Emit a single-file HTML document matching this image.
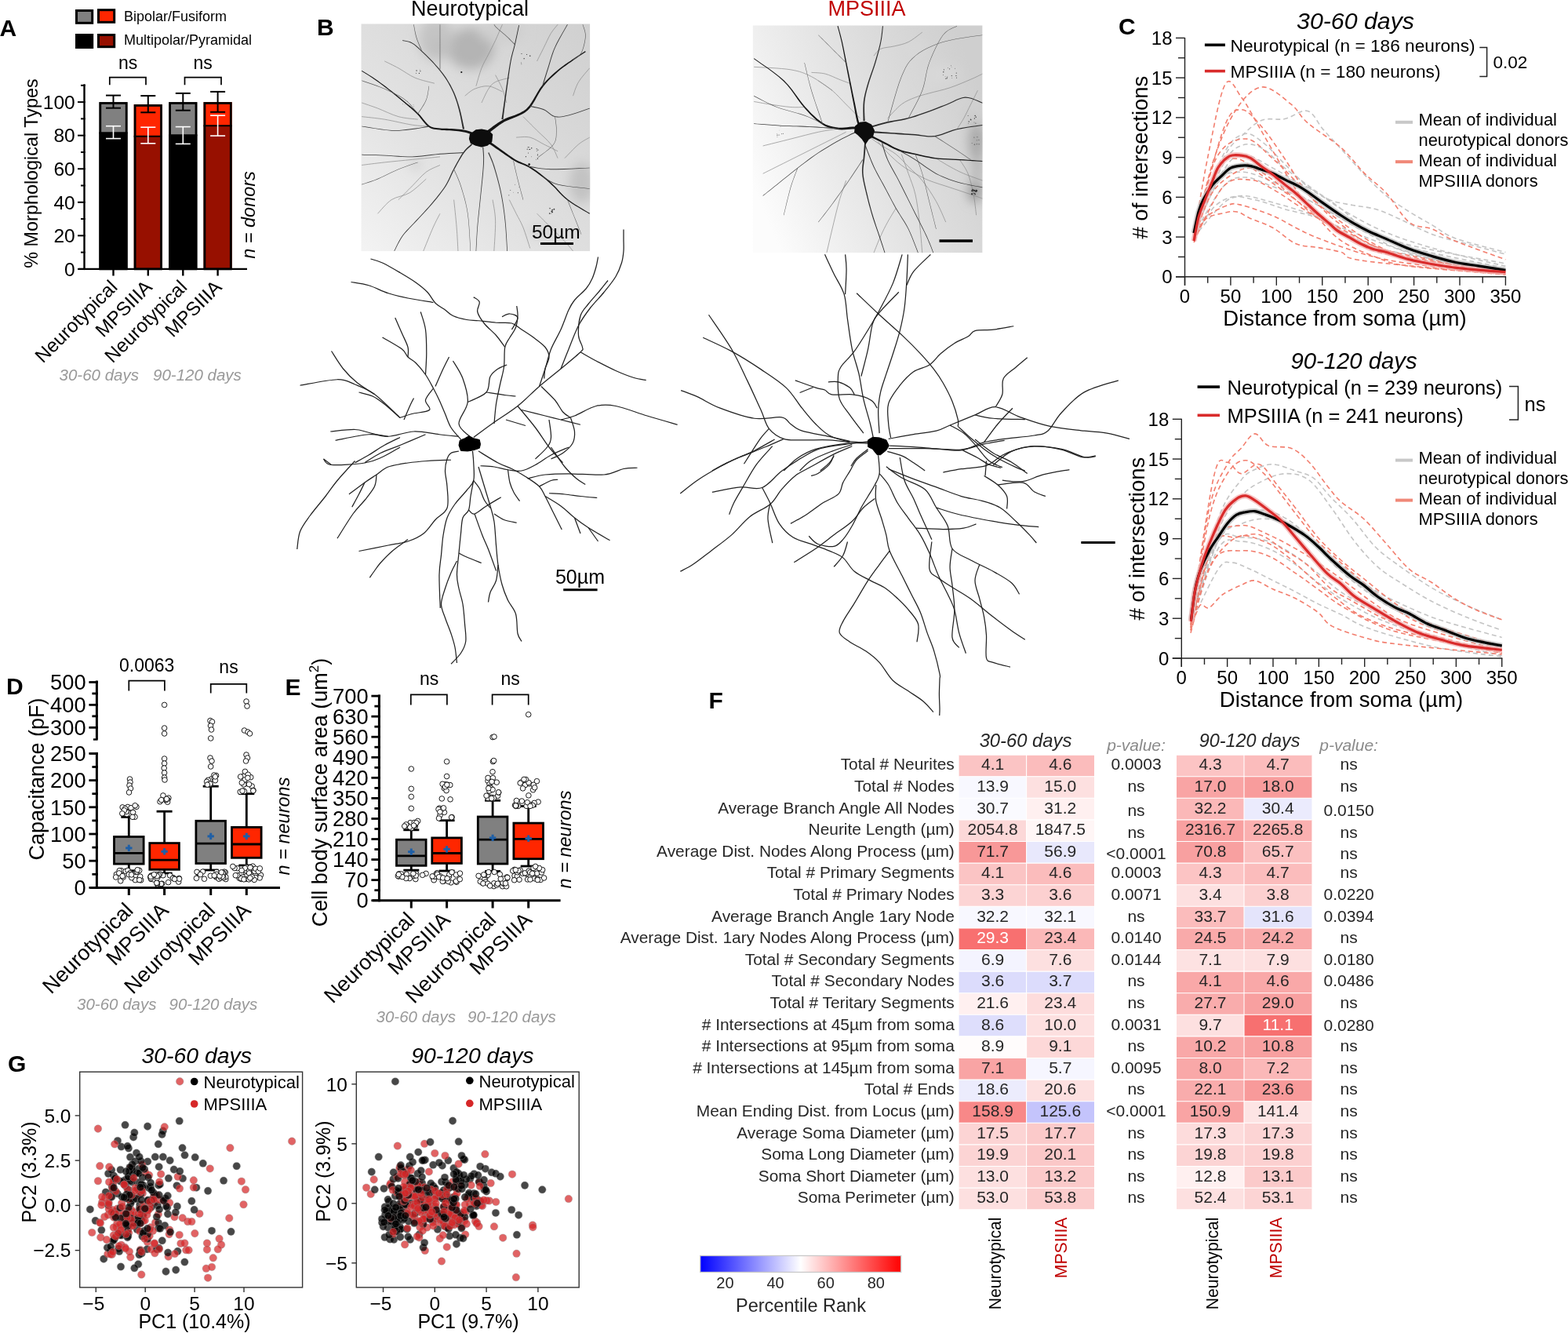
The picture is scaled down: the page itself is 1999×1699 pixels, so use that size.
<!DOCTYPE html>
<html><head><meta charset="utf-8"><title>Figure</title>
<style>html,body{margin:0;padding:0;background:#fff;} svg{display:block;} text{font-family:'Liberation Sans', Arial, Helvetica, sans-serif;}</style>
</head><body>
<svg width="1999" height="1699" viewBox="0 0 1999 1699">
<rect width="1999" height="1699" fill="#fff"/>
<text x="-0.5" y="46" font-size="30" font-weight="bold">A</text>
<rect x="97.5" y="13.5" width="20.2" height="15.8" fill="#808080" stroke="#000" stroke-width="3"/>
<rect x="125.5" y="12.7" width="20.2" height="15.6" fill="#ff2600" stroke="#000" stroke-width="3"/>
<rect x="97.5" y="44.5" width="20.2" height="16" fill="#000" stroke="#000" stroke-width="3"/>
<rect x="125.5" y="44.5" width="20.2" height="15.2" fill="#971000" stroke="#000" stroke-width="3"/>
<text x="158" y="26.8" font-size="18">Bipolar/Fusiform</text>
<text x="158" y="57.2" font-size="18">Multipolar/Pyramidal</text>
<rect x="126.4" y="130.1" width="36.2" height="39.16" fill="#808080"/>
<rect x="126.4" y="169.26" width="36.2" height="173.64" fill="#000"/>
<rect x="127.8" y="131.5" width="33.4" height="211.4" fill="none" stroke="#000" stroke-width="2.8"/>
<line x1="126.4" y1="169.26" x2="162.6" y2="169.26" stroke="#000" stroke-width="2"/>
<line x1="144.5" y1="121.6" x2="144.5" y2="137.7" stroke="#000" stroke-width="2"/>
<line x1="135" y1="121.6" x2="154" y2="121.6" stroke="#000" stroke-width="2"/>
<line x1="135" y1="137.7" x2="154" y2="137.7" stroke="#000" stroke-width="2"/>
<line x1="144.5" y1="160.7" x2="144.5" y2="176.6" stroke="#fff" stroke-width="1.6"/>
<line x1="135" y1="160.7" x2="154" y2="160.7" stroke="#fff" stroke-width="1.6"/>
<line x1="135" y1="176.6" x2="154" y2="176.6" stroke="#fff" stroke-width="1.6"/>
<line x1="144.5" y1="342.9" x2="144.5" y2="351.5" stroke="#000" stroke-width="2.4"/>
<rect x="170.7" y="133.08" width="36.2" height="40.64" fill="#ff2600"/>
<rect x="170.7" y="173.72" width="36.2" height="169.18" fill="#971000"/>
<rect x="172.1" y="134.48" width="33.4" height="208.42" fill="none" stroke="#000" stroke-width="2.8"/>
<line x1="170.7" y1="173.72" x2="206.9" y2="173.72" stroke="#000" stroke-width="2"/>
<line x1="188.8" y1="122.1" x2="188.8" y2="143.3" stroke="#000" stroke-width="2"/>
<line x1="179.3" y1="122.1" x2="198.3" y2="122.1" stroke="#000" stroke-width="2"/>
<line x1="179.3" y1="143.3" x2="198.3" y2="143.3" stroke="#000" stroke-width="2"/>
<line x1="188.8" y1="162.2" x2="188.8" y2="182.8" stroke="#fff" stroke-width="1.6"/>
<line x1="179.3" y1="162.2" x2="198.3" y2="162.2" stroke="#fff" stroke-width="1.6"/>
<line x1="179.3" y1="182.8" x2="198.3" y2="182.8" stroke="#fff" stroke-width="1.6"/>
<line x1="188.8" y1="342.9" x2="188.8" y2="351.5" stroke="#000" stroke-width="2.4"/>
<rect x="215.2" y="130.1" width="36.2" height="42.13" fill="#808080"/>
<rect x="215.2" y="172.23" width="36.2" height="170.67" fill="#000"/>
<rect x="216.6" y="131.5" width="33.4" height="211.4" fill="none" stroke="#000" stroke-width="2.8"/>
<line x1="215.2" y1="172.23" x2="251.4" y2="172.23" stroke="#000" stroke-width="2"/>
<line x1="233.3" y1="118.9" x2="233.3" y2="140.7" stroke="#000" stroke-width="2"/>
<line x1="223.8" y1="118.9" x2="242.8" y2="118.9" stroke="#000" stroke-width="2"/>
<line x1="223.8" y1="140.7" x2="242.8" y2="140.7" stroke="#000" stroke-width="2"/>
<line x1="233.3" y1="161.6" x2="233.3" y2="183.4" stroke="#fff" stroke-width="1.6"/>
<line x1="223.8" y1="161.6" x2="242.8" y2="161.6" stroke="#fff" stroke-width="1.6"/>
<line x1="223.8" y1="183.4" x2="242.8" y2="183.4" stroke="#fff" stroke-width="1.6"/>
<line x1="233.3" y1="342.9" x2="233.3" y2="351.5" stroke="#000" stroke-width="2.4"/>
<rect x="259.5" y="130.1" width="36.2" height="30.22" fill="#ff2600"/>
<rect x="259.5" y="160.32" width="36.2" height="182.58" fill="#971000"/>
<rect x="260.9" y="131.5" width="33.4" height="211.4" fill="none" stroke="#000" stroke-width="2.8"/>
<line x1="259.5" y1="160.32" x2="295.7" y2="160.32" stroke="#000" stroke-width="2"/>
<line x1="277.6" y1="116.9" x2="277.6" y2="142.8" stroke="#000" stroke-width="2"/>
<line x1="268.1" y1="116.9" x2="287.1" y2="116.9" stroke="#000" stroke-width="2"/>
<line x1="268.1" y1="142.8" x2="287.1" y2="142.8" stroke="#000" stroke-width="2"/>
<line x1="277.6" y1="147.2" x2="277.6" y2="173.1" stroke="#fff" stroke-width="1.6"/>
<line x1="268.1" y1="147.2" x2="287.1" y2="147.2" stroke="#fff" stroke-width="1.6"/>
<line x1="268.1" y1="173.1" x2="287.1" y2="173.1" stroke="#fff" stroke-width="1.6"/>
<line x1="277.6" y1="342.9" x2="277.6" y2="351.5" stroke="#000" stroke-width="2.4"/>
<line x1="107.5" y1="107.3" x2="107.5" y2="344.1" stroke="#000" stroke-width="2.4"/>
<line x1="100" y1="342.9" x2="315" y2="342.9" stroke="#000" stroke-width="2.4"/>
<line x1="99" y1="342.9" x2="108.7" y2="342.9" stroke="#000" stroke-width="2"/>
<text x="95.8" y="351.7" font-size="24.6" text-anchor="end">0</text>
<line x1="103" y1="321.62" x2="108.7" y2="321.62" stroke="#000" stroke-width="2"/>
<line x1="99" y1="300.34" x2="108.7" y2="300.34" stroke="#000" stroke-width="2"/>
<text x="95.8" y="309.14" font-size="24.6" text-anchor="end">20</text>
<line x1="103" y1="279.06" x2="108.7" y2="279.06" stroke="#000" stroke-width="2"/>
<line x1="99" y1="257.78" x2="108.7" y2="257.78" stroke="#000" stroke-width="2"/>
<text x="95.8" y="266.58" font-size="24.6" text-anchor="end">40</text>
<line x1="103" y1="236.5" x2="108.7" y2="236.5" stroke="#000" stroke-width="2"/>
<line x1="99" y1="215.22" x2="108.7" y2="215.22" stroke="#000" stroke-width="2"/>
<text x="95.8" y="224.02" font-size="24.6" text-anchor="end">60</text>
<line x1="103" y1="193.94" x2="108.7" y2="193.94" stroke="#000" stroke-width="2"/>
<line x1="99" y1="172.66" x2="108.7" y2="172.66" stroke="#000" stroke-width="2"/>
<text x="95.8" y="181.46" font-size="24.6" text-anchor="end">80</text>
<line x1="103" y1="151.38" x2="108.7" y2="151.38" stroke="#000" stroke-width="2"/>
<line x1="99" y1="130.1" x2="108.7" y2="130.1" stroke="#000" stroke-width="2"/>
<text x="95.8" y="138.9" font-size="24.6" text-anchor="end">100</text>
<line x1="103" y1="108.82" x2="108.7" y2="108.82" stroke="#000" stroke-width="2"/>
<polyline points="139.8,108.3 139.8,98.6 186,98.6 186,108.3" fill="none" stroke="#000" stroke-width="1.7"/>
<text x="163.1" y="88" font-size="23" text-anchor="middle">ns</text>
<polyline points="235.5,108.3 235.5,98.6 282,98.6 282,108.3" fill="none" stroke="#000" stroke-width="1.7"/>
<text x="258.6" y="88" font-size="23" text-anchor="middle">ns</text>
<text x="47.5" y="221" font-size="23.4" text-anchor="middle" transform="rotate(-90 47.5 221)">% Morphological Types</text>
<text x="324.8" y="274" font-size="23.5" text-anchor="middle" font-style="italic" transform="rotate(-90 324.8 274)">n = donors</text>
<text x="151" y="367.5" font-size="24.5" text-anchor="end" transform="rotate(-45 151 367.5)">Neurotypical</text>
<text x="195.3" y="367.5" font-size="24.5" text-anchor="end" transform="rotate(-45 195.3 367.5)">MPSIIIA</text>
<text x="239.8" y="367.5" font-size="24.5" text-anchor="end" transform="rotate(-45 239.8 367.5)">Neurotypical</text>
<text x="284.1" y="367.5" font-size="24.5" text-anchor="end" transform="rotate(-45 284.1 367.5)">MPSIIIA</text>
<text x="75.5" y="484.6" font-size="20.5" font-style="italic" fill="#999">30-60 days</text>
<text x="195" y="484.6" font-size="20.5" font-style="italic" fill="#999">90-120 days</text>
<text x="404" y="44.5" font-size="30" font-weight="bold">B</text>
<text x="599.1" y="20" font-size="27" text-anchor="middle">Neurotypical</text>
<text x="1105" y="19.5" font-size="27" text-anchor="middle" fill="#c00000">MPSIIIA</text>
<defs><clipPath id="ntc"><rect x="460.3" y="30.3" width="292" height="290"/></clipPath><linearGradient id="ntg" x1="0" y1="1" x2="1" y2="0"><stop offset="0" stop-color="#f3f3f3"/><stop offset="0.35" stop-color="#e3e3e3"/><stop offset="0.7" stop-color="#d8d8d8"/><stop offset="1" stop-color="#d0d0d0"/></linearGradient><filter id="ntb" x="-50%" y="-50%" width="200%" height="200%"><feGaussianBlur stdDeviation="7"/></filter><filter id="nts" x="-10%" y="-10%" width="120%" height="120%"><feGaussianBlur stdDeviation="0.45"/></filter></defs>
<g clip-path="url(#ntc)">
<rect x="460.3" y="30.3" width="292" height="290" fill="url(#ntg)"/>
<g filter="url(#ntb)">
<ellipse cx="600" cy="62" rx="30" ry="26" fill="#b4b4b4"/>
<ellipse cx="556" cy="50" rx="22" ry="28" fill="#c4c4c4"/>
<ellipse cx="640" cy="40" rx="30" ry="15" fill="#cfcfcf"/>
<ellipse cx="742" cy="233" rx="16" ry="26" fill="#c2c2c2"/>
<ellipse cx="530" cy="210" rx="6" ry="6" fill="#cacaca"/>
<ellipse cx="690" cy="295" rx="18" ry="8" fill="#d4d4d4"/>
<ellipse cx="560" cy="60" rx="12" ry="12" fill="#c0c0c0"/>
</g>
<g filter="url(#nts)">
<path d="M461.18,148.63 C466.04,149.22 479.58,150.4 490.32,152.16 C501.07,153.93 516.23,157.76 525.65,159.23 C535.07,160.7 543.31,160.7 546.84,160.99" fill="none" stroke="#8a8a8a" stroke-width="0.7"/>
<path d="M461.18,130.97 C464.57,132.15 473.69,135.09 481.49,138.03 C489.29,140.98 499.45,146.28 507.98,148.63 C516.52,150.99 528.59,151.57 532.71,152.16" fill="none" stroke="#8a8a8a" stroke-width="0.7"/>
<path d="M631.62,95.65 C633.09,98.59 638.09,107.42 640.45,113.31 C642.8,119.2 644.86,128.03 645.75,130.97" fill="none" stroke="#8a8a8a" stroke-width="0.7"/>
<path d="M666.94,148.63 C669.88,151.57 678.71,160.41 684.6,166.29 C690.49,172.18 697.85,178.07 702.26,183.95 C706.68,189.84 709.62,198.67 711.09,201.62" fill="none" stroke="#8a8a8a" stroke-width="0.7"/>
<path d="M613.95,130.97 C615.43,128.03 619.84,117.72 622.79,113.31 C625.73,108.89 627.2,106.83 631.62,104.48 C636.03,102.12 646.33,100.06 649.28,99.18" fill="none" stroke="#8a8a8a" stroke-width="0.7"/>
<path d="M507.98,254.6 C510.93,251.66 519.76,242.83 525.65,236.94 C531.53,231.05 537.42,223.69 543.31,219.28 C549.2,214.86 558.03,211.92 560.97,210.45" fill="none" stroke="#8a8a8a" stroke-width="0.7"/>
<path d="M649.28,254.6 C650.75,257.54 655.16,266.38 658.11,272.26 C661.05,278.15 664,282.57 666.94,289.92 C669.88,297.28 674.3,312 675.77,316.42" fill="none" stroke="#8a8a8a" stroke-width="0.7"/>
<path d="M719.92,201.62 C722.87,198.67 732.29,188.37 737.59,183.95 C742.88,179.54 749.36,176.6 751.71,175.12" fill="none" stroke="#8a8a8a" stroke-width="0.7"/>
<path d="M578.63,254.6 C579.22,260.49 581.28,279.03 582.16,289.92 C583.05,300.82 583.64,314.94 583.93,319.95" fill="none" stroke="#8a8a8a" stroke-width="0.7"/>
<path d="M606.89,109.78 C608.07,105.95 611.31,93.59 613.95,86.82 C616.6,80.05 619.84,75.04 622.79,69.15 C625.73,63.27 628.67,57.82 631.62,51.49 C634.56,45.16 638.98,34.57 640.45,31.18" fill="none" stroke="#8a8a8a" stroke-width="0.7"/>
<path d="M490.32,77.98 C493.27,79.46 501.51,83.28 507.98,86.82 C514.46,90.35 521.53,95.94 529.18,99.18 C536.83,102.42 549.78,105.07 553.9,106.24" fill="none" stroke="#8a8a8a" stroke-width="0.7"/>
<path d="M461.18,210.45 C466.04,209.86 479.58,208.09 490.32,206.91 C501.07,205.74 513.87,204.56 525.65,203.38 C537.42,202.2 555.08,200.44 560.97,199.85" fill="none" stroke="#8a8a8a" stroke-width="0.7"/>
<path d="M730.52,122.14 C731.7,119.2 734.05,110.36 737.59,104.48 C741.12,98.59 749.36,89.76 751.71,86.82" fill="none" stroke="#8a8a8a" stroke-width="0.7"/>
<path d="M684.6,77.98 C686.07,75.04 690.49,66.21 693.43,60.32 C696.38,54.44 699.32,47.52 702.26,42.66 C705.21,37.8 709.62,33.09 711.09,31.18" fill="none" stroke="#8a8a8a" stroke-width="0.7"/>
<path d="M560.97,272.26 C559.5,275.21 555.67,281.98 552.14,289.92 C548.61,297.87 541.84,314.94 539.78,319.95" fill="none" stroke="#8a8a8a" stroke-width="0.7"/>
<path d="M628.08,254.6 C628.67,259.02 631.32,270.2 631.62,281.09 C631.91,291.98 630.14,313.47 629.85,319.95" fill="none" stroke="#8a8a8a" stroke-width="0.7"/>
<path d="M684.6,272.26 C687.54,275.21 696.38,284.04 702.26,289.92 C708.15,295.81 715.21,302.58 719.92,307.59 C724.63,312.59 728.75,317.89 730.52,319.95" fill="none" stroke="#8a8a8a" stroke-width="0.7"/>
<path d="M481.49,272.26 C484.44,269.32 492.38,259.02 499.15,254.6 C505.92,250.19 514.76,250.19 522.11,245.77 C529.47,241.35 539.78,231.05 543.31,228.11" fill="none" stroke="#8a8a8a" stroke-width="0.7"/>
<path d="M592.76,122.14 C594.82,120.67 600.12,115.37 605.12,113.31 C610.13,111.25 616.9,109.19 622.79,109.78 C628.67,110.36 637.5,115.66 640.45,116.84" fill="none" stroke="#8a8a8a" stroke-width="0.7"/>
<path d="M658.11,175.12 C661.05,175.12 669.88,173.65 675.77,175.12 C681.66,176.6 687.54,181.01 693.43,183.95 C699.32,186.9 708.15,191.31 711.09,192.79" fill="none" stroke="#8a8a8a" stroke-width="0.7"/>
<polygon points="615.58,177.02 616.53,175.93 617.88,174.62 619.52,173.08 621.4,171.39 623.48,169.61 625.71,167.81 628.17,165.87 630.87,163.74 633.75,161.52 636.76,159.32 639.85,157.22 642.97,155.34 646.28,153.69 649.89,152.17 653.65,150.73 657.38,149.32 660.91,147.86 664.03,146.32 666.59,144.89 668.74,143.65 670.69,142.35 672.58,140.79 674.54,138.79 676.76,136.14 679.19,132.62 681.69,128.39 684.27,123.75 686.92,119 689.66,114.46 692.49,110.4 695.46,106.78 698.59,103.32 701.82,100.02 705.11,96.88 708.41,93.88 711.66,91.01 714.9,88.31 718.19,85.78 721.49,83.39 724.75,81.12 727.92,78.94 730.94,76.83 733.97,74.72 737.06,72.62 740.06,70.61 742.79,68.8 745.09,67.29 746.77,66.16 746.06,65.08 744.37,66.18 742.06,67.68 739.3,69.46 736.28,71.44 733.15,73.53 730.1,75.61 727.06,77.68 723.86,79.82 720.57,82.07 717.21,84.45 713.85,86.98 710.53,89.68 707.22,92.54 703.86,95.53 700.5,98.67 697.17,101.97 693.94,105.46 690.84,109.15 687.88,113.29 685.03,117.88 682.29,122.63 679.66,127.21 677.16,131.31 674.78,134.63 672.67,137.08 670.85,138.88 669.15,140.24 667.36,141.38 665.28,142.54 662.78,143.88 659.78,145.3 656.35,146.64 652.63,147.97 648.79,149.35 645.01,150.84 641.46,152.52 638.11,154.43 634.85,156.52 631.69,158.7 628.7,160.87 625.92,162.92 623.39,164.78 621.03,166.53 618.8,168.26 616.78,169.88 615,171.31 613.52,172.48 612.33,173.23" fill="#141414"/>
<polygon points="613.05,173.32 611.27,172.69 608.89,171.6 606.04,170.29 602.94,168.92 599.76,167.66 596.71,166.66 593.76,165.96 590.77,165.42 587.75,165.01 584.73,164.69 581.72,164.42 578.74,164.16 575.71,163.97 572.65,163.88 569.61,163.85 566.64,163.8 563.79,163.68 561.09,163.43 558.52,163.16 556.12,162.94 553.87,162.66 551.72,162.2 549.59,161.41 547.42,160.18 545.16,158.31 542.85,155.85 540.51,153.01 538.13,150.03 535.74,147.11 533.34,144.5 531,142.26 528.75,140.22 526.51,138.3 524.2,136.37 521.75,134.36 519.07,132.15 516.15,129.72 513.03,127.14 509.76,124.46 506.39,121.74 502.97,119.01 499.55,116.33 496.06,113.64 492.42,110.87 488.74,108.09 485.1,105.4 481.58,102.84 478.26,100.51 475,98.32 471.69,96.21 468.5,94.24 465.61,92.5 463.19,91.05 461.42,89.96 460.95,90.73 462.72,91.83 465.12,93.3 467.99,95.06 471.15,97.05 474.43,99.18 477.66,101.38 480.94,103.73 484.43,106.31 488.04,109.03 491.69,111.83 495.29,114.62 498.76,117.35 502.14,120.05 505.52,122.8 508.86,125.55 512.1,128.26 515.19,130.86 518.09,133.32 520.74,135.56 523.17,137.6 525.45,139.54 527.64,141.47 529.83,143.49 532.09,145.7 534.39,148.27 536.71,151.16 539.05,154.18 541.41,157.11 543.81,159.73 546.26,161.81 548.72,163.25 551.12,164.18 553.5,164.73 555.88,165.06 558.3,165.31 560.85,165.62 563.62,165.93 566.55,166.1 569.55,166.2 572.58,166.28 575.58,166.42 578.52,166.66 581.47,166.97 584.44,167.3 587.4,167.68 590.31,168.15 593.14,168.73 595.88,169.46 598.69,170.47 601.68,171.78 604.64,173.22 607.38,174.66 609.68,175.92 611.32,176.93" fill="#141414"/>
<polygon points="613.16,178.61 614.31,178.98 615.76,179.54 617.47,180.24 619.4,181.11 621.51,182.16 623.77,183.44 626.31,185.05 629.19,186.98 632.27,189.13 635.44,191.35 638.56,193.54 641.51,195.56 644.28,197.44 646.97,199.3 649.62,201.12 652.26,202.88 654.91,204.54 657.6,206.09 660.3,207.42 662.96,208.53 665.58,209.52 668.19,210.52 670.83,211.65 673.53,213.05 676.38,214.76 679.38,216.7 682.43,218.79 685.46,220.96 688.39,223.14 691.15,225.24 693.67,227.21 695.99,229.11 698.21,231.02 700.43,233 702.76,235.13 705.28,237.47 707.89,240.08 710.5,242.91 713.24,245.91 716.18,248.99 719.42,252.08 723.07,255.1 727.54,258.25 732.83,261.64 738.4,265.01 743.72,268.14 748.26,270.78 751.46,272.69 751.97,271.83 748.78,269.9 744.27,267.22 738.98,264.06 733.45,260.65 728.22,257.24 723.84,254.1 720.29,251.11 717.13,248.04 714.25,244.97 711.55,241.96 708.94,239.08 706.31,236.41 703.79,234.02 701.48,231.85 699.25,229.83 697.03,227.89 694.7,225.94 692.18,223.92 689.42,221.77 686.49,219.55 683.46,217.33 680.4,215.18 677.39,213.17 674.48,211.38 671.68,209.89 668.96,208.68 666.31,207.63 663.73,206.61 661.18,205.51 658.62,204.21 656.05,202.67 653.49,201.01 650.92,199.24 648.31,197.39 645.65,195.48 642.91,193.55 640.02,191.48 636.95,189.25 633.83,186.95 630.78,184.72 627.91,182.67 625.33,180.94 623,179.51 620.81,178.3 618.83,177.29 617.12,176.46 615.74,175.79 614.75,175.16" fill="#141414"/>
<polygon points="592.07,164.31 591.4,161.6 590.59,157.81 589.65,153.31 588.61,148.52 587.53,143.82 586.45,139.6 585.39,135.84 584.31,132.19 583.18,128.65 581.98,125.17 580.68,121.74 579.25,118.34 577.71,114.96 576.07,111.64 574.33,108.37 572.49,105.15 570.56,101.97 568.53,98.85 566.38,95.77 564.1,92.75 561.74,89.77 559.3,86.85 556.81,83.98 554.3,81.16 551.69,78.35 548.97,75.54 546.2,72.78 543.45,70.11 540.8,67.6 538.33,65.28 536.06,63.13 533.94,61.11 531.91,59.22 529.92,57.5 527.92,55.97 525.85,54.65 523.6,53.59 521.18,52.79 518.78,52.19 516.57,51.75 514.71,51.4 513.37,51.1 513.2,51.88 514.55,52.19 516.41,52.55 518.6,53 520.95,53.59 523.29,54.38 525.44,55.4 527.42,56.68 529.36,58.18 531.31,59.88 533.32,61.76 535.43,63.8 537.69,65.96 540.15,68.29 542.77,70.81 545.5,73.48 548.25,76.25 550.94,79.06 553.51,81.87 556,84.69 558.46,87.56 560.87,90.48 563.2,93.44 565.43,96.45 567.54,99.51 569.53,102.62 571.42,105.77 573.22,108.97 574.92,112.23 576.51,115.53 578.01,118.87 579.39,122.25 580.65,125.65 581.81,129.1 582.89,132.62 583.93,136.25 584.94,140 585.96,144.19 586.97,148.87 587.93,153.66 588.78,158.17 589.48,161.99 589.92,164.75" fill="#2c2c2c"/>
<polygon points="641.54,152.31 641.96,148.02 642.68,142.08 643.57,135.05 644.53,127.54 645.51,120.13 646.42,113.4 647.27,107.14 648.13,100.84 648.99,94.63 649.85,88.67 650.71,83.1 651.57,78.08 652.44,73.79 653.31,70.13 654.18,66.86 655.05,63.73 655.92,60.48 656.8,56.9 657.73,52.69 658.74,47.99 659.74,43.19 660.68,38.69 661.46,34.88 662.03,32.15 661.25,31.98 660.67,34.71 659.86,38.52 658.9,43.01 657.87,47.8 656.84,52.49 655.89,56.68 654.99,60.24 654.1,63.46 653.21,66.59 652.31,69.88 651.42,73.56 650.52,77.88 649.61,82.92 648.71,88.49 647.8,94.46 646.89,100.66 645.98,106.96 645.07,113.21 644.09,119.93 643.03,127.33 641.96,134.84 640.96,141.84 640.09,147.77 639.36,152.02" fill="#2c2c2c"/>
<polygon points="692.29,109.97 692.99,107.49 693.98,104.12 695.18,100.11 696.5,95.74 697.87,91.27 699.22,86.97 700.49,82.78 701.75,78.48 703.05,74.1 704.47,69.63 706.09,65.1 707.97,60.51 710.38,55.48 713.3,49.93 716.43,44.3 719.43,39.04 722,34.58 723.8,31.38 723.11,30.98 721.29,34.18 718.72,38.63 715.69,43.89 712.55,49.52 709.59,55.08 707.15,60.14 705.23,64.77 703.59,69.33 702.14,73.81 700.81,78.21 699.54,82.49 698.24,86.66 696.87,90.96 695.47,95.42 694.12,99.79 692.88,103.79 691.84,107.14 691.04,109.59" fill="#3c3c3c"/>
<polygon points="675.64,135.97 677.62,136.36 680.37,136.9 683.6,137.56 687.03,138.34 690.34,139.24 693.23,140.26 695.69,141.56 697.98,143.19 700.2,144.98 702.45,146.7 704.84,148.14 707.45,149.08 710.16,149.49 712.87,149.54 715.68,149.3 718.63,148.81 721.82,148.12 725.33,147.29 729.56,146.11 734.51,144.52 739.71,142.73 744.66,140.97 748.87,139.46 751.85,138.41 751.58,137.66 748.6,138.7 744.38,140.2 739.44,141.95 734.25,143.72 729.31,145.29 725.11,146.44 721.63,147.26 718.47,147.93 715.56,148.41 712.84,148.64 710.24,148.58 707.67,148.18 705.24,147.3 702.99,145.92 700.79,144.23 698.57,142.42 696.21,140.72 693.63,139.34 690.64,138.27 687.28,137.34 683.83,136.52 680.59,135.83 677.85,135.26 675.9,134.8" fill="#3c3c3c"/>
<polygon points="600.99,183.29 599.91,184.36 598.38,185.7 596.54,187.35 594.51,189.31 592.43,191.57 590.42,194.13 588.43,197.09 586.36,200.48 584.24,204.16 582.12,207.98 580.06,211.79 578.09,215.46 576.3,218.99 574.69,222.5 573.14,225.99 571.51,229.49 569.7,233.03 567.57,236.65 565.08,240.38 562.32,244.21 559.35,248.1 556.26,252 553.12,255.84 550.01,259.59 546.86,263.24 543.62,266.85 540.33,270.41 537.03,273.92 533.78,277.39 530.63,280.8 527.51,284.14 524.37,287.41 521.27,290.64 518.29,293.84 515.5,297.05 512.97,300.3 510.66,303.79 508.51,307.54 506.56,311.28 504.85,314.75 503.44,317.68 502.37,319.79 503,320.11 504.07,317.99 505.49,315.07 507.21,311.61 509.16,307.89 511.31,304.18 513.59,300.75 516.1,297.55 518.88,294.38 521.86,291.2 524.96,287.99 528.12,284.72 531.26,281.38 534.42,277.98 537.68,274.53 540.99,271.03 544.3,267.47 547.57,263.87 550.74,260.21 553.88,256.47 557.04,252.63 560.16,248.74 563.16,244.84 565.96,240.99 568.5,237.23 570.68,233.58 572.53,229.99 574.19,226.47 575.77,222.99 577.39,219.52 579.17,216.03 581.16,212.39 583.25,208.6 585.39,204.81 587.52,201.18 589.6,197.85 591.57,194.97 593.54,192.53 595.59,190.37 597.59,188.5 599.44,186.92 601.01,185.61 602.2,184.62" fill="#2c2c2c"/>
<polygon points="590.96,193.9 587.76,194.13 583.38,194.38 578.16,194.67 572.45,195.01 566.59,195.39 560.93,195.82 555.34,196.39 549.53,197.09 543.58,197.85 537.57,198.55 531.56,199.11 525.64,199.42 519.7,199.43 513.66,199.21 507.63,198.84 501.67,198.41 495.88,198 490.34,197.7 484.78,197.5 479.08,197.32 473.55,197.17 468.52,197.04 464.29,196.93 461.19,196.85 461.17,197.55 464.27,197.64 468.5,197.75 473.53,197.89 479.06,198.06 484.76,198.25 490.31,198.47 495.83,198.78 501.61,199.2 507.57,199.65 513.62,200.03 519.68,200.27 525.66,200.28 531.63,199.99 537.66,199.45 543.69,198.76 549.64,198.03 555.44,197.34 561.01,196.81 566.66,196.41 572.51,196.06 578.22,195.76 583.44,195.51 587.82,195.32 591.03,195.2" fill="#3c3c3c"/>
<polygon points="546.74,160.45 544.5,160.91 541.45,161.51 537.82,162.2 533.82,162.91 529.67,163.58 525.59,164.11 521.62,164.6 517.59,165.11 513.41,165.58 509.01,165.92 504.3,166.06 499.18,165.94 493.09,165.41 485.99,164.52 478.56,163.43 471.5,162.32 465.49,161.35 461.23,160.7 461.14,161.29 465.4,161.95 471.4,162.94 478.46,164.07 485.89,165.19 493.01,166.1 499.13,166.65 504.3,166.8 509.05,166.67 513.48,166.35 517.68,165.9 521.72,165.41 525.7,164.94 529.79,164.42 533.96,163.79 537.98,163.1 541.63,162.45 544.69,161.89 546.94,161.54" fill="#3c3c3c"/>
<polygon points="615.12,187.53 615.28,189.03 615.48,191.07 615.69,193.49 615.9,196.15 616.05,198.91 616.11,201.62 616.11,204.14 616.06,206.57 615.97,209.1 615.82,211.92 615.59,215.24 615.28,219.24 614.86,224.1 614.32,229.7 613.71,235.79 613.07,242.13 612.42,248.47 611.81,254.56 611.21,260.51 610.59,266.53 609.96,272.56 609.36,278.51 608.8,284.31 608.32,289.9 607.91,295.56 607.55,301.42 607.24,307.13 606.97,312.35 606.76,316.73 606.59,319.93 607.19,319.96 607.36,316.76 607.59,312.38 607.87,307.16 608.19,301.46 608.56,295.6 608.99,289.95 609.48,284.37 610.05,278.58 610.66,272.63 611.31,266.61 611.95,260.59 612.57,254.64 613.19,248.55 613.86,242.21 614.53,235.88 615.16,229.79 615.72,224.18 616.16,219.32 616.49,215.31 616.74,211.98 616.9,209.14 617.01,206.6 617.07,204.16 617.09,201.61 617.05,198.88 616.92,196.09 616.74,193.41 616.55,190.97 616.4,188.94 616.32,187.44" fill="#3c3c3c"/>
<polygon points="622.14,194.83 622.94,196.55 623.98,198.8 625.21,201.52 626.56,204.71 627.95,208.34 629.32,212.38 630.75,217.02 632.29,222.3 633.89,228.02 635.46,233.98 636.93,240 638.23,245.86 639.35,251.6 640.37,257.35 641.29,263.16 642.12,269.05 642.88,275.03 643.58,281.13 644.21,287.85 644.78,295.25 645.26,302.75 645.68,309.76 646.02,315.7 646.28,319.97 646.98,319.93 646.73,315.66 646.4,309.72 646.01,302.71 645.54,295.2 645,287.78 644.38,281.05 643.7,274.93 642.96,268.94 642.14,263.04 641.24,257.21 640.24,251.43 639.13,245.68 637.86,239.78 636.41,233.75 634.86,227.76 633.29,222.01 631.77,216.71 630.38,212.05 629.02,207.95 627.65,204.28 626.32,201.05 625.12,198.29 624.13,196.03 623.43,194.27" fill="#3c3c3c"/>
<polygon points="673.92,212.76 676.75,213.16 680.46,213.8 684.97,214.55 690.17,215.28 695.97,215.86 702.25,216.17 709.86,216.15 719.02,215.88 728.77,215.46 738.13,215 746.11,214.59 751.73,214.33 751.7,213.63 746.07,213.88 738.09,214.27 728.74,214.7 718.99,215.09 709.84,215.33 702.27,215.32 696.03,214.99 690.28,214.38 685.11,213.63 680.63,212.85 676.92,212.16 674.09,211.67" fill="#3c3c3c"/>
<polygon points="691.39,225 693.27,226.16 695.67,227.88 698.61,229.9 702.14,232 706.26,233.95 711,235.54 717.05,236.78 724.52,237.87 732.58,238.81 740.37,239.61 747.02,240.26 751.68,240.77 751.75,240.17 747.08,239.65 740.43,238.98 732.65,238.16 724.61,237.19 717.17,236.07 711.19,234.81 706.55,233.23 702.52,231.29 699.07,229.19 696.17,227.16 693.79,225.42 691.94,224.16" fill="#3c3c3c"/>
<polygon points="561.37,88.58 561.34,85.52 561.33,81.29 561.32,76.27 561.31,70.85 561.3,65.41 561.3,60.32 561.29,55.18 561.29,49.6 561.28,43.99 561.28,38.77 561.27,34.36 561.27,31.18 560.67,31.18 560.67,34.36 560.66,38.77 560.66,43.99 560.65,49.6 560.65,55.18 560.64,60.32 560.64,65.41 560.63,70.85 560.62,76.27 560.61,81.29 560.6,85.52 560.57,88.58" fill="#5a5a5a"/>
<polygon points="538.38,65.47 537.54,63.54 536.38,60.87 535.02,57.71 533.61,54.31 532.31,50.94 531.26,47.86 530.42,44.84 529.68,41.61 529.04,38.41 528.5,35.44 528.05,32.94 527.71,31.13 527.12,31.24 527.46,33.05 527.9,35.55 528.43,38.52 529.07,41.75 529.8,45 530.63,48.06 531.69,51.17 532.98,54.56 534.38,57.97 535.72,61.15 536.86,63.84 537.64,65.78" fill="#5a5a5a"/>
<polygon points="656.66,56.48 655.51,55.35 653.94,53.77 652.09,51.89 650.06,49.86 647.99,47.82 645.98,45.94 643.91,44.1 641.64,42.18 639.33,40.26 637.12,38.43 635.16,36.77 633.6,35.37 632.47,34.24 631.66,33.31 631.09,32.55 630.69,31.94 630.39,31.43 630.1,31.01 629.6,31.35 629.88,31.75 630.18,32.26 630.59,32.9 631.18,33.7 632.02,34.66 633.17,35.82 634.75,37.24 636.71,38.92 638.91,40.76 641.21,42.69 643.46,44.61 645.51,46.45 647.49,48.34 649.54,50.38 651.54,52.42 653.38,54.32 654.91,55.93 656.02,57.11" fill="#5a5a5a"/>
<polygon points="578.31,215.89 579.29,218.03 580.63,220.85 582.21,224.26 583.9,228.16 585.6,232.45 587.18,237.03 588.71,241.95 590.32,247.29 591.93,253.02 593.47,259.11 594.86,265.55 596.02,272.3 596.96,280.07 597.73,289.03 598.35,298.33 598.85,307.14 599.25,314.63 599.58,319.96 600.07,319.93 599.75,314.6 599.36,307.11 598.87,298.3 598.26,288.99 597.5,280.02 596.56,272.22 595.4,265.44 594.02,258.99 592.49,252.87 590.88,247.13 589.28,241.78 587.75,236.85 586.17,232.24 584.48,227.92 582.78,224.01 581.21,220.58 579.89,217.75 578.95,215.6" fill="#5a5a5a"/>
<polygon points="461.07,103.04 464.27,104.14 468.73,105.64 473.99,107.44 479.61,109.43 485.16,111.51 490.2,113.6 494.88,115.7 499.61,117.91 504.25,120.21 508.71,122.6 512.88,125.1 516.63,127.68 520.05,130.6 523.26,133.92 526.19,137.34 528.74,140.58 530.87,143.32 532.48,145.29 532.94,144.91 531.34,142.95 529.22,140.2 526.65,136.96 523.71,133.51 520.47,130.16 517,127.19 513.21,124.58 509.02,122.07 504.54,119.65 499.88,117.34 495.15,115.13 490.45,113.02 485.4,110.92 479.84,108.82 474.2,106.82 468.94,105.01 464.49,103.5 461.3,102.38" fill="#5a5a5a"/>
<polygon points="533.01,145.29 534.21,143.35 535.98,140.69 538.04,137.53 540.15,134.13 542.08,130.71 543.56,127.54 544.61,124.36 545.4,120.95 545.99,117.54 546.44,114.39 546.79,111.73 547.09,109.81 546.59,109.74 546.29,111.66 545.93,114.32 545.48,117.46 544.88,120.84 544.09,124.22 543.05,127.34 541.58,130.46 539.66,133.83 537.54,137.21 535.46,140.35 533.68,143 532.42,144.91" fill="#5a5a5a"/>
<polygon points="707.26,148.67 707.53,150.59 707.93,153.25 708.39,156.39 708.79,159.78 709.04,163.16 709.06,166.29 708.98,169.23 708.93,172.17 708.73,175.09 708.22,178 707.23,180.9 705.58,183.8 702.86,186.92 699.09,190.3 694.82,193.69 690.6,196.83 686.96,199.49 684.45,201.42 684.75,201.81 687.26,199.9 690.9,197.24 695.13,194.09 699.42,190.69 703.22,187.29 706.01,184.11 707.71,181.12 708.73,178.13 709.26,175.16 709.46,172.19 709.52,169.24 709.6,166.3 709.59,163.13 709.34,159.72 708.94,156.32 708.5,153.17 708.1,150.51 707.86,148.59" fill="#5a5a5a"/>
<polygon points="654.28,205.21 654.85,207.67 655.61,211.03 656.51,215.03 657.52,219.4 658.57,223.87 659.62,228.17 660.78,232.69 662.11,237.73 663.49,242.86 664.8,247.67 665.91,251.74 666.7,254.67 667.18,254.54 666.39,251.61 665.29,247.54 663.99,242.72 662.61,237.59 661.28,232.56 660.13,228.04 659.09,223.75 658.05,219.28 657.05,214.91 656.16,210.91 655.41,207.54 654.87,205.08" fill="#5a5a5a"/>
<polygon points="461.29,235.51 463.42,234.78 466.32,233.84 469.78,232.71 473.61,231.41 477.62,229.95 481.61,228.38 485.69,226.58 490.05,224.5 494.58,222.29 499.17,220.05 503.71,217.91 508.09,215.99 512.59,214.21 517.36,212.46 522.09,210.8 526.45,209.31 530.12,208.07 532.79,207.15 532.63,206.68 529.96,207.6 526.28,208.83 521.92,210.31 517.19,211.97 512.4,213.72 507.88,215.5 503.49,217.42 498.94,219.55 494.34,221.79 489.81,223.99 485.45,226.05 481.38,227.84 477.41,229.39 473.41,230.83 469.58,232.12 466.12,233.23 463.22,234.15 461.07,234.84" fill="#5a5a5a"/>
<polygon points="730.74,76.55 731.94,75.72 733.66,74.7 735.69,73.43 737.82,71.84 739.8,69.9 741.42,67.55 742.73,64.62 743.92,61.11 744.97,57.26 745.82,53.32 746.42,49.55 746.73,46.2 746.61,43.13 746.06,40.11 745.27,37.27 744.41,34.74 743.66,32.65 743.17,31.09 742.6,31.27 743.09,32.84 743.84,34.94 744.69,37.45 745.46,40.24 745.99,43.19 746.1,46.18 745.79,49.47 745.18,53.2 744.33,57.1 743.28,60.91 742.09,64.38 740.82,67.22 739.27,69.45 737.35,71.3 735.28,72.83 733.27,74.07 731.53,75.08 730.3,75.89" fill="#5a5a5a"/>
<polygon points="723.18,254.71 723.92,256.53 724.89,258.96 726.07,261.88 727.39,265.17 728.81,268.7 730.27,272.36 731.96,276.57 733.94,281.52 736.02,286.71 738,291.65 739.69,295.86 740.89,298.85 741.35,298.66 740.16,295.68 738.48,291.47 736.5,286.52 734.43,281.32 732.45,276.38 730.77,272.16 729.31,268.5 727.9,264.97 726.58,261.67 725.42,258.75 724.45,256.31 723.73,254.49" fill="#5a5a5a"/>
<polygon points="599.83,171.59 606.89,166.29 613.95,165.41 622.79,167.18 627.2,171.59 626.32,180.42 621.02,184.84 613.95,186.6 606.89,184.84 600.71,182.19 598.94,176.89" fill="#080808" stroke="#080808" stroke-width="2" stroke-linejoin="round"/>
<circle cx="664.84" cy="81.87" r="0.47" fill="#222"/>
<circle cx="671.6" cy="69.47" r="0.52" fill="#222"/>
<circle cx="675.76" cy="71.23" r="0.69" fill="#222"/>
<circle cx="668.13" cy="74.67" r="0.63" fill="#222"/>
<circle cx="664.36" cy="80.01" r="0.46" fill="#222"/>
<circle cx="664.95" cy="68.55" r="0.53" fill="#222"/>
<circle cx="588.28" cy="92.04" r="1.08" fill="#111"/>
<circle cx="531.07" cy="89.98" r="0.72" fill="#444"/>
<circle cx="530.62" cy="93.18" r="0.5" fill="#444"/>
<circle cx="535.9" cy="90.69" r="0.61" fill="#444"/>
<circle cx="534.46" cy="93.44" r="0.68" fill="#444"/>
<circle cx="535.2" cy="88.95" r="0.38" fill="#444"/>
<circle cx="685.41" cy="196.12" r="0.43" fill="#333"/>
<circle cx="685.41" cy="197.71" r="0.62" fill="#333"/>
<circle cx="684.26" cy="192.53" r="0.49" fill="#333"/>
<circle cx="684.21" cy="189.87" r="0.64" fill="#333"/>
<circle cx="670.43" cy="199.68" r="0.61" fill="#333"/>
<circle cx="685.48" cy="202.38" r="0.54" fill="#333"/>
<circle cx="672.2" cy="190.14" r="0.55" fill="#333"/>
<circle cx="677.71" cy="188.75" r="0.69" fill="#333"/>
<circle cx="677.67" cy="199.87" r="0.44" fill="#333"/>
<circle cx="673.01" cy="187.7" r="0.48" fill="#333"/>
<circle cx="673.42" cy="194.96" r="0.5" fill="#333"/>
<circle cx="683.44" cy="203.23" r="0.42" fill="#333"/>
<circle cx="675.7" cy="190.42" r="0.6" fill="#333"/>
<circle cx="685.92" cy="191.05" r="0.64" fill="#333"/>
<circle cx="674" cy="187.72" r="0.64" fill="#333"/>
<circle cx="674.74" cy="190.49" r="0.52" fill="#333"/>
<circle cx="674.51" cy="209.44" r="1.21" fill="#222"/>
<circle cx="674.77" cy="209.69" r="1.08" fill="#222"/>
<circle cx="701.17" cy="265.8" r="0.53" fill="#333"/>
<circle cx="704.18" cy="267.74" r="0.87" fill="#333"/>
<circle cx="704.06" cy="270.2" r="0.95" fill="#333"/>
<circle cx="700.94" cy="265.32" r="0.55" fill="#333"/>
<circle cx="703.23" cy="269.25" r="0.84" fill="#333"/>
<circle cx="702.98" cy="272.01" r="0.48" fill="#333"/>
<circle cx="706.4" cy="266.68" r="0.9" fill="#333"/>
<circle cx="700.73" cy="272.02" r="0.84" fill="#333"/>
<circle cx="527.28" cy="135.63" r="0.35" fill="#555"/>
<circle cx="526.99" cy="133.68" r="0.33" fill="#555"/>
<circle cx="521.84" cy="134.46" r="0.44" fill="#555"/>
<circle cx="515.47" cy="129.16" r="0.47" fill="#555"/>
<circle cx="519.68" cy="129.22" r="0.43" fill="#555"/>
<circle cx="523.53" cy="137.55" r="0.44" fill="#555"/>
<circle cx="518.85" cy="132.54" r="0.37" fill="#555"/>
<circle cx="516.07" cy="133.74" r="0.33" fill="#555"/>
<circle cx="523.53" cy="137.45" r="0.48" fill="#555"/>
<circle cx="513.6" cy="132.58" r="0.43" fill="#555"/>
<circle cx="648.83" cy="248.85" r="0.53" fill="#555"/>
<circle cx="654.61" cy="245.14" r="0.36" fill="#555"/>
<circle cx="650.75" cy="242.6" r="0.52" fill="#555"/>
<circle cx="656.66" cy="235.27" r="0.48" fill="#555"/>
<circle cx="660.35" cy="245.68" r="0.58" fill="#555"/>
<circle cx="661.38" cy="238.33" r="0.39" fill="#555"/>
</g></g>
<defs><clipPath id="mpc"><rect x="959.6" y="32.3" width="293" height="290"/></clipPath><linearGradient id="mpg" x1="0" y1="0.7" x2="1" y2="0.3"><stop offset="0" stop-color="#fcfcfc"/><stop offset="0.3" stop-color="#ececec"/><stop offset="0.65" stop-color="#dcdcdc"/><stop offset="1" stop-color="#cfcfcf"/></linearGradient><filter id="mpb" x="-50%" y="-50%" width="200%" height="200%"><feGaussianBlur stdDeviation="7"/></filter><filter id="mps" x="-10%" y="-10%" width="120%" height="120%"><feGaussianBlur stdDeviation="0.45"/></filter></defs>
<g clip-path="url(#mpc)">
<rect x="959.6" y="32.3" width="293" height="290" fill="url(#mpg)"/>
<g filter="url(#mpb)">
<ellipse cx="1245" cy="180" rx="10" ry="26" fill="#a8a8a8"/>
<ellipse cx="1243" cy="244" rx="9" ry="14" fill="#989898"/>
<ellipse cx="1246" cy="215" rx="7" ry="14" fill="#b4b4b4"/>
<ellipse cx="1200" cy="95" rx="22" ry="12" fill="#d8d8d8"/>
<ellipse cx="1240" cy="150" rx="12" ry="10" fill="#cccccc"/>
<ellipse cx="1165" cy="62" rx="14" ry="10" fill="#d8d8d8"/>
</g>
<g filter="url(#mps)">
<path d="M1119.25,180.66 C1121.31,183.01 1126.61,189.78 1131.62,194.79 C1136.62,199.79 1143.39,206.27 1149.28,210.68 C1155.16,215.1 1161.05,218.04 1166.94,221.28 C1172.83,224.52 1177.24,227.16 1184.6,230.11 C1191.96,233.05 1202.26,236 1211.09,238.94 C1219.92,241.88 1230.67,245.42 1237.59,247.77 C1244.5,250.12 1250.1,252.19 1252.6,253.07" fill="none" stroke="#8a8a8a" stroke-width="0.7"/>
<path d="M1106.89,173.59 C1109.83,175.65 1118.66,182.13 1124.55,185.95 C1130.44,189.78 1136.62,192.14 1142.21,196.55 C1147.81,200.97 1152.52,206.85 1158.11,212.45 C1163.7,218.04 1169.88,222.75 1175.77,230.11 C1181.66,237.47 1188.43,247.77 1193.43,256.6 C1198.44,265.43 1203.73,278.68 1205.79,283.09" fill="none" stroke="#8a8a8a" stroke-width="0.7"/>
<path d="M1069.8,163.88 C1065.39,164.61 1053.61,166.09 1043.31,168.29 C1033.01,170.5 1019.76,174.18 1007.98,177.12 C996.21,180.07 978.55,184.48 972.66,185.95" fill="none" stroke="#8a8a8a" stroke-width="0.7"/>
<path d="M1078.63,168.29 C1072.74,171.24 1055.08,180.07 1043.31,185.95 C1031.53,191.84 1019.76,197.73 1007.98,203.62 C996.21,209.5 978.55,218.33 972.66,221.28" fill="none" stroke="#8a8a8a" stroke-width="0.7"/>
<path d="M1060.97,115.31 C1056.55,112.36 1043.31,102.06 1034.48,97.65 C1025.65,93.23 1020.2,90.88 1007.98,88.82 C995.77,86.76 968.98,85.87 961.18,85.28" fill="none" stroke="#8a8a8a" stroke-width="0.7"/>
<path d="M1096.29,150.63 C1093.35,147.69 1084.52,138.86 1078.63,132.97 C1072.74,127.08 1066.86,120.31 1060.97,115.31 C1055.08,110.3 1046.25,105.01 1043.31,102.94" fill="none" stroke="#8a8a8a" stroke-width="0.7"/>
<path d="M1131.62,150.63 C1134.56,147.69 1143.39,137.39 1149.28,132.97 C1155.16,128.55 1161.05,126.49 1166.94,124.14 C1172.83,121.78 1177.24,120.9 1184.6,118.84 C1191.96,116.78 1202.26,114.72 1211.09,111.78 C1219.92,108.83 1230.67,104.12 1237.59,101.18 C1244.5,98.24 1250.1,95.29 1252.6,94.11" fill="none" stroke="#8a8a8a" stroke-width="0.7"/>
<path d="M1149.28,196.55 C1150.75,200.67 1155.16,212.74 1158.11,221.28 C1161.05,229.81 1164.58,237.47 1166.94,247.77 C1169.29,258.07 1170.77,270.67 1172.24,283.09 C1173.71,295.52 1175.18,315.77 1175.77,322.3" fill="none" stroke="#8a8a8a" stroke-width="0.7"/>
<path d="M1078.63,230.11 C1077.16,234.52 1072.74,246.3 1069.8,256.6 C1066.86,266.9 1063.62,280.97 1060.97,291.92 C1058.32,302.87 1055.08,317.24 1053.9,322.3" fill="none" stroke="#8a8a8a" stroke-width="0.7"/>
<path d="M1219.92,164.76 C1221.4,162.41 1225.81,155.93 1228.75,150.63 C1231.7,145.33 1234.64,138.86 1237.59,132.97 C1240.53,127.08 1244.94,118.25 1246.42,115.31" fill="none" stroke="#8a8a8a" stroke-width="0.7"/>
<path d="M1113.95,71.15 C1115.43,69.68 1118.37,64.38 1122.79,62.32 C1127.2,60.26 1134.56,60.26 1140.45,58.79 C1146.33,57.32 1152.22,56.44 1158.11,53.49 C1164,50.55 1172.83,43.19 1175.77,41.13" fill="none" stroke="#8a8a8a" stroke-width="0.7"/>
<path d="M1025.65,136.5 C1022.7,136.5 1015.34,137.09 1007.98,136.5 C1000.63,135.91 989.29,134.15 981.49,132.97 C973.69,131.79 964.57,130.03 961.18,129.44" fill="none" stroke="#8a8a8a" stroke-width="0.7"/>
<path d="M1193.43,201.85 C1196.38,203.62 1205.21,209.21 1211.09,212.45 C1216.98,215.68 1221.84,218.33 1228.75,221.28 C1235.67,224.22 1248.62,228.64 1252.6,230.11" fill="none" stroke="#8a8a8a" stroke-width="0.7"/>
<path d="M1223.46,203.62 C1225.22,206.56 1231.11,213.92 1234.05,221.28 C1237,228.64 1239.35,238.94 1241.12,247.77 C1242.88,256.6 1244.06,269.85 1244.65,274.26" fill="none" stroke="#8a8a8a" stroke-width="0.7"/>
<path d="M1083.93,106.48 C1081.57,105.59 1075.1,103.24 1069.8,101.18 C1064.5,99.12 1058.03,95.59 1052.14,94.11 C1046.25,92.64 1037.42,92.64 1034.48,92.35" fill="none" stroke="#8a8a8a" stroke-width="0.7"/>
<path d="M1142.21,265.43 C1140.45,268.38 1134.85,277.21 1131.62,283.09 C1128.38,288.98 1125.73,294.22 1122.79,300.75 C1119.84,307.29 1115.43,318.71 1113.95,322.3" fill="none" stroke="#8a8a8a" stroke-width="0.7"/>
<polygon points="1102.84,167.3 1101.92,166.35 1100.75,165.14 1099.45,163.7 1098.11,161.95 1096.82,159.84 1095.68,157.28 1094.68,154.11 1093.74,150.32 1092.84,146.12 1091.97,141.67 1091.09,137.16 1090.2,132.78 1089.28,128.47 1088.37,124.09 1087.46,119.66 1086.55,115.2 1085.64,110.75 1084.73,106.32 1083.83,101.91 1082.92,97.49 1082.02,93.08 1081.11,88.67 1080.21,84.26 1079.31,79.85 1078.4,75.37 1077.5,70.8 1076.6,66.23 1075.7,61.75 1074.8,57.43 1073.9,53.36 1072.93,49.38 1071.9,45.37 1070.87,41.54 1069.91,38.08 1069.1,35.19 1068.52,33.05 1067.55,33.31 1068.12,35.45 1068.91,38.36 1069.84,41.82 1070.84,45.65 1071.84,49.65 1072.77,53.62 1073.63,57.67 1074.5,61.99 1075.36,66.47 1076.23,71.05 1077.09,75.63 1077.96,80.12 1078.82,84.54 1079.68,88.96 1080.54,93.38 1081.4,97.8 1082.27,102.22 1083.12,106.64 1083.98,111.08 1084.84,115.54 1085.7,120.01 1086.55,124.45 1087.41,128.85 1088.26,133.16 1089.09,137.55 1089.89,142.06 1090.69,146.54 1091.52,150.81 1092.4,154.72 1093.37,158.11 1094.55,160.97 1095.92,163.38 1097.33,165.38 1098.63,166.99 1099.69,168.26 1100.34,169.29" fill="#141414"/>
<polygon points="1102.69,154.14 1102.52,151.42 1102.34,147.66 1102.16,143.22 1102.06,138.47 1102.12,133.78 1102.4,129.52 1102.91,125.68 1103.59,121.94 1104.42,118.25 1105.38,114.52 1106.44,110.69 1107.57,106.68 1108.84,102.48 1110.28,98.13 1111.82,93.67 1113.39,89.16 1114.91,84.64 1116.31,80.17 1117.63,75.67 1118.94,71.09 1120.2,66.5 1121.37,62.01 1122.43,57.68 1123.32,53.6 1124.04,49.6 1124.62,45.58 1125.07,41.74 1125.42,38.27 1125.7,35.37 1125.93,33.24 1124.94,33.13 1124.7,35.27 1124.4,38.17 1124.04,41.62 1123.57,45.44 1122.98,49.43 1122.25,53.38 1121.34,57.42 1120.27,61.72 1119.08,66.2 1117.8,70.76 1116.47,75.33 1115.13,79.8 1113.71,84.24 1112.17,88.74 1110.57,93.23 1109,97.69 1107.52,102.05 1106.21,106.28 1105.05,110.29 1103.95,114.13 1102.96,117.89 1102.08,121.63 1101.35,125.42 1100.79,129.35 1100.45,133.71 1100.34,138.46 1100.36,143.25 1100.45,147.72 1100.54,151.48 1100.49,154.19" fill="#2c2c2c"/>
<polygon points="1102.24,164.64 1100.96,164.38 1099.26,163.82 1097.16,163.13 1094.76,162.43 1092.13,161.84 1089.34,161.49 1086.36,161.51 1083.2,161.81 1079.92,162.24 1076.57,162.62 1073.23,162.8 1069.92,162.63 1066.56,162.22 1063.14,161.73 1059.7,161.05 1056.24,160.07 1052.73,158.69 1049.16,156.8 1045.53,154.36 1041.85,151.45 1038.11,148.12 1034.28,144.4 1030.34,140.32 1026.28,135.95 1022.2,131.07 1018.12,125.59 1013.93,119.74 1009.51,113.78 1004.76,107.95 999.58,102.5 993.41,97.16 986.26,91.66 978.79,86.32 971.71,81.44 965.69,77.35 961.41,74.36 960.95,75.01 965.21,78.05 971.19,82.19 978.23,87.12 985.62,92.51 992.69,98.04 998.73,103.39 1003.79,108.8 1008.42,114.61 1012.75,120.59 1016.88,126.48 1020.93,132.06 1025.01,137.05 1029.06,141.52 1032.97,145.68 1036.8,149.5 1040.57,152.95 1044.31,155.99 1048.05,158.6 1051.8,160.66 1055.5,162.19 1059.14,163.28 1062.72,164.06 1066.22,164.64 1069.68,165.13 1073.21,165.38 1076.76,165.27 1080.21,164.96 1083.48,164.63 1086.48,164.43 1089.12,164.5 1091.55,164.9 1093.9,165.53 1096.09,166.29 1098.04,167.08 1099.7,167.8 1100.94,168.42" fill="#141414"/>
<polygon points="1069.84,163.28 1064.85,163.03 1057.8,162.62 1049.52,162.13 1040.85,161.62 1032.62,161.15 1025.67,160.8 1020.12,160.58 1015.35,160.45 1011.03,160.38 1006.82,160.3 1002.39,160.18 997.41,159.95 991.42,159.59 984.59,159.12 977.55,158.6 970.89,158.09 965.24,157.65 961.21,157.35 961.15,158.04 965.19,158.36 970.83,158.81 977.49,159.33 984.54,159.87 991.37,160.36 997.37,160.74 1002.36,160.97 1006.8,161.11 1011.01,161.2 1015.33,161.29 1020.09,161.42 1025.63,161.66 1032.57,162.04 1040.79,162.54 1049.46,163.09 1057.73,163.63 1064.78,164.11 1069.76,164.48" fill="#3c3c3c"/>
<polygon points="1112.49,162.29 1114.5,161.62 1117.23,160.79 1120.5,159.81 1124.13,158.77 1127.96,157.73 1131.81,156.76 1135.78,155.91 1140.07,155.09 1144.56,154.28 1149.16,153.42 1153.78,152.46 1158.3,151.35 1162.77,150.06 1167.29,148.63 1171.8,147.1 1176.26,145.52 1180.62,143.94 1184.82,142.42 1188.86,140.93 1192.74,139.45 1196.53,137.97 1200.26,136.49 1204,135.01 1207.79,133.52 1211.64,131.85 1215.5,129.96 1219.33,128.08 1223.13,126.43 1226.87,125.23 1230.54,124.68 1234.41,125.01 1238.61,126.08 1242.8,127.6 1246.7,129.25 1250.01,130.72 1252.41,131.67 1252.78,130.74 1250.4,129.79 1247.11,128.31 1243.18,126.64 1238.92,125.07 1234.6,123.95 1230.51,123.59 1226.62,124.15 1222.74,125.38 1218.86,127.04 1214.99,128.92 1211.15,130.78 1207.33,132.42 1203.55,133.88 1199.81,135.34 1196.07,136.8 1192.29,138.26 1188.41,139.72 1184.38,141.18 1180.16,142.68 1175.8,144.23 1171.35,145.78 1166.85,147.27 1162.36,148.67 1157.92,149.91 1153.45,150.98 1148.87,151.9 1144.28,152.72 1139.78,153.49 1135.46,154.27 1131.43,155.1 1127.53,156.02 1123.66,157.02 1119.99,158.01 1116.69,158.92 1113.94,159.68 1111.89,160.17" fill="#2c2c2c"/>
<polygon points="1113.88,169.39 1116.77,169.48 1120.76,169.69 1125.48,169.97 1130.58,170.27 1135.67,170.58 1140.39,170.87 1144.83,171.15 1149.29,171.42 1153.75,171.7 1158.19,171.98 1162.58,172.26 1166.88,172.54 1171.04,172.94 1175.09,173.49 1179.11,174.04 1183.18,174.45 1187.38,174.56 1191.75,174.23 1196.27,173.3 1200.86,171.89 1205.51,170.18 1210.25,168.39 1215.09,166.7 1220.06,165.31 1225.6,164.16 1231.79,163.07 1238.11,162.08 1244.04,161.22 1249.06,160.5 1252.67,159.96 1252.52,158.97 1248.92,159.5 1243.89,160.19 1237.95,161.04 1231.61,162 1225.39,163.07 1219.79,164.21 1214.75,165.6 1209.85,167.28 1205.09,169.05 1200.46,170.72 1195.96,172.08 1191.58,172.96 1187.35,173.26 1183.27,173.13 1179.27,172.7 1175.28,172.13 1171.2,171.55 1167,171.11 1162.68,170.8 1158.29,170.5 1153.85,170.18 1149.39,169.87 1144.94,169.56 1140.5,169.24 1135.78,168.91 1130.69,168.54 1125.61,168.16 1120.89,167.81 1116.9,167.49 1114.03,167.2" fill="#2c2c2c"/>
<polygon points="1100.74,169.65 1101.65,170.08 1102.78,170.75 1104.17,171.57 1105.8,172.53 1107.69,173.59 1109.82,174.72 1112.29,175.96 1115.12,177.35 1118.18,178.83 1121.37,180.37 1124.55,181.9 1127.59,183.38 1130.49,184.86 1133.35,186.4 1136.22,187.95 1139.16,189.46 1142.21,190.87 1145.42,192.14 1148.74,193.23 1152.12,194.16 1155.59,194.99 1159.17,195.76 1162.88,196.54 1166.76,197.36 1170.83,198.26 1175.07,199.22 1179.47,200.17 1184,201.08 1188.63,201.89 1193.34,202.55 1198.18,203.04 1203.17,203.37 1208.25,203.6 1213.36,203.79 1218.43,203.98 1223.42,204.21 1228.67,204.51 1234.28,204.83 1239.87,205.15 1245.04,205.45 1249.41,205.7 1252.57,205.88 1252.63,204.88 1249.47,204.68 1245.11,204.4 1239.94,204.07 1234.35,203.71 1228.74,203.35 1223.49,203.02 1218.49,202.75 1213.41,202.53 1208.31,202.3 1203.25,202.03 1198.3,201.66 1193.52,201.15 1188.87,200.45 1184.28,199.61 1179.79,198.67 1175.42,197.68 1171.19,196.69 1167.12,195.74 1163.24,194.88 1159.54,194.07 1155.99,193.26 1152.58,192.4 1149.28,191.46 1146.07,190.37 1142.98,189.1 1140.03,187.69 1137.17,186.17 1134.33,184.59 1131.48,183.01 1128.57,181.46 1125.53,179.92 1122.37,178.33 1119.22,176.74 1116.19,175.2 1113.42,173.75 1111.02,172.46 1108.98,171.3 1107.19,170.21 1105.64,169.21 1104.32,168.32 1103.25,167.57 1102.44,166.94" fill="#141414"/>
<polygon points="1145.47,191.73 1147.74,192.98 1150.8,194.69 1154.45,196.75 1158.46,199.05 1162.62,201.5 1166.7,204 1170.8,206.7 1175.13,209.73 1179.61,212.91 1184.17,216.07 1188.74,219.03 1193.24,221.63 1197.6,223.85 1201.87,225.83 1206.15,227.6 1210.51,229.23 1215.03,230.76 1219.82,232.24 1225.3,233.7 1231.49,235.11 1237.85,236.42 1243.83,237.59 1248.9,238.56 1252.53,239.28 1252.67,238.6 1249.04,237.87 1243.97,236.89 1237.99,235.71 1231.65,234.39 1225.48,232.98 1220.03,231.51 1215.27,230.03 1210.77,228.5 1206.44,226.87 1202.19,225.1 1197.95,223.13 1193.63,220.92 1189.17,218.33 1184.64,215.37 1180.1,212.21 1175.63,209.02 1171.3,205.97 1167.18,203.24 1163.09,200.71 1158.94,198.24 1154.93,195.91 1151.29,193.83 1148.24,192.09 1146.02,190.78" fill="#3c3c3c"/>
<polygon points="1102.16,178.79 1102.09,181.11 1101.89,184.3 1101.62,188.08 1101.32,192.16 1101.02,196.23 1100.73,200 1100.38,203.45 1099.93,206.84 1099.47,210.25 1099.11,213.76 1098.95,217.43 1099.08,221.33 1099.56,225.49 1100.31,229.85 1101.25,234.34 1102.32,238.89 1103.43,243.44 1104.51,247.92 1105.58,252.33 1106.7,256.75 1107.87,261.17 1109.09,265.58 1110.36,270 1111.67,274.42 1113.08,278.89 1114.58,283.44 1116.13,287.98 1117.68,292.45 1119.18,296.78 1120.58,300.9 1121.96,305.02 1123.35,309.24 1124.7,313.32 1125.92,317.03 1126.95,320.14 1127.7,322.43 1128.46,322.18 1127.72,319.89 1126.71,316.77 1125.51,313.05 1124.18,308.97 1122.8,304.74 1121.45,300.61 1120.07,296.47 1118.6,292.13 1117.07,287.66 1115.55,283.12 1114.08,278.58 1112.7,274.11 1111.42,269.69 1110.18,265.28 1109,260.87 1107.86,256.45 1106.77,252.04 1105.74,247.62 1104.69,243.14 1103.61,238.59 1102.59,234.05 1101.69,229.59 1101,225.29 1100.57,221.22 1100.47,217.45 1100.67,213.88 1101.06,210.45 1101.55,207.07 1102.05,203.66 1102.45,200.17 1102.8,196.38 1103.17,192.31 1103.55,188.24 1103.91,184.47 1104.24,181.29 1104.55,178.99" fill="#2c2c2c"/>
<polygon points="1102.84,186.15 1103.99,189.02 1105.51,193 1107.32,197.72 1109.33,202.81 1111.43,207.91 1113.54,212.64 1115.7,217.06 1118.01,221.49 1120.42,225.9 1122.87,230.32 1125.32,234.73 1127.71,239.14 1130.05,243.55 1132.36,247.96 1134.68,252.37 1137.02,256.79 1139.41,261.21 1141.87,265.63 1144.47,270 1147.19,274.32 1149.95,278.64 1152.68,283 1155.32,287.47 1157.78,292.09 1160.18,297.26 1162.61,303.02 1164.95,308.9 1167.07,314.41 1168.84,319.08 1170.15,322.43 1170.8,322.18 1169.5,318.83 1167.73,314.16 1165.62,308.64 1163.28,302.75 1160.85,296.97 1158.44,291.76 1155.97,287.1 1153.33,282.61 1150.59,278.23 1147.84,273.91 1145.13,269.6 1142.55,265.24 1140.1,260.83 1137.73,256.41 1135.4,252 1133.09,247.58 1130.79,243.16 1128.45,238.74 1126.06,234.32 1123.62,229.9 1121.18,225.48 1118.79,221.07 1116.51,216.66 1114.37,212.25 1112.29,207.54 1110.21,202.46 1108.23,197.37 1106.44,192.65 1104.95,188.65 1103.87,185.76" fill="#3c3c3c"/>
<polygon points="1124.03,182.58 1124.74,184.81 1125.64,187.86 1126.73,191.51 1128.02,195.53 1129.5,199.7 1131.19,203.8 1133.11,207.83 1135.27,211.94 1137.63,216.2 1140.13,220.64 1142.72,225.33 1145.37,230.31 1148.11,235.67 1151,241.41 1153.99,247.4 1157.03,253.51 1160.07,259.62 1163.06,265.61 1166.11,271.65 1169.28,277.89 1172.45,284.12 1175.5,290.17 1178.31,295.83 1180.74,300.91 1182.82,305.54 1184.66,309.89 1186.26,313.87 1187.61,317.35 1188.71,320.24 1189.57,322.43 1190.23,322.17 1189.37,319.99 1188.27,317.1 1186.92,313.61 1185.32,309.62 1183.48,305.25 1181.4,300.6 1178.97,295.5 1176.17,289.83 1173.13,283.78 1169.96,277.54 1166.8,271.3 1163.76,265.26 1160.78,259.27 1157.75,253.15 1154.72,247.04 1151.74,241.04 1148.86,235.29 1146.12,229.91 1143.49,224.91 1140.9,220.21 1138.41,215.76 1136.07,211.51 1133.93,207.42 1132.04,203.43 1130.39,199.36 1128.93,195.22 1127.67,191.22 1126.61,187.58 1125.74,184.52 1125.08,182.26" fill="#3c3c3c"/>
<polygon points="1090.73,167.75 1088.51,168.89 1085.47,170.37 1081.83,172.14 1077.82,174.13 1073.66,176.27 1069.58,178.48 1065.47,180.8 1061.14,183.28 1056.66,185.91 1052.11,188.67 1047.56,191.52 1043.08,194.45 1038.67,197.47 1034.25,200.62 1029.83,203.86 1025.42,207.18 1021.01,210.54 1016.6,213.93 1012.08,217.45 1007.44,221.14 1002.8,224.88 998.29,228.54 994.02,232.01 990.12,235.16 986.47,238.09 982.93,240.92 979.64,243.56 976.72,245.9 974.29,247.84 972.47,249.3 972.85,249.77 974.67,248.32 977.1,246.37 980.03,244.04 983.32,241.41 986.86,238.58 990.52,235.66 994.43,232.52 998.71,229.06 1003.23,225.41 1007.87,221.68 1012.52,218 1017.04,214.5 1021.45,211.12 1025.87,207.77 1030.29,204.47 1034.71,201.25 1039.12,198.12 1043.53,195.12 1048.01,192.22 1052.56,189.39 1057.11,186.66 1061.58,184.05 1065.92,181.59 1070.03,179.3 1074.11,177.12 1078.26,175.01 1082.28,173.06 1085.92,171.32 1088.99,169.88 1091.26,168.83" fill="#3c3c3c"/>
<polygon points="1099.45,203.37 1097.6,206.23 1095.04,210.13 1092,214.77 1088.65,219.83 1085.21,224.98 1081.87,229.91 1078.51,234.79 1074.95,239.92 1071.29,245.15 1067.63,250.32 1064.07,255.31 1060.71,259.94 1057.36,264.44 1053.92,268.97 1050.57,273.3 1047.52,277.21 1044.95,280.49 1043.07,282.91 1043.54,283.28 1045.43,280.86 1048,277.59 1051.06,273.68 1054.41,269.35 1057.87,264.83 1061.23,260.32 1064.6,255.69 1068.17,250.71 1071.84,245.54 1075.51,240.31 1079.08,235.19 1082.46,230.31 1085.82,225.39 1089.28,220.24 1092.64,215.2 1095.71,210.57 1098.29,206.69 1100.2,203.86" fill="#5a5a5a"/>
<polygon points="1158.42,150.79 1160.42,146.94 1163.29,141.62 1166.66,135.32 1170.15,128.53 1173.4,121.73 1176.04,115.41 1177.93,109.5 1179.32,103.59 1180.46,97.7 1181.6,91.82 1182.99,85.95 1184.86,80.08 1187.28,73.92 1190.08,67.44 1193.12,60.95 1196.28,54.79 1199.44,49.31 1202.47,44.82 1205.58,41.42 1208.94,38.86 1212.31,36.94 1215.45,35.51 1218.11,34.38 1220.04,33.4 1219.81,32.96 1217.9,33.93 1215.24,35.04 1212.08,36.49 1208.66,38.43 1205.24,41.05 1202.06,44.5 1199,49.03 1195.82,54.54 1192.64,60.72 1189.59,67.22 1186.78,73.72 1184.34,79.89 1182.45,85.8 1181.06,91.7 1179.91,97.59 1178.76,103.47 1177.37,109.34 1175.5,115.21 1172.86,121.48 1169.61,128.26 1166.11,135.03 1162.73,141.32 1159.84,146.63 1157.8,150.47" fill="#5a5a5a"/>
<polygon points="1131.95,156.03 1133.85,149.31 1136.5,139.73 1139.64,128.53 1143.02,116.97 1146.41,106.29 1149.55,97.75 1152.28,91.41 1154.76,86.27 1157.24,82.02 1159.96,78.33 1163.17,74.89 1167.11,71.37 1171.79,67.82 1176.99,64.52 1182.68,61.46 1188.83,58.65 1195.39,56.07 1202.34,53.75 1210.42,51.66 1219.84,49.82 1229.68,48.23 1239.03,46.87 1246.98,45.77 1252.64,44.91 1252.56,44.41 1246.91,45.27 1238.96,46.37 1229.6,47.72 1219.75,49.31 1210.31,51.15 1202.19,53.24 1195.21,55.57 1188.62,58.15 1182.44,60.98 1176.71,64.05 1171.47,67.37 1166.76,70.94 1162.78,74.49 1159.53,77.97 1156.77,81.71 1154.26,86 1151.76,91.17 1149.01,97.54 1145.85,106.1 1142.45,116.79 1139.05,128.36 1135.89,139.56 1133.22,149.13 1131.28,155.83" fill="#5a5a5a"/>
<polygon points="1048.94,157.58 1047.31,152.9 1045.04,146.34 1042.37,138.61 1039.59,130.39 1036.96,122.37 1034.74,115.23 1032.86,108.53 1031.07,101.64 1029.43,94.94 1027.99,88.82 1026.79,83.69 1025.89,79.93 1025.4,80.04 1026.3,83.8 1027.49,88.94 1028.93,95.06 1030.56,101.77 1032.34,108.67 1034.21,115.39 1036.42,122.54 1039.05,130.57 1041.81,138.81 1044.46,146.54 1046.7,153.11 1048.28,157.81" fill="#5a5a5a"/>
<polygon points="1191.45,173.93 1193.5,175.19 1196.25,176.91 1199.53,178.97 1203.19,181.28 1207.04,183.73 1210.91,186.23 1215.23,189.07 1220.2,192.37 1225.38,195.82 1230.28,199.1 1234.45,201.88 1237.42,203.87 1237.75,203.37 1234.79,201.38 1230.63,198.59 1225.73,195.3 1220.56,191.84 1215.59,188.52 1211.28,185.68 1207.41,183.16 1203.56,180.69 1199.91,178.37 1196.63,176.29 1193.9,174.56 1191.88,173.25" fill="#5a5a5a"/>
<polygon points="1078.84,79.77 1076.91,77.86 1074.25,75.21 1071.1,72.06 1067.7,68.67 1064.31,65.28 1061.16,62.14 1058.01,58.99 1054.61,55.6 1051.22,52.21 1048.07,49.06 1045.41,46.41 1043.48,44.48 1043.13,44.84 1045.05,46.76 1047.71,49.42 1050.85,52.57 1054.25,55.96 1057.64,59.36 1060.78,62.51 1063.93,65.66 1067.32,69.06 1070.71,72.45 1073.85,75.6 1076.51,78.27 1078.42,80.2" fill="#5a5a5a"/>
<polygon points="961,122.73 964.11,124.29 968.34,126.49 973.38,129.09 978.92,131.85 984.63,134.5 990.2,136.82 995.89,138.79 1002.01,140.61 1008.29,142.33 1014.47,144.01 1020.31,145.68 1025.54,147.39 1030.33,149.27 1034.94,151.3 1039.2,153.33 1042.98,155.22 1046.12,156.81 1048.47,157.97 1048.74,157.43 1046.39,156.27 1043.25,154.68 1039.47,152.79 1035.19,150.74 1030.57,148.7 1025.75,146.8 1020.5,145.07 1014.64,143.39 1008.46,141.71 1002.19,139.98 996.1,138.16 990.44,136.19 984.91,133.87 979.22,131.22 973.71,128.46 968.68,125.84 964.45,123.62 961.36,122.02" fill="#5a5a5a"/>
<polygon points="1016.53,214.11 1015.59,216.68 1014.26,220.13 1012.69,224.27 1011,228.9 1009.3,233.83 1007.73,238.86 1006.16,244.55 1004.46,251.17 1002.77,258.09 1001.2,264.65 999.87,270.24 998.91,274.2 999.4,274.32 1000.36,270.36 1001.69,264.77 1003.27,258.21 1004.97,251.3 1006.66,244.69 1008.24,239.01 1009.81,234 1011.51,229.09 1013.21,224.47 1014.79,220.33 1016.12,216.88 1017.1,214.32" fill="#5a5a5a"/>
<polygon points="1166.66,196.66 1167.63,199.22 1168.96,202.67 1170.54,206.81 1172.24,211.43 1173.93,216.34 1175.51,221.35 1176.98,226.62 1178.45,232.33 1179.93,238.34 1181.4,244.5 1182.88,250.65 1184.35,256.66 1185.93,262.96 1187.62,269.75 1189.32,276.53 1190.9,282.83 1192.23,288.14 1193.19,291.98 1193.67,291.86 1192.71,288.02 1191.39,282.71 1189.81,276.41 1188.12,269.62 1186.42,262.83 1184.85,256.54 1183.38,250.53 1181.91,244.37 1180.44,238.21 1178.97,232.2 1177.5,226.48 1176.03,221.2 1174.46,216.17 1172.76,211.24 1171.07,206.61 1169.5,202.47 1168.17,199.02 1167.22,196.45" fill="#5a5a5a"/>
<polygon points="1090.99,161.23 1096.29,156.81 1103.36,155.93 1110.42,159.46 1113.95,166.53 1112.19,173.59 1106.89,177.12 1103.36,182.42 1099.83,177.12 1094.53,171.83 1090.11,168.29" fill="#080808" stroke="#080808" stroke-width="2" stroke-linejoin="round"/>
<circle cx="1213.26" cy="96.62" r="0.65" fill="#444"/>
<circle cx="1218.91" cy="96.58" r="0.69" fill="#444"/>
<circle cx="1202.77" cy="91.74" r="0.7" fill="#444"/>
<circle cx="1213.72" cy="99.43" r="0.4" fill="#444"/>
<circle cx="1210.55" cy="87.87" r="0.56" fill="#444"/>
<circle cx="1212.4" cy="83.75" r="0.44" fill="#444"/>
<circle cx="1207.2" cy="99.7" r="0.64" fill="#444"/>
<circle cx="1205.08" cy="97.6" r="0.41" fill="#444"/>
<circle cx="1213.17" cy="85.75" r="0.36" fill="#444"/>
<circle cx="1217.65" cy="87.22" r="0.44" fill="#444"/>
<circle cx="1219.61" cy="98.93" r="0.46" fill="#444"/>
<circle cx="1219.24" cy="93.04" r="0.6" fill="#444"/>
<circle cx="1205.88" cy="100.14" r="0.61" fill="#444"/>
<circle cx="1219.33" cy="99.3" r="0.47" fill="#444"/>
<circle cx="1208.64" cy="86.45" r="0.41" fill="#444"/>
<circle cx="1203.41" cy="88.84" r="0.58" fill="#444"/>
<circle cx="1202.32" cy="95.49" r="0.48" fill="#444"/>
<circle cx="1207.74" cy="97.97" r="0.53" fill="#444"/>
<circle cx="1237.4" cy="152.2" r="0.72" fill="#444"/>
<circle cx="1234.66" cy="157.43" r="0.43" fill="#444"/>
<circle cx="1242" cy="156.05" r="0.43" fill="#444"/>
<circle cx="1242.4" cy="150.98" r="0.66" fill="#444"/>
<circle cx="1234.15" cy="147.59" r="0.5" fill="#444"/>
<circle cx="1244.18" cy="149.18" r="0.74" fill="#444"/>
<circle cx="1243.9" cy="157.08" r="0.56" fill="#444"/>
<circle cx="1237.81" cy="152.66" r="0.75" fill="#444"/>
<circle cx="1235.2" cy="155.03" r="0.75" fill="#444"/>
<circle cx="1243.16" cy="147.49" r="0.82" fill="#444"/>
<circle cx="1239.4" cy="243.23" r="1.16" fill="#333"/>
<circle cx="1244.66" cy="243.22" r="1.39" fill="#333"/>
<circle cx="1242.29" cy="243.05" r="0.95" fill="#333"/>
<circle cx="1239.95" cy="241.56" r="0.83" fill="#333"/>
<circle cx="1243.2" cy="247.4" r="0.84" fill="#333"/>
<circle cx="1239.13" cy="247.33" r="1.1" fill="#333"/>
<circle cx="1241.4" cy="242.57" r="1.15" fill="#333"/>
<circle cx="1244.08" cy="243.96" r="1.02" fill="#333"/>
<circle cx="1239.18" cy="246.88" r="0.74" fill="#333"/>
<circle cx="1241.96" cy="246.39" r="0.81" fill="#333"/>
<circle cx="1245.34" cy="183.66" r="0.68" fill="#666"/>
<circle cx="1245.94" cy="174.72" r="0.6" fill="#666"/>
<circle cx="1239.17" cy="182.54" r="0.54" fill="#666"/>
<circle cx="1242.39" cy="184.18" r="0.78" fill="#666"/>
<circle cx="1247.93" cy="178.4" r="0.63" fill="#666"/>
<circle cx="1245.32" cy="178.67" r="0.54" fill="#666"/>
<circle cx="1241.86" cy="175.14" r="0.58" fill="#666"/>
<circle cx="1248.06" cy="183.76" r="0.68" fill="#666"/>
<circle cx="993.85" cy="166.01" r="0.33" fill="#777"/>
<circle cx="990.64" cy="172.28" r="0.56" fill="#777"/>
<circle cx="991.9" cy="172.33" r="0.53" fill="#777"/>
<circle cx="996.61" cy="170.61" r="0.53" fill="#777"/>
<circle cx="991.93" cy="171.18" r="0.38" fill="#777"/>
<circle cx="993.65" cy="172.1" r="0.51" fill="#777"/>
<circle cx="990.94" cy="174.59" r="0.49" fill="#777"/>
<circle cx="995" cy="161.39" r="0.46" fill="#777"/>
<circle cx="990.33" cy="170.72" r="0.44" fill="#777"/>
<circle cx="998.33" cy="170.38" r="0.54" fill="#777"/>
</g></g>
<text x="708.8" y="303.6" font-size="24.5" text-anchor="middle">50µm</text>
<line x1="689" y1="310.5" x2="731" y2="310.5" stroke="#000" stroke-width="3.2"/>
<line x1="1197.5" y1="307" x2="1240" y2="307" stroke="#000" stroke-width="3.5"/>
<path d="M472.5,330 C475,330.83 481.25,332.08 487.5,335 C493.75,337.92 502.92,343.33 510,347.5 C517.08,351.67 524.17,355.83 530,360 C535.83,364.17 540.83,368.12 545,372.5 C549.17,376.88 551.25,382.5 555,386.25 C558.75,390 563.75,392.29 567.5,395 C571.25,397.71 572.92,400.42 577.5,402.5 C582.08,404.58 589.58,406.46 595,407.5 C600.42,408.54 603.75,408.12 610,408.75 C616.25,409.38 625.42,410.71 632.5,411.25 C639.58,411.79 647.08,410.54 652.5,412 C657.92,413.46 660.42,417 665,420 C669.58,423 675,426.25 680,430 C685,433.75 691.67,438.33 695,442.5 C698.33,446.67 700,450.42 700,455 C700,459.58 696.04,465.42 695,470 C693.96,474.58 693.96,480.42 693.75,482.5" fill="none" stroke="#222" stroke-width="1.25"/>
<path d="M447.5,359.5 C451.25,360.21 462.08,361.38 470,363.75 C477.92,366.12 486.67,371.04 495,373.75 C503.33,376.46 510.42,378.04 520,380 C529.58,381.96 547.08,384.58 552.5,385.5" fill="none" stroke="#222" stroke-width="1.25"/>
<path d="M603.75,557.5 C607.71,554.58 618.12,546.67 627.5,540 C636.88,533.33 650,525.42 660,517.5 C670,509.58 678.33,500.42 687.5,492.5 C696.67,484.58 706.25,477.29 715,470 C723.75,462.71 735.42,453.33 740,448.75 C744.58,444.17 742.92,446.04 742.5,442.5 C742.08,438.96 737.92,434.17 737.5,427.5 C737.08,420.83 737.92,409.17 740,402.5 C742.08,395.83 745.83,392.92 750,387.5 C754.17,382.08 760.83,375 765,370 C769.17,365 773.33,359.58 775,357.5" fill="none" stroke="#222" stroke-width="1.25"/>
<path d="M740,448.75 C743.33,450.62 752.5,456.04 760,460 C767.5,463.96 777.08,468.96 785,472.5 C792.92,476.04 801.04,479.25 807.5,481.25 C813.96,483.25 821.04,483.96 823.75,484.5" fill="none" stroke="#222" stroke-width="1.25"/>
<path d="M687.5,492.5 C688.75,488.75 692.5,477.92 695,470 C697.5,462.08 699.17,453.33 702.5,445 C705.83,436.67 711.25,428.33 715,420 C718.75,411.67 722.08,401.25 725,395 C727.92,388.75 728.75,387.08 732.5,382.5 C736.25,377.92 743.75,372.08 747.5,367.5 C751.25,362.92 752.92,359.58 755,355 C757.08,350.42 758.75,344.58 760,340 C761.25,335.42 762.08,329.58 762.5,327.5" fill="none" stroke="#222" stroke-width="1.25"/>
<path d="M715,470 C716.67,465.83 721.25,454.17 725,445 C728.75,435.83 732.92,423.75 737.5,415 C742.08,406.25 747.08,399.58 752.5,392.5 C757.92,385.42 764.58,379.17 770,372.5 C775.42,365.83 781.25,358.75 785,352.5 C788.75,346.25 790.83,340.42 792.5,335 C794.17,329.58 794.58,325 795,320 C795.42,315 795,309.58 795,305 C795,300.42 795,294.58 795,292.5" fill="none" stroke="#222" stroke-width="1.25"/>
<path d="M630,540 C630.42,535.83 631.25,523.33 632.5,515 C633.75,506.67 635.83,497.92 637.5,490 C639.17,482.08 641.46,475.42 642.5,467.5 C643.54,459.58 642.5,448.75 643.75,442.5 C645,436.25 647.71,434.17 650,430 C652.29,425.83 655.83,422.08 657.5,417.5 C659.17,412.92 659.79,407.08 660,402.5 C660.21,397.92 658.96,392.08 658.75,390" fill="none" stroke="#222" stroke-width="1.25"/>
<path d="M643.75,442.5 C641.88,440 636.88,432.5 632.5,427.5 C628.12,422.5 621.46,417.5 617.5,412.5 C613.54,407.5 609.79,402.08 608.75,397.5 C607.71,392.92 612.08,388.12 611.25,385 C610.42,381.88 605,379.79 603.75,378.75" fill="none" stroke="#222" stroke-width="1.25"/>
<path d="M652.5,420 C653.75,417.5 660.42,408.33 660,405 C659.58,401.67 653.33,400.21 650,400 C646.67,399.79 641.67,403.12 640,403.75" fill="none" stroke="#222" stroke-width="1.25"/>
<path d="M596.25,512.5 C600.21,510.42 615.21,505.42 620,500 C624.79,494.58 622.5,485 625,480 C627.5,475 631.46,472.5 635,470 C638.54,467.5 644.38,465.83 646.25,465" fill="none" stroke="#222" stroke-width="1.25"/>
<path d="M620,500 C624.17,500.62 638.75,502.92 645,503.75 C651.25,504.58 655.42,504.79 657.5,505" fill="none" stroke="#222" stroke-width="1.25"/>
<path d="M598.75,556.25 C596.46,553.54 585.42,547.29 585,540 C584.58,532.71 595.42,522.08 596.25,512.5 C597.08,502.92 593.12,491.25 590,482.5 C586.88,473.75 579.58,463.75 577.5,460" fill="none" stroke="#222" stroke-width="1.25"/>
<path d="M587.5,560 C585.42,557.5 578.33,550.42 575,545 C571.67,539.58 570,533.33 567.5,527.5 C565,521.67 562.5,515.42 560,510 C557.5,504.58 555.42,500.42 552.5,495 C549.58,489.58 546.25,482.92 542.5,477.5 C538.75,472.08 533.75,466.25 530,462.5 C526.25,458.75 522.92,457.92 520,455 C517.08,452.08 517.92,449.17 512.5,445 C507.08,440.83 491.67,432.5 487.5,430" fill="none" stroke="#222" stroke-width="1.25"/>
<path d="M542.5,477.5 C542.71,472.92 543.75,459.58 543.75,450 C543.75,440.42 543.75,428.75 542.5,420 C541.25,411.25 537.29,401.25 536.25,397.5" fill="none" stroke="#222" stroke-width="1.25"/>
<path d="M520,455 C520,452.92 521.25,447.5 520,442.5 C518.75,437.5 515.21,431.25 512.5,425 C509.79,418.75 505.21,408.33 503.75,405" fill="none" stroke="#222" stroke-width="1.25"/>
<path d="M552.5,495 C550.83,497.5 543.33,505.42 542.5,510 C541.67,514.58 550.42,519.58 547.5,522.5 C544.58,525.42 531.25,525.83 525,527.5 C518.75,529.17 512.5,531.67 510,532.5" fill="none" stroke="#222" stroke-width="1.25"/>
<path d="M572.5,455 C571.25,457.5 567.92,463.75 565,470 C562.08,476.25 556.67,488.75 555,492.5" fill="none" stroke="#222" stroke-width="1.25"/>
<path d="M585,556.25 C580.83,555.83 569.58,554.79 560,553.75 C550.42,552.71 538.33,549.58 527.5,550 C516.67,550.42 504.58,556.04 495,556.25 C485.42,556.46 477.08,552.71 470,551.25 C462.92,549.79 460.62,547.71 452.5,547.5 C444.38,547.29 426.46,549.58 421.25,550" fill="none" stroke="#222" stroke-width="1.25"/>
<path d="M495,556.25 C490.83,555.83 481.25,552.92 470,553.75 C458.75,554.58 434.58,560 427.5,561.25" fill="none" stroke="#222" stroke-width="1.25"/>
<path d="M510,532.5 C506.67,529.58 495.83,519.58 490,515 C484.17,510.42 480.42,507.5 475,505 C469.58,502.5 460.42,500.83 457.5,500" fill="none" stroke="#222" stroke-width="1.25"/>
<path d="M510,532.5 C504.58,527.5 487.08,509.58 477.5,502.5 C467.92,495.42 460.42,493.12 452.5,490 C444.58,486.88 441.67,483.54 430,483.75 C418.33,483.96 390.42,490 382.5,491.25" fill="none" stroke="#222" stroke-width="1.25"/>
<path d="M477.5,502.5 C473.75,500 461.67,492.92 455,487.5 C448.33,482.08 442.92,476.67 437.5,470 C432.08,463.33 425,451.25 422.5,447.5" fill="none" stroke="#222" stroke-width="1.25"/>
<path d="M515,535 C516.25,532.08 520.42,522.08 522.5,517.5 C524.58,512.92 526.67,509.17 527.5,507.5" fill="none" stroke="#222" stroke-width="1.25"/>
<path d="M660,517.5 C663.75,522.08 675.83,536.25 682.5,545 C689.17,553.75 694.17,562.54 700,570 C705.83,577.46 714.58,586.46 717.5,589.75" fill="none" stroke="#222" stroke-width="1.25"/>
<path d="M665,522.5 C670,523.75 686.67,527.92 695,530 C703.33,532.08 707.5,533.12 715,535 C722.5,536.88 735.83,540.21 740,541.25" fill="none" stroke="#222" stroke-width="1.25"/>
<path d="M715,535 C717.92,534.17 725,532.92 732.5,530 C740,527.08 751.25,519.58 760,517.5 C768.75,515.42 774.17,515.42 785,517.5 C795.83,519.58 811.88,526.04 825,530 C838.12,533.96 857.29,539.38 863.75,541.25" fill="none" stroke="#222" stroke-width="1.25"/>
<path d="M700,535 C700.42,538.75 702.92,551.67 702.5,557.5 C702.08,563.33 700.83,565.42 697.5,570 C694.17,574.58 685,582.5 682.5,585" fill="none" stroke="#222" stroke-width="1.25"/>
<path d="M727.5,532.5 C728.33,535.42 732.08,544.58 732.5,550 C732.92,555.42 732.5,560.42 730,565 C727.5,569.58 722.08,574.17 717.5,577.5 C712.92,580.83 705,583.75 702.5,585" fill="none" stroke="#222" stroke-width="1.25"/>
<path d="M690,492.5 C692.92,495.42 702.92,504.58 707.5,510 C712.08,515.42 714.17,521.25 717.5,525 C720.83,528.75 725.83,531.25 727.5,532.5" fill="none" stroke="#222" stroke-width="1.25"/>
<path d="M645,535 L670,542.5" fill="none" stroke="#222" stroke-width="1.25"/>
<path d="M542.5,553.75 C537.08,556.04 519.58,563.54 510,567.5 C500.42,571.46 492.5,573.79 485,577.5 C477.5,581.21 468.33,587.71 465,589.75" fill="none" stroke="#222" stroke-width="1.25"/>
<path d="M510,557.5 C506.67,559.17 496.67,563.75 490,567.5 C483.33,571.25 476.25,576.29 470,580 C463.75,583.71 455.42,588.12 452.5,589.75" fill="none" stroke="#222" stroke-width="1.25"/>
<path d="M412.5,585 L422.5,592.5" fill="none" stroke="#222" stroke-width="1.25"/>
<path d="M585,575 C583.33,575.42 577.5,575.83 575,577.5 C572.5,579.17 571.25,581.25 570,585 C568.75,588.75 567.5,594.17 567.5,600 C567.5,605.83 569.58,612.08 570,620 C570.42,627.92 572.5,640.42 570,647.5 C567.5,654.58 560,657.08 555,662.5 C550,667.92 545.83,675.42 540,680 C534.17,684.58 527.5,687.5 520,690 C512.5,692.5 505.42,692.92 495,695 C484.58,697.08 463.75,701.25 457.5,702.5" fill="none" stroke="#222" stroke-width="1.25"/>
<path d="M575,586.25 C570,586.46 554.17,586.88 545,587.5 C535.83,588.12 528.33,588.75 520,590 C511.67,591.25 501.67,592.5 495,595 C488.33,597.5 485,601.67 480,605 C475,608.33 470.83,610.83 465,615 C459.17,619.17 448.33,627.5 445,630" fill="none" stroke="#222" stroke-width="1.25"/>
<path d="M480,605 C479.58,607.5 480,614.58 477.5,620 C475,625.42 469.58,631.67 465,637.5 C460.42,643.33 455.83,646.88 450,655 C444.17,663.12 433.33,681.04 430,686.25" fill="none" stroke="#222" stroke-width="1.25"/>
<path d="M465,615 C463.75,617.5 460.21,624.79 457.5,630 C454.79,635.21 450.21,643.54 448.75,646.25" fill="none" stroke="#222" stroke-width="1.25"/>
<path d="M510,570 C506.25,572.08 495,579.17 487.5,582.5 C480,585.83 475.83,588.33 465,590 C454.17,591.67 431.25,593.33 422.5,592.5 C413.75,591.67 414.17,586.25 412.5,585" fill="none" stroke="#222" stroke-width="1.25"/>
<path d="M452.5,587.5 C448.75,591.67 436.25,605 430,612.5 C423.75,620 420.83,625 415,632.5 C409.17,640 400.42,650 395,657.5 C389.58,665 385.21,670.42 382.5,677.5 C379.79,684.58 379.38,696.25 378.75,700" fill="none" stroke="#222" stroke-width="1.25"/>
<path d="M602.5,575 C602.71,577.5 603.54,583.75 603.75,590 C603.96,596.25 605.21,606.67 603.75,612.5 C602.29,618.33 598.96,620 595,625 C591.04,630 584.17,636.67 580,642.5 C575.83,648.33 572.5,653.33 570,660 C567.5,666.67 566.25,674.58 565,682.5 C563.75,690.42 563.33,699.17 562.5,707.5 C561.67,715.83 560.21,721.25 560,732.5 C559.79,743.75 561.04,767.92 561.25,775" fill="none" stroke="#222" stroke-width="1.25"/>
<path d="M603.75,612.5 C603.12,615.83 601.04,626.25 600,632.5 C598.96,638.75 599.17,645.42 597.5,650 C595.83,654.58 591.67,655 590,660 C588.33,665 588.33,672.5 587.5,680 C586.67,687.5 585.83,696.25 585,705 C584.17,713.75 582.5,725 582.5,732.5 C582.5,740 583.75,743.75 585,750 C586.25,756.25 588.75,762.5 590,770 C591.25,777.5 591.88,787.08 592.5,795 C593.12,802.92 594.58,811.25 593.75,817.5 C592.92,823.75 590.62,827.71 587.5,832.5 C584.38,837.29 577.08,843.96 575,846.25" fill="none" stroke="#222" stroke-width="1.25"/>
<path d="M585,705 C586.67,705.83 590.21,707.92 595,710 C599.79,712.08 610.62,716.25 613.75,717.5" fill="none" stroke="#222" stroke-width="1.25"/>
<path d="M582.5,715 C581.25,717.5 577.5,724.17 575,730 C572.5,735.83 569.58,743.33 567.5,750 C565.42,756.67 562.5,763.75 562.5,770 C562.5,776.25 565.42,781.25 567.5,787.5 C569.58,793.75 572.92,801.25 575,807.5 C577.08,813.75 578.75,818.75 580,825 C581.25,831.25 582.08,841.67 582.5,845" fill="none" stroke="#222" stroke-width="1.25"/>
<path d="M597.5,650 C598.75,650.83 601.25,655.83 605,655 C608.75,654.17 614.38,648.54 620,645 C625.62,641.46 635.62,635.62 638.75,633.75" fill="none" stroke="#222" stroke-width="1.25"/>
<path d="M605,655 C606.67,659.58 612.08,675 615,682.5 C617.92,690 619.58,692.5 622.5,700 C625.42,707.5 630.83,722.92 632.5,727.5" fill="none" stroke="#222" stroke-width="1.25"/>
<path d="M603.75,612.5 C605,614.17 608.96,618.33 611.25,622.5 C613.54,626.67 615.21,633.33 617.5,637.5 C619.79,641.67 623.75,645.83 625,647.5" fill="none" stroke="#222" stroke-width="1.25"/>
<path d="M610,575 C614.17,577.5 627.92,586.25 635,590 C642.08,593.75 646.67,594.58 652.5,597.5 C658.33,600.42 664.17,603.75 670,607.5 C675.83,611.25 683.33,615.83 687.5,620 C691.67,624.17 692.08,627.08 695,632.5 C697.92,637.92 701.46,645.42 705,652.5 C708.54,659.58 714.38,671.25 716.25,675" fill="none" stroke="#222" stroke-width="1.25"/>
<path d="M695,632.5 C698.33,634.58 708.75,640.42 715,645 C721.25,649.58 726.67,655.42 732.5,660 C738.33,664.58 742.5,667.71 750,672.5 C757.5,677.29 772.92,686.04 777.5,688.75" fill="none" stroke="#222" stroke-width="1.25"/>
<path d="M732.5,660 L740,680" fill="none" stroke="#222" stroke-width="1.25"/>
<path d="M750,672.5 L762.5,690" fill="none" stroke="#222" stroke-width="1.25"/>
<path d="M687.5,620 C690,618.75 698.54,613.96 702.5,612.5 C706.46,611.04 709.79,611.46 711.25,611.25" fill="none" stroke="#222" stroke-width="1.25"/>
<path d="M672.5,610 C676.25,609.17 686.25,606.04 695,605 C703.75,603.96 712.5,603.75 725,603.75 C737.5,603.75 758.33,606.04 770,605 C781.67,603.96 787.92,598.96 795,597.5 C802.08,596.04 809.58,596.46 812.5,596.25" fill="none" stroke="#222" stroke-width="1.25"/>
<path d="M700,628.75 C703.33,628.96 713.33,629.38 720,630 C726.67,630.62 733.12,631.75 740,632.5 C746.88,633.25 757.71,634.17 761.25,634.5" fill="none" stroke="#222" stroke-width="1.25"/>
<path d="M612.5,593.75 C615.42,593.96 624.17,594.17 630,595 C635.83,595.83 641.67,597.92 647.5,598.75 C653.33,599.58 659.17,601.04 665,600 C670.83,598.96 676.25,595.83 682.5,592.5 C688.75,589.17 695.42,583.75 702.5,580 C709.58,576.25 721.25,571.67 725,570" fill="none" stroke="#222" stroke-width="1.25"/>
<path d="M647.5,598.75 C647.92,601.46 648.75,610.21 650,615 C651.25,619.79 652.92,623.54 655,627.5 C657.08,631.46 661.25,636.88 662.5,638.75" fill="none" stroke="#222" stroke-width="1.25"/>
<path d="M610,595 C611.25,599.17 615,611.67 617.5,620 C620,628.33 622.92,637.5 625,645 C627.08,652.5 628.75,656.67 630,665 C631.25,673.33 631.67,685.83 632.5,695 C633.33,704.17 633.75,711.67 635,720 C636.25,728.33 637.92,737.5 640,745 C642.08,752.5 644.58,758.75 647.5,765 C650.42,771.25 655.42,775.42 657.5,782.5 C659.58,789.58 658.75,801.67 660,807.5 C661.25,813.33 664.17,815.83 665,817.5" fill="none" stroke="#222" stroke-width="1.25"/>
<path d="M630,655 C632.08,656.25 637.71,660.62 642.5,662.5 C647.29,664.38 656.04,665.62 658.75,666.25" fill="none" stroke="#222" stroke-width="1.25"/>
<path d="M635,720 C634.58,723.33 634.17,734.17 632.5,740 C630.83,745.83 626.67,750.42 625,755 C623.33,759.58 622.92,765.42 622.5,767.5" fill="none" stroke="#222" stroke-width="1.25"/>
<path d="M702.5,570 C705.42,574.17 714.58,588.33 720,595 C725.42,601.67 730.62,606.25 735,610 C739.38,613.75 744.38,616.25 746.25,617.5" fill="none" stroke="#222" stroke-width="1.25"/>
<path d="M520,687.5 C516.67,690 505.83,697.5 500,702.5 C494.17,707.5 488.75,713.33 485,717.5 C481.25,721.67 479.79,724.38 477.5,727.5 C475.21,730.62 472.29,734.79 471.25,736.25" fill="none" stroke="#222" stroke-width="1.25"/>
<path d="M1051.49,324.35 C1053.43,328.46 1058.99,340.55 1063.1,349.01 C1067.21,357.48 1073.25,365.46 1076.16,375.13 C1079.06,384.8 1078.81,395.44 1080.51,407.04 C1082.2,418.65 1083.89,433.15 1086.31,444.76 C1088.73,456.37 1092.6,466.04 1095.01,476.68 C1097.43,487.31 1098.4,497.95 1100.82,508.59 C1103.23,519.23 1107.35,531.8 1109.52,540.51 C1111.7,549.21 1113.15,557.43 1113.87,560.82" fill="none" stroke="#222" stroke-width="1.25"/>
<path d="M1077.61,324.35 C1077.85,327.5 1079.06,334.75 1079.06,343.21 C1079.06,351.67 1077.85,369.81 1077.61,375.13" fill="none" stroke="#222" stroke-width="1.25"/>
<path d="M1150.14,324.35 C1148.21,330.4 1143.37,348.77 1138.54,360.62 C1133.7,372.47 1125.96,386.25 1121.13,395.44 C1116.29,404.62 1114.84,407.04 1109.52,415.75 C1104.2,424.45 1095.5,438.96 1089.21,447.66 C1082.93,456.37 1075.28,462.17 1071.8,467.97 C1068.32,473.77 1068.56,475.71 1068.32,482.48 C1068.08,489.25 1067.84,500.85 1070.35,508.59 C1072.87,516.33 1078.33,521.65 1083.41,528.9 C1088.49,536.16 1097.92,548.24 1100.82,552.11" fill="none" stroke="#222" stroke-width="1.25"/>
<path d="M1157.39,324.35 C1157.15,329.91 1156.67,346.35 1155.94,357.72 C1155.22,369.08 1154.49,381.9 1153.04,392.54 C1151.59,403.17 1149.66,411.88 1147.24,421.55 C1144.82,431.22 1141.44,441.38 1138.54,450.56 C1135.63,459.75 1132.49,468.46 1129.83,476.68 C1127.17,484.9 1124.27,492.15 1122.58,499.89 C1120.89,507.62 1119.92,514.39 1119.68,523.1 C1119.43,531.8 1120.89,547.28 1121.13,552.11" fill="none" stroke="#222" stroke-width="1.25"/>
<path d="M1186.41,324.35 C1182.78,327.98 1169.73,339.58 1164.65,346.11 C1159.57,352.64 1157.39,360.62 1155.94,363.52" fill="none" stroke="#222" stroke-width="1.25"/>
<path d="M1145.79,372.23 C1141.68,376.58 1126.69,391.57 1121.13,398.34 C1115.57,405.11 1114.84,405.11 1112.42,412.85 C1110,420.58 1109.04,433.64 1106.62,444.76 C1104.2,455.88 1099.37,473.77 1097.92,479.58" fill="none" stroke="#222" stroke-width="1.25"/>
<path d="M1092.11,373.68 C1096.95,378.27 1111.46,392.29 1121.13,401.24 C1130.8,410.19 1141.44,419.13 1150.14,427.35 C1158.85,435.57 1166.58,443.31 1173.35,450.56 C1180.12,457.82 1185.93,464.59 1190.76,470.87 C1195.6,477.16 1198.5,481.51 1202.37,488.28 C1206.23,495.05 1210.83,503.76 1213.97,511.49 C1217.12,519.23 1220.02,529.39 1221.23,534.7 C1222.43,540.02 1221.23,541.96 1221.23,543.41" fill="none" stroke="#222" stroke-width="1.25"/>
<path d="M1292.31,415.75 C1287.96,416.47 1274.42,419.13 1266.2,420.1 C1257.98,421.07 1248.31,420.1 1242.99,421.55 C1237.67,423 1238.63,426.14 1234.28,428.8 C1229.93,431.46 1222.68,433.88 1216.87,437.51 C1211.07,441.13 1204.78,445.97 1199.46,450.56 C1194.15,455.16 1190.76,461.2 1184.96,465.07 C1179.16,468.94 1170.93,469.42 1164.65,473.77 C1158.36,478.13 1152.56,484.41 1147.24,491.18 C1141.92,497.95 1135.15,506.17 1132.73,514.39 C1130.31,522.62 1132.25,533.25 1132.73,540.51 C1133.22,547.76 1135.15,555.01 1135.63,557.92" fill="none" stroke="#222" stroke-width="1.25"/>
<path d="M903.52,401.24 C908.36,408.49 924.31,430.74 932.54,444.76 C940.76,458.78 946.56,472.32 952.85,485.38 C959.13,498.44 965.66,512.94 970.25,523.1 C974.85,533.25 975.57,540.27 980.41,546.31 C985.24,552.35 992.26,556.95 999.27,559.37 C1006.28,561.78 1012.81,560.58 1022.48,560.82 C1032.15,561.06 1047.14,560.33 1057.3,560.82 C1067.45,561.3 1079.06,563.23 1083.41,563.72" fill="none" stroke="#222" stroke-width="1.25"/>
<path d="M896.27,430.25 C902.31,433.15 920.2,440.89 932.54,447.66 C944.87,454.43 958.65,463.14 970.25,470.87 C981.86,478.61 993.46,485.86 1002.17,494.08 C1010.87,502.31 1016.19,512.46 1022.48,520.2 C1028.77,527.93 1034.08,534.7 1039.89,540.51 C1045.69,546.31 1050.53,551.39 1057.3,555.01 C1064.07,558.64 1072.29,560.82 1080.51,562.27 C1088.73,563.72 1102.27,563.48 1106.62,563.72" fill="none" stroke="#222" stroke-width="1.25"/>
<path d="M868.12,497.57 C871.61,498.92 880.7,501.92 889.01,505.69 C897.33,509.46 905.94,515.6 918.03,520.2 C930.12,524.79 948.49,531.32 961.55,533.25 C974.61,535.19 988.63,530.59 996.37,531.8 C1004.1,533.01 1003.62,537.61 1007.97,540.51 C1012.32,543.41 1014.26,546.55 1022.48,549.21 C1030.7,551.87 1047.14,554.29 1057.3,556.46 C1067.45,558.64 1079.06,561.3 1083.41,562.27" fill="none" stroke="#222" stroke-width="1.25"/>
<path d="M980.41,546.31 C978.72,548.24 973.88,553.08 970.25,557.92 C966.63,562.75 962.27,569.76 958.65,575.32 C955.02,580.89 950.19,588.62 948.49,591.28" fill="none" stroke="#222" stroke-width="1.25"/>
<path d="M999.27,559.37 C995.4,561.06 984.76,565.89 976.06,569.52 C967.35,573.15 955.26,577.74 947.04,581.13 C938.82,584.51 933.26,586.69 926.73,589.83 C920.2,592.97 911.02,598.29 907.87,599.99" fill="none" stroke="#222" stroke-width="1.25"/>
<path d="M1106.62,565.17 C1102.27,565.17 1091.63,563.96 1080.51,565.17 C1069.39,566.38 1050.53,569.28 1039.89,572.42 C1029.25,575.57 1023.45,579.43 1016.68,584.03 C1009.91,588.62 1002.17,597.33 999.27,599.99" fill="none" stroke="#222" stroke-width="1.25"/>
<path d="M1086.31,566.62 C1081.96,568.07 1068.9,571.94 1060.2,575.32 C1051.49,578.71 1040.85,582.82 1034.08,586.93 C1027.31,591.04 1022,597.81 1019.58,599.99" fill="none" stroke="#222" stroke-width="1.25"/>
<path d="M1063.1,581.13 C1062.13,582.58 1060.2,586.69 1057.3,589.83 C1054.39,592.97 1047.62,598.29 1045.69,599.99" fill="none" stroke="#222" stroke-width="1.25"/>
<path d="M1106.62,572.42 C1104.2,574.36 1095.74,580.4 1092.11,584.03 C1088.49,587.66 1086.07,592.49 1084.86,594.18" fill="none" stroke="#222" stroke-width="1.25"/>
<path d="M1013.77,484.8 C1018.13,486.35 1033.6,492.05 1039.89,494.08 C1046.17,496.12 1048.11,495.54 1051.49,496.99 C1054.88,498.44 1054.39,501.82 1060.2,502.79 C1066,503.76 1079.54,502.31 1086.31,502.79 C1093.08,503.27 1096.46,504.24 1100.82,505.69 C1105.17,507.14 1109.52,509.08 1112.42,511.49 C1115.32,513.91 1117.26,518.75 1118.23,520.2" fill="none" stroke="#222" stroke-width="1.25"/>
<path d="M1019.58,500.47 L1036.99,493.5" fill="none" stroke="#222" stroke-width="1.25"/>
<path d="M1055.85,486.83 C1058.02,486.83 1064.31,485.62 1068.9,486.83 C1073.5,488.04 1080.02,491.42 1083.41,494.08 C1086.79,496.74 1088.24,501.34 1089.21,502.79" fill="none" stroke="#222" stroke-width="1.25"/>
<path d="M1132.73,559.37 C1138.05,558.4 1154.49,555.26 1164.65,553.56 C1174.8,551.87 1185.93,551.15 1193.66,549.21 C1201.4,547.28 1202.85,545.34 1211.07,541.96 C1219.29,538.57 1233.31,532.77 1242.99,528.9 C1252.66,525.03 1259.43,518.26 1269.1,518.75 C1278.77,519.23 1289.41,527.69 1301.01,531.8 C1312.62,535.91 1325.19,540.51 1338.73,543.41 C1352.27,546.31 1370.16,547.76 1382.25,549.21 C1394.34,550.66 1401.64,550.42 1411.27,552.11 C1420.89,553.81 1435.2,558.16 1439.99,559.37" fill="none" stroke="#222" stroke-width="1.25"/>
<path d="M1269.1,518.75 C1270.55,516.09 1276.11,508.83 1277.8,502.79 C1279.5,496.74 1276.35,488.28 1279.25,482.48 C1282.16,476.68 1290.13,472.42 1295.21,467.97 C1300.29,463.52 1307.3,457.82 1309.72,455.79" fill="none" stroke="#222" stroke-width="1.25"/>
<path d="M1242.99,528.9 C1246.85,529.63 1255.56,532.29 1266.2,533.25 C1276.84,534.22 1300.05,534.46 1306.82,534.7" fill="none" stroke="#222" stroke-width="1.25"/>
<path d="M1134.18,568.07 C1139.26,568.31 1154.73,568.89 1164.65,569.52 C1174.56,570.15 1183.51,571.12 1193.66,571.84 C1203.82,572.57 1215.42,575.23 1225.58,573.87 C1235.73,572.52 1245.4,566.14 1254.59,563.72 C1263.78,561.3 1270.07,560.82 1280.7,559.37 C1291.34,557.92 1309.23,556.71 1318.42,555.01 C1327.61,553.32 1330.03,554.05 1335.83,549.21 C1341.63,544.38 1345.5,534.22 1353.24,526 C1360.98,517.78 1370.16,506.75 1382.25,499.89 C1394.34,493.02 1418.52,487.31 1425.77,484.8" fill="none" stroke="#222" stroke-width="1.25"/>
<path d="M1254.59,563.72 C1257.49,559.85 1265.96,547.76 1272,540.51 C1278.04,533.25 1287.72,523.58 1290.86,520.2" fill="none" stroke="#222" stroke-width="1.25"/>
<path d="M1211.07,541.96 C1213.97,543.65 1223.16,548 1228.48,552.11 C1233.8,556.22 1237.67,560.82 1242.99,566.62 C1248.31,572.42 1254.59,582.09 1260.39,586.93 C1266.2,591.77 1274.9,594.18 1277.8,595.63" fill="none" stroke="#222" stroke-width="1.25"/>
<path d="M1221.23,543.41 C1223.89,545.83 1231.62,553.08 1237.18,557.92 C1242.74,562.75 1248.79,568.07 1254.59,572.42 C1260.39,576.77 1265.23,580.16 1272,584.03 C1278.77,587.9 1289.41,592.97 1295.21,595.63 C1301.01,598.29 1304.88,599.26 1306.82,599.99" fill="none" stroke="#222" stroke-width="1.25"/>
<path d="M1266.2,592.73 C1270.07,589.83 1280.7,579.29 1289.41,575.32 C1298.11,571.36 1307.78,569.42 1318.42,568.94 C1329.06,568.46 1342.6,570.15 1353.24,572.42 C1363.88,574.7 1375,581.03 1382.25,582.58 C1389.51,584.13 1394.34,581.85 1396.76,581.71" fill="none" stroke="#222" stroke-width="1.25"/>
<path d="M1131.28,575.32 C1134.43,576.29 1144.58,578.71 1150.14,581.13 C1155.7,583.54 1159.81,586.69 1164.65,589.83 C1169.48,592.97 1176.74,598.29 1179.16,599.99" fill="none" stroke="#222" stroke-width="1.25"/>
<path d="M1106.62,562.9 C1102.27,563.38 1090.66,564.35 1080.51,565.8 C1070.35,567.25 1055.36,568.7 1045.69,571.61 C1036.02,574.51 1030.7,578.38 1022.48,583.21 C1014.26,588.05 1004.83,594.24 996.37,600.62 C987.9,607 980.41,618.12 971.7,621.51 C963,624.89 954.78,619.96 944.14,620.93 C933.5,621.9 913.92,626.25 907.87,627.31" fill="none" stroke="#222" stroke-width="1.25"/>
<path d="M971.7,621.51 C973.4,624.8 978.23,633.6 981.86,641.24 C985.49,648.88 988.63,660.1 993.46,667.35 C998.3,674.61 1004.1,680.41 1010.87,684.76 C1017.64,689.11 1026.35,690.56 1034.08,693.46 C1041.82,696.37 1050.53,699.27 1057.3,702.17 C1064.07,705.07 1069.39,706.52 1074.7,710.87 C1080.02,715.23 1083.41,723.45 1089.21,728.28 C1095.01,733.12 1103.23,736.5 1109.52,739.89 C1115.81,743.27 1121.61,745.21 1126.93,748.59 C1132.25,751.98 1136.6,755.85 1141.44,760.2 C1146.27,764.55 1151.11,768.9 1155.94,774.7 C1160.78,780.51 1168.27,787.76 1170.45,795.01 C1172.63,802.27 1169.24,814.36 1169,818.23" fill="none" stroke="#222" stroke-width="1.25"/>
<path d="M981.86,641.24 C981.38,644.62 978.47,653.09 978.96,661.55 C979.44,670.01 983.79,686.94 984.76,692.01" fill="none" stroke="#222" stroke-width="1.25"/>
<path d="M987.66,560 C983.31,562.42 969.29,570.64 961.55,574.51 C953.81,578.38 948.49,579.83 941.24,583.21 C933.99,586.6 926.73,589.98 918.03,594.82 C909.32,599.65 897.48,606.52 889.01,612.23 C880.55,617.93 870.88,626.25 867.25,629.05" fill="none" stroke="#222" stroke-width="1.25"/>
<path d="M984.76,568.7 C981.38,572.57 970.74,583.21 964.45,591.92 C958.16,600.62 951.88,612.71 947.04,620.93 C942.21,629.15 938.34,635.44 935.44,641.24 C932.54,647.04 930.6,653.33 929.63,655.75" fill="none" stroke="#222" stroke-width="1.25"/>
<path d="M1086.31,568.7 C1082.44,570.4 1071.8,574.51 1063.1,578.86 C1054.39,583.21 1042.31,590.22 1034.08,594.82 C1025.86,599.41 1020.06,601.59 1013.77,606.42 C1007.49,611.26 1001.69,617.79 996.37,623.83 C991.05,629.88 988.63,636.89 981.86,642.69 C975.09,648.49 963.97,652.12 955.75,658.65 C947.53,665.18 940.76,674.61 932.54,681.86 C924.31,689.11 914.64,695.88 906.42,702.17 C898.2,708.46 889.74,715.23 883.21,719.58 C876.68,723.93 869.91,726.83 867.25,728.28" fill="none" stroke="#222" stroke-width="1.25"/>
<path d="M1063.1,580.31 C1062.13,582.24 1060.68,588.05 1057.3,591.92 C1053.91,595.78 1046.66,601.1 1042.79,603.52 C1038.92,605.94 1035.54,605.94 1034.08,606.42" fill="none" stroke="#222" stroke-width="1.25"/>
<path d="M1106.62,574.51 C1104.2,576.44 1095.98,581.76 1092.11,586.11 C1088.24,590.46 1086.31,595.78 1083.41,600.62 C1080.51,605.46 1077.12,610.29 1074.7,615.13 C1072.29,619.96 1073.25,625.28 1068.9,629.63 C1064.55,633.99 1055.36,636.89 1048.59,641.24 C1041.82,645.59 1035.05,651.39 1028.28,655.75 C1021.51,660.1 1011.36,665.42 1007.97,667.35" fill="none" stroke="#222" stroke-width="1.25"/>
<path d="M1119.68,580.31 C1119.92,584.18 1121.85,597.23 1121.13,603.52 C1120.4,609.81 1117.74,613.19 1115.32,618.03 C1112.91,622.86 1109.52,627.7 1106.62,632.54 C1103.72,637.37 1101.3,640.76 1097.92,647.04 C1094.53,653.33 1090.18,663.48 1086.31,670.25 C1082.44,677.02 1078.57,683.31 1074.7,687.66 C1070.84,692.01 1068.42,695.4 1063.1,696.37 C1057.78,697.33 1048.11,695.64 1042.79,693.46 C1037.47,691.29 1033.12,685 1031.18,683.31" fill="none" stroke="#222" stroke-width="1.25"/>
<path d="M1116.77,618.03 C1116.77,621.41 1115.57,631.08 1116.77,638.34 C1117.98,645.59 1121.85,654.3 1124.03,661.55 C1126.2,668.8 1128.14,675.09 1129.83,681.86 C1131.52,688.63 1130.8,693.46 1134.18,702.17 C1137.57,710.87 1145.55,724.9 1150.14,734.08 C1154.73,743.27 1157.88,749.56 1161.75,757.3 C1165.62,765.03 1169.97,772.29 1173.35,780.51 C1176.74,788.73 1179.16,798.4 1182.06,806.62 C1184.96,814.84 1188.1,821.13 1190.76,829.83 C1193.42,838.54 1196.81,852.9 1198.01,858.85 C1199.22,864.79 1198.11,861.17 1198.01,865.52 C1197.92,869.87 1197.43,878.72 1197.43,884.96 C1197.43,891.2 1197.97,898.45 1198.01,902.95 C1198.06,907.44 1197.77,910.44 1197.72,911.94" fill="none" stroke="#222" stroke-width="1.25"/>
<path d="M1134.18,702.17 C1132.01,705.07 1125.72,713.29 1121.13,719.58 C1116.53,725.86 1111.94,731.67 1106.62,739.89 C1101.3,748.11 1094.53,760.2 1089.21,768.9 C1083.89,777.61 1077.85,785.83 1074.7,792.11 C1071.56,798.4 1068.9,802.27 1070.35,806.62 C1071.8,810.97 1077.85,814.36 1083.41,818.23 C1088.97,822.09 1097.43,825.48 1103.72,829.83 C1110,834.18 1115.42,838.15 1121.13,844.34 C1126.83,850.53 1131.86,860.92 1137.96,866.97 C1144.05,873.01 1151.16,876.11 1157.68,880.61 C1164.21,885.1 1171.76,889.46 1177.12,893.95 C1182.49,898.45 1187.76,905.32 1189.89,907.59" fill="none" stroke="#222" stroke-width="1.25"/>
<path d="M1115.32,635.44 C1112.91,637.37 1105.65,642.21 1100.82,647.04 C1095.98,651.88 1092.6,658.65 1086.31,664.45 C1080.02,670.25 1070.84,676.06 1063.1,681.86 C1055.36,687.66 1048.35,693.46 1039.89,699.27 C1031.42,705.07 1016.92,713.77 1012.32,716.68" fill="none" stroke="#222" stroke-width="1.25"/>
<path d="M1080.51,690.56 C1079.54,693.46 1077.61,702.65 1074.7,707.97 C1071.8,713.29 1065.03,720.06 1063.1,722.48" fill="none" stroke="#222" stroke-width="1.25"/>
<path d="M1121.13,603.52 C1123.06,605.94 1128.86,611.74 1132.73,618.03 C1136.6,624.31 1139.99,633.99 1144.34,641.24 C1148.69,648.49 1154.01,654.78 1158.85,661.55 C1163.68,668.32 1169,674.61 1173.35,681.86 C1177.7,689.11 1181.09,696.37 1184.96,705.07 C1188.83,713.77 1192.7,725.38 1196.56,734.08 C1200.43,742.79 1204.78,750.04 1208.17,757.3 C1211.55,764.55 1214.46,769.39 1216.87,777.61 C1219.29,785.83 1220.26,797.43 1222.68,806.62 C1225.09,815.81 1229.93,828.38 1231.38,832.73" fill="none" stroke="#222" stroke-width="1.25"/>
<path d="M1187.86,690.56 C1187.38,696.37 1183.51,717.64 1184.96,725.38 C1186.41,733.12 1191.73,733.12 1196.56,736.99 C1201.4,740.85 1207.2,744.24 1213.97,748.59 C1220.74,752.94 1228.48,756.81 1237.18,763.1 C1245.89,769.39 1257.49,779.54 1266.2,786.31 C1274.9,793.08 1282.64,798.88 1289.41,803.72 C1296.18,808.55 1303.92,813.39 1306.82,815.32" fill="none" stroke="#222" stroke-width="1.25"/>
<path d="M1129.83,594.82 C1133.22,597.23 1141.92,604.49 1150.14,609.32 C1158.36,614.16 1171.9,617.54 1179.16,623.83 C1186.41,630.12 1188.83,639.31 1193.66,647.04 C1198.5,654.78 1204.78,661.55 1208.17,670.25 C1211.55,678.96 1209.14,692.01 1213.97,699.27 C1218.81,706.52 1228.48,708.94 1237.18,713.77 C1245.89,718.61 1257.49,723.45 1266.2,728.28 C1274.9,733.12 1283.85,737.95 1289.41,742.79 C1294.97,747.62 1297.87,754.88 1299.56,757.3" fill="none" stroke="#222" stroke-width="1.25"/>
<path d="M1213.97,699.27 C1213.49,703.14 1211.07,714.74 1211.07,722.48 C1211.07,730.22 1213,736.5 1213.97,745.69 C1214.94,754.88 1216.87,766.48 1216.87,777.61 C1216.87,788.73 1213,804.44 1213.97,812.42 C1214.94,820.4 1221.23,823.3 1222.68,825.48" fill="none" stroke="#222" stroke-width="1.25"/>
<path d="M1248.79,719.58 C1247.82,722.96 1242.99,732.63 1242.99,739.89 C1242.99,747.14 1246.85,755.36 1248.79,763.1 C1250.72,770.84 1253.14,778.57 1254.59,786.31 C1256.04,794.05 1257.01,800.82 1257.49,809.52 C1257.98,818.23 1256.04,832.73 1257.49,838.54 C1258.94,844.34 1261.12,842.4 1266.2,844.34 C1271.27,846.27 1284.33,849.17 1287.96,850.14" fill="none" stroke="#222" stroke-width="1.25"/>
<path d="M1147.24,583.21 C1148.21,588.05 1150.14,603.52 1153.04,612.23 C1155.94,620.93 1161.26,628.18 1164.65,635.44 C1168.03,642.69 1169.48,647.04 1173.35,655.75 C1177.22,664.45 1185.44,682.34 1187.86,687.66" fill="none" stroke="#222" stroke-width="1.25"/>
<path d="M1167.55,673.15 C1173.35,673.4 1192.21,674.61 1202.37,674.61 C1212.52,674.61 1221.47,674.27 1228.48,673.15 C1235.49,672.04 1241.78,668.8 1244.44,667.93" fill="none" stroke="#222" stroke-width="1.25"/>
<path d="M1132.73,597.72 C1137.57,599.65 1151.59,605.46 1161.75,609.32 C1171.9,613.19 1183.02,617.06 1193.66,620.93 C1204.3,624.8 1215.91,629.63 1225.58,632.54 C1235.25,635.44 1243.47,635.92 1251.69,638.34 C1259.91,640.76 1267.65,642.69 1274.9,647.04 C1282.16,651.39 1288.93,658.65 1295.21,664.45 C1301.5,670.25 1308.27,677.27 1312.62,681.86 C1316.97,686.45 1319.87,690.32 1321.32,692.01" fill="none" stroke="#222" stroke-width="1.25"/>
<path d="M1193.66,647.04 C1198.5,648.49 1210.59,652.85 1222.68,655.75 C1234.77,658.65 1254.11,662.27 1266.2,664.45 C1278.29,666.63 1285.54,667.59 1295.21,668.8 C1304.88,670.01 1319.39,671.22 1324.23,671.7" fill="none" stroke="#222" stroke-width="1.25"/>
<path d="M1132.73,571.61 C1140.47,571.61 1163.68,571.36 1179.16,571.61 C1194.63,571.85 1213,574.02 1225.58,573.06 C1238.15,572.09 1245.4,567.74 1254.59,565.8 C1263.78,563.87 1276.35,562.18 1280.7,561.45" fill="none" stroke="#222" stroke-width="1.25"/>
<path d="M1225.58,573.06 C1228.96,574.75 1240.08,580.07 1245.89,583.21 C1251.69,586.35 1255.32,589.74 1260.39,591.92 C1265.47,594.09 1273.69,595.54 1276.35,596.27" fill="none" stroke="#222" stroke-width="1.25"/>
<path d="M1202.37,602.07 C1206.23,601.35 1216.39,599.17 1225.58,597.72 C1234.77,596.27 1248.79,596.27 1257.49,593.37 C1266.2,590.46 1271.52,583.69 1277.8,580.31 C1284.09,576.92 1288.44,574.99 1295.21,573.06 C1301.98,571.12 1308.75,568.7 1318.42,568.7 C1328.09,568.7 1343.08,570.74 1353.24,573.06 C1363.39,575.38 1372.1,581.33 1379.35,582.63 C1386.61,583.94 1393.86,581.18 1396.76,580.89" fill="none" stroke="#222" stroke-width="1.25"/>
<path d="M1257.49,587.56 L1256.04,606.42" fill="none" stroke="#222" stroke-width="1.25"/>
<path d="M1277.8,612.23 C1282.16,612.47 1295.21,614.89 1303.92,613.68 C1312.62,612.47 1320.12,607.49 1330.03,604.97 C1339.94,602.46 1357.83,599.65 1363.39,598.59" fill="none" stroke="#222" stroke-width="1.25"/>
<path d="M1254.59,606.42 C1257.49,608.36 1267.16,613.68 1272,618.03 C1276.84,622.38 1281.67,627.46 1283.61,632.54 C1285.54,637.61 1283.61,645.83 1283.61,648.49" fill="none" stroke="#222" stroke-width="1.25"/>
<path d="M1272,618.03 C1277.32,617.54 1296.18,613.68 1303.92,615.13 C1311.65,616.58 1313.59,623.83 1318.42,626.73 C1323.26,629.63 1330.51,631.57 1332.93,632.54" fill="none" stroke="#222" stroke-width="1.25"/>
<path d="M1242.99,560 C1246.85,562.9 1258.46,572.57 1266.2,577.41 C1273.93,582.24 1282.16,584.66 1289.41,589.01 C1296.66,593.37 1306.33,601.1 1309.72,603.52" fill="none" stroke="#222" stroke-width="1.25"/>
<polygon points="586.25,561.25 592.5,558.75 598,555.5 603.75,558.75 611.25,560.5 612.5,566.25 611.25,571.25 603.75,573.75 596.25,575 587.5,574.5 585,567.5" fill="#000" stroke="#000" stroke-width="1" stroke-linejoin="round"/>
<polygon points="1106.62,560.82 1112.42,557.34 1121.13,557.92 1129.83,560.82 1133.31,568.07 1129.83,573.87 1122.58,579.68 1118.23,579.68 1112.42,572.42 1106.62,569.52" fill="#000" stroke="#000" stroke-width="1" stroke-linejoin="round"/>
<text x="739.5" y="744" font-size="25" text-anchor="middle">50µm</text>
<line x1="718.2" y1="751.8" x2="761.6" y2="751.8" stroke="#000" stroke-width="3"/>
<line x1="1378.3" y1="691.5" x2="1421.7" y2="691.5" stroke="#000" stroke-width="3"/>
<text x="1426" y="44" font-size="30" font-weight="bold">C</text>
<line x1="1510.5" y1="47.92" x2="1510.5" y2="363.8" stroke="#222" stroke-width="1.4"/>
<line x1="1499" y1="352.8" x2="1920.11" y2="352.8" stroke="#222" stroke-width="1.5"/>
<line x1="1499" y1="352.8" x2="1510.5" y2="352.8" stroke="#222" stroke-width="1.4"/>
<text x="1494.5" y="361.3" font-size="24" text-anchor="end">0</text>
<line x1="1502" y1="327.44" x2="1510.5" y2="327.44" stroke="#222" stroke-width="1.4"/>
<line x1="1499" y1="302.07" x2="1510.5" y2="302.07" stroke="#222" stroke-width="1.4"/>
<text x="1494.5" y="310.57" font-size="24" text-anchor="end">3</text>
<line x1="1502" y1="276.71" x2="1510.5" y2="276.71" stroke="#222" stroke-width="1.4"/>
<line x1="1499" y1="251.34" x2="1510.5" y2="251.34" stroke="#222" stroke-width="1.4"/>
<text x="1494.5" y="259.84" font-size="24" text-anchor="end">6</text>
<line x1="1502" y1="225.98" x2="1510.5" y2="225.98" stroke="#222" stroke-width="1.4"/>
<line x1="1499" y1="200.61" x2="1510.5" y2="200.61" stroke="#222" stroke-width="1.4"/>
<text x="1494.5" y="209.11" font-size="24" text-anchor="end">9</text>
<line x1="1502" y1="175.25" x2="1510.5" y2="175.25" stroke="#222" stroke-width="1.4"/>
<line x1="1499" y1="149.88" x2="1510.5" y2="149.88" stroke="#222" stroke-width="1.4"/>
<text x="1494.5" y="158.38" font-size="24" text-anchor="end">12</text>
<line x1="1502" y1="124.52" x2="1510.5" y2="124.52" stroke="#222" stroke-width="1.4"/>
<line x1="1499" y1="99.15" x2="1510.5" y2="99.15" stroke="#222" stroke-width="1.4"/>
<text x="1494.5" y="107.65" font-size="24" text-anchor="end">15</text>
<line x1="1502" y1="73.79" x2="1510.5" y2="73.79" stroke="#222" stroke-width="1.4"/>
<line x1="1499" y1="48.42" x2="1510.5" y2="48.42" stroke="#222" stroke-width="1.4"/>
<text x="1494.5" y="56.92" font-size="24" text-anchor="end">18</text>
<line x1="1510.5" y1="352.8" x2="1510.5" y2="363.8" stroke="#222" stroke-width="1.4"/>
<text x="1510.5" y="386.2" font-size="24" text-anchor="middle">0</text>
<line x1="1539.71" y1="352.8" x2="1539.71" y2="360.8" stroke="#222" stroke-width="1.4"/>
<line x1="1568.91" y1="352.8" x2="1568.91" y2="363.8" stroke="#222" stroke-width="1.4"/>
<text x="1568.91" y="386.2" font-size="24" text-anchor="middle">50</text>
<line x1="1598.12" y1="352.8" x2="1598.12" y2="360.8" stroke="#222" stroke-width="1.4"/>
<line x1="1627.33" y1="352.8" x2="1627.33" y2="363.8" stroke="#222" stroke-width="1.4"/>
<text x="1627.33" y="386.2" font-size="24" text-anchor="middle">100</text>
<line x1="1656.54" y1="352.8" x2="1656.54" y2="360.8" stroke="#222" stroke-width="1.4"/>
<line x1="1685.74" y1="352.8" x2="1685.74" y2="363.8" stroke="#222" stroke-width="1.4"/>
<text x="1685.74" y="386.2" font-size="24" text-anchor="middle">150</text>
<line x1="1714.95" y1="352.8" x2="1714.95" y2="360.8" stroke="#222" stroke-width="1.4"/>
<line x1="1744.16" y1="352.8" x2="1744.16" y2="363.8" stroke="#222" stroke-width="1.4"/>
<text x="1744.16" y="386.2" font-size="24" text-anchor="middle">200</text>
<line x1="1773.37" y1="352.8" x2="1773.37" y2="360.8" stroke="#222" stroke-width="1.4"/>
<line x1="1802.58" y1="352.8" x2="1802.58" y2="363.8" stroke="#222" stroke-width="1.4"/>
<text x="1802.58" y="386.2" font-size="24" text-anchor="middle">250</text>
<line x1="1831.78" y1="352.8" x2="1831.78" y2="360.8" stroke="#222" stroke-width="1.4"/>
<line x1="1860.99" y1="352.8" x2="1860.99" y2="363.8" stroke="#222" stroke-width="1.4"/>
<text x="1860.99" y="386.2" font-size="24" text-anchor="middle">300</text>
<line x1="1890.2" y1="352.8" x2="1890.2" y2="360.8" stroke="#222" stroke-width="1.4"/>
<line x1="1919.4" y1="352.8" x2="1919.4" y2="363.8" stroke="#222" stroke-width="1.4"/>
<text x="1919.4" y="386.2" font-size="24" text-anchor="middle">350</text>
<text x="1714.45" y="414.8" font-size="27.6" text-anchor="middle">Distance from soma (µm)</text>
<text x="1463.5" y="200.61" font-size="27.5" text-anchor="middle" transform="rotate(-90 1463.5 200.61)"># of intersections</text>
<path d="M1522.18,297 C1528.41,281.21 1549.44,222.87 1559.57,202.3 C1569.69,181.73 1574.76,181.73 1582.93,173.55 C1591.11,165.38 1599.49,156.93 1608.64,153.26 C1617.79,149.6 1628.11,153.54 1637.84,151.57 C1647.58,149.6 1658.87,139.17 1667.05,141.43 C1675.23,143.68 1679.71,156.93 1686.91,165.1 C1694.12,173.27 1701.52,180.88 1710.28,190.46 C1719.04,200.05 1729.95,212.73 1739.49,222.59 C1749.03,232.46 1757.98,241.76 1767.53,249.65 C1777.07,257.54 1787,263.74 1796.73,269.94 C1806.47,276.14 1816.21,281.21 1825.94,286.85 C1835.68,292.49 1839.57,297.98 1855.15,303.76 C1870.73,309.54 1908.7,318.56 1919.4,321.52" fill="none" stroke="#c4c4c4" stroke-width="1.6" stroke-dasharray="6 4"/>
<path d="M1522.18,293.62 C1528.41,277.55 1549.05,217.66 1559.57,197.23 C1570.08,176.8 1577.09,173.84 1585.27,171.02 C1593.45,168.2 1599.87,173.98 1608.64,180.32 C1617.4,186.66 1628.11,199.48 1637.84,209.06 C1647.58,218.65 1657.51,230.2 1667.05,237.81 C1676.59,245.42 1685.55,250.78 1695.09,254.72 C1704.63,258.67 1714.56,259.51 1724.3,261.49 C1734.03,263.46 1743.77,263.74 1753.51,266.56 C1763.24,269.38 1770.64,273.04 1782.71,278.4 C1794.79,283.75 1811.53,293.33 1825.94,298.69 C1840.35,304.04 1853.59,306.3 1869.17,310.53 C1884.75,314.75 1911.03,321.8 1919.4,324.05" fill="none" stroke="#c4c4c4" stroke-width="1.6" stroke-dasharray="6 4"/>
<path d="M1522.18,295.31 C1528.41,280.93 1549.44,227.38 1559.57,209.06 C1569.69,190.75 1574.76,188.77 1582.93,185.39 C1591.11,182.01 1599.49,183.98 1608.64,188.77 C1617.79,193.56 1625.77,204.56 1637.84,214.14 C1649.92,223.72 1669,237.53 1681.07,246.27 C1693.14,255 1698.21,259.23 1710.28,266.56 C1722.35,273.89 1739.1,283.47 1753.51,290.23 C1767.92,297 1779.79,301.51 1796.73,307.14 C1813.67,312.78 1834.7,318.7 1855.15,324.05 C1875.59,329.41 1908.7,336.74 1919.4,339.27" fill="none" stroke="#c4c4c4" stroke-width="1.6" stroke-dasharray="6 4"/>
<path d="M1522.18,298.69 C1528.41,288.54 1548.66,249.93 1559.57,237.81 C1570.47,225.69 1577.09,225.98 1587.61,225.98 C1598.12,225.98 1609.42,233.02 1622.66,237.81 C1635.9,242.6 1652.45,247.96 1667.05,254.72 C1681.66,261.49 1695.87,271.07 1710.28,278.4 C1724.69,285.72 1739.1,292.49 1753.51,298.69 C1767.92,304.89 1769.08,308.41 1796.73,315.6 C1824.38,322.78 1898.96,337.44 1919.4,341.81" fill="none" stroke="#c4c4c4" stroke-width="1.6" stroke-dasharray="6 4"/>
<path d="M1522.18,302.07 C1526.86,295.31 1540.1,270.22 1550.22,261.49 C1560.35,252.75 1570.86,250.21 1582.93,249.65 C1595.01,249.09 1608.64,254.44 1622.66,258.1 C1636.68,261.77 1652.45,266.28 1667.05,271.63 C1681.66,276.99 1693.53,283.47 1710.28,290.23 C1727.02,297 1748.25,305.45 1767.53,312.22 C1786.8,318.98 1800.63,324.9 1825.94,330.82 C1851.25,336.74 1903.83,344.91 1919.4,347.73" fill="none" stroke="#c4c4c4" stroke-width="1.6" stroke-dasharray="6 4"/>
<path d="M1522.18,302.07 C1529.39,294.18 1552.56,262.61 1565.41,254.72 C1578.26,246.83 1587.22,252.75 1599.29,254.72 C1611.36,256.69 1624.21,262.61 1637.84,266.56 C1651.47,270.5 1666.66,272.48 1681.07,278.4 C1695.48,284.31 1709.89,295.31 1724.3,302.07 C1738.71,308.83 1735.01,311.93 1767.53,318.98 C1800.04,326.03 1894.09,340.12 1919.4,344.35" fill="none" stroke="#c4c4c4" stroke-width="1.6" stroke-dasharray="6 4"/>
<path d="M1522.18,295.31 C1528.41,282.34 1549.05,233.87 1559.57,217.52 C1570.08,201.17 1574.76,197.79 1585.27,197.23 C1595.79,196.66 1611.56,208.5 1622.66,214.14 C1633.76,219.77 1642.13,225.69 1651.86,231.05 C1661.6,236.4 1671.34,240.35 1681.07,246.27 C1690.81,252.19 1700.54,259.23 1710.28,266.56 C1720.02,273.89 1725.08,282.62 1739.49,290.23 C1753.9,297.84 1766.75,304.61 1796.73,312.22 C1826.72,319.83 1898.96,331.94 1919.4,335.89" fill="none" stroke="#c4c4c4" stroke-width="1.6" stroke-dasharray="6 4"/>
<path d="M1522.18,298.69 C1527.44,287.41 1543.6,244.29 1553.73,231.05 C1563.85,217.8 1572.42,219.49 1582.93,219.21 C1593.45,218.93 1605.33,224.85 1616.82,229.36 C1628.3,233.87 1638.82,239.5 1651.86,246.27 C1664.91,253.03 1680.49,261.77 1695.09,269.94 C1709.7,278.11 1722.55,286.71 1739.49,295.31 C1756.43,303.9 1766.75,313.34 1796.73,321.52 C1826.72,329.69 1898.96,340.54 1919.4,344.35" fill="none" stroke="#c4c4c4" stroke-width="1.6" stroke-dasharray="6 4"/>
<path d="M1522.18,300.38 C1525.1,283.75 1533.09,232.74 1539.71,200.61 C1546.33,168.48 1554.7,120.29 1561.91,107.61 C1569.11,94.92 1575.73,115.5 1582.93,124.52 C1590.14,133.53 1597.54,148.75 1605.13,161.72 C1612.73,174.68 1620.71,189.05 1628.5,202.3 C1636.29,215.55 1643.1,228.51 1651.86,241.19 C1660.63,253.88 1671.34,267.4 1681.07,278.4 C1690.81,289.39 1698.21,298.97 1710.28,307.14 C1722.35,315.32 1739.1,322.08 1753.51,327.44 C1767.92,332.79 1769.08,335.61 1796.73,339.27 C1824.38,342.94 1898.96,347.73 1919.4,349.42" fill="none" stroke="#f27e6e" stroke-width="1.6" stroke-dasharray="6 4"/>
<path d="M1522.18,305.45 C1526.08,289.39 1536.79,236.4 1545.55,209.06 C1554.31,181.73 1564.24,157.77 1574.76,141.43 C1585.27,125.08 1596.76,112.4 1608.64,110.99 C1620.51,109.58 1636.29,125.36 1646.02,132.97 C1655.76,140.58 1656.34,147.34 1667.05,156.64 C1677.76,165.94 1698.21,178.06 1710.28,188.77 C1722.35,199.48 1729.95,211.32 1739.49,220.9 C1749.03,230.48 1757.98,235.84 1767.53,246.27 C1777.07,256.69 1787,275.86 1796.73,283.47 C1806.47,291.08 1816.21,287.98 1825.94,291.92 C1835.68,295.87 1839.57,300.66 1855.15,307.14 C1870.73,313.63 1908.7,326.87 1919.4,330.82" fill="none" stroke="#f27e6e" stroke-width="1.6" stroke-dasharray="6 4"/>
<path d="M1522.18,302.07 C1528.41,279.24 1549.54,192.16 1559.57,165.1 C1569.6,138.04 1574.17,140.3 1582.35,139.73 C1590.53,139.17 1599.39,151.29 1608.64,161.72 C1617.89,172.14 1628.11,188.21 1637.84,202.3 C1647.58,216.39 1654.98,232.74 1667.05,246.27 C1679.12,259.8 1693.53,271.35 1710.28,283.47 C1727.02,295.59 1748.25,310.24 1767.53,318.98 C1786.8,327.72 1800.63,331.1 1825.94,335.89 C1851.25,340.68 1903.83,345.75 1919.4,347.73" fill="none" stroke="#f27e6e" stroke-width="1.6" stroke-dasharray="6 4"/>
<path d="M1522.18,303.76 C1526.86,286.85 1539.22,223.44 1550.22,202.3 C1561.22,181.16 1576.12,176.94 1588.19,176.94 C1600.26,176.94 1612.04,193.28 1622.66,202.3 C1633.27,211.32 1642.13,221.18 1651.86,231.05 C1661.6,240.91 1671.34,252.19 1681.07,261.49 C1690.81,270.79 1695.87,277.27 1710.28,286.85 C1724.69,296.43 1732.67,309.12 1767.53,318.98 C1802.38,328.84 1894.09,341.53 1919.4,346.04" fill="none" stroke="#f27e6e" stroke-width="1.6" stroke-dasharray="6 4"/>
<path d="M1522.18,305.45 C1526.86,290.8 1541.07,234.71 1550.22,217.52 C1559.37,200.33 1567.94,201.74 1577.09,202.3 C1586.24,202.86 1594.62,213.57 1605.13,220.9 C1615.65,228.23 1627.52,237.25 1640.18,246.27 C1652.84,255.29 1664.52,264.87 1681.07,275.01 C1697.62,285.16 1720.21,297.84 1739.49,307.14 C1758.76,316.44 1766.75,324.05 1796.73,330.82 C1826.72,337.58 1898.96,344.91 1919.4,347.73" fill="none" stroke="#f27e6e" stroke-width="1.6" stroke-dasharray="6 4"/>
<path d="M1522.18,307.14 C1528.41,295.59 1547.59,250.78 1559.57,237.81 C1571.54,224.85 1583.52,228.79 1594.03,229.36 C1604.55,229.92 1610.49,234.43 1622.66,241.19 C1634.83,247.96 1652.45,260.92 1667.05,269.94 C1681.66,278.96 1693.53,286.71 1710.28,295.31 C1727.02,303.9 1732.67,312.78 1767.53,321.52 C1802.38,330.25 1894.09,343.36 1919.4,347.73" fill="none" stroke="#f27e6e" stroke-width="1.6" stroke-dasharray="6 4"/>
<path d="M1522.18,308.83 C1524.52,303.76 1529,286.29 1536.2,278.4 C1543.41,270.5 1557.62,264.3 1565.41,261.49 C1573.2,258.67 1573.39,259.23 1582.93,261.49 C1592.48,263.74 1611.17,270.22 1622.66,275.01 C1634.15,279.81 1642.13,285.44 1651.86,290.23 C1661.6,295.02 1666.47,298.12 1681.07,303.76 C1695.68,309.4 1720.21,318.7 1739.49,324.05 C1758.76,329.41 1766.75,331.66 1796.73,335.89 C1826.72,340.12 1898.96,347.16 1919.4,349.42" fill="none" stroke="#f27e6e" stroke-width="1.6" stroke-dasharray="6 4"/>
<path d="M1522.18,308.83 C1524.52,304.04 1529.97,286.29 1536.2,280.09 C1542.43,273.89 1552.75,273.32 1559.57,271.63 C1566.38,269.94 1571.35,268.81 1577.09,269.94 C1582.84,271.07 1586.44,275.01 1594.03,278.4 C1601.63,281.78 1613.02,284.88 1622.66,290.23 C1632.3,295.59 1642.13,306.3 1651.86,310.53 C1661.6,314.75 1671.34,313.77 1681.07,315.6 C1690.81,317.43 1700.54,318.7 1710.28,321.52 C1720.02,324.33 1704.63,327.72 1739.49,332.51 C1774.34,337.3 1889.42,347.3 1919.4,350.26" fill="none" stroke="#f27e6e" stroke-width="1.6" stroke-dasharray="6 4"/>
<path d="M1522.18,305.45 C1525.49,296.43 1534.84,264.59 1542.04,251.34 C1549.25,238.09 1556.75,232.18 1565.41,225.98 C1574.07,219.77 1584.49,213.57 1594.03,214.14 C1603.57,214.7 1613.02,222.59 1622.66,229.36 C1632.3,236.12 1642.13,246.55 1651.86,254.72 C1661.6,262.9 1669,270.22 1681.07,278.4 C1693.14,286.57 1709.89,296.15 1724.3,303.76 C1738.71,311.37 1735.01,317.01 1767.53,324.05 C1800.04,331.1 1894.09,342.37 1919.4,346.04" fill="none" stroke="#f27e6e" stroke-width="1.6" stroke-dasharray="6 4"/>
<path d="M1522.07,297 C1523.06,292.49 1526.06,276.99 1528.02,269.94 C1529.99,262.9 1530.95,260.36 1533.87,254.72 C1536.79,249.09 1541.65,241.19 1545.55,236.12 C1549.44,231.05 1553.34,227.95 1557.23,224.28 C1561.13,220.62 1564.63,216.34 1568.91,214.14 C1573.2,211.94 1578.65,211.52 1582.93,211.09 C1587.22,210.67 1590.14,210.67 1594.62,211.6 C1599.1,212.53 1605.13,215.12 1609.81,216.67 C1614.48,218.22 1617.79,218.79 1622.66,220.9 C1627.52,223.02 1633.37,226.54 1639.01,229.36 C1644.66,232.18 1651.47,234.99 1656.54,237.81 C1661.6,240.63 1664.52,242.88 1669.39,246.27 C1674.26,249.65 1678.93,253.31 1685.74,258.1 C1692.56,262.9 1703.46,270.5 1710.28,275.01 C1717.09,279.52 1720.99,281.92 1726.64,285.16 C1732.28,288.4 1737.34,291.22 1744.16,294.46 C1750.98,297.7 1758.76,300.8 1767.53,304.61 C1776.29,308.41 1787,313.63 1796.73,317.29 C1806.47,320.95 1816.21,323.77 1825.94,326.59 C1835.68,329.41 1845.41,332.14 1855.15,334.2 C1864.88,336.26 1873.65,337.24 1884.36,338.93 C1895.07,340.62 1913.56,343.44 1919.4,344.35" fill="none" stroke="#bdbdbd" stroke-width="7" stroke-linejoin="round" opacity="0.75"/>
<path d="M1522.07,307.14 C1523.06,302.07 1525.67,285.44 1528.02,276.71 C1530.38,267.97 1533.28,262.33 1536.2,254.72 C1539.12,247.11 1542.63,238.09 1545.55,231.05 C1548.47,224 1550.03,217.8 1553.73,212.45 C1557.43,207.09 1562.96,201.31 1567.75,198.92 C1572.54,196.52 1578.09,197.68 1582.47,198.07 C1586.85,198.47 1589.67,198.89 1594.03,201.29 C1598.4,203.68 1603.87,208.9 1608.64,212.45 C1613.41,216 1617.59,218.65 1622.66,222.59 C1627.72,226.54 1634.15,232.18 1639.01,236.12 C1643.88,240.07 1647,242.04 1651.86,246.27 C1656.73,250.49 1663.35,256.98 1668.22,261.49 C1673.09,266 1676.59,269.38 1681.07,273.32 C1685.55,277.27 1691.2,281.78 1695.09,285.16 C1698.99,288.54 1700.15,290.66 1704.44,293.62 C1708.72,296.57 1716,300.18 1720.79,302.92 C1725.58,305.65 1728.31,307.62 1733.18,310.02 C1738.05,312.41 1744.28,315.37 1750,317.29 C1755.73,319.21 1759.74,319.26 1767.53,321.52 C1775.31,323.77 1787,328.28 1796.73,330.82 C1806.47,333.35 1815.23,334.9 1825.94,336.74 C1836.65,338.57 1845.41,340.12 1860.99,341.81 C1876.57,343.5 1909.67,346.04 1919.4,346.88" fill="none" stroke="#f3b3b3" stroke-width="7" stroke-linejoin="round" opacity="0.75"/>
<path d="M1522.07,297 C1523.06,292.49 1526.06,276.99 1528.02,269.94 C1529.99,262.9 1530.95,260.36 1533.87,254.72 C1536.79,249.09 1541.65,241.19 1545.55,236.12 C1549.44,231.05 1553.34,227.95 1557.23,224.28 C1561.13,220.62 1564.63,216.34 1568.91,214.14 C1573.2,211.94 1578.65,211.52 1582.93,211.09 C1587.22,210.67 1590.14,210.67 1594.62,211.6 C1599.1,212.53 1605.13,215.12 1609.81,216.67 C1614.48,218.22 1617.79,218.79 1622.66,220.9 C1627.52,223.02 1633.37,226.54 1639.01,229.36 C1644.66,232.18 1651.47,234.99 1656.54,237.81 C1661.6,240.63 1664.52,242.88 1669.39,246.27 C1674.26,249.65 1678.93,253.31 1685.74,258.1 C1692.56,262.9 1703.46,270.5 1710.28,275.01 C1717.09,279.52 1720.99,281.92 1726.64,285.16 C1732.28,288.4 1737.34,291.22 1744.16,294.46 C1750.98,297.7 1758.76,300.8 1767.53,304.61 C1776.29,308.41 1787,313.63 1796.73,317.29 C1806.47,320.95 1816.21,323.77 1825.94,326.59 C1835.68,329.41 1845.41,332.14 1855.15,334.2 C1864.88,336.26 1873.65,337.24 1884.36,338.93 C1895.07,340.62 1913.56,343.44 1919.4,344.35" fill="none" stroke="#000" stroke-width="3.2"/>
<path d="M1522.07,307.14 C1523.06,302.07 1525.67,285.44 1528.02,276.71 C1530.38,267.97 1533.28,262.33 1536.2,254.72 C1539.12,247.11 1542.63,238.09 1545.55,231.05 C1548.47,224 1550.03,217.8 1553.73,212.45 C1557.43,207.09 1562.96,201.31 1567.75,198.92 C1572.54,196.52 1578.09,197.68 1582.47,198.07 C1586.85,198.47 1589.67,198.89 1594.03,201.29 C1598.4,203.68 1603.87,208.9 1608.64,212.45 C1613.41,216 1617.59,218.65 1622.66,222.59 C1627.72,226.54 1634.15,232.18 1639.01,236.12 C1643.88,240.07 1647,242.04 1651.86,246.27 C1656.73,250.49 1663.35,256.98 1668.22,261.49 C1673.09,266 1676.59,269.38 1681.07,273.32 C1685.55,277.27 1691.2,281.78 1695.09,285.16 C1698.99,288.54 1700.15,290.66 1704.44,293.62 C1708.72,296.57 1716,300.18 1720.79,302.92 C1725.58,305.65 1728.31,307.62 1733.18,310.02 C1738.05,312.41 1744.28,315.37 1750,317.29 C1755.73,319.21 1759.74,319.26 1767.53,321.52 C1775.31,323.77 1787,328.28 1796.73,330.82 C1806.47,333.35 1815.23,334.9 1825.94,336.74 C1836.65,338.57 1845.41,340.12 1860.99,341.81 C1876.57,343.5 1909.67,346.04 1919.4,346.88" fill="none" stroke="#d92b2b" stroke-width="3.2"/>
<text x="1728" y="37" font-size="30.3" text-anchor="middle" font-style="italic">30-60 days</text>
<line x1="1535.9" y1="57.3" x2="1561.9" y2="57.3" stroke="#000" stroke-width="3.6"/>
<line x1="1535.9" y1="90.6" x2="1561.9" y2="90.6" stroke="#d92b2b" stroke-width="3.6"/>
<text x="1568.5" y="66" font-size="22.7">Neurotypical (n = 186 neurons)</text>
<text x="1568.5" y="99.3" font-size="22.7">MPSIIIA (n = 180 neurons)</text>
<polyline points="1886.3,60.5 1895.6,60.5 1895.6,97.6 1886.3,97.6" fill="none" stroke="#222" stroke-width="1.5"/>
<text x="1903.5" y="87" font-size="22.5">0.02</text>
<line x1="1779" y1="155.8" x2="1801" y2="155.8" stroke="#c8c8c8" stroke-width="4"/>
<line x1="1779" y1="206.2" x2="1801" y2="206.2" stroke="#f08878" stroke-width="4"/>
<text x="1808.5" y="159.6" font-size="21.9">Mean of individual</text>
<text x="1808.5" y="185.6" font-size="21.9">neurotypical donors</text>
<text x="1808.5" y="211.6" font-size="21.9">Mean of individual</text>
<text x="1808.5" y="237.6" font-size="21.9">MPSIIIA donors</text>
<line x1="1506.3" y1="533.76" x2="1506.3" y2="850" stroke="#222" stroke-width="1.4"/>
<line x1="1494.8" y1="839" x2="1915.41" y2="839" stroke="#222" stroke-width="1.5"/>
<line x1="1494.8" y1="839" x2="1506.3" y2="839" stroke="#222" stroke-width="1.4"/>
<text x="1490.3" y="847.5" font-size="24" text-anchor="end">0</text>
<line x1="1497.8" y1="813.61" x2="1506.3" y2="813.61" stroke="#222" stroke-width="1.4"/>
<line x1="1494.8" y1="788.21" x2="1506.3" y2="788.21" stroke="#222" stroke-width="1.4"/>
<text x="1490.3" y="796.71" font-size="24" text-anchor="end">3</text>
<line x1="1497.8" y1="762.82" x2="1506.3" y2="762.82" stroke="#222" stroke-width="1.4"/>
<line x1="1494.8" y1="737.42" x2="1506.3" y2="737.42" stroke="#222" stroke-width="1.4"/>
<text x="1490.3" y="745.92" font-size="24" text-anchor="end">6</text>
<line x1="1497.8" y1="712.02" x2="1506.3" y2="712.02" stroke="#222" stroke-width="1.4"/>
<line x1="1494.8" y1="686.63" x2="1506.3" y2="686.63" stroke="#222" stroke-width="1.4"/>
<text x="1490.3" y="695.13" font-size="24" text-anchor="end">9</text>
<line x1="1497.8" y1="661.24" x2="1506.3" y2="661.24" stroke="#222" stroke-width="1.4"/>
<line x1="1494.8" y1="635.84" x2="1506.3" y2="635.84" stroke="#222" stroke-width="1.4"/>
<text x="1490.3" y="644.34" font-size="24" text-anchor="end">12</text>
<line x1="1497.8" y1="610.44" x2="1506.3" y2="610.44" stroke="#222" stroke-width="1.4"/>
<line x1="1494.8" y1="585.05" x2="1506.3" y2="585.05" stroke="#222" stroke-width="1.4"/>
<text x="1490.3" y="593.55" font-size="24" text-anchor="end">15</text>
<line x1="1497.8" y1="559.65" x2="1506.3" y2="559.65" stroke="#222" stroke-width="1.4"/>
<line x1="1494.8" y1="534.26" x2="1506.3" y2="534.26" stroke="#222" stroke-width="1.4"/>
<text x="1490.3" y="542.76" font-size="24" text-anchor="end">18</text>
<line x1="1506.3" y1="839" x2="1506.3" y2="850" stroke="#222" stroke-width="1.4"/>
<text x="1506.3" y="872.4" font-size="24" text-anchor="middle">0</text>
<line x1="1535.47" y1="839" x2="1535.47" y2="847" stroke="#222" stroke-width="1.4"/>
<line x1="1564.64" y1="839" x2="1564.64" y2="850" stroke="#222" stroke-width="1.4"/>
<text x="1564.64" y="872.4" font-size="24" text-anchor="middle">50</text>
<line x1="1593.82" y1="839" x2="1593.82" y2="847" stroke="#222" stroke-width="1.4"/>
<line x1="1622.99" y1="839" x2="1622.99" y2="850" stroke="#222" stroke-width="1.4"/>
<text x="1622.99" y="872.4" font-size="24" text-anchor="middle">100</text>
<line x1="1652.16" y1="839" x2="1652.16" y2="847" stroke="#222" stroke-width="1.4"/>
<line x1="1681.34" y1="839" x2="1681.34" y2="850" stroke="#222" stroke-width="1.4"/>
<text x="1681.34" y="872.4" font-size="24" text-anchor="middle">150</text>
<line x1="1710.51" y1="839" x2="1710.51" y2="847" stroke="#222" stroke-width="1.4"/>
<line x1="1739.68" y1="839" x2="1739.68" y2="850" stroke="#222" stroke-width="1.4"/>
<text x="1739.68" y="872.4" font-size="24" text-anchor="middle">200</text>
<line x1="1768.85" y1="839" x2="1768.85" y2="847" stroke="#222" stroke-width="1.4"/>
<line x1="1798.03" y1="839" x2="1798.03" y2="850" stroke="#222" stroke-width="1.4"/>
<text x="1798.03" y="872.4" font-size="24" text-anchor="middle">250</text>
<line x1="1827.2" y1="839" x2="1827.2" y2="847" stroke="#222" stroke-width="1.4"/>
<line x1="1856.37" y1="839" x2="1856.37" y2="850" stroke="#222" stroke-width="1.4"/>
<text x="1856.37" y="872.4" font-size="24" text-anchor="middle">300</text>
<line x1="1885.54" y1="839" x2="1885.54" y2="847" stroke="#222" stroke-width="1.4"/>
<line x1="1914.71" y1="839" x2="1914.71" y2="850" stroke="#222" stroke-width="1.4"/>
<text x="1914.71" y="872.4" font-size="24" text-anchor="middle">350</text>
<text x="1710.01" y="901" font-size="27.6" text-anchor="middle">Distance from soma (µm)</text>
<text x="1459.3" y="686.63" font-size="27.5" text-anchor="middle" transform="rotate(-90 1459.3 686.63)"># of intersections</text>
<path d="M1517.97,789.9 C1523.8,768.46 1542.28,690.86 1552.98,661.24 C1563.67,631.61 1574.37,622.58 1582.15,612.14 C1589.93,601.7 1592.85,601.98 1599.65,598.59 C1606.46,595.21 1614.32,591.54 1622.99,591.82 C1631.66,592.1 1643.04,597.32 1651.7,600.29 C1660.35,603.25 1667.64,604.24 1674.92,609.6 C1682.19,614.96 1687.15,623.85 1695.34,632.45 C1703.53,641.06 1714.42,650.51 1724.04,661.24 C1733.67,671.96 1743.49,687.05 1753.1,696.79 C1762.71,706.52 1769.63,710.9 1781.69,719.64 C1793.75,728.39 1810.86,740.66 1825.45,749.27 C1840.03,757.88 1854.33,764.51 1869.21,771.28 C1884.08,778.05 1907.13,786.8 1914.71,789.9" fill="none" stroke="#c4c4c4" stroke-width="1.6" stroke-dasharray="6 4"/>
<path d="M1517.97,791.6 C1523.8,772.41 1542.28,703 1552.98,676.47 C1563.67,649.95 1572.42,643.18 1582.15,632.45 C1591.87,621.73 1601.66,616.93 1611.32,612.14 C1620.99,607.34 1630.52,603.67 1640.14,603.67 C1649.77,603.67 1659.49,604.8 1669.08,612.14 C1678.67,619.47 1688.04,634.71 1697.67,647.69 C1707.3,660.67 1717.12,677.6 1726.84,690.02 C1736.57,702.43 1746.29,713.44 1756.02,722.18 C1765.74,730.93 1773.71,735.16 1785.19,742.5 C1796.66,749.84 1810.86,758.86 1824.86,766.2 C1838.87,773.54 1854.23,780.31 1869.21,786.52 C1884.18,792.72 1907.13,800.63 1914.71,803.45" fill="none" stroke="#c4c4c4" stroke-width="1.6" stroke-dasharray="6 4"/>
<path d="M1517.97,794.98 C1523.8,777.49 1542.28,711.18 1552.98,690.02 C1563.67,668.85 1572.42,672.8 1582.15,668.01 C1591.87,663.21 1601.66,661.24 1611.32,661.24 C1620.99,661.24 1630.52,664.06 1640.14,668.01 C1649.77,671.96 1659.49,677.88 1669.08,684.94 C1678.67,691.99 1688.04,702.15 1697.67,710.33 C1707.3,718.51 1717.12,726.7 1726.84,734.03 C1736.57,741.37 1744.35,747.58 1756.02,754.35 C1767.69,761.12 1782.86,768.46 1796.86,774.67 C1810.86,780.87 1820.39,785.3 1840.03,791.6 C1859.68,797.89 1902.27,808.95 1914.71,812.42" fill="none" stroke="#c4c4c4" stroke-width="1.6" stroke-dasharray="6 4"/>
<path d="M1517.97,794.98 C1523.8,783.41 1544.22,738.55 1552.98,725.57 C1561.73,712.59 1563.67,717.1 1570.48,717.1 C1577.29,717.1 1585.07,721.76 1593.82,725.57 C1602.57,729.38 1613.34,735.16 1622.99,739.96 C1632.64,744.76 1642.17,749.41 1651.7,754.35 C1661.23,759.29 1670.56,764.79 1680.17,769.59 C1689.78,774.38 1699.62,778.33 1709.34,783.13 C1719.06,787.93 1726.46,793.49 1738.51,798.37 C1750.57,803.25 1764.77,807.68 1781.69,812.42 C1798.61,817.16 1817.86,822.72 1840.03,826.81 C1862.2,830.9 1902.27,835.28 1914.71,836.97" fill="none" stroke="#c4c4c4" stroke-width="1.6" stroke-dasharray="6 4"/>
<path d="M1517.97,791.6 C1523.8,774.67 1542.28,707.79 1552.98,690.02 C1563.67,672.24 1571.45,684.94 1582.15,684.94 C1592.85,684.94 1605.56,686.07 1617.16,690.02 C1628.75,693.97 1641.19,701.87 1651.7,708.64 C1662.2,715.41 1670.56,723.03 1680.17,730.65 C1689.78,738.27 1699.62,747.58 1709.34,754.35 C1719.06,761.12 1726.46,764.51 1738.51,771.28 C1750.57,778.05 1767.3,788.13 1781.69,794.98 C1796.08,801.84 1802.69,806.16 1824.86,812.42 C1847.03,818.68 1899.74,829.21 1914.71,832.57" fill="none" stroke="#c4c4c4" stroke-width="1.6" stroke-dasharray="6 4"/>
<path d="M1517.97,791.6 C1523.8,773.82 1542.28,707.51 1552.98,684.94 C1563.67,662.36 1572.42,661.94 1582.15,656.16 C1591.87,650.37 1601.66,649.38 1611.32,650.23 C1620.99,651.08 1630.52,655.45 1640.14,661.24 C1649.77,667.02 1659.49,675.63 1669.08,684.94 C1678.67,694.25 1688.04,707.51 1697.67,717.1 C1707.3,726.7 1715.18,733.47 1726.84,742.5 C1738.51,751.53 1753.68,763.1 1767.69,771.28 C1781.69,779.46 1796.47,785.67 1810.86,791.6 C1825.25,797.52 1836.73,801.47 1854.04,806.83 C1871.35,812.19 1904.6,820.94 1914.71,823.76" fill="none" stroke="#c4c4c4" stroke-width="1.6" stroke-dasharray="6 4"/>
<path d="M1517.97,796.67 C1523.8,780.45 1542.28,717.1 1552.98,699.33 C1563.67,681.55 1571.45,690.02 1582.15,690.02 C1592.85,690.02 1605.56,694.39 1617.16,699.33 C1628.75,704.27 1641.19,712.45 1651.7,719.64 C1662.2,726.84 1670.56,735.3 1680.17,742.5 C1689.78,749.69 1697.28,755.48 1709.34,762.82 C1721.4,770.15 1737.93,779.75 1752.52,786.52 C1767.1,793.29 1779.94,797.69 1796.86,803.45 C1813.78,809.2 1834.39,815.69 1854.04,821.05 C1873.68,826.42 1904.6,833.19 1914.71,835.61" fill="none" stroke="#c4c4c4" stroke-width="1.6" stroke-dasharray="6 4"/>
<path d="M1517.97,803.45 C1521.86,777.77 1533.53,684.65 1541.31,649.38 C1549.09,614.11 1557.84,604.8 1564.64,591.82 C1571.45,578.84 1576.31,578 1582.15,571.51 C1587.98,565.02 1593.82,553.45 1599.65,552.88 C1605.49,552.32 1609.38,565.02 1617.16,568.12 C1624.93,571.22 1637.67,567.98 1646.33,571.51 C1654.98,575.03 1661.5,581.38 1669.08,589.28 C1676.67,597.18 1685.13,610.59 1691.84,618.91 C1698.55,627.23 1701.56,632.17 1709.34,639.23 C1717.12,646.28 1728.79,652.21 1738.51,661.24 C1748.24,670.26 1757.96,682.68 1767.69,693.4 C1777.41,704.12 1787.23,717.39 1796.86,725.57 C1806.49,733.75 1815.92,736.29 1825.45,742.5 C1834.98,748.71 1844.41,756.89 1854.04,762.82 C1863.66,768.74 1873.1,773.54 1883.21,778.05 C1893.32,782.57 1909.46,787.93 1914.71,789.9" fill="none" stroke="#f27e6e" stroke-width="1.6" stroke-dasharray="6 4"/>
<path d="M1517.97,800.06 C1521.86,776.92 1533.53,693.97 1541.31,661.24 C1549.09,628.5 1556.87,616.09 1564.64,603.67 C1572.42,591.26 1580.2,586.74 1587.98,586.74 C1595.76,586.74 1603.54,596.05 1611.32,603.67 C1619.1,611.29 1627.07,622.86 1634.66,632.45 C1642.24,642.05 1649.25,651.64 1656.83,661.24 C1664.41,670.83 1671.42,680.7 1680.17,690.02 C1688.92,699.33 1699.62,708.36 1709.34,717.1 C1719.06,725.85 1726.46,732.34 1738.51,742.5 C1750.57,752.66 1767.3,768.46 1781.69,778.05 C1796.08,787.65 1802.69,791.88 1824.86,800.06 C1847.03,808.24 1899.74,822.63 1914.71,827.15" fill="none" stroke="#f27e6e" stroke-width="1.6" stroke-dasharray="6 4"/>
<path d="M1517.97,794.98 C1522.83,763.94 1539.36,643.04 1547.14,608.75 C1554.92,574.47 1558.81,590.13 1564.64,589.28 C1570.48,588.44 1575.34,603.25 1582.15,603.67 C1588.96,604.1 1597.71,589.28 1605.49,591.82 C1613.27,594.36 1621.12,609.6 1628.82,618.91 C1636.53,628.22 1643.14,636.69 1651.7,647.69 C1660.25,658.7 1670.56,673.93 1680.17,684.94 C1689.78,695.94 1699.62,704.97 1709.34,713.72 C1719.06,722.47 1726.46,727.83 1738.51,737.42 C1750.57,747.01 1767.3,761.69 1781.69,771.28 C1796.08,780.87 1802.69,786.23 1824.86,794.98 C1847.03,803.73 1899.74,818.97 1914.71,823.76" fill="none" stroke="#f27e6e" stroke-width="1.6" stroke-dasharray="6 4"/>
<path d="M1517.97,800.06 C1522.83,781.72 1536.44,711.74 1547.14,690.02 C1557.84,668.29 1570.48,671.11 1582.15,669.7 C1593.82,668.29 1605.56,676.61 1617.16,681.55 C1628.75,686.49 1641.19,693.4 1651.7,699.33 C1662.2,705.25 1670.56,710.76 1680.17,717.1 C1689.78,723.45 1697.28,728.67 1709.34,737.42 C1721.4,746.17 1737.93,759.99 1752.52,769.59 C1767.1,779.18 1769.82,784.97 1796.86,794.98 C1823.89,805 1895.07,823.9 1914.71,829.69" fill="none" stroke="#f27e6e" stroke-width="1.6" stroke-dasharray="6 4"/>
<path d="M1517.97,796.67 C1522.83,779.46 1537.42,712.03 1547.14,693.4 C1556.87,674.78 1566.59,686.91 1576.31,684.94 C1586.04,682.96 1595.76,679.15 1605.49,681.55 C1615.21,683.95 1624.55,692.98 1634.66,699.33 C1644.77,705.68 1656.05,711.32 1666.17,719.64 C1676.28,727.97 1685.69,741.51 1695.34,749.27 C1704.98,757.03 1711.99,759.43 1724.04,766.2 C1736.1,772.97 1750.88,782.71 1767.69,789.9 C1784.49,797.1 1800.36,802.32 1824.86,809.37 C1849.37,816.43 1899.74,828.42 1914.71,832.23" fill="none" stroke="#f27e6e" stroke-width="1.6" stroke-dasharray="6 4"/>
<path d="M1517.97,803.45 C1519.91,798.17 1525.75,776.58 1529.64,771.79 C1533.53,766.99 1536.44,777.01 1541.31,774.67 C1546.17,772.32 1552,762.53 1558.81,757.74 C1565.62,752.94 1575.34,748.85 1582.15,745.88 C1588.96,742.92 1592.85,739.11 1599.65,739.96 C1606.46,740.81 1614.32,747.15 1622.99,750.96 C1631.66,754.77 1642.17,757.91 1651.7,762.82 C1661.23,767.72 1672.51,774.58 1680.17,780.42 C1687.83,786.26 1687.95,792.53 1697.67,797.86 C1707.4,803.19 1724.51,808.55 1738.51,812.42 C1752.52,816.29 1752.32,817.47 1781.69,821.05 C1811.06,824.64 1892.54,831.78 1914.71,833.92" fill="none" stroke="#f27e6e" stroke-width="1.6" stroke-dasharray="6 4"/>
<path d="M1517.97,796.67 C1522.83,782.85 1536.44,729.52 1547.14,713.72 C1557.84,697.92 1570.48,702.71 1582.15,701.87 C1593.82,701.02 1605.56,703.84 1617.16,708.64 C1628.75,713.44 1641.19,723.59 1651.7,730.65 C1662.2,737.7 1670.56,744.11 1680.17,750.96 C1689.78,757.82 1697.28,764.45 1709.34,771.79 C1721.4,779.12 1737.93,788.72 1752.52,794.98 C1767.1,801.25 1769.82,803.16 1796.86,809.37 C1823.89,815.58 1895.07,828.42 1914.71,832.23" fill="none" stroke="#f27e6e" stroke-width="1.6" stroke-dasharray="6 4"/>
<path d="M1517.97,806.83 C1521.86,793.29 1531.58,745.88 1541.31,725.57 C1551.03,705.25 1564.64,690.86 1576.31,684.94 C1587.98,679.01 1600.62,686.07 1611.32,690.02 C1622.02,693.97 1630.87,701.3 1640.49,708.64 C1650.12,715.98 1658.58,725 1669.08,734.03 C1679.58,743.06 1691.93,754.07 1703.51,762.82 C1715.08,771.56 1722.95,779.18 1738.51,786.52 C1754.07,793.85 1767.49,799.36 1796.86,806.83 C1826.23,814.31 1895.07,827.29 1914.71,831.38" fill="none" stroke="#f27e6e" stroke-width="1.6" stroke-dasharray="6 4"/>
<path d="M1518.44,790.58 C1519.33,783.98 1521.86,761.52 1523.8,750.96 C1525.75,740.41 1527.13,735.44 1530.1,727.26 C1533.08,719.08 1537.81,709.06 1541.66,701.87 C1545.51,694.67 1549.36,689.87 1553.21,684.09 C1557.06,678.31 1560.89,671.82 1564.76,667.16 C1568.63,662.5 1572.56,658.55 1576.43,656.16 C1580.3,653.76 1584.11,653.53 1587.98,652.77 C1591.85,652.01 1595.76,651.16 1599.65,651.58 C1603.54,652.01 1607.47,653.98 1611.32,655.31 C1615.17,656.64 1617.95,657.43 1622.76,659.54 C1627.56,661.66 1633.39,664.25 1640.14,668.01 C1646.89,671.76 1656.5,677.26 1663.25,682.06 C1670,686.86 1674.84,691.51 1680.63,696.79 C1686.43,702.06 1691.25,707.51 1698.02,713.72 C1704.79,719.93 1714.49,728.67 1721.24,734.03 C1727.99,739.4 1732.72,741.51 1738.51,745.88 C1744.31,750.26 1749.21,755.48 1756.02,760.28 C1762.82,765.07 1772.61,771.05 1779.35,774.67 C1786.1,778.28 1789.78,778.56 1796.51,781.95 C1803.24,785.33 1812.01,791.4 1819.73,794.98 C1827.45,798.57 1835.11,800.54 1842.83,803.45 C1850.55,806.35 1858.35,809.97 1866.06,812.42 C1873.76,814.87 1880.93,816.4 1889.04,818.18 C1897.15,819.95 1910.44,822.27 1914.71,823.09" fill="none" stroke="#bdbdbd" stroke-width="7" stroke-linejoin="round" opacity="0.75"/>
<path d="M1518.44,792.1 C1519.14,786.38 1521.18,766.85 1522.64,757.74 C1524.1,748.62 1524.99,745.6 1527.19,737.42 C1529.39,729.24 1532.46,718.23 1535.82,708.64 C1539.19,699.05 1543.02,689.59 1547.37,679.86 C1551.73,670.12 1557.14,657.57 1561.96,650.23 C1566.78,642.89 1571.98,638.89 1576.31,635.84 C1580.65,632.79 1584.09,631.66 1587.98,631.95 C1591.87,632.23 1594.83,634.49 1599.65,637.53 C1604.48,640.58 1611.15,645.72 1616.92,650.23 C1622.7,654.75 1628.51,658.84 1634.31,664.62 C1640.1,670.41 1645.9,678.16 1651.7,684.94 C1657.49,691.71 1662.33,697.55 1669.08,705.25 C1675.83,712.96 1685.42,724.67 1692.19,731.16 C1698.96,737.65 1703.9,739.34 1709.69,744.19 C1715.49,749.05 1720.21,755.2 1726.96,760.28 C1733.71,765.35 1741.45,769.36 1750.18,774.67 C1758.91,779.97 1769.71,786.8 1779.35,792.1 C1789,797.41 1798.43,802.63 1808.06,806.49 C1817.69,810.36 1827.45,812.62 1837.12,815.3 C1846.78,817.98 1853.12,820.41 1866.06,822.58 C1878.99,824.75 1906.61,827.37 1914.71,828.33" fill="none" stroke="#f3b3b3" stroke-width="7" stroke-linejoin="round" opacity="0.75"/>
<path d="M1518.44,790.58 C1519.33,783.98 1521.86,761.52 1523.8,750.96 C1525.75,740.41 1527.13,735.44 1530.1,727.26 C1533.08,719.08 1537.81,709.06 1541.66,701.87 C1545.51,694.67 1549.36,689.87 1553.21,684.09 C1557.06,678.31 1560.89,671.82 1564.76,667.16 C1568.63,662.5 1572.56,658.55 1576.43,656.16 C1580.3,653.76 1584.11,653.53 1587.98,652.77 C1591.85,652.01 1595.76,651.16 1599.65,651.58 C1603.54,652.01 1607.47,653.98 1611.32,655.31 C1615.17,656.64 1617.95,657.43 1622.76,659.54 C1627.56,661.66 1633.39,664.25 1640.14,668.01 C1646.89,671.76 1656.5,677.26 1663.25,682.06 C1670,686.86 1674.84,691.51 1680.63,696.79 C1686.43,702.06 1691.25,707.51 1698.02,713.72 C1704.79,719.93 1714.49,728.67 1721.24,734.03 C1727.99,739.4 1732.72,741.51 1738.51,745.88 C1744.31,750.26 1749.21,755.48 1756.02,760.28 C1762.82,765.07 1772.61,771.05 1779.35,774.67 C1786.1,778.28 1789.78,778.56 1796.51,781.95 C1803.24,785.33 1812.01,791.4 1819.73,794.98 C1827.45,798.57 1835.11,800.54 1842.83,803.45 C1850.55,806.35 1858.35,809.97 1866.06,812.42 C1873.76,814.87 1880.93,816.4 1889.04,818.18 C1897.15,819.95 1910.44,822.27 1914.71,823.09" fill="none" stroke="#000" stroke-width="3.2"/>
<path d="M1518.44,792.1 C1519.14,786.38 1521.18,766.85 1522.64,757.74 C1524.1,748.62 1524.99,745.6 1527.19,737.42 C1529.39,729.24 1532.46,718.23 1535.82,708.64 C1539.19,699.05 1543.02,689.59 1547.37,679.86 C1551.73,670.12 1557.14,657.57 1561.96,650.23 C1566.78,642.89 1571.98,638.89 1576.31,635.84 C1580.65,632.79 1584.09,631.66 1587.98,631.95 C1591.87,632.23 1594.83,634.49 1599.65,637.53 C1604.48,640.58 1611.15,645.72 1616.92,650.23 C1622.7,654.75 1628.51,658.84 1634.31,664.62 C1640.1,670.41 1645.9,678.16 1651.7,684.94 C1657.49,691.71 1662.33,697.55 1669.08,705.25 C1675.83,712.96 1685.42,724.67 1692.19,731.16 C1698.96,737.65 1703.9,739.34 1709.69,744.19 C1715.49,749.05 1720.21,755.2 1726.96,760.28 C1733.71,765.35 1741.45,769.36 1750.18,774.67 C1758.91,779.97 1769.71,786.8 1779.35,792.1 C1789,797.41 1798.43,802.63 1808.06,806.49 C1817.69,810.36 1827.45,812.62 1837.12,815.3 C1846.78,817.98 1853.12,820.41 1866.06,822.58 C1878.99,824.75 1906.61,827.37 1914.71,828.33" fill="none" stroke="#d92b2b" stroke-width="3.2"/>
<text x="1726" y="470" font-size="29.3" text-anchor="middle" font-style="italic">90-120 days</text>
<line x1="1526.6" y1="493.1" x2="1555" y2="493.1" stroke="#000" stroke-width="3.6"/>
<line x1="1526.6" y1="529.3" x2="1555" y2="529.3" stroke="#d92b2b" stroke-width="3.6"/>
<text x="1564.5" y="502.6" font-size="25.5">Neurotypical (n = 239 neurons)</text>
<text x="1564.5" y="538.8" font-size="25.5">MPSIIIA (n = 241 neurons)</text>
<polyline points="1924,492.6 1935.4,492.6 1935.4,535.1 1924,535.1" fill="none" stroke="#222" stroke-width="1.5"/>
<text x="1943.5" y="523.6" font-size="25.5">ns</text>
<line x1="1779" y1="586.6" x2="1801" y2="586.6" stroke="#c8c8c8" stroke-width="4"/>
<line x1="1779" y1="637.6" x2="1801" y2="637.6" stroke="#f08878" stroke-width="4"/>
<text x="1808.5" y="590.8" font-size="21.9">Mean of individual</text>
<text x="1808.5" y="616.8" font-size="21.9">neurotypical donors</text>
<text x="1808.5" y="643" font-size="21.9">Mean of individual</text>
<text x="1808.5" y="669" font-size="21.9">MPSIIIA donors</text>
<text x="8" y="884.9" font-size="30" font-weight="bold">D</text>
<line x1="123.4" y1="958.9" x2="123.4" y2="1132.9" stroke="#000" stroke-width="3"/>
<line x1="123.4" y1="867.5" x2="123.4" y2="942.5" stroke="#000" stroke-width="3"/>
<line x1="118.9" y1="942.5" x2="124.6" y2="942.5" stroke="#000" stroke-width="2.4"/>
<line x1="114.4" y1="960.4" x2="124.6" y2="960.4" stroke="#000" stroke-width="2.4"/>
<line x1="113.4" y1="1131.4" x2="124.9" y2="1131.4" stroke="#000" stroke-width="2.8"/>
<text x="109.6" y="1141.1" font-size="27.3" text-anchor="end">0</text>
<line x1="117.4" y1="1114.3" x2="124.9" y2="1114.3" stroke="#000" stroke-width="2.8"/>
<line x1="113.4" y1="1097.2" x2="124.9" y2="1097.2" stroke="#000" stroke-width="2.8"/>
<text x="109.6" y="1106.9" font-size="27.3" text-anchor="end">50</text>
<line x1="117.4" y1="1080.1" x2="124.9" y2="1080.1" stroke="#000" stroke-width="2.8"/>
<line x1="113.4" y1="1063" x2="124.9" y2="1063" stroke="#000" stroke-width="2.8"/>
<text x="109.6" y="1072.7" font-size="27.3" text-anchor="end">100</text>
<line x1="117.4" y1="1045.9" x2="124.9" y2="1045.9" stroke="#000" stroke-width="2.8"/>
<line x1="113.4" y1="1028.8" x2="124.9" y2="1028.8" stroke="#000" stroke-width="2.8"/>
<text x="109.6" y="1038.5" font-size="27.3" text-anchor="end">150</text>
<line x1="117.4" y1="1011.7" x2="124.9" y2="1011.7" stroke="#000" stroke-width="2.8"/>
<line x1="113.4" y1="994.6" x2="124.9" y2="994.6" stroke="#000" stroke-width="2.8"/>
<text x="109.6" y="1004.3" font-size="27.3" text-anchor="end">200</text>
<line x1="117.4" y1="977.5" x2="124.9" y2="977.5" stroke="#000" stroke-width="2.8"/>
<line x1="113.4" y1="960.4" x2="124.9" y2="960.4" stroke="#000" stroke-width="2.8"/>
<text x="109.6" y="970.1" font-size="27.3" text-anchor="end">250</text>
<line x1="113.4" y1="927.3" x2="124.9" y2="927.3" stroke="#000" stroke-width="2.8"/>
<text x="109.6" y="937" font-size="27.3" text-anchor="end">300</text>
<line x1="117.4" y1="912.85" x2="124.9" y2="912.85" stroke="#000" stroke-width="2.8"/>
<line x1="113.4" y1="898.4" x2="124.9" y2="898.4" stroke="#000" stroke-width="2.8"/>
<text x="109.6" y="908.1" font-size="27.3" text-anchor="end">400</text>
<line x1="117.4" y1="883.95" x2="124.9" y2="883.95" stroke="#000" stroke-width="2.8"/>
<line x1="113.4" y1="869.5" x2="124.9" y2="869.5" stroke="#000" stroke-width="2.8"/>
<text x="109.6" y="879.2" font-size="27.3" text-anchor="end">500</text>
<line x1="114.8" y1="1131.4" x2="357" y2="1131.4" stroke="#000" stroke-width="3"/>
<line x1="164.3" y1="1131.4" x2="164.3" y2="1141" stroke="#000" stroke-width="3"/>
<line x1="209.6" y1="1131.4" x2="209.6" y2="1141" stroke="#000" stroke-width="3"/>
<line x1="268.7" y1="1131.4" x2="268.7" y2="1141" stroke="#000" stroke-width="3"/>
<line x1="314.3" y1="1131.4" x2="314.3" y2="1141" stroke="#000" stroke-width="3"/>
<line x1="164.3" y1="1041.4" x2="164.3" y2="1066.5" stroke="#000" stroke-width="2.8"/>
<line x1="164.3" y1="1101.1" x2="164.3" y2="1109.8" stroke="#000" stroke-width="2.8"/>
<line x1="154.3" y1="1041.4" x2="174.3" y2="1041.4" stroke="#000" stroke-width="2.8"/>
<line x1="154.3" y1="1109.8" x2="174.3" y2="1109.8" stroke="#000" stroke-width="2.8"/>
<rect x="145.5" y="1066.5" width="37.6" height="34.6" fill="#808080" stroke="#000" stroke-width="2.8"/>
<line x1="145.5" y1="1087.3" x2="183.1" y2="1087.3" stroke="#000" stroke-width="2.8"/>
<line x1="209.6" y1="1034.2" x2="209.6" y2="1074.6" stroke="#000" stroke-width="2.8"/>
<line x1="209.6" y1="1108.3" x2="209.6" y2="1113" stroke="#000" stroke-width="2.8"/>
<line x1="199.6" y1="1034.2" x2="219.6" y2="1034.2" stroke="#000" stroke-width="2.8"/>
<line x1="199.6" y1="1113" x2="219.6" y2="1113" stroke="#000" stroke-width="2.8"/>
<rect x="190.8" y="1074.6" width="37.6" height="33.7" fill="#ff2600" stroke="#000" stroke-width="2.8"/>
<line x1="190.8" y1="1096.2" x2="228.4" y2="1096.2" stroke="#000" stroke-width="2.8"/>
<line x1="268.7" y1="1002.2" x2="268.7" y2="1046.3" stroke="#000" stroke-width="2.8"/>
<line x1="268.7" y1="1100.5" x2="268.7" y2="1109" stroke="#000" stroke-width="2.8"/>
<line x1="258.7" y1="1002.2" x2="278.7" y2="1002.2" stroke="#000" stroke-width="2.8"/>
<line x1="258.7" y1="1109" x2="278.7" y2="1109" stroke="#000" stroke-width="2.8"/>
<rect x="249.9" y="1046.3" width="37.6" height="54.2" fill="#808080" stroke="#000" stroke-width="2.8"/>
<line x1="249.9" y1="1075.2" x2="287.5" y2="1075.2" stroke="#000" stroke-width="2.8"/>
<line x1="314.3" y1="1011.7" x2="314.3" y2="1054.4" stroke="#000" stroke-width="2.8"/>
<line x1="314.3" y1="1093.3" x2="314.3" y2="1103" stroke="#000" stroke-width="2.8"/>
<line x1="304.3" y1="1011.7" x2="324.3" y2="1011.7" stroke="#000" stroke-width="2.8"/>
<line x1="304.3" y1="1103" x2="324.3" y2="1103" stroke="#000" stroke-width="2.8"/>
<rect x="295.5" y="1054.4" width="37.6" height="38.9" fill="#ff2600" stroke="#000" stroke-width="2.8"/>
<line x1="295.5" y1="1076" x2="333.1" y2="1076" stroke="#000" stroke-width="2.8"/>
<circle cx="154.5" cy="1109.65" r="3.3" fill="#fff" stroke="#000" stroke-width="0.9"/>
<circle cx="160.26" cy="1110.48" r="3.3" fill="#fff" stroke="#000" stroke-width="0.9"/>
<circle cx="148.39" cy="1114.43" r="3.3" fill="#fff" stroke="#000" stroke-width="0.9"/>
<circle cx="179.05" cy="1120.81" r="3.3" fill="#fff" stroke="#000" stroke-width="0.9"/>
<circle cx="173.55" cy="1111.55" r="3.3" fill="#fff" stroke="#000" stroke-width="0.9"/>
<circle cx="165.32" cy="1112.43" r="3.3" fill="#fff" stroke="#000" stroke-width="0.9"/>
<circle cx="152.22" cy="1109.7" r="3.3" fill="#fff" stroke="#000" stroke-width="0.9"/>
<circle cx="153.72" cy="1122.84" r="3.3" fill="#fff" stroke="#000" stroke-width="0.9"/>
<circle cx="175.84" cy="1120.91" r="3.3" fill="#fff" stroke="#000" stroke-width="0.9"/>
<circle cx="174.82" cy="1111.09" r="3.3" fill="#fff" stroke="#000" stroke-width="0.9"/>
<circle cx="157.15" cy="1118.03" r="3.3" fill="#fff" stroke="#000" stroke-width="0.9"/>
<circle cx="172.35" cy="1121.67" r="3.3" fill="#fff" stroke="#000" stroke-width="0.9"/>
<circle cx="177.68" cy="1109.39" r="3.3" fill="#fff" stroke="#000" stroke-width="0.9"/>
<circle cx="167.81" cy="1118.75" r="3.3" fill="#fff" stroke="#000" stroke-width="0.9"/>
<circle cx="164.21" cy="1110.84" r="3.3" fill="#fff" stroke="#000" stroke-width="0.9"/>
<circle cx="163.05" cy="1109.43" r="3.3" fill="#fff" stroke="#000" stroke-width="0.9"/>
<circle cx="179.65" cy="1121.85" r="3.3" fill="#fff" stroke="#000" stroke-width="0.9"/>
<circle cx="165.71" cy="1112.8" r="3.3" fill="#fff" stroke="#000" stroke-width="0.9"/>
<circle cx="178.72" cy="1117.16" r="3.3" fill="#fff" stroke="#000" stroke-width="0.9"/>
<circle cx="177.76" cy="1121.57" r="3.3" fill="#fff" stroke="#000" stroke-width="0.9"/>
<circle cx="164.3" cy="1114.62" r="3.3" fill="#fff" stroke="#000" stroke-width="0.9"/>
<circle cx="167.56" cy="1114.9" r="3.3" fill="#fff" stroke="#000" stroke-width="0.9"/>
<circle cx="151.81" cy="1112.88" r="3.3" fill="#fff" stroke="#000" stroke-width="0.9"/>
<circle cx="175.25" cy="1108.69" r="3.3" fill="#fff" stroke="#000" stroke-width="0.9"/>
<circle cx="147.67" cy="1118.02" r="3.3" fill="#fff" stroke="#000" stroke-width="0.9"/>
<circle cx="156.1" cy="1116.55" r="3.3" fill="#fff" stroke="#000" stroke-width="0.9"/>
<circle cx="163.95" cy="1030.83" r="3.3" fill="#fff" stroke="#000" stroke-width="0.9"/>
<circle cx="173.95" cy="1028.32" r="3.3" fill="#fff" stroke="#000" stroke-width="0.9"/>
<circle cx="162.84" cy="1028.45" r="3.3" fill="#fff" stroke="#000" stroke-width="0.9"/>
<circle cx="167.02" cy="1029.7" r="3.3" fill="#fff" stroke="#000" stroke-width="0.9"/>
<circle cx="161.76" cy="1037.7" r="3.3" fill="#fff" stroke="#000" stroke-width="0.9"/>
<circle cx="161.09" cy="1034.49" r="3.3" fill="#fff" stroke="#000" stroke-width="0.9"/>
<circle cx="172.18" cy="1026.72" r="3.3" fill="#fff" stroke="#000" stroke-width="0.9"/>
<circle cx="156.17" cy="1028.89" r="3.3" fill="#fff" stroke="#000" stroke-width="0.9"/>
<circle cx="169.54" cy="1035.46" r="3.3" fill="#fff" stroke="#000" stroke-width="0.9"/>
<circle cx="159.51" cy="1030.63" r="3.3" fill="#fff" stroke="#000" stroke-width="0.9"/>
<circle cx="158.37" cy="1032.8" r="3.3" fill="#fff" stroke="#000" stroke-width="0.9"/>
<circle cx="155.81" cy="1036.85" r="3.3" fill="#fff" stroke="#000" stroke-width="0.9"/>
<circle cx="172.02" cy="1041.23" r="3.3" fill="#fff" stroke="#000" stroke-width="0.9"/>
<circle cx="168.96" cy="1041.32" r="3.3" fill="#fff" stroke="#000" stroke-width="0.9"/>
<circle cx="165.5" cy="993" r="3.3" fill="#fff" stroke="#000" stroke-width="0.9"/>
<circle cx="166" cy="997" r="3.3" fill="#fff" stroke="#000" stroke-width="0.9"/>
<circle cx="165" cy="1001" r="3.3" fill="#fff" stroke="#000" stroke-width="0.9"/>
<circle cx="166.5" cy="1005" r="3.3" fill="#fff" stroke="#000" stroke-width="0.9"/>
<circle cx="164.5" cy="1010" r="3.3" fill="#fff" stroke="#000" stroke-width="0.9"/>
<circle cx="191.69" cy="1117.76" r="3.3" fill="#fff" stroke="#000" stroke-width="0.9"/>
<circle cx="227.71" cy="1124.08" r="3.3" fill="#fff" stroke="#000" stroke-width="0.9"/>
<circle cx="206.6" cy="1126.26" r="3.3" fill="#fff" stroke="#000" stroke-width="0.9"/>
<circle cx="214.58" cy="1124.63" r="3.3" fill="#fff" stroke="#000" stroke-width="0.9"/>
<circle cx="202.15" cy="1116.49" r="3.3" fill="#fff" stroke="#000" stroke-width="0.9"/>
<circle cx="207.88" cy="1115.77" r="3.3" fill="#fff" stroke="#000" stroke-width="0.9"/>
<circle cx="205.5" cy="1126.5" r="3.3" fill="#fff" stroke="#000" stroke-width="0.9"/>
<circle cx="203.59" cy="1114.12" r="3.3" fill="#fff" stroke="#000" stroke-width="0.9"/>
<circle cx="192.7" cy="1116.2" r="3.3" fill="#fff" stroke="#000" stroke-width="0.9"/>
<circle cx="220.78" cy="1118.72" r="3.3" fill="#fff" stroke="#000" stroke-width="0.9"/>
<circle cx="202.03" cy="1115.26" r="3.3" fill="#fff" stroke="#000" stroke-width="0.9"/>
<circle cx="228.31" cy="1119.51" r="3.3" fill="#fff" stroke="#000" stroke-width="0.9"/>
<circle cx="198.9" cy="1114.77" r="3.3" fill="#fff" stroke="#000" stroke-width="0.9"/>
<circle cx="193.1" cy="1116.19" r="3.3" fill="#fff" stroke="#000" stroke-width="0.9"/>
<circle cx="216.72" cy="1115.95" r="3.3" fill="#fff" stroke="#000" stroke-width="0.9"/>
<circle cx="192.55" cy="1120.38" r="3.3" fill="#fff" stroke="#000" stroke-width="0.9"/>
<circle cx="200.46" cy="1126.97" r="3.3" fill="#fff" stroke="#000" stroke-width="0.9"/>
<circle cx="195.65" cy="1120.88" r="3.3" fill="#fff" stroke="#000" stroke-width="0.9"/>
<circle cx="220.4" cy="1119.32" r="3.3" fill="#fff" stroke="#000" stroke-width="0.9"/>
<circle cx="228.53" cy="1120.21" r="3.3" fill="#fff" stroke="#000" stroke-width="0.9"/>
<circle cx="200.19" cy="1119.34" r="3.3" fill="#fff" stroke="#000" stroke-width="0.9"/>
<circle cx="192.4" cy="1119.48" r="3.3" fill="#fff" stroke="#000" stroke-width="0.9"/>
<circle cx="200.45" cy="1125.56" r="3.3" fill="#fff" stroke="#000" stroke-width="0.9"/>
<circle cx="222.58" cy="1120.48" r="3.3" fill="#fff" stroke="#000" stroke-width="0.9"/>
<circle cx="192.2" cy="1117.31" r="3.3" fill="#fff" stroke="#000" stroke-width="0.9"/>
<circle cx="200.21" cy="1116.7" r="3.3" fill="#fff" stroke="#000" stroke-width="0.9"/>
<circle cx="199.8" cy="1125.31" r="3.3" fill="#fff" stroke="#000" stroke-width="0.9"/>
<circle cx="196.38" cy="1114.67" r="3.3" fill="#fff" stroke="#000" stroke-width="0.9"/>
<circle cx="213.99" cy="1018.65" r="3.3" fill="#fff" stroke="#000" stroke-width="0.9"/>
<circle cx="214.87" cy="1017.03" r="3.3" fill="#fff" stroke="#000" stroke-width="0.9"/>
<circle cx="213.61" cy="1019.54" r="3.3" fill="#fff" stroke="#000" stroke-width="0.9"/>
<circle cx="212.07" cy="1020.45" r="3.3" fill="#fff" stroke="#000" stroke-width="0.9"/>
<circle cx="207.92" cy="1013.93" r="3.3" fill="#fff" stroke="#000" stroke-width="0.9"/>
<circle cx="203.95" cy="1021.74" r="3.3" fill="#fff" stroke="#000" stroke-width="0.9"/>
<circle cx="213.6" cy="1022.25" r="3.3" fill="#fff" stroke="#000" stroke-width="0.9"/>
<circle cx="205.71" cy="1019.57" r="3.3" fill="#fff" stroke="#000" stroke-width="0.9"/>
<circle cx="212.19" cy="1019.42" r="3.3" fill="#fff" stroke="#000" stroke-width="0.9"/>
<circle cx="212.41" cy="1018.28" r="3.3" fill="#fff" stroke="#000" stroke-width="0.9"/>
<circle cx="209.6" cy="967" r="3.3" fill="#fff" stroke="#000" stroke-width="0.9"/>
<circle cx="209.6" cy="973" r="3.3" fill="#fff" stroke="#000" stroke-width="0.9"/>
<circle cx="209.2" cy="979" r="3.3" fill="#fff" stroke="#000" stroke-width="0.9"/>
<circle cx="209.6" cy="985" r="3.3" fill="#fff" stroke="#000" stroke-width="0.9"/>
<circle cx="209.6" cy="991" r="3.3" fill="#fff" stroke="#000" stroke-width="0.9"/>
<circle cx="210" cy="994" r="3.3" fill="#fff" stroke="#000" stroke-width="0.9"/>
<circle cx="209.6" cy="928" r="3.3" fill="#fff" stroke="#000" stroke-width="0.9"/>
<circle cx="209.6" cy="935" r="3.3" fill="#fff" stroke="#000" stroke-width="0.9"/>
<circle cx="209.6" cy="898.4" r="3.3" fill="#fff" stroke="#000" stroke-width="0.9"/>
<circle cx="275.53" cy="1117.86" r="3.3" fill="#fff" stroke="#000" stroke-width="0.9"/>
<circle cx="260.46" cy="1120.23" r="3.3" fill="#fff" stroke="#000" stroke-width="0.9"/>
<circle cx="287.29" cy="1111.74" r="3.3" fill="#fff" stroke="#000" stroke-width="0.9"/>
<circle cx="287.87" cy="1120.62" r="3.3" fill="#fff" stroke="#000" stroke-width="0.9"/>
<circle cx="276.07" cy="1111.45" r="3.3" fill="#fff" stroke="#000" stroke-width="0.9"/>
<circle cx="285.06" cy="1112.28" r="3.3" fill="#fff" stroke="#000" stroke-width="0.9"/>
<circle cx="287.77" cy="1117.67" r="3.3" fill="#fff" stroke="#000" stroke-width="0.9"/>
<circle cx="252.36" cy="1112.67" r="3.3" fill="#fff" stroke="#000" stroke-width="0.9"/>
<circle cx="274.77" cy="1116.69" r="3.3" fill="#fff" stroke="#000" stroke-width="0.9"/>
<circle cx="279.11" cy="1120.27" r="3.3" fill="#fff" stroke="#000" stroke-width="0.9"/>
<circle cx="258.52" cy="1111.03" r="3.3" fill="#fff" stroke="#000" stroke-width="0.9"/>
<circle cx="285.97" cy="1111.13" r="3.3" fill="#fff" stroke="#000" stroke-width="0.9"/>
<circle cx="284.18" cy="1112.16" r="3.3" fill="#fff" stroke="#000" stroke-width="0.9"/>
<circle cx="281.59" cy="1118.83" r="3.3" fill="#fff" stroke="#000" stroke-width="0.9"/>
<circle cx="284.24" cy="1116.51" r="3.3" fill="#fff" stroke="#000" stroke-width="0.9"/>
<circle cx="284.27" cy="1113.02" r="3.3" fill="#fff" stroke="#000" stroke-width="0.9"/>
<circle cx="276.19" cy="1114.31" r="3.3" fill="#fff" stroke="#000" stroke-width="0.9"/>
<circle cx="284.78" cy="1118.74" r="3.3" fill="#fff" stroke="#000" stroke-width="0.9"/>
<circle cx="268.39" cy="1116.26" r="3.3" fill="#fff" stroke="#000" stroke-width="0.9"/>
<circle cx="251.03" cy="1111.34" r="3.3" fill="#fff" stroke="#000" stroke-width="0.9"/>
<circle cx="273.18" cy="1115.89" r="3.3" fill="#fff" stroke="#000" stroke-width="0.9"/>
<circle cx="283.72" cy="1117.08" r="3.3" fill="#fff" stroke="#000" stroke-width="0.9"/>
<circle cx="255.41" cy="1114.63" r="3.3" fill="#fff" stroke="#000" stroke-width="0.9"/>
<circle cx="279.94" cy="1116.23" r="3.3" fill="#fff" stroke="#000" stroke-width="0.9"/>
<circle cx="250.41" cy="1119.38" r="3.3" fill="#fff" stroke="#000" stroke-width="0.9"/>
<circle cx="282.27" cy="1111.85" r="3.3" fill="#fff" stroke="#000" stroke-width="0.9"/>
<circle cx="269.61" cy="992.72" r="3.3" fill="#fff" stroke="#000" stroke-width="0.9"/>
<circle cx="273.02" cy="991.67" r="3.3" fill="#fff" stroke="#000" stroke-width="0.9"/>
<circle cx="265.27" cy="994.3" r="3.3" fill="#fff" stroke="#000" stroke-width="0.9"/>
<circle cx="275.53" cy="988.43" r="3.3" fill="#fff" stroke="#000" stroke-width="0.9"/>
<circle cx="263.6" cy="996.31" r="3.3" fill="#fff" stroke="#000" stroke-width="0.9"/>
<circle cx="274.39" cy="994.69" r="3.3" fill="#fff" stroke="#000" stroke-width="0.9"/>
<circle cx="268.08" cy="999.87" r="3.3" fill="#fff" stroke="#000" stroke-width="0.9"/>
<circle cx="272.87" cy="988" r="3.3" fill="#fff" stroke="#000" stroke-width="0.9"/>
<circle cx="274.34" cy="989.94" r="3.3" fill="#fff" stroke="#000" stroke-width="0.9"/>
<circle cx="266.23" cy="999.55" r="3.3" fill="#fff" stroke="#000" stroke-width="0.9"/>
<circle cx="267.91" cy="998.98" r="3.3" fill="#fff" stroke="#000" stroke-width="0.9"/>
<circle cx="264.34" cy="1000.11" r="3.3" fill="#fff" stroke="#000" stroke-width="0.9"/>
<circle cx="268" cy="966" r="3.3" fill="#fff" stroke="#000" stroke-width="0.9"/>
<circle cx="270" cy="970" r="3.3" fill="#fff" stroke="#000" stroke-width="0.9"/>
<circle cx="268.7" cy="977" r="3.3" fill="#fff" stroke="#000" stroke-width="0.9"/>
<circle cx="268" cy="918.5" r="3.3" fill="#fff" stroke="#000" stroke-width="0.9"/>
<circle cx="270.5" cy="920" r="3.3" fill="#fff" stroke="#000" stroke-width="0.9"/>
<circle cx="268.5" cy="925" r="3.3" fill="#fff" stroke="#000" stroke-width="0.9"/>
<circle cx="269.5" cy="930" r="3.3" fill="#fff" stroke="#000" stroke-width="0.9"/>
<circle cx="268.7" cy="941" r="3.3" fill="#fff" stroke="#000" stroke-width="0.9"/>
<circle cx="302.52" cy="1106.69" r="3.3" fill="#fff" stroke="#000" stroke-width="0.9"/>
<circle cx="314.29" cy="1110.09" r="3.3" fill="#fff" stroke="#000" stroke-width="0.9"/>
<circle cx="316.05" cy="1120.27" r="3.3" fill="#fff" stroke="#000" stroke-width="0.9"/>
<circle cx="322.29" cy="1104.1" r="3.3" fill="#fff" stroke="#000" stroke-width="0.9"/>
<circle cx="307.54" cy="1113.81" r="3.3" fill="#fff" stroke="#000" stroke-width="0.9"/>
<circle cx="314" cy="1116.88" r="3.3" fill="#fff" stroke="#000" stroke-width="0.9"/>
<circle cx="313.92" cy="1105.36" r="3.3" fill="#fff" stroke="#000" stroke-width="0.9"/>
<circle cx="305.08" cy="1119.26" r="3.3" fill="#fff" stroke="#000" stroke-width="0.9"/>
<circle cx="309.2" cy="1117.8" r="3.3" fill="#fff" stroke="#000" stroke-width="0.9"/>
<circle cx="332.47" cy="1115.28" r="3.3" fill="#fff" stroke="#000" stroke-width="0.9"/>
<circle cx="321.04" cy="1114.97" r="3.3" fill="#fff" stroke="#000" stroke-width="0.9"/>
<circle cx="307.59" cy="1120.43" r="3.3" fill="#fff" stroke="#000" stroke-width="0.9"/>
<circle cx="313.28" cy="1120.41" r="3.3" fill="#fff" stroke="#000" stroke-width="0.9"/>
<circle cx="307.31" cy="1119.62" r="3.3" fill="#fff" stroke="#000" stroke-width="0.9"/>
<circle cx="325.11" cy="1115.03" r="3.3" fill="#fff" stroke="#000" stroke-width="0.9"/>
<circle cx="312.36" cy="1106.53" r="3.3" fill="#fff" stroke="#000" stroke-width="0.9"/>
<circle cx="324.53" cy="1110.52" r="3.3" fill="#fff" stroke="#000" stroke-width="0.9"/>
<circle cx="320.5" cy="1106.4" r="3.3" fill="#fff" stroke="#000" stroke-width="0.9"/>
<circle cx="299.05" cy="1106.59" r="3.3" fill="#fff" stroke="#000" stroke-width="0.9"/>
<circle cx="325.93" cy="1107.2" r="3.3" fill="#fff" stroke="#000" stroke-width="0.9"/>
<circle cx="329.37" cy="1110.7" r="3.3" fill="#fff" stroke="#000" stroke-width="0.9"/>
<circle cx="317.31" cy="1110.31" r="3.3" fill="#fff" stroke="#000" stroke-width="0.9"/>
<circle cx="318.97" cy="1105.68" r="3.3" fill="#fff" stroke="#000" stroke-width="0.9"/>
<circle cx="310.89" cy="1120.85" r="3.3" fill="#fff" stroke="#000" stroke-width="0.9"/>
<circle cx="302.65" cy="1115.78" r="3.3" fill="#fff" stroke="#000" stroke-width="0.9"/>
<circle cx="308.09" cy="1109.41" r="3.3" fill="#fff" stroke="#000" stroke-width="0.9"/>
<circle cx="296.86" cy="1104.36" r="3.3" fill="#fff" stroke="#000" stroke-width="0.9"/>
<circle cx="331.13" cy="1118.94" r="3.3" fill="#fff" stroke="#000" stroke-width="0.9"/>
<circle cx="325.64" cy="1118.53" r="3.3" fill="#fff" stroke="#000" stroke-width="0.9"/>
<circle cx="331.27" cy="1106.85" r="3.3" fill="#fff" stroke="#000" stroke-width="0.9"/>
<circle cx="317.61" cy="1112.91" r="3.3" fill="#fff" stroke="#000" stroke-width="0.9"/>
<circle cx="317.23" cy="1120.88" r="3.3" fill="#fff" stroke="#000" stroke-width="0.9"/>
<circle cx="324.13" cy="1121.43" r="3.3" fill="#fff" stroke="#000" stroke-width="0.9"/>
<circle cx="300.32" cy="1115.73" r="3.3" fill="#fff" stroke="#000" stroke-width="0.9"/>
<circle cx="320.99" cy="1117.41" r="3.3" fill="#fff" stroke="#000" stroke-width="0.9"/>
<circle cx="318.86" cy="1118.96" r="3.3" fill="#fff" stroke="#000" stroke-width="0.9"/>
<circle cx="310.45" cy="1008.05" r="3.3" fill="#fff" stroke="#000" stroke-width="0.9"/>
<circle cx="312.31" cy="999.17" r="3.3" fill="#fff" stroke="#000" stroke-width="0.9"/>
<circle cx="321.14" cy="1002" r="3.3" fill="#fff" stroke="#000" stroke-width="0.9"/>
<circle cx="310.57" cy="989.22" r="3.3" fill="#fff" stroke="#000" stroke-width="0.9"/>
<circle cx="310.88" cy="999.92" r="3.3" fill="#fff" stroke="#000" stroke-width="0.9"/>
<circle cx="322.94" cy="1007.27" r="3.3" fill="#fff" stroke="#000" stroke-width="0.9"/>
<circle cx="312.2" cy="993.82" r="3.3" fill="#fff" stroke="#000" stroke-width="0.9"/>
<circle cx="319.71" cy="990.66" r="3.3" fill="#fff" stroke="#000" stroke-width="0.9"/>
<circle cx="312.41" cy="983.36" r="3.3" fill="#fff" stroke="#000" stroke-width="0.9"/>
<circle cx="308.31" cy="997.59" r="3.3" fill="#fff" stroke="#000" stroke-width="0.9"/>
<circle cx="317.48" cy="999.6" r="3.3" fill="#fff" stroke="#000" stroke-width="0.9"/>
<circle cx="311.56" cy="1008.68" r="3.3" fill="#fff" stroke="#000" stroke-width="0.9"/>
<circle cx="316.22" cy="987.21" r="3.3" fill="#fff" stroke="#000" stroke-width="0.9"/>
<circle cx="306.22" cy="1009.29" r="3.3" fill="#fff" stroke="#000" stroke-width="0.9"/>
<circle cx="322.78" cy="1007.84" r="3.3" fill="#fff" stroke="#000" stroke-width="0.9"/>
<circle cx="315.87" cy="991.43" r="3.3" fill="#fff" stroke="#000" stroke-width="0.9"/>
<circle cx="306.64" cy="989.96" r="3.3" fill="#fff" stroke="#000" stroke-width="0.9"/>
<circle cx="309" cy="1008.06" r="3.3" fill="#fff" stroke="#000" stroke-width="0.9"/>
<circle cx="314" cy="962" r="3.3" fill="#fff" stroke="#000" stroke-width="0.9"/>
<circle cx="315.5" cy="966" r="3.3" fill="#fff" stroke="#000" stroke-width="0.9"/>
<circle cx="313.5" cy="970" r="3.3" fill="#fff" stroke="#000" stroke-width="0.9"/>
<circle cx="311.5" cy="931" r="3.3" fill="#fff" stroke="#000" stroke-width="0.9"/>
<circle cx="316" cy="933" r="3.3" fill="#fff" stroke="#000" stroke-width="0.9"/>
<circle cx="318.5" cy="935" r="3.3" fill="#fff" stroke="#000" stroke-width="0.9"/>
<circle cx="314" cy="894" r="3.3" fill="#fff" stroke="#000" stroke-width="0.9"/>
<circle cx="315" cy="900" r="3.3" fill="#fff" stroke="#000" stroke-width="0.9"/>
<line x1="160.1" y1="1080.9" x2="168.5" y2="1080.9" stroke="#1f5fa6" stroke-width="3"/>
<line x1="164.3" y1="1076.7" x2="164.3" y2="1085.1" stroke="#1f5fa6" stroke-width="3"/>
<line x1="205.4" y1="1085.3" x2="213.8" y2="1085.3" stroke="#1f5fa6" stroke-width="3"/>
<line x1="209.6" y1="1081.1" x2="209.6" y2="1089.5" stroke="#1f5fa6" stroke-width="3"/>
<line x1="264.5" y1="1065.9" x2="272.9" y2="1065.9" stroke="#1f5fa6" stroke-width="3"/>
<line x1="268.7" y1="1061.7" x2="268.7" y2="1070.1" stroke="#1f5fa6" stroke-width="3"/>
<line x1="310.1" y1="1065.9" x2="318.5" y2="1065.9" stroke="#1f5fa6" stroke-width="3"/>
<line x1="314.3" y1="1061.7" x2="314.3" y2="1070.1" stroke="#1f5fa6" stroke-width="3"/>
<polyline points="164.3,880.5 164.3,867.6 209.9,867.6 209.9,880.5" fill="none" stroke="#000" stroke-width="1.7"/>
<text x="187.2" y="856" font-size="23" text-anchor="middle">0.0063</text>
<polyline points="268.7,883.4 268.7,871.9 314.3,871.9 314.3,883.4" fill="none" stroke="#000" stroke-width="1.7"/>
<text x="291.5" y="858" font-size="23" text-anchor="middle">ns</text>
<text x="56" y="993" font-size="27" text-anchor="middle" transform="rotate(-90 56 993)">Capacitance (pF)</text>
<text x="368.5" y="1053" font-size="23.5" text-anchor="middle" font-style="italic" transform="rotate(-90 368.5 1053)">n = neurons</text>
<text x="171.3" y="1162" font-size="27" text-anchor="end" transform="rotate(-45 171.3 1162)">Neurotypical</text>
<text x="216.6" y="1162" font-size="27" text-anchor="end" transform="rotate(-45 216.6 1162)">MPSIIIA</text>
<text x="275.7" y="1162" font-size="27" text-anchor="end" transform="rotate(-45 275.7 1162)">Neurotypical</text>
<text x="321.3" y="1162" font-size="27" text-anchor="end" transform="rotate(-45 321.3 1162)">MPSIIIA</text>
<text x="98" y="1287" font-size="20.5" font-style="italic" fill="#999">30-60 days</text>
<text x="215.5" y="1287" font-size="20.5" font-style="italic" fill="#999">90-120 days</text>
<text x="363.5" y="886.2" font-size="30" font-weight="bold">E</text>
<line x1="483.4" y1="885.6" x2="483.4" y2="1149.2" stroke="#000" stroke-width="3"/>
<line x1="473.4" y1="1147.7" x2="484.9" y2="1147.7" stroke="#000" stroke-width="2.8"/>
<text x="469.6" y="1157.4" font-size="27.3" text-anchor="end">0</text>
<line x1="477.4" y1="1134.67" x2="484.9" y2="1134.67" stroke="#000" stroke-width="2.8"/>
<line x1="473.4" y1="1121.64" x2="484.9" y2="1121.64" stroke="#000" stroke-width="2.8"/>
<text x="469.6" y="1131.34" font-size="27.3" text-anchor="end">70</text>
<line x1="477.4" y1="1108.61" x2="484.9" y2="1108.61" stroke="#000" stroke-width="2.8"/>
<line x1="473.4" y1="1095.58" x2="484.9" y2="1095.58" stroke="#000" stroke-width="2.8"/>
<text x="469.6" y="1105.28" font-size="27.3" text-anchor="end">140</text>
<line x1="477.4" y1="1082.55" x2="484.9" y2="1082.55" stroke="#000" stroke-width="2.8"/>
<line x1="473.4" y1="1069.52" x2="484.9" y2="1069.52" stroke="#000" stroke-width="2.8"/>
<text x="469.6" y="1079.22" font-size="27.3" text-anchor="end">210</text>
<line x1="477.4" y1="1056.49" x2="484.9" y2="1056.49" stroke="#000" stroke-width="2.8"/>
<line x1="473.4" y1="1043.46" x2="484.9" y2="1043.46" stroke="#000" stroke-width="2.8"/>
<text x="469.6" y="1053.16" font-size="27.3" text-anchor="end">280</text>
<line x1="477.4" y1="1030.43" x2="484.9" y2="1030.43" stroke="#000" stroke-width="2.8"/>
<line x1="473.4" y1="1017.4" x2="484.9" y2="1017.4" stroke="#000" stroke-width="2.8"/>
<text x="469.6" y="1027.1" font-size="27.3" text-anchor="end">350</text>
<line x1="477.4" y1="1004.37" x2="484.9" y2="1004.37" stroke="#000" stroke-width="2.8"/>
<line x1="473.4" y1="991.34" x2="484.9" y2="991.34" stroke="#000" stroke-width="2.8"/>
<text x="469.6" y="1001.04" font-size="27.3" text-anchor="end">420</text>
<line x1="477.4" y1="978.31" x2="484.9" y2="978.31" stroke="#000" stroke-width="2.8"/>
<line x1="473.4" y1="965.28" x2="484.9" y2="965.28" stroke="#000" stroke-width="2.8"/>
<text x="469.6" y="974.98" font-size="27.3" text-anchor="end">490</text>
<line x1="477.4" y1="952.25" x2="484.9" y2="952.25" stroke="#000" stroke-width="2.8"/>
<line x1="473.4" y1="939.22" x2="484.9" y2="939.22" stroke="#000" stroke-width="2.8"/>
<text x="469.6" y="948.92" font-size="27.3" text-anchor="end">560</text>
<line x1="477.4" y1="926.19" x2="484.9" y2="926.19" stroke="#000" stroke-width="2.8"/>
<line x1="473.4" y1="913.16" x2="484.9" y2="913.16" stroke="#000" stroke-width="2.8"/>
<text x="469.6" y="922.86" font-size="27.3" text-anchor="end">630</text>
<line x1="477.4" y1="900.13" x2="484.9" y2="900.13" stroke="#000" stroke-width="2.8"/>
<line x1="473.4" y1="887.1" x2="484.9" y2="887.1" stroke="#000" stroke-width="2.8"/>
<text x="469.6" y="896.8" font-size="27.3" text-anchor="end">700</text>
<line x1="474.8" y1="1147.7" x2="714.6" y2="1147.7" stroke="#000" stroke-width="3"/>
<line x1="524.3" y1="1147.7" x2="524.3" y2="1157.5" stroke="#000" stroke-width="3"/>
<line x1="569.6" y1="1147.7" x2="569.6" y2="1157.5" stroke="#000" stroke-width="3"/>
<line x1="628.1" y1="1147.7" x2="628.1" y2="1157.5" stroke="#000" stroke-width="3"/>
<line x1="673.7" y1="1147.7" x2="673.7" y2="1157.5" stroke="#000" stroke-width="3"/>
<line x1="524.3" y1="1057.8" x2="524.3" y2="1070.2" stroke="#000" stroke-width="2.8"/>
<line x1="524.3" y1="1103.3" x2="524.3" y2="1109.1" stroke="#000" stroke-width="2.8"/>
<line x1="514.3" y1="1057.8" x2="534.3" y2="1057.8" stroke="#000" stroke-width="2.8"/>
<line x1="514.3" y1="1109.1" x2="534.3" y2="1109.1" stroke="#000" stroke-width="2.8"/>
<rect x="505.5" y="1070.2" width="37.6" height="33.1" fill="#808080" stroke="#000" stroke-width="2.8"/>
<line x1="505.5" y1="1090.9" x2="543.1" y2="1090.9" stroke="#000" stroke-width="2.8"/>
<line x1="569.6" y1="1045.7" x2="569.6" y2="1067.9" stroke="#000" stroke-width="2.8"/>
<line x1="569.6" y1="1100.4" x2="569.6" y2="1110" stroke="#000" stroke-width="2.8"/>
<line x1="559.6" y1="1045.7" x2="579.6" y2="1045.7" stroke="#000" stroke-width="2.8"/>
<line x1="559.6" y1="1110" x2="579.6" y2="1110" stroke="#000" stroke-width="2.8"/>
<rect x="550.8" y="1067.9" width="37.6" height="32.5" fill="#ff2600" stroke="#000" stroke-width="2.8"/>
<line x1="550.8" y1="1087.5" x2="588.4" y2="1087.5" stroke="#000" stroke-width="2.8"/>
<line x1="628.1" y1="1020.3" x2="628.1" y2="1041" stroke="#000" stroke-width="2.8"/>
<line x1="628.1" y1="1101" x2="628.1" y2="1110.5" stroke="#000" stroke-width="2.8"/>
<line x1="618.1" y1="1020.3" x2="638.1" y2="1020.3" stroke="#000" stroke-width="2.8"/>
<line x1="618.1" y1="1110.5" x2="638.1" y2="1110.5" stroke="#000" stroke-width="2.8"/>
<rect x="609.3" y="1041" width="37.6" height="60" fill="#808080" stroke="#000" stroke-width="2.8"/>
<line x1="609.3" y1="1070.2" x2="646.9" y2="1070.2" stroke="#000" stroke-width="2.8"/>
<line x1="673.7" y1="1027.5" x2="673.7" y2="1049.1" stroke="#000" stroke-width="2.8"/>
<line x1="673.7" y1="1094.7" x2="673.7" y2="1104" stroke="#000" stroke-width="2.8"/>
<line x1="663.7" y1="1027.5" x2="683.7" y2="1027.5" stroke="#000" stroke-width="2.8"/>
<line x1="663.7" y1="1104" x2="683.7" y2="1104" stroke="#000" stroke-width="2.8"/>
<rect x="654.9" y="1049.1" width="37.6" height="45.6" fill="#ff2600" stroke="#000" stroke-width="2.8"/>
<line x1="654.9" y1="1069.3" x2="692.5" y2="1069.3" stroke="#000" stroke-width="2.8"/>
<circle cx="518.31" cy="1114.21" r="3.3" fill="#fff" stroke="#000" stroke-width="0.9"/>
<circle cx="530.74" cy="1113.58" r="3.3" fill="#fff" stroke="#000" stroke-width="0.9"/>
<circle cx="526.36" cy="1115.93" r="3.3" fill="#fff" stroke="#000" stroke-width="0.9"/>
<circle cx="508.2" cy="1117.06" r="3.3" fill="#fff" stroke="#000" stroke-width="0.9"/>
<circle cx="507.42" cy="1116.47" r="3.3" fill="#fff" stroke="#000" stroke-width="0.9"/>
<circle cx="508.65" cy="1113.73" r="3.3" fill="#fff" stroke="#000" stroke-width="0.9"/>
<circle cx="522.13" cy="1119.61" r="3.3" fill="#fff" stroke="#000" stroke-width="0.9"/>
<circle cx="510.7" cy="1114.79" r="3.3" fill="#fff" stroke="#000" stroke-width="0.9"/>
<circle cx="529.84" cy="1120.58" r="3.3" fill="#fff" stroke="#000" stroke-width="0.9"/>
<circle cx="527.93" cy="1116.17" r="3.3" fill="#fff" stroke="#000" stroke-width="0.9"/>
<circle cx="543.1" cy="1113.37" r="3.3" fill="#fff" stroke="#000" stroke-width="0.9"/>
<circle cx="538.62" cy="1115.32" r="3.3" fill="#fff" stroke="#000" stroke-width="0.9"/>
<circle cx="511.48" cy="1113.94" r="3.3" fill="#fff" stroke="#000" stroke-width="0.9"/>
<circle cx="517.72" cy="1119.53" r="3.3" fill="#fff" stroke="#000" stroke-width="0.9"/>
<circle cx="512.87" cy="1117.65" r="3.3" fill="#fff" stroke="#000" stroke-width="0.9"/>
<circle cx="530.28" cy="1115.98" r="3.3" fill="#fff" stroke="#000" stroke-width="0.9"/>
<circle cx="526.81" cy="1113.5" r="3.3" fill="#fff" stroke="#000" stroke-width="0.9"/>
<circle cx="508.26" cy="1114.65" r="3.3" fill="#fff" stroke="#000" stroke-width="0.9"/>
<circle cx="527.25" cy="1050.13" r="3.3" fill="#fff" stroke="#000" stroke-width="0.9"/>
<circle cx="520.65" cy="1052.03" r="3.3" fill="#fff" stroke="#000" stroke-width="0.9"/>
<circle cx="523.16" cy="1048.6" r="3.3" fill="#fff" stroke="#000" stroke-width="0.9"/>
<circle cx="529.3" cy="1053.39" r="3.3" fill="#fff" stroke="#000" stroke-width="0.9"/>
<circle cx="519.39" cy="1051.89" r="3.3" fill="#fff" stroke="#000" stroke-width="0.9"/>
<circle cx="524.45" cy="1055.5" r="3.3" fill="#fff" stroke="#000" stroke-width="0.9"/>
<circle cx="528.13" cy="1048.46" r="3.3" fill="#fff" stroke="#000" stroke-width="0.9"/>
<circle cx="532.64" cy="1046.42" r="3.3" fill="#fff" stroke="#000" stroke-width="0.9"/>
<circle cx="522.53" cy="1054.09" r="3.3" fill="#fff" stroke="#000" stroke-width="0.9"/>
<circle cx="517.74" cy="1050.87" r="3.3" fill="#fff" stroke="#000" stroke-width="0.9"/>
<circle cx="515.71" cy="1053.02" r="3.3" fill="#fff" stroke="#000" stroke-width="0.9"/>
<circle cx="528.76" cy="1051.88" r="3.3" fill="#fff" stroke="#000" stroke-width="0.9"/>
<circle cx="530.76" cy="1048.76" r="3.3" fill="#fff" stroke="#000" stroke-width="0.9"/>
<circle cx="527.52" cy="1052.13" r="3.3" fill="#fff" stroke="#000" stroke-width="0.9"/>
<circle cx="524.3" cy="1030.4" r="3.3" fill="#fff" stroke="#000" stroke-width="0.9"/>
<circle cx="524.3" cy="1015.4" r="3.3" fill="#fff" stroke="#000" stroke-width="0.9"/>
<circle cx="524.3" cy="1005.3" r="3.3" fill="#fff" stroke="#000" stroke-width="0.9"/>
<circle cx="524.3" cy="980" r="3.3" fill="#fff" stroke="#000" stroke-width="0.9"/>
<circle cx="572.46" cy="1117.39" r="3.3" fill="#fff" stroke="#000" stroke-width="0.9"/>
<circle cx="582.08" cy="1124.23" r="3.3" fill="#fff" stroke="#000" stroke-width="0.9"/>
<circle cx="568.54" cy="1120.3" r="3.3" fill="#fff" stroke="#000" stroke-width="0.9"/>
<circle cx="553.24" cy="1120.82" r="3.3" fill="#fff" stroke="#000" stroke-width="0.9"/>
<circle cx="574.94" cy="1124.9" r="3.3" fill="#fff" stroke="#000" stroke-width="0.9"/>
<circle cx="581.41" cy="1114.98" r="3.3" fill="#fff" stroke="#000" stroke-width="0.9"/>
<circle cx="565.27" cy="1120.36" r="3.3" fill="#fff" stroke="#000" stroke-width="0.9"/>
<circle cx="551.83" cy="1117.46" r="3.3" fill="#fff" stroke="#000" stroke-width="0.9"/>
<circle cx="557.22" cy="1112.64" r="3.3" fill="#fff" stroke="#000" stroke-width="0.9"/>
<circle cx="553.18" cy="1121.76" r="3.3" fill="#fff" stroke="#000" stroke-width="0.9"/>
<circle cx="555.79" cy="1114.47" r="3.3" fill="#fff" stroke="#000" stroke-width="0.9"/>
<circle cx="565.47" cy="1123.2" r="3.3" fill="#fff" stroke="#000" stroke-width="0.9"/>
<circle cx="553.98" cy="1117.29" r="3.3" fill="#fff" stroke="#000" stroke-width="0.9"/>
<circle cx="571.33" cy="1123.37" r="3.3" fill="#fff" stroke="#000" stroke-width="0.9"/>
<circle cx="581.31" cy="1123.1" r="3.3" fill="#fff" stroke="#000" stroke-width="0.9"/>
<circle cx="561.3" cy="1116.81" r="3.3" fill="#fff" stroke="#000" stroke-width="0.9"/>
<circle cx="564.27" cy="1123.38" r="3.3" fill="#fff" stroke="#000" stroke-width="0.9"/>
<circle cx="586.44" cy="1113.11" r="3.3" fill="#fff" stroke="#000" stroke-width="0.9"/>
<circle cx="557.52" cy="1114.25" r="3.3" fill="#fff" stroke="#000" stroke-width="0.9"/>
<circle cx="559.63" cy="1117.79" r="3.3" fill="#fff" stroke="#000" stroke-width="0.9"/>
<circle cx="572.8" cy="1114.68" r="3.3" fill="#fff" stroke="#000" stroke-width="0.9"/>
<circle cx="551.15" cy="1116.87" r="3.3" fill="#fff" stroke="#000" stroke-width="0.9"/>
<circle cx="564.66" cy="1118.93" r="3.3" fill="#fff" stroke="#000" stroke-width="0.9"/>
<circle cx="586.26" cy="1120.67" r="3.3" fill="#fff" stroke="#000" stroke-width="0.9"/>
<circle cx="570.07" cy="1119.65" r="3.3" fill="#fff" stroke="#000" stroke-width="0.9"/>
<circle cx="576.02" cy="1111.76" r="3.3" fill="#fff" stroke="#000" stroke-width="0.9"/>
<circle cx="576.09" cy="1041.48" r="3.3" fill="#fff" stroke="#000" stroke-width="0.9"/>
<circle cx="575.62" cy="1041.77" r="3.3" fill="#fff" stroke="#000" stroke-width="0.9"/>
<circle cx="566.46" cy="1035.38" r="3.3" fill="#fff" stroke="#000" stroke-width="0.9"/>
<circle cx="560.97" cy="1039.15" r="3.3" fill="#fff" stroke="#000" stroke-width="0.9"/>
<circle cx="560.18" cy="1030.08" r="3.3" fill="#fff" stroke="#000" stroke-width="0.9"/>
<circle cx="562.97" cy="1031.6" r="3.3" fill="#fff" stroke="#000" stroke-width="0.9"/>
<circle cx="565.46" cy="1029.84" r="3.3" fill="#fff" stroke="#000" stroke-width="0.9"/>
<circle cx="559" cy="1031.42" r="3.3" fill="#fff" stroke="#000" stroke-width="0.9"/>
<circle cx="560.93" cy="1034.82" r="3.3" fill="#fff" stroke="#000" stroke-width="0.9"/>
<circle cx="559.48" cy="1042.99" r="3.3" fill="#fff" stroke="#000" stroke-width="0.9"/>
<circle cx="570.98" cy="1000.27" r="3.3" fill="#fff" stroke="#000" stroke-width="0.9"/>
<circle cx="566.28" cy="1004.64" r="3.3" fill="#fff" stroke="#000" stroke-width="0.9"/>
<circle cx="567.73" cy="999.7" r="3.3" fill="#fff" stroke="#000" stroke-width="0.9"/>
<circle cx="574.04" cy="1018.85" r="3.3" fill="#fff" stroke="#000" stroke-width="0.9"/>
<circle cx="569.06" cy="1007.64" r="3.3" fill="#fff" stroke="#000" stroke-width="0.9"/>
<circle cx="564.12" cy="999.25" r="3.3" fill="#fff" stroke="#000" stroke-width="0.9"/>
<circle cx="567.45" cy="1002.82" r="3.3" fill="#fff" stroke="#000" stroke-width="0.9"/>
<circle cx="573.78" cy="1000.55" r="3.3" fill="#fff" stroke="#000" stroke-width="0.9"/>
<circle cx="563.3" cy="1017.92" r="3.3" fill="#fff" stroke="#000" stroke-width="0.9"/>
<circle cx="569.87" cy="1000.23" r="3.3" fill="#fff" stroke="#000" stroke-width="0.9"/>
<circle cx="569.6" cy="989.5" r="3.3" fill="#fff" stroke="#000" stroke-width="0.9"/>
<circle cx="569.6" cy="970.7" r="3.3" fill="#fff" stroke="#000" stroke-width="0.9"/>
<circle cx="630.18" cy="1111.51" r="3.3" fill="#fff" stroke="#000" stroke-width="0.9"/>
<circle cx="629.6" cy="1129.59" r="3.3" fill="#fff" stroke="#000" stroke-width="0.9"/>
<circle cx="642.67" cy="1124.23" r="3.3" fill="#fff" stroke="#000" stroke-width="0.9"/>
<circle cx="619.18" cy="1117.97" r="3.3" fill="#fff" stroke="#000" stroke-width="0.9"/>
<circle cx="615.51" cy="1125.67" r="3.3" fill="#fff" stroke="#000" stroke-width="0.9"/>
<circle cx="629.77" cy="1125.8" r="3.3" fill="#fff" stroke="#000" stroke-width="0.9"/>
<circle cx="621.86" cy="1115.24" r="3.3" fill="#fff" stroke="#000" stroke-width="0.9"/>
<circle cx="640.65" cy="1129.71" r="3.3" fill="#fff" stroke="#000" stroke-width="0.9"/>
<circle cx="642.25" cy="1126.32" r="3.3" fill="#fff" stroke="#000" stroke-width="0.9"/>
<circle cx="640.91" cy="1125.06" r="3.3" fill="#fff" stroke="#000" stroke-width="0.9"/>
<circle cx="617.84" cy="1120.84" r="3.3" fill="#fff" stroke="#000" stroke-width="0.9"/>
<circle cx="622.87" cy="1111.55" r="3.3" fill="#fff" stroke="#000" stroke-width="0.9"/>
<circle cx="610.09" cy="1116.31" r="3.3" fill="#fff" stroke="#000" stroke-width="0.9"/>
<circle cx="619.11" cy="1124.16" r="3.3" fill="#fff" stroke="#000" stroke-width="0.9"/>
<circle cx="646.3" cy="1119.5" r="3.3" fill="#fff" stroke="#000" stroke-width="0.9"/>
<circle cx="645.54" cy="1129.77" r="3.3" fill="#fff" stroke="#000" stroke-width="0.9"/>
<circle cx="646.25" cy="1117.93" r="3.3" fill="#fff" stroke="#000" stroke-width="0.9"/>
<circle cx="617.6" cy="1115.31" r="3.3" fill="#fff" stroke="#000" stroke-width="0.9"/>
<circle cx="616.67" cy="1114.88" r="3.3" fill="#fff" stroke="#000" stroke-width="0.9"/>
<circle cx="633.34" cy="1128.11" r="3.3" fill="#fff" stroke="#000" stroke-width="0.9"/>
<circle cx="641.78" cy="1120.11" r="3.3" fill="#fff" stroke="#000" stroke-width="0.9"/>
<circle cx="634.47" cy="1126.19" r="3.3" fill="#fff" stroke="#000" stroke-width="0.9"/>
<circle cx="612.31" cy="1123.55" r="3.3" fill="#fff" stroke="#000" stroke-width="0.9"/>
<circle cx="644.48" cy="1125.86" r="3.3" fill="#fff" stroke="#000" stroke-width="0.9"/>
<circle cx="638.26" cy="1120.08" r="3.3" fill="#fff" stroke="#000" stroke-width="0.9"/>
<circle cx="615.96" cy="1125.99" r="3.3" fill="#fff" stroke="#000" stroke-width="0.9"/>
<circle cx="621.97" cy="1126.22" r="3.3" fill="#fff" stroke="#000" stroke-width="0.9"/>
<circle cx="646.89" cy="1118.52" r="3.3" fill="#fff" stroke="#000" stroke-width="0.9"/>
<circle cx="624.65" cy="1128.99" r="3.3" fill="#fff" stroke="#000" stroke-width="0.9"/>
<circle cx="637.27" cy="1114.23" r="3.3" fill="#fff" stroke="#000" stroke-width="0.9"/>
<circle cx="622.03" cy="995.38" r="3.3" fill="#fff" stroke="#000" stroke-width="0.9"/>
<circle cx="634.48" cy="1014.39" r="3.3" fill="#fff" stroke="#000" stroke-width="0.9"/>
<circle cx="622.34" cy="1014.97" r="3.3" fill="#fff" stroke="#000" stroke-width="0.9"/>
<circle cx="635.68" cy="1010.06" r="3.3" fill="#fff" stroke="#000" stroke-width="0.9"/>
<circle cx="625.61" cy="1006.91" r="3.3" fill="#fff" stroke="#000" stroke-width="0.9"/>
<circle cx="622.1" cy="991.41" r="3.3" fill="#fff" stroke="#000" stroke-width="0.9"/>
<circle cx="635.53" cy="1009.84" r="3.3" fill="#fff" stroke="#000" stroke-width="0.9"/>
<circle cx="628.43" cy="1018.08" r="3.3" fill="#fff" stroke="#000" stroke-width="0.9"/>
<circle cx="626.94" cy="1016.28" r="3.3" fill="#fff" stroke="#000" stroke-width="0.9"/>
<circle cx="633.22" cy="997.12" r="3.3" fill="#fff" stroke="#000" stroke-width="0.9"/>
<circle cx="624.03" cy="999.5" r="3.3" fill="#fff" stroke="#000" stroke-width="0.9"/>
<circle cx="623.85" cy="1008.01" r="3.3" fill="#fff" stroke="#000" stroke-width="0.9"/>
<circle cx="624.15" cy="1003.15" r="3.3" fill="#fff" stroke="#000" stroke-width="0.9"/>
<circle cx="622.1" cy="1017.39" r="3.3" fill="#fff" stroke="#000" stroke-width="0.9"/>
<circle cx="625.66" cy="1004.29" r="3.3" fill="#fff" stroke="#000" stroke-width="0.9"/>
<circle cx="629.33" cy="1017.22" r="3.3" fill="#fff" stroke="#000" stroke-width="0.9"/>
<circle cx="626.73" cy="1017.61" r="3.3" fill="#fff" stroke="#000" stroke-width="0.9"/>
<circle cx="628.03" cy="1006.42" r="3.3" fill="#fff" stroke="#000" stroke-width="0.9"/>
<circle cx="628.38" cy="991.54" r="3.3" fill="#fff" stroke="#000" stroke-width="0.9"/>
<circle cx="627.04" cy="996.31" r="3.3" fill="#fff" stroke="#000" stroke-width="0.9"/>
<circle cx="620.06" cy="1014.18" r="3.3" fill="#fff" stroke="#000" stroke-width="0.9"/>
<circle cx="622.76" cy="1004.73" r="3.3" fill="#fff" stroke="#000" stroke-width="0.9"/>
<circle cx="628" cy="983.7" r="3.3" fill="#fff" stroke="#000" stroke-width="0.9"/>
<circle cx="628.5" cy="970.7" r="3.3" fill="#fff" stroke="#000" stroke-width="0.9"/>
<circle cx="629.5" cy="969.5" r="3.3" fill="#fff" stroke="#000" stroke-width="0.9"/>
<circle cx="628.1" cy="939.6" r="3.3" fill="#fff" stroke="#000" stroke-width="0.9"/>
<circle cx="630" cy="939" r="3.3" fill="#fff" stroke="#000" stroke-width="0.9"/>
<circle cx="682.73" cy="1114.02" r="3.3" fill="#fff" stroke="#000" stroke-width="0.9"/>
<circle cx="666.37" cy="1113.33" r="3.3" fill="#fff" stroke="#000" stroke-width="0.9"/>
<circle cx="675.77" cy="1118.12" r="3.3" fill="#fff" stroke="#000" stroke-width="0.9"/>
<circle cx="657.35" cy="1114.09" r="3.3" fill="#fff" stroke="#000" stroke-width="0.9"/>
<circle cx="663.19" cy="1108.98" r="3.3" fill="#fff" stroke="#000" stroke-width="0.9"/>
<circle cx="684.66" cy="1113.14" r="3.3" fill="#fff" stroke="#000" stroke-width="0.9"/>
<circle cx="676.03" cy="1117.68" r="3.3" fill="#fff" stroke="#000" stroke-width="0.9"/>
<circle cx="690.41" cy="1111.98" r="3.3" fill="#fff" stroke="#000" stroke-width="0.9"/>
<circle cx="678.11" cy="1113.1" r="3.3" fill="#fff" stroke="#000" stroke-width="0.9"/>
<circle cx="674" cy="1116.47" r="3.3" fill="#fff" stroke="#000" stroke-width="0.9"/>
<circle cx="671.55" cy="1113.6" r="3.3" fill="#fff" stroke="#000" stroke-width="0.9"/>
<circle cx="672.6" cy="1120.95" r="3.3" fill="#fff" stroke="#000" stroke-width="0.9"/>
<circle cx="681.67" cy="1119.78" r="3.3" fill="#fff" stroke="#000" stroke-width="0.9"/>
<circle cx="691.63" cy="1108.67" r="3.3" fill="#fff" stroke="#000" stroke-width="0.9"/>
<circle cx="675.94" cy="1120.98" r="3.3" fill="#fff" stroke="#000" stroke-width="0.9"/>
<circle cx="687.44" cy="1106.47" r="3.3" fill="#fff" stroke="#000" stroke-width="0.9"/>
<circle cx="657.99" cy="1111.96" r="3.3" fill="#fff" stroke="#000" stroke-width="0.9"/>
<circle cx="655.97" cy="1108.33" r="3.3" fill="#fff" stroke="#000" stroke-width="0.9"/>
<circle cx="656" cy="1116.05" r="3.3" fill="#fff" stroke="#000" stroke-width="0.9"/>
<circle cx="685.14" cy="1120.15" r="3.3" fill="#fff" stroke="#000" stroke-width="0.9"/>
<circle cx="659.33" cy="1116.89" r="3.3" fill="#fff" stroke="#000" stroke-width="0.9"/>
<circle cx="680.07" cy="1106.57" r="3.3" fill="#fff" stroke="#000" stroke-width="0.9"/>
<circle cx="689.2" cy="1121.42" r="3.3" fill="#fff" stroke="#000" stroke-width="0.9"/>
<circle cx="662" cy="1121.15" r="3.3" fill="#fff" stroke="#000" stroke-width="0.9"/>
<circle cx="669.33" cy="1112.77" r="3.3" fill="#fff" stroke="#000" stroke-width="0.9"/>
<circle cx="693.58" cy="1118.98" r="3.3" fill="#fff" stroke="#000" stroke-width="0.9"/>
<circle cx="659.62" cy="1111.77" r="3.3" fill="#fff" stroke="#000" stroke-width="0.9"/>
<circle cx="674.14" cy="1110.1" r="3.3" fill="#fff" stroke="#000" stroke-width="0.9"/>
<circle cx="661.03" cy="1109.73" r="3.3" fill="#fff" stroke="#000" stroke-width="0.9"/>
<circle cx="682.61" cy="1104.35" r="3.3" fill="#fff" stroke="#000" stroke-width="0.9"/>
<circle cx="675.72" cy="1111.93" r="3.3" fill="#fff" stroke="#000" stroke-width="0.9"/>
<circle cx="653.74" cy="1109.97" r="3.3" fill="#fff" stroke="#000" stroke-width="0.9"/>
<circle cx="678.58" cy="1113.22" r="3.3" fill="#fff" stroke="#000" stroke-width="0.9"/>
<circle cx="655.64" cy="1121.73" r="3.3" fill="#fff" stroke="#000" stroke-width="0.9"/>
<circle cx="685.32" cy="1121.49" r="3.3" fill="#fff" stroke="#000" stroke-width="0.9"/>
<circle cx="657.3" cy="1108.78" r="3.3" fill="#fff" stroke="#000" stroke-width="0.9"/>
<circle cx="656.5" cy="1026.23" r="3.3" fill="#fff" stroke="#000" stroke-width="0.9"/>
<circle cx="665.28" cy="1021.04" r="3.3" fill="#fff" stroke="#000" stroke-width="0.9"/>
<circle cx="671.05" cy="1027.29" r="3.3" fill="#fff" stroke="#000" stroke-width="0.9"/>
<circle cx="686.12" cy="1022.07" r="3.3" fill="#fff" stroke="#000" stroke-width="0.9"/>
<circle cx="660.68" cy="1027.35" r="3.3" fill="#fff" stroke="#000" stroke-width="0.9"/>
<circle cx="676.68" cy="1025.6" r="3.3" fill="#fff" stroke="#000" stroke-width="0.9"/>
<circle cx="658.4" cy="1020.46" r="3.3" fill="#fff" stroke="#000" stroke-width="0.9"/>
<circle cx="681.15" cy="1023.4" r="3.3" fill="#fff" stroke="#000" stroke-width="0.9"/>
<circle cx="657.75" cy="1027.51" r="3.3" fill="#fff" stroke="#000" stroke-width="0.9"/>
<circle cx="679.11" cy="1026.41" r="3.3" fill="#fff" stroke="#000" stroke-width="0.9"/>
<circle cx="658.18" cy="1026.85" r="3.3" fill="#fff" stroke="#000" stroke-width="0.9"/>
<circle cx="657.53" cy="1026.9" r="3.3" fill="#fff" stroke="#000" stroke-width="0.9"/>
<circle cx="672.24" cy="1022.71" r="3.3" fill="#fff" stroke="#000" stroke-width="0.9"/>
<circle cx="676.02" cy="1027.41" r="3.3" fill="#fff" stroke="#000" stroke-width="0.9"/>
<circle cx="668.43" cy="996.23" r="3.3" fill="#fff" stroke="#000" stroke-width="0.9"/>
<circle cx="674.65" cy="998.96" r="3.3" fill="#fff" stroke="#000" stroke-width="0.9"/>
<circle cx="664.63" cy="997.04" r="3.3" fill="#fff" stroke="#000" stroke-width="0.9"/>
<circle cx="663.21" cy="998.04" r="3.3" fill="#fff" stroke="#000" stroke-width="0.9"/>
<circle cx="669.49" cy="1000.63" r="3.3" fill="#fff" stroke="#000" stroke-width="0.9"/>
<circle cx="680.23" cy="1000.25" r="3.3" fill="#fff" stroke="#000" stroke-width="0.9"/>
<circle cx="674" cy="997.45" r="3.3" fill="#fff" stroke="#000" stroke-width="0.9"/>
<circle cx="670.33" cy="993.45" r="3.3" fill="#fff" stroke="#000" stroke-width="0.9"/>
<circle cx="668.01" cy="993.38" r="3.3" fill="#fff" stroke="#000" stroke-width="0.9"/>
<circle cx="679.59" cy="1006.78" r="3.3" fill="#fff" stroke="#000" stroke-width="0.9"/>
<circle cx="666.55" cy="1004.87" r="3.3" fill="#fff" stroke="#000" stroke-width="0.9"/>
<circle cx="684.43" cy="995.66" r="3.3" fill="#fff" stroke="#000" stroke-width="0.9"/>
<circle cx="681.65" cy="1003.8" r="3.3" fill="#fff" stroke="#000" stroke-width="0.9"/>
<circle cx="673.88" cy="1013.87" r="3.3" fill="#fff" stroke="#000" stroke-width="0.9"/>
<circle cx="673.7" cy="910.7" r="3.3" fill="#fff" stroke="#000" stroke-width="0.9"/>
<line x1="520.1" y1="1085.7" x2="528.5" y2="1085.7" stroke="#1f5fa6" stroke-width="3"/>
<line x1="524.3" y1="1081.5" x2="524.3" y2="1089.9" stroke="#1f5fa6" stroke-width="3"/>
<line x1="565.4" y1="1082.3" x2="573.8" y2="1082.3" stroke="#1f5fa6" stroke-width="3"/>
<line x1="569.6" y1="1078.1" x2="569.6" y2="1086.5" stroke="#1f5fa6" stroke-width="3"/>
<line x1="623.9" y1="1067.9" x2="632.3" y2="1067.9" stroke="#1f5fa6" stroke-width="3"/>
<line x1="628.1" y1="1063.7" x2="628.1" y2="1072.1" stroke="#1f5fa6" stroke-width="3"/>
<line x1="669.5" y1="1068.7" x2="677.9" y2="1068.7" stroke="#1f5fa6" stroke-width="3"/>
<line x1="673.7" y1="1064.5" x2="673.7" y2="1072.9" stroke="#1f5fa6" stroke-width="3"/>
<polyline points="523.8,898.6 523.8,885.4 569.9,885.4 569.9,898.6" fill="none" stroke="#000" stroke-width="1.7"/>
<text x="547.2" y="873.2" font-size="23" text-anchor="middle">ns</text>
<polyline points="627.6,898.6 627.6,885.4 673.7,885.4 673.7,898.6" fill="none" stroke="#000" stroke-width="1.7"/>
<text x="650.6" y="873.2" font-size="23" text-anchor="middle">ns</text>
<text x="416.5" y="1010" font-size="27" text-anchor="middle" transform="rotate(-90 416.5 1010)">Cell body surface area (um<tspan font-size="17" dy="-11">2</tspan><tspan dy="11">)</tspan></text>
<text x="727.5" y="1070" font-size="23.5" text-anchor="middle" font-style="italic" transform="rotate(-90 727.5 1070)">n = neurons</text>
<text x="530.3" y="1174" font-size="27" text-anchor="end" transform="rotate(-45 530.3 1174)">Neurotypical</text>
<text x="575.6" y="1174" font-size="27" text-anchor="end" transform="rotate(-45 575.6 1174)">MPSIIIA</text>
<text x="634.1" y="1174" font-size="27" text-anchor="end" transform="rotate(-45 634.1 1174)">Neurotypical</text>
<text x="679.7" y="1174" font-size="27" text-anchor="end" transform="rotate(-45 679.7 1174)">MPSIIIA</text>
<text x="479.5" y="1302.8" font-size="20.5" font-style="italic" fill="#999">30-60 days</text>
<text x="596" y="1302.8" font-size="20.5" font-style="italic" fill="#999">90-120 days</text>
<text x="903.5" y="903" font-size="30" font-weight="bold">F</text>
<rect x="1222.6" y="962.1" width="86" height="27.6" fill="#fbc4c4"/>
<rect x="1308.6" y="962.1" width="86.4" height="27.6" fill="#fbbcbc"/>
<rect x="1500" y="962.1" width="86" height="27.6" fill="#fcc4c4"/>
<rect x="1586" y="962.1" width="86.4" height="27.6" fill="#fbbcbc"/>
<text x="1216.8" y="981.3" font-size="20.9" text-anchor="end" fill="#262626">Total # Neurites</text>
<text x="1265.6" y="981.3" font-size="21" text-anchor="middle" fill="#262626">4.1</text>
<text x="1351.8" y="981.3" font-size="21" text-anchor="middle" fill="#262626">4.6</text>
<text x="1543" y="981.3" font-size="21" text-anchor="middle" fill="#262626">4.3</text>
<text x="1629.2" y="981.3" font-size="21" text-anchor="middle" fill="#262626">4.7</text>
<text x="1448.5" y="981.3" font-size="21" text-anchor="middle" fill="#262626">0.0003</text>
<text x="1719.6" y="981.3" font-size="21" text-anchor="middle" fill="#262626">ns</text>
<rect x="1222.6" y="989.7" width="86" height="27.6" fill="#f8f8ff"/>
<rect x="1308.6" y="989.7" width="86.4" height="27.6" fill="#fde0e0"/>
<rect x="1500" y="989.7" width="86" height="27.6" fill="#f9a4a4"/>
<rect x="1586" y="989.7" width="86.4" height="27.6" fill="#f89c9c"/>
<text x="1216.8" y="1008.9" font-size="20.9" text-anchor="end" fill="#262626">Total # Nodes</text>
<text x="1265.6" y="1008.9" font-size="21" text-anchor="middle" fill="#262626">13.9</text>
<text x="1351.8" y="1008.9" font-size="21" text-anchor="middle" fill="#262626">15.0</text>
<text x="1543" y="1008.9" font-size="21" text-anchor="middle" fill="#262626">17.0</text>
<text x="1629.2" y="1008.9" font-size="21" text-anchor="middle" fill="#262626">18.0</text>
<text x="1448.5" y="1008.9" font-size="21" text-anchor="middle" fill="#262626">ns</text>
<text x="1719.6" y="1008.9" font-size="21" text-anchor="middle" fill="#262626">ns</text>
<rect x="1222.6" y="1017.3" width="86" height="27.6" fill="#fafaff"/>
<rect x="1308.6" y="1017.3" width="86.4" height="27.6" fill="#fff0f0"/>
<rect x="1500" y="1017.3" width="86" height="27.6" fill="#fbb8b8"/>
<rect x="1586" y="1017.3" width="86.4" height="27.6" fill="#ebebfd"/>
<text x="1216.8" y="1036.5" font-size="20.9" text-anchor="end" fill="#262626">Average Branch Angle All Nodes</text>
<text x="1265.6" y="1036.5" font-size="21" text-anchor="middle" fill="#262626">30.7</text>
<text x="1351.8" y="1036.5" font-size="21" text-anchor="middle" fill="#262626">31.2</text>
<text x="1543" y="1036.5" font-size="21" text-anchor="middle" fill="#262626">32.2</text>
<text x="1629.2" y="1036.5" font-size="21" text-anchor="middle" fill="#262626">30.4</text>
<text x="1448.5" y="1040" font-size="21" text-anchor="middle" fill="#262626">ns</text>
<text x="1719.6" y="1040" font-size="21" text-anchor="middle" fill="#262626">0.0150</text>
<rect x="1222.6" y="1044.9" width="86" height="27.6" fill="#fcd8d8"/>
<rect x="1308.6" y="1044.9" width="86.4" height="27.6" fill="#fff6f6"/>
<rect x="1500" y="1044.9" width="86" height="27.6" fill="#f8a0a0"/>
<rect x="1586" y="1044.9" width="86.4" height="27.6" fill="#fab0b0"/>
<text x="1216.8" y="1064.1" font-size="20.9" text-anchor="end" fill="#262626">Neurite Length (µm)</text>
<text x="1265.6" y="1064.1" font-size="21" text-anchor="middle" fill="#262626">2054.8</text>
<text x="1351.8" y="1064.1" font-size="21" text-anchor="middle" fill="#262626">1847.5</text>
<text x="1543" y="1064.1" font-size="21" text-anchor="middle" fill="#262626">2316.7</text>
<text x="1629.2" y="1064.1" font-size="21" text-anchor="middle" fill="#262626">2265.8</text>
<text x="1448.5" y="1067.6" font-size="21" text-anchor="middle" fill="#262626">ns</text>
<text x="1719.6" y="1067.6" font-size="21" text-anchor="middle" fill="#262626">ns</text>
<rect x="1222.6" y="1072.5" width="86" height="27.6" fill="#f89898"/>
<rect x="1308.6" y="1072.5" width="86.4" height="27.6" fill="#e8e8fc"/>
<rect x="1500" y="1072.5" width="86" height="27.6" fill="#f8a0a0"/>
<rect x="1586" y="1072.5" width="86.4" height="27.6" fill="#fbc0c0"/>
<text x="1216.8" y="1091.7" font-size="20.9" text-anchor="end" fill="#262626">Average Dist. Nodes Along Process (µm)</text>
<text x="1265.6" y="1091.7" font-size="21" text-anchor="middle" fill="#262626">71.7</text>
<text x="1351.8" y="1091.7" font-size="21" text-anchor="middle" fill="#262626">56.9</text>
<text x="1543" y="1091.7" font-size="21" text-anchor="middle" fill="#262626">70.8</text>
<text x="1629.2" y="1091.7" font-size="21" text-anchor="middle" fill="#262626">65.7</text>
<text x="1448.5" y="1095.2" font-size="21" text-anchor="middle" fill="#262626"><0.0001</text>
<text x="1719.6" y="1095.2" font-size="21" text-anchor="middle" fill="#262626">ns</text>
<rect x="1222.6" y="1100.1" width="86" height="27.6" fill="#fbc4c4"/>
<rect x="1308.6" y="1100.1" width="86.4" height="27.6" fill="#fbbcbc"/>
<rect x="1500" y="1100.1" width="86" height="27.6" fill="#fcc4c4"/>
<rect x="1586" y="1100.1" width="86.4" height="27.6" fill="#fbbcbc"/>
<text x="1216.8" y="1119.3" font-size="20.9" text-anchor="end" fill="#262626">Total # Primary Segments</text>
<text x="1265.6" y="1119.3" font-size="21" text-anchor="middle" fill="#262626">4.1</text>
<text x="1351.8" y="1119.3" font-size="21" text-anchor="middle" fill="#262626">4.6</text>
<text x="1543" y="1119.3" font-size="21" text-anchor="middle" fill="#262626">4.3</text>
<text x="1629.2" y="1119.3" font-size="21" text-anchor="middle" fill="#262626">4.7</text>
<text x="1448.5" y="1119.3" font-size="21" text-anchor="middle" fill="#262626">0.0003</text>
<text x="1719.6" y="1119.3" font-size="21" text-anchor="middle" fill="#262626">ns</text>
<rect x="1222.6" y="1127.7" width="86" height="27.6" fill="#fcd4d4"/>
<rect x="1308.6" y="1127.7" width="86.4" height="27.6" fill="#fcd0d0"/>
<rect x="1500" y="1127.7" width="86" height="27.6" fill="#fde0e0"/>
<rect x="1586" y="1127.7" width="86.4" height="27.6" fill="#fcd0d0"/>
<text x="1216.8" y="1146.9" font-size="20.9" text-anchor="end" fill="#262626">Total # Primary Nodes</text>
<text x="1265.6" y="1146.9" font-size="21" text-anchor="middle" fill="#262626">3.3</text>
<text x="1351.8" y="1146.9" font-size="21" text-anchor="middle" fill="#262626">3.6</text>
<text x="1543" y="1146.9" font-size="21" text-anchor="middle" fill="#262626">3.4</text>
<text x="1629.2" y="1146.9" font-size="21" text-anchor="middle" fill="#262626">3.8</text>
<text x="1448.5" y="1146.9" font-size="21" text-anchor="middle" fill="#262626">0.0071</text>
<text x="1719.6" y="1146.9" font-size="21" text-anchor="middle" fill="#262626">0.0220</text>
<rect x="1222.6" y="1155.3" width="86" height="27.6" fill="#f8f8ff"/>
<rect x="1308.6" y="1155.3" width="86.4" height="27.6" fill="#f8f8ff"/>
<rect x="1500" y="1155.3" width="86" height="27.6" fill="#fbbcbc"/>
<rect x="1586" y="1155.3" width="86.4" height="27.6" fill="#e4e4fb"/>
<text x="1216.8" y="1174.5" font-size="20.9" text-anchor="end" fill="#262626">Average Branch Angle 1ary Node</text>
<text x="1265.6" y="1174.5" font-size="21" text-anchor="middle" fill="#262626">32.2</text>
<text x="1351.8" y="1174.5" font-size="21" text-anchor="middle" fill="#262626">32.1</text>
<text x="1543" y="1174.5" font-size="21" text-anchor="middle" fill="#262626">33.7</text>
<text x="1629.2" y="1174.5" font-size="21" text-anchor="middle" fill="#262626">31.6</text>
<text x="1448.5" y="1174.5" font-size="21" text-anchor="middle" fill="#262626">ns</text>
<text x="1719.6" y="1174.5" font-size="21" text-anchor="middle" fill="#262626">0.0394</text>
<rect x="1222.6" y="1182.9" width="86" height="27.6" fill="#f87070"/>
<rect x="1308.6" y="1182.9" width="86.4" height="27.6" fill="#fbb8b8"/>
<rect x="1500" y="1182.9" width="86" height="27.6" fill="#f9aaaa"/>
<rect x="1586" y="1182.9" width="86.4" height="27.6" fill="#f9aaaa"/>
<text x="1216.8" y="1202.1" font-size="20.9" text-anchor="end" fill="#262626">Average Dist. 1ary Nodes Along Process (µm)</text>
<text x="1265.6" y="1202.1" font-size="21" text-anchor="middle" fill="#fff">29.3</text>
<text x="1351.8" y="1202.1" font-size="21" text-anchor="middle" fill="#262626">23.4</text>
<text x="1543" y="1202.1" font-size="21" text-anchor="middle" fill="#262626">24.5</text>
<text x="1629.2" y="1202.1" font-size="21" text-anchor="middle" fill="#262626">24.2</text>
<text x="1448.5" y="1202.1" font-size="21" text-anchor="middle" fill="#262626">0.0140</text>
<text x="1719.6" y="1202.1" font-size="21" text-anchor="middle" fill="#262626">ns</text>
<rect x="1222.6" y="1210.5" width="86" height="27.6" fill="#f4f4ff"/>
<rect x="1308.6" y="1210.5" width="86.4" height="27.6" fill="#fde0e0"/>
<rect x="1500" y="1210.5" width="86" height="27.6" fill="#fde2e2"/>
<rect x="1586" y="1210.5" width="86.4" height="27.6" fill="#fde0e0"/>
<text x="1216.8" y="1229.7" font-size="20.9" text-anchor="end" fill="#262626">Total # Secondary Segments</text>
<text x="1265.6" y="1229.7" font-size="21" text-anchor="middle" fill="#262626">6.9</text>
<text x="1351.8" y="1229.7" font-size="21" text-anchor="middle" fill="#262626">7.6</text>
<text x="1543" y="1229.7" font-size="21" text-anchor="middle" fill="#262626">7.1</text>
<text x="1629.2" y="1229.7" font-size="21" text-anchor="middle" fill="#262626">7.9</text>
<text x="1448.5" y="1229.7" font-size="21" text-anchor="middle" fill="#262626">0.0144</text>
<text x="1719.6" y="1229.7" font-size="21" text-anchor="middle" fill="#262626">0.0180</text>
<rect x="1222.6" y="1238.1" width="86" height="27.6" fill="#dcdcfc"/>
<rect x="1308.6" y="1238.1" width="86.4" height="27.6" fill="#dcdcfc"/>
<rect x="1500" y="1238.1" width="86" height="27.6" fill="#f9a8a8"/>
<rect x="1586" y="1238.1" width="86.4" height="27.6" fill="#f9a8a8"/>
<text x="1216.8" y="1257.3" font-size="20.9" text-anchor="end" fill="#262626">Total # Secondary Nodes</text>
<text x="1265.6" y="1257.3" font-size="21" text-anchor="middle" fill="#262626">3.6</text>
<text x="1351.8" y="1257.3" font-size="21" text-anchor="middle" fill="#262626">3.7</text>
<text x="1543" y="1257.3" font-size="21" text-anchor="middle" fill="#262626">4.1</text>
<text x="1629.2" y="1257.3" font-size="21" text-anchor="middle" fill="#262626">4.6</text>
<text x="1448.5" y="1257.3" font-size="21" text-anchor="middle" fill="#262626">ns</text>
<text x="1719.6" y="1257.3" font-size="21" text-anchor="middle" fill="#262626">0.0486</text>
<rect x="1222.6" y="1265.7" width="86" height="27.6" fill="#fff0f0"/>
<rect x="1308.6" y="1265.7" width="86.4" height="27.6" fill="#fddcdc"/>
<rect x="1500" y="1265.7" width="86" height="27.6" fill="#f9acac"/>
<rect x="1586" y="1265.7" width="86.4" height="27.6" fill="#f8a0a0"/>
<text x="1216.8" y="1284.9" font-size="20.9" text-anchor="end" fill="#262626">Total # Teritary Segments</text>
<text x="1265.6" y="1284.9" font-size="21" text-anchor="middle" fill="#262626">21.6</text>
<text x="1351.8" y="1284.9" font-size="21" text-anchor="middle" fill="#262626">23.4</text>
<text x="1543" y="1284.9" font-size="21" text-anchor="middle" fill="#262626">27.7</text>
<text x="1629.2" y="1284.9" font-size="21" text-anchor="middle" fill="#262626">29.0</text>
<text x="1448.5" y="1284.9" font-size="21" text-anchor="middle" fill="#262626">ns</text>
<text x="1719.6" y="1284.9" font-size="21" text-anchor="middle" fill="#262626">ns</text>
<rect x="1222.6" y="1293.3" width="86" height="27.6" fill="#dedefc"/>
<rect x="1308.6" y="1293.3" width="86.4" height="27.6" fill="#fde0e0"/>
<rect x="1500" y="1293.3" width="86" height="27.6" fill="#fde0e0"/>
<rect x="1586" y="1293.3" width="86.4" height="27.6" fill="#f77070"/>
<text x="1216.8" y="1312.5" font-size="20.9" text-anchor="end" fill="#262626"># Intersections at 45µm from soma</text>
<text x="1265.6" y="1312.5" font-size="21" text-anchor="middle" fill="#262626">8.6</text>
<text x="1351.8" y="1312.5" font-size="21" text-anchor="middle" fill="#262626">10.0</text>
<text x="1543" y="1312.5" font-size="21" text-anchor="middle" fill="#262626">9.7</text>
<text x="1629.2" y="1312.5" font-size="21" text-anchor="middle" fill="#fff">11.1</text>
<text x="1448.5" y="1312.5" font-size="21" text-anchor="middle" fill="#262626">0.0031</text>
<text x="1719.6" y="1314" font-size="21" text-anchor="middle" fill="#262626">0.0280</text>
<rect x="1222.6" y="1320.9" width="86" height="27.6" fill="#fffcfc"/>
<rect x="1308.6" y="1320.9" width="86.4" height="27.6" fill="#fdd8d8"/>
<rect x="1500" y="1320.9" width="86" height="27.6" fill="#f9a8a8"/>
<rect x="1586" y="1320.9" width="86.4" height="27.6" fill="#f8a0a0"/>
<text x="1216.8" y="1340.1" font-size="20.9" text-anchor="end" fill="#262626"># Intersections at 95µm from soma</text>
<text x="1265.6" y="1340.1" font-size="21" text-anchor="middle" fill="#262626">8.9</text>
<text x="1351.8" y="1340.1" font-size="21" text-anchor="middle" fill="#262626">9.1</text>
<text x="1543" y="1340.1" font-size="21" text-anchor="middle" fill="#262626">10.2</text>
<text x="1629.2" y="1340.1" font-size="21" text-anchor="middle" fill="#262626">10.8</text>
<text x="1448.5" y="1340.1" font-size="21" text-anchor="middle" fill="#262626">ns</text>
<text x="1719.6" y="1340.1" font-size="21" text-anchor="middle" fill="#262626">ns</text>
<rect x="1222.6" y="1348.5" width="86" height="27.6" fill="#f9a4a4"/>
<rect x="1308.6" y="1348.5" width="86.4" height="27.6" fill="#f6f6ff"/>
<rect x="1500" y="1348.5" width="86" height="27.6" fill="#f9a8a8"/>
<rect x="1586" y="1348.5" width="86.4" height="27.6" fill="#fbb8b8"/>
<text x="1216.8" y="1367.7" font-size="20.9" text-anchor="end" fill="#262626"># Intersections at 145µm from soma</text>
<text x="1265.6" y="1367.7" font-size="21" text-anchor="middle" fill="#262626">7.1</text>
<text x="1351.8" y="1367.7" font-size="21" text-anchor="middle" fill="#262626">5.7</text>
<text x="1543" y="1367.7" font-size="21" text-anchor="middle" fill="#262626">8.0</text>
<text x="1629.2" y="1367.7" font-size="21" text-anchor="middle" fill="#262626">7.2</text>
<text x="1448.5" y="1367.7" font-size="21" text-anchor="middle" fill="#262626">0.0095</text>
<text x="1719.6" y="1367.7" font-size="21" text-anchor="middle" fill="#262626">ns</text>
<rect x="1222.6" y="1376.1" width="86" height="27.6" fill="#ececfd"/>
<rect x="1308.6" y="1376.1" width="86.4" height="27.6" fill="#fde0e0"/>
<rect x="1500" y="1376.1" width="86" height="27.6" fill="#f9acac"/>
<rect x="1586" y="1376.1" width="86.4" height="27.6" fill="#f89a9a"/>
<text x="1216.8" y="1395.3" font-size="20.9" text-anchor="end" fill="#262626">Total # Ends</text>
<text x="1265.6" y="1395.3" font-size="21" text-anchor="middle" fill="#262626">18.6</text>
<text x="1351.8" y="1395.3" font-size="21" text-anchor="middle" fill="#262626">20.6</text>
<text x="1543" y="1395.3" font-size="21" text-anchor="middle" fill="#262626">22.1</text>
<text x="1629.2" y="1395.3" font-size="21" text-anchor="middle" fill="#262626">23.6</text>
<text x="1448.5" y="1395.3" font-size="21" text-anchor="middle" fill="#262626">ns</text>
<text x="1719.6" y="1395.3" font-size="21" text-anchor="middle" fill="#262626">ns</text>
<rect x="1222.6" y="1403.7" width="86" height="27.6" fill="#f88888"/>
<rect x="1308.6" y="1403.7" width="86.4" height="27.6" fill="#c4c4fc"/>
<rect x="1500" y="1403.7" width="86" height="27.6" fill="#f9a4a4"/>
<rect x="1586" y="1403.7" width="86.4" height="27.6" fill="#fde4e4"/>
<text x="1216.8" y="1422.9" font-size="20.9" text-anchor="end" fill="#262626">Mean Ending Dist. from Locus (µm)</text>
<text x="1265.6" y="1422.9" font-size="21" text-anchor="middle" fill="#262626">158.9</text>
<text x="1351.8" y="1422.9" font-size="21" text-anchor="middle" fill="#262626">125.6</text>
<text x="1543" y="1422.9" font-size="21" text-anchor="middle" fill="#262626">150.9</text>
<text x="1629.2" y="1422.9" font-size="21" text-anchor="middle" fill="#262626">141.4</text>
<text x="1448.5" y="1422.9" font-size="21" text-anchor="middle" fill="#262626"><0.0001</text>
<text x="1719.6" y="1422.9" font-size="21" text-anchor="middle" fill="#262626">ns</text>
<rect x="1222.6" y="1431.3" width="86" height="27.6" fill="#fcd4d4"/>
<rect x="1308.6" y="1431.3" width="86.4" height="27.6" fill="#fbcaca"/>
<rect x="1500" y="1431.3" width="86" height="27.6" fill="#fddcdc"/>
<rect x="1586" y="1431.3" width="86.4" height="27.6" fill="#fcd4d4"/>
<text x="1216.8" y="1450.5" font-size="20.9" text-anchor="end" fill="#262626">Average Soma Diameter (µm)</text>
<text x="1265.6" y="1450.5" font-size="21" text-anchor="middle" fill="#262626">17.5</text>
<text x="1351.8" y="1450.5" font-size="21" text-anchor="middle" fill="#262626">17.7</text>
<text x="1543" y="1450.5" font-size="21" text-anchor="middle" fill="#262626">17.3</text>
<text x="1629.2" y="1450.5" font-size="21" text-anchor="middle" fill="#262626">17.3</text>
<text x="1448.5" y="1450.5" font-size="21" text-anchor="middle" fill="#262626">ns</text>
<text x="1719.6" y="1450.5" font-size="21" text-anchor="middle" fill="#262626">ns</text>
<rect x="1222.6" y="1458.9" width="86" height="27.6" fill="#fcd4d4"/>
<rect x="1308.6" y="1458.9" width="86.4" height="27.6" fill="#fbc8c8"/>
<rect x="1500" y="1458.9" width="86" height="27.6" fill="#fcd4d4"/>
<rect x="1586" y="1458.9" width="86.4" height="27.6" fill="#fcd0d0"/>
<text x="1216.8" y="1478.1" font-size="20.9" text-anchor="end" fill="#262626">Soma Long Diameter (µm)</text>
<text x="1265.6" y="1478.1" font-size="21" text-anchor="middle" fill="#262626">19.9</text>
<text x="1351.8" y="1478.1" font-size="21" text-anchor="middle" fill="#262626">20.1</text>
<text x="1543" y="1478.1" font-size="21" text-anchor="middle" fill="#262626">19.8</text>
<text x="1629.2" y="1478.1" font-size="21" text-anchor="middle" fill="#262626">19.8</text>
<text x="1448.5" y="1478.1" font-size="21" text-anchor="middle" fill="#262626">ns</text>
<text x="1719.6" y="1478.1" font-size="21" text-anchor="middle" fill="#262626">ns</text>
<rect x="1222.6" y="1486.5" width="86" height="27.6" fill="#fde0e0"/>
<rect x="1308.6" y="1486.5" width="86.4" height="27.6" fill="#fbcaca"/>
<rect x="1500" y="1486.5" width="86" height="27.6" fill="#fff0f0"/>
<rect x="1586" y="1486.5" width="86.4" height="27.6" fill="#fbcaca"/>
<text x="1216.8" y="1505.7" font-size="20.9" text-anchor="end" fill="#262626">Soma Short Diameter (µm)</text>
<text x="1265.6" y="1505.7" font-size="21" text-anchor="middle" fill="#262626">13.0</text>
<text x="1351.8" y="1505.7" font-size="21" text-anchor="middle" fill="#262626">13.2</text>
<text x="1543" y="1505.7" font-size="21" text-anchor="middle" fill="#262626">12.8</text>
<text x="1629.2" y="1505.7" font-size="21" text-anchor="middle" fill="#262626">13.1</text>
<text x="1448.5" y="1505.7" font-size="21" text-anchor="middle" fill="#262626">ns</text>
<text x="1719.6" y="1505.7" font-size="21" text-anchor="middle" fill="#262626">ns</text>
<rect x="1222.6" y="1514.1" width="86" height="27.6" fill="#fde0e0"/>
<rect x="1308.6" y="1514.1" width="86.4" height="27.6" fill="#fbcccc"/>
<rect x="1500" y="1514.1" width="86" height="27.6" fill="#fde0e0"/>
<rect x="1586" y="1514.1" width="86.4" height="27.6" fill="#fcd4d4"/>
<text x="1216.8" y="1533.3" font-size="20.9" text-anchor="end" fill="#262626">Soma Perimeter (µm)</text>
<text x="1265.6" y="1533.3" font-size="21" text-anchor="middle" fill="#262626">53.0</text>
<text x="1351.8" y="1533.3" font-size="21" text-anchor="middle" fill="#262626">53.8</text>
<text x="1543" y="1533.3" font-size="21" text-anchor="middle" fill="#262626">52.4</text>
<text x="1629.2" y="1533.3" font-size="21" text-anchor="middle" fill="#262626">53.1</text>
<text x="1448.5" y="1533.3" font-size="21" text-anchor="middle" fill="#262626">ns</text>
<text x="1719.6" y="1533.3" font-size="21" text-anchor="middle" fill="#262626">ns</text>
<line x1="1222.6" y1="962.1" x2="1395" y2="962.1" stroke="#fff" stroke-width="1.1"/>
<line x1="1500" y1="962.1" x2="1672.4" y2="962.1" stroke="#fff" stroke-width="1.1"/>
<line x1="1222.6" y1="989.7" x2="1395" y2="989.7" stroke="#fff" stroke-width="1.1"/>
<line x1="1500" y1="989.7" x2="1672.4" y2="989.7" stroke="#fff" stroke-width="1.1"/>
<line x1="1222.6" y1="1017.3" x2="1395" y2="1017.3" stroke="#fff" stroke-width="1.1"/>
<line x1="1500" y1="1017.3" x2="1672.4" y2="1017.3" stroke="#fff" stroke-width="1.1"/>
<line x1="1222.6" y1="1044.9" x2="1395" y2="1044.9" stroke="#fff" stroke-width="1.1"/>
<line x1="1500" y1="1044.9" x2="1672.4" y2="1044.9" stroke="#fff" stroke-width="1.1"/>
<line x1="1222.6" y1="1072.5" x2="1395" y2="1072.5" stroke="#fff" stroke-width="1.1"/>
<line x1="1500" y1="1072.5" x2="1672.4" y2="1072.5" stroke="#fff" stroke-width="1.1"/>
<line x1="1222.6" y1="1100.1" x2="1395" y2="1100.1" stroke="#fff" stroke-width="1.1"/>
<line x1="1500" y1="1100.1" x2="1672.4" y2="1100.1" stroke="#fff" stroke-width="1.1"/>
<line x1="1222.6" y1="1127.7" x2="1395" y2="1127.7" stroke="#fff" stroke-width="1.1"/>
<line x1="1500" y1="1127.7" x2="1672.4" y2="1127.7" stroke="#fff" stroke-width="1.1"/>
<line x1="1222.6" y1="1155.3" x2="1395" y2="1155.3" stroke="#fff" stroke-width="1.1"/>
<line x1="1500" y1="1155.3" x2="1672.4" y2="1155.3" stroke="#fff" stroke-width="1.1"/>
<line x1="1222.6" y1="1182.9" x2="1395" y2="1182.9" stroke="#fff" stroke-width="1.1"/>
<line x1="1500" y1="1182.9" x2="1672.4" y2="1182.9" stroke="#fff" stroke-width="1.1"/>
<line x1="1222.6" y1="1210.5" x2="1395" y2="1210.5" stroke="#fff" stroke-width="1.1"/>
<line x1="1500" y1="1210.5" x2="1672.4" y2="1210.5" stroke="#fff" stroke-width="1.1"/>
<line x1="1222.6" y1="1238.1" x2="1395" y2="1238.1" stroke="#fff" stroke-width="1.1"/>
<line x1="1500" y1="1238.1" x2="1672.4" y2="1238.1" stroke="#fff" stroke-width="1.1"/>
<line x1="1222.6" y1="1265.7" x2="1395" y2="1265.7" stroke="#fff" stroke-width="1.1"/>
<line x1="1500" y1="1265.7" x2="1672.4" y2="1265.7" stroke="#fff" stroke-width="1.1"/>
<line x1="1222.6" y1="1293.3" x2="1395" y2="1293.3" stroke="#fff" stroke-width="1.1"/>
<line x1="1500" y1="1293.3" x2="1672.4" y2="1293.3" stroke="#fff" stroke-width="1.1"/>
<line x1="1222.6" y1="1320.9" x2="1395" y2="1320.9" stroke="#fff" stroke-width="1.1"/>
<line x1="1500" y1="1320.9" x2="1672.4" y2="1320.9" stroke="#fff" stroke-width="1.1"/>
<line x1="1222.6" y1="1348.5" x2="1395" y2="1348.5" stroke="#fff" stroke-width="1.1"/>
<line x1="1500" y1="1348.5" x2="1672.4" y2="1348.5" stroke="#fff" stroke-width="1.1"/>
<line x1="1222.6" y1="1376.1" x2="1395" y2="1376.1" stroke="#fff" stroke-width="1.1"/>
<line x1="1500" y1="1376.1" x2="1672.4" y2="1376.1" stroke="#fff" stroke-width="1.1"/>
<line x1="1222.6" y1="1403.7" x2="1395" y2="1403.7" stroke="#fff" stroke-width="1.1"/>
<line x1="1500" y1="1403.7" x2="1672.4" y2="1403.7" stroke="#fff" stroke-width="1.1"/>
<line x1="1222.6" y1="1431.3" x2="1395" y2="1431.3" stroke="#fff" stroke-width="1.1"/>
<line x1="1500" y1="1431.3" x2="1672.4" y2="1431.3" stroke="#fff" stroke-width="1.1"/>
<line x1="1222.6" y1="1458.9" x2="1395" y2="1458.9" stroke="#fff" stroke-width="1.1"/>
<line x1="1500" y1="1458.9" x2="1672.4" y2="1458.9" stroke="#fff" stroke-width="1.1"/>
<line x1="1222.6" y1="1486.5" x2="1395" y2="1486.5" stroke="#fff" stroke-width="1.1"/>
<line x1="1500" y1="1486.5" x2="1672.4" y2="1486.5" stroke="#fff" stroke-width="1.1"/>
<line x1="1222.6" y1="1514.1" x2="1395" y2="1514.1" stroke="#fff" stroke-width="1.1"/>
<line x1="1500" y1="1514.1" x2="1672.4" y2="1514.1" stroke="#fff" stroke-width="1.1"/>
<line x1="1222.6" y1="1541.7" x2="1395" y2="1541.7" stroke="#fff" stroke-width="1.1"/>
<line x1="1500" y1="1541.7" x2="1672.4" y2="1541.7" stroke="#fff" stroke-width="1.1"/>
<line x1="1308.6" y1="962.1" x2="1308.6" y2="1541.7" stroke="#fff" stroke-width="1.1"/>
<line x1="1586" y1="962.1" x2="1586" y2="1541.7" stroke="#fff" stroke-width="1.1"/>
<text x="1307.5" y="951.9" font-size="23.8" text-anchor="middle" font-style="italic" fill="#262626">30-60 days</text>
<text x="1593" y="951.9" font-size="23.4" text-anchor="middle" font-style="italic" fill="#262626">90-120 days</text>
<text x="1448.5" y="957.3" font-size="21" text-anchor="middle" font-style="italic" fill="#8a8a8a">p-value:</text>
<text x="1719.6" y="957.3" font-size="21" text-anchor="middle" font-style="italic" fill="#8a8a8a">p-value:</text>
<text x="1276.3" y="1551.5" font-size="21.2" text-anchor="end" transform="rotate(-90 1276.3 1551.5)">Neurotypical</text>
<text x="1360.1" y="1551.5" font-size="21.2" text-anchor="end" fill="#c00000" transform="rotate(-90 1360.1 1551.5)">MPSIIIA</text>
<text x="1553.3" y="1551.5" font-size="21.2" text-anchor="end" transform="rotate(-90 1553.3 1551.5)">Neurotypical</text>
<text x="1633.9" y="1551.5" font-size="21.2" text-anchor="end" fill="#c00000" transform="rotate(-90 1633.9 1551.5)">MPSIIIA</text>
<defs><linearGradient id="bwr" x1="0" x2="1" y1="0" y2="0"><stop offset="0" stop-color="#0000ff"/><stop offset="0.5" stop-color="#ffffff"/><stop offset="1" stop-color="#ff0000"/></linearGradient></defs>
<rect x="892.7" y="1600.5" width="256" height="21" fill="url(#bwr)" stroke="#c8c8c8" stroke-width="1.3"/>
<text x="924.4" y="1642.3" font-size="20" text-anchor="middle" fill="#262626">20</text>
<text x="988.54" y="1642.3" font-size="20" text-anchor="middle" fill="#262626">40</text>
<text x="1052.68" y="1642.3" font-size="20" text-anchor="middle" fill="#262626">60</text>
<text x="1116.82" y="1642.3" font-size="20" text-anchor="middle" fill="#262626">80</text>
<text x="1021" y="1672.2" font-size="23.5" text-anchor="middle" fill="#262626">Percentile Rank</text>
<text x="10" y="1365.7" font-size="30" font-weight="bold">G</text>
<defs><clipPath id="g1c"><rect x="101.7" y="1366.2" width="283.9" height="274.7"/></clipPath><clipPath id="g2c"><rect x="454.3" y="1366.2" width="283.9" height="274.7"/></clipPath></defs>
<g clip-path="url(#g1c)">
<circle cx="235.39" cy="1608.54" r="4.8" fill="rgba(0,0,0,0.72)" stroke="rgba(150,150,150,0.55)" stroke-width="0.7"/>
<circle cx="154.36" cy="1567.96" r="4.8" fill="rgba(214,39,40,0.72)" stroke="rgba(150,150,150,0.55)" stroke-width="0.7"/>
<circle cx="180.09" cy="1519.28" r="4.8" fill="rgba(0,0,0,0.72)" stroke="rgba(150,150,150,0.55)" stroke-width="0.7"/>
<circle cx="154.58" cy="1586.72" r="4.8" fill="rgba(214,39,40,0.72)" stroke="rgba(150,150,150,0.55)" stroke-width="0.7"/>
<circle cx="198.06" cy="1558.19" r="4.8" fill="rgba(214,39,40,0.72)" stroke="rgba(150,150,150,0.55)" stroke-width="0.7"/>
<circle cx="180.57" cy="1597.67" r="4.8" fill="rgba(0,0,0,0.72)" stroke="rgba(150,150,150,0.55)" stroke-width="0.7"/>
<circle cx="175.73" cy="1495.26" r="4.8" fill="rgba(0,0,0,0.72)" stroke="rgba(150,150,150,0.55)" stroke-width="0.7"/>
<circle cx="279.55" cy="1578.77" r="4.8" fill="rgba(214,39,40,0.72)" stroke="rgba(150,150,150,0.55)" stroke-width="0.7"/>
<circle cx="226.46" cy="1594.8" r="4.8" fill="rgba(0,0,0,0.72)" stroke="rgba(150,150,150,0.55)" stroke-width="0.7"/>
<circle cx="148.62" cy="1564.01" r="4.8" fill="rgba(214,39,40,0.72)" stroke="rgba(150,150,150,0.55)" stroke-width="0.7"/>
<circle cx="132.24" cy="1604.64" r="4.8" fill="rgba(0,0,0,0.72)" stroke="rgba(150,150,150,0.55)" stroke-width="0.7"/>
<circle cx="313.01" cy="1516.25" r="4.8" fill="rgba(214,39,40,0.72)" stroke="rgba(150,150,150,0.55)" stroke-width="0.7"/>
<circle cx="153.7" cy="1550.02" r="4.8" fill="rgba(214,39,40,0.72)" stroke="rgba(150,150,150,0.55)" stroke-width="0.7"/>
<circle cx="167.41" cy="1541.95" r="4.8" fill="rgba(214,39,40,0.72)" stroke="rgba(150,150,150,0.55)" stroke-width="0.7"/>
<circle cx="137.4" cy="1598.23" r="4.8" fill="rgba(214,39,40,0.72)" stroke="rgba(150,150,150,0.55)" stroke-width="0.7"/>
<circle cx="201.99" cy="1558.68" r="4.8" fill="rgba(0,0,0,0.72)" stroke="rgba(150,150,150,0.55)" stroke-width="0.7"/>
<circle cx="181.17" cy="1551.02" r="4.8" fill="rgba(214,39,40,0.72)" stroke="rgba(150,150,150,0.55)" stroke-width="0.7"/>
<circle cx="176.38" cy="1523.47" r="4.8" fill="rgba(214,39,40,0.72)" stroke="rgba(150,150,150,0.55)" stroke-width="0.7"/>
<circle cx="233" cy="1502.05" r="4.8" fill="rgba(0,0,0,0.72)" stroke="rgba(150,150,150,0.55)" stroke-width="0.7"/>
<circle cx="228.71" cy="1573.93" r="4.8" fill="rgba(214,39,40,0.72)" stroke="rgba(150,150,150,0.55)" stroke-width="0.7"/>
<circle cx="174.67" cy="1567" r="4.8" fill="rgba(0,0,0,0.72)" stroke="rgba(150,150,150,0.55)" stroke-width="0.7"/>
<circle cx="179.03" cy="1554.14" r="4.8" fill="rgba(0,0,0,0.72)" stroke="rgba(150,150,150,0.55)" stroke-width="0.7"/>
<circle cx="163.05" cy="1566.92" r="4.8" fill="rgba(214,39,40,0.72)" stroke="rgba(150,150,150,0.55)" stroke-width="0.7"/>
<circle cx="214.64" cy="1601.67" r="4.8" fill="rgba(214,39,40,0.72)" stroke="rgba(150,150,150,0.55)" stroke-width="0.7"/>
<circle cx="146.2" cy="1578.31" r="4.8" fill="rgba(0,0,0,0.72)" stroke="rgba(150,150,150,0.55)" stroke-width="0.7"/>
<circle cx="178.26" cy="1535.18" r="4.8" fill="rgba(0,0,0,0.72)" stroke="rgba(150,150,150,0.55)" stroke-width="0.7"/>
<circle cx="160.33" cy="1551.05" r="4.8" fill="rgba(214,39,40,0.72)" stroke="rgba(150,150,150,0.55)" stroke-width="0.7"/>
<circle cx="170.97" cy="1558.49" r="4.8" fill="rgba(214,39,40,0.72)" stroke="rgba(150,150,150,0.55)" stroke-width="0.7"/>
<circle cx="178.2" cy="1569.4" r="4.8" fill="rgba(214,39,40,0.72)" stroke="rgba(150,150,150,0.55)" stroke-width="0.7"/>
<circle cx="141.15" cy="1594.33" r="4.8" fill="rgba(0,0,0,0.72)" stroke="rgba(150,150,150,0.55)" stroke-width="0.7"/>
<circle cx="155.23" cy="1574.35" r="4.8" fill="rgba(0,0,0,0.72)" stroke="rgba(150,150,150,0.55)" stroke-width="0.7"/>
<circle cx="176.19" cy="1555.17" r="4.8" fill="rgba(214,39,40,0.72)" stroke="rgba(150,150,150,0.55)" stroke-width="0.7"/>
<circle cx="210.16" cy="1562.05" r="4.8" fill="rgba(0,0,0,0.72)" stroke="rgba(150,150,150,0.55)" stroke-width="0.7"/>
<circle cx="202.2" cy="1565.51" r="4.8" fill="rgba(0,0,0,0.72)" stroke="rgba(150,150,150,0.55)" stroke-width="0.7"/>
<circle cx="190.1" cy="1497.82" r="4.8" fill="rgba(214,39,40,0.72)" stroke="rgba(150,150,150,0.55)" stroke-width="0.7"/>
<circle cx="127.27" cy="1486.12" r="4.8" fill="rgba(214,39,40,0.72)" stroke="rgba(150,150,150,0.55)" stroke-width="0.7"/>
<circle cx="215.66" cy="1573.1" r="4.8" fill="rgba(214,39,40,0.72)" stroke="rgba(150,150,150,0.55)" stroke-width="0.7"/>
<circle cx="143.64" cy="1516.79" r="4.8" fill="rgba(0,0,0,0.72)" stroke="rgba(150,150,150,0.55)" stroke-width="0.7"/>
<circle cx="196.82" cy="1532.6" r="4.8" fill="rgba(214,39,40,0.72)" stroke="rgba(150,150,150,0.55)" stroke-width="0.7"/>
<circle cx="154.6" cy="1461.54" r="4.8" fill="rgba(0,0,0,0.72)" stroke="rgba(150,150,150,0.55)" stroke-width="0.7"/>
<circle cx="221.68" cy="1490.6" r="4.8" fill="rgba(0,0,0,0.72)" stroke="rgba(150,150,150,0.55)" stroke-width="0.7"/>
<circle cx="191.85" cy="1512.66" r="4.8" fill="rgba(0,0,0,0.72)" stroke="rgba(150,150,150,0.55)" stroke-width="0.7"/>
<circle cx="144.11" cy="1508.89" r="4.8" fill="rgba(214,39,40,0.72)" stroke="rgba(150,150,150,0.55)" stroke-width="0.7"/>
<circle cx="173.45" cy="1494.79" r="4.8" fill="rgba(0,0,0,0.72)" stroke="rgba(150,150,150,0.55)" stroke-width="0.7"/>
<circle cx="169.84" cy="1529.04" r="4.8" fill="rgba(0,0,0,0.72)" stroke="rgba(150,150,150,0.55)" stroke-width="0.7"/>
<circle cx="176.81" cy="1489.46" r="4.8" fill="rgba(0,0,0,0.72)" stroke="rgba(150,150,150,0.55)" stroke-width="0.7"/>
<circle cx="114.88" cy="1541.44" r="4.8" fill="rgba(0,0,0,0.72)" stroke="rgba(150,150,150,0.55)" stroke-width="0.7"/>
<circle cx="262.82" cy="1616.78" r="4.8" fill="rgba(214,39,40,0.72)" stroke="rgba(150,150,150,0.55)" stroke-width="0.7"/>
<circle cx="176.27" cy="1611.28" r="4.8" fill="rgba(0,0,0,0.72)" stroke="rgba(150,150,150,0.55)" stroke-width="0.7"/>
<circle cx="170.28" cy="1544.75" r="4.8" fill="rgba(214,39,40,0.72)" stroke="rgba(150,150,150,0.55)" stroke-width="0.7"/>
<circle cx="188.56" cy="1529.53" r="4.8" fill="rgba(0,0,0,0.72)" stroke="rgba(150,150,150,0.55)" stroke-width="0.7"/>
<circle cx="213.28" cy="1538.93" r="4.8" fill="rgba(0,0,0,0.72)" stroke="rgba(150,150,150,0.55)" stroke-width="0.7"/>
<circle cx="149.21" cy="1559.72" r="4.8" fill="rgba(214,39,40,0.72)" stroke="rgba(150,150,150,0.55)" stroke-width="0.7"/>
<circle cx="187.96" cy="1583.21" r="4.8" fill="rgba(214,39,40,0.72)" stroke="rgba(150,150,150,0.55)" stroke-width="0.7"/>
<circle cx="158.31" cy="1506.44" r="4.8" fill="rgba(214,39,40,0.72)" stroke="rgba(150,150,150,0.55)" stroke-width="0.7"/>
<circle cx="225.46" cy="1511.21" r="4.8" fill="rgba(0,0,0,0.72)" stroke="rgba(150,150,150,0.55)" stroke-width="0.7"/>
<circle cx="166.99" cy="1530.76" r="4.8" fill="rgba(0,0,0,0.72)" stroke="rgba(150,150,150,0.55)" stroke-width="0.7"/>
<circle cx="166.63" cy="1533.88" r="4.8" fill="rgba(0,0,0,0.72)" stroke="rgba(150,150,150,0.55)" stroke-width="0.7"/>
<circle cx="211.49" cy="1620.67" r="4.8" fill="rgba(0,0,0,0.72)" stroke="rgba(150,150,150,0.55)" stroke-width="0.7"/>
<circle cx="226.71" cy="1499.76" r="4.8" fill="rgba(214,39,40,0.72)" stroke="rgba(150,150,150,0.55)" stroke-width="0.7"/>
<circle cx="185.35" cy="1494.66" r="4.8" fill="rgba(214,39,40,0.72)" stroke="rgba(150,150,150,0.55)" stroke-width="0.7"/>
<circle cx="170.99" cy="1554.91" r="4.8" fill="rgba(214,39,40,0.72)" stroke="rgba(150,150,150,0.55)" stroke-width="0.7"/>
<circle cx="142.81" cy="1598.95" r="4.8" fill="rgba(214,39,40,0.72)" stroke="rgba(150,150,150,0.55)" stroke-width="0.7"/>
<circle cx="182.09" cy="1535.45" r="4.8" fill="rgba(214,39,40,0.72)" stroke="rgba(150,150,150,0.55)" stroke-width="0.7"/>
<circle cx="216.65" cy="1479.15" r="4.8" fill="rgba(0,0,0,0.72)" stroke="rgba(150,150,150,0.55)" stroke-width="0.7"/>
<circle cx="292.26" cy="1552.66" r="4.8" fill="rgba(214,39,40,0.72)" stroke="rgba(150,150,150,0.55)" stroke-width="0.7"/>
<circle cx="166.54" cy="1546.71" r="4.8" fill="rgba(214,39,40,0.72)" stroke="rgba(150,150,150,0.55)" stroke-width="0.7"/>
<circle cx="158.57" cy="1548.43" r="4.8" fill="rgba(214,39,40,0.72)" stroke="rgba(150,150,150,0.55)" stroke-width="0.7"/>
<circle cx="190.14" cy="1539.82" r="4.8" fill="rgba(0,0,0,0.72)" stroke="rgba(150,150,150,0.55)" stroke-width="0.7"/>
<circle cx="244.33" cy="1530.9" r="4.8" fill="rgba(0,0,0,0.72)" stroke="rgba(150,150,150,0.55)" stroke-width="0.7"/>
<circle cx="187.37" cy="1592.27" r="4.8" fill="rgba(0,0,0,0.72)" stroke="rgba(150,150,150,0.55)" stroke-width="0.7"/>
<circle cx="250.36" cy="1513.73" r="4.8" fill="rgba(0,0,0,0.72)" stroke="rgba(150,150,150,0.55)" stroke-width="0.7"/>
<circle cx="199.45" cy="1523.2" r="4.8" fill="rgba(214,39,40,0.72)" stroke="rgba(150,150,150,0.55)" stroke-width="0.7"/>
<circle cx="175.39" cy="1515.34" r="4.8" fill="rgba(0,0,0,0.72)" stroke="rgba(150,150,150,0.55)" stroke-width="0.7"/>
<circle cx="168.69" cy="1547.99" r="4.8" fill="rgba(214,39,40,0.72)" stroke="rgba(150,150,150,0.55)" stroke-width="0.7"/>
<circle cx="166.29" cy="1559.23" r="4.8" fill="rgba(214,39,40,0.72)" stroke="rgba(150,150,150,0.55)" stroke-width="0.7"/>
<circle cx="167.74" cy="1489.61" r="4.8" fill="rgba(0,0,0,0.72)" stroke="rgba(150,150,150,0.55)" stroke-width="0.7"/>
<circle cx="145.43" cy="1505.02" r="4.8" fill="rgba(214,39,40,0.72)" stroke="rgba(150,150,150,0.55)" stroke-width="0.7"/>
<circle cx="182.6" cy="1555.94" r="4.8" fill="rgba(214,39,40,0.72)" stroke="rgba(150,150,150,0.55)" stroke-width="0.7"/>
<circle cx="263.95" cy="1584.49" r="4.8" fill="rgba(214,39,40,0.72)" stroke="rgba(150,150,150,0.55)" stroke-width="0.7"/>
<circle cx="176.66" cy="1495.25" r="4.8" fill="rgba(0,0,0,0.72)" stroke="rgba(150,150,150,0.55)" stroke-width="0.7"/>
<circle cx="138.04" cy="1536.15" r="4.8" fill="rgba(0,0,0,0.72)" stroke="rgba(150,150,150,0.55)" stroke-width="0.7"/>
<circle cx="192.53" cy="1592.25" r="4.8" fill="rgba(214,39,40,0.72)" stroke="rgba(150,150,150,0.55)" stroke-width="0.7"/>
<circle cx="199.98" cy="1592.25" r="4.8" fill="rgba(0,0,0,0.72)" stroke="rgba(150,150,150,0.55)" stroke-width="0.7"/>
<circle cx="206.77" cy="1581.28" r="4.8" fill="rgba(0,0,0,0.72)" stroke="rgba(150,150,150,0.55)" stroke-width="0.7"/>
<circle cx="200.93" cy="1536.36" r="4.8" fill="rgba(0,0,0,0.72)" stroke="rgba(150,150,150,0.55)" stroke-width="0.7"/>
<circle cx="246.84" cy="1513.5" r="4.8" fill="rgba(214,39,40,0.72)" stroke="rgba(150,150,150,0.55)" stroke-width="0.7"/>
<circle cx="162.69" cy="1568.71" r="4.8" fill="rgba(0,0,0,0.72)" stroke="rgba(150,150,150,0.55)" stroke-width="0.7"/>
<circle cx="166.88" cy="1488.06" r="4.8" fill="rgba(214,39,40,0.72)" stroke="rgba(150,150,150,0.55)" stroke-width="0.7"/>
<circle cx="196.89" cy="1585.52" r="4.8" fill="rgba(214,39,40,0.72)" stroke="rgba(150,150,150,0.55)" stroke-width="0.7"/>
<circle cx="237.25" cy="1593.27" r="4.8" fill="rgba(214,39,40,0.72)" stroke="rgba(150,150,150,0.55)" stroke-width="0.7"/>
<circle cx="153.16" cy="1574.31" r="4.8" fill="rgba(0,0,0,0.72)" stroke="rgba(150,150,150,0.55)" stroke-width="0.7"/>
<circle cx="214.13" cy="1596.63" r="4.8" fill="rgba(0,0,0,0.72)" stroke="rgba(150,150,150,0.55)" stroke-width="0.7"/>
<circle cx="170.1" cy="1449.38" r="4.8" fill="rgba(0,0,0,0.72)" stroke="rgba(150,150,150,0.55)" stroke-width="0.7"/>
<circle cx="216.17" cy="1567.47" r="4.8" fill="rgba(214,39,40,0.72)" stroke="rgba(150,150,150,0.55)" stroke-width="0.7"/>
<circle cx="133.2" cy="1550.93" r="4.8" fill="rgba(214,39,40,0.72)" stroke="rgba(150,150,150,0.55)" stroke-width="0.7"/>
<circle cx="180.25" cy="1555.49" r="4.8" fill="rgba(0,0,0,0.72)" stroke="rgba(150,150,150,0.55)" stroke-width="0.7"/>
<circle cx="267.72" cy="1489.46" r="4.8" fill="rgba(214,39,40,0.72)" stroke="rgba(150,150,150,0.55)" stroke-width="0.7"/>
<circle cx="188.23" cy="1480.43" r="4.8" fill="rgba(0,0,0,0.72)" stroke="rgba(150,150,150,0.55)" stroke-width="0.7"/>
<circle cx="209.25" cy="1530.83" r="4.8" fill="rgba(214,39,40,0.72)" stroke="rgba(150,150,150,0.55)" stroke-width="0.7"/>
<circle cx="197.78" cy="1474.57" r="4.8" fill="rgba(0,0,0,0.72)" stroke="rgba(150,150,150,0.55)" stroke-width="0.7"/>
<circle cx="134.06" cy="1526.71" r="4.8" fill="rgba(214,39,40,0.72)" stroke="rgba(150,150,150,0.55)" stroke-width="0.7"/>
<circle cx="158.55" cy="1561.05" r="4.8" fill="rgba(214,39,40,0.72)" stroke="rgba(150,150,150,0.55)" stroke-width="0.7"/>
<circle cx="197.24" cy="1523.62" r="4.8" fill="rgba(0,0,0,0.72)" stroke="rgba(150,150,150,0.55)" stroke-width="0.7"/>
<circle cx="145.01" cy="1504.37" r="4.8" fill="rgba(214,39,40,0.72)" stroke="rgba(150,150,150,0.55)" stroke-width="0.7"/>
<circle cx="202.02" cy="1510.65" r="4.8" fill="rgba(0,0,0,0.72)" stroke="rgba(150,150,150,0.55)" stroke-width="0.7"/>
<circle cx="149.98" cy="1453.96" r="4.8" fill="rgba(0,0,0,0.72)" stroke="rgba(150,150,150,0.55)" stroke-width="0.7"/>
<circle cx="145.28" cy="1580.02" r="4.8" fill="rgba(0,0,0,0.72)" stroke="rgba(150,150,150,0.55)" stroke-width="0.7"/>
<circle cx="163.54" cy="1516.05" r="4.8" fill="rgba(0,0,0,0.72)" stroke="rgba(150,150,150,0.55)" stroke-width="0.7"/>
<circle cx="263.95" cy="1592.73" r="4.8" fill="rgba(214,39,40,0.72)" stroke="rgba(150,150,150,0.55)" stroke-width="0.7"/>
<circle cx="146.72" cy="1544.39" r="4.8" fill="rgba(0,0,0,0.72)" stroke="rgba(150,150,150,0.55)" stroke-width="0.7"/>
<circle cx="225.91" cy="1537.63" r="4.8" fill="rgba(0,0,0,0.72)" stroke="rgba(150,150,150,0.55)" stroke-width="0.7"/>
<circle cx="269.99" cy="1568.69" r="4.8" fill="rgba(0,0,0,0.72)" stroke="rgba(150,150,150,0.55)" stroke-width="0.7"/>
<circle cx="235.52" cy="1472.28" r="4.8" fill="rgba(0,0,0,0.72)" stroke="rgba(150,150,150,0.55)" stroke-width="0.7"/>
<circle cx="137.61" cy="1548.52" r="4.8" fill="rgba(214,39,40,0.72)" stroke="rgba(150,150,150,0.55)" stroke-width="0.7"/>
<circle cx="201.81" cy="1458.28" r="4.8" fill="rgba(0,0,0,0.72)" stroke="rgba(150,150,150,0.55)" stroke-width="0.7"/>
<circle cx="165.97" cy="1474.81" r="4.8" fill="rgba(0,0,0,0.72)" stroke="rgba(150,150,150,0.55)" stroke-width="0.7"/>
<circle cx="144.99" cy="1551.59" r="4.8" fill="rgba(214,39,40,0.72)" stroke="rgba(150,150,150,0.55)" stroke-width="0.7"/>
<circle cx="179.61" cy="1559" r="4.8" fill="rgba(214,39,40,0.72)" stroke="rgba(150,150,150,0.55)" stroke-width="0.7"/>
<circle cx="207.84" cy="1474.57" r="4.8" fill="rgba(0,0,0,0.72)" stroke="rgba(150,150,150,0.55)" stroke-width="0.7"/>
<circle cx="164.14" cy="1571.16" r="4.8" fill="rgba(214,39,40,0.72)" stroke="rgba(150,150,150,0.55)" stroke-width="0.7"/>
<circle cx="177.87" cy="1553.23" r="4.8" fill="rgba(0,0,0,0.72)" stroke="rgba(150,150,150,0.55)" stroke-width="0.7"/>
<circle cx="175.43" cy="1507.13" r="4.8" fill="rgba(0,0,0,0.72)" stroke="rgba(150,150,150,0.55)" stroke-width="0.7"/>
<circle cx="166.4" cy="1563.05" r="4.8" fill="rgba(214,39,40,0.72)" stroke="rgba(150,150,150,0.55)" stroke-width="0.7"/>
<circle cx="181.77" cy="1521.02" r="4.8" fill="rgba(214,39,40,0.72)" stroke="rgba(150,150,150,0.55)" stroke-width="0.7"/>
<circle cx="182.47" cy="1510.55" r="4.8" fill="rgba(0,0,0,0.72)" stroke="rgba(150,150,150,0.55)" stroke-width="0.7"/>
<circle cx="163.33" cy="1562.33" r="4.8" fill="rgba(0,0,0,0.72)" stroke="rgba(150,150,150,0.55)" stroke-width="0.7"/>
<circle cx="158.85" cy="1504.4" r="4.8" fill="rgba(0,0,0,0.72)" stroke="rgba(150,150,150,0.55)" stroke-width="0.7"/>
<circle cx="202.72" cy="1590.91" r="4.8" fill="rgba(0,0,0,0.72)" stroke="rgba(150,150,150,0.55)" stroke-width="0.7"/>
<circle cx="193.01" cy="1538.55" r="4.8" fill="rgba(0,0,0,0.72)" stroke="rgba(150,150,150,0.55)" stroke-width="0.7"/>
<circle cx="229.23" cy="1492.89" r="4.8" fill="rgba(0,0,0,0.72)" stroke="rgba(150,150,150,0.55)" stroke-width="0.7"/>
<circle cx="182.85" cy="1547.06" r="4.8" fill="rgba(214,39,40,0.72)" stroke="rgba(150,150,150,0.55)" stroke-width="0.7"/>
<circle cx="301.69" cy="1486.25" r="4.8" fill="rgba(0,0,0,0.72)" stroke="rgba(150,150,150,0.55)" stroke-width="0.7"/>
<circle cx="141.13" cy="1524.93" r="4.8" fill="rgba(214,39,40,0.72)" stroke="rgba(150,150,150,0.55)" stroke-width="0.7"/>
<circle cx="191.26" cy="1536.44" r="4.8" fill="rgba(214,39,40,0.72)" stroke="rgba(150,150,150,0.55)" stroke-width="0.7"/>
<circle cx="254.39" cy="1546.93" r="4.8" fill="rgba(214,39,40,0.72)" stroke="rgba(150,150,150,0.55)" stroke-width="0.7"/>
<circle cx="248.73" cy="1475.03" r="4.8" fill="rgba(0,0,0,0.72)" stroke="rgba(150,150,150,0.55)" stroke-width="0.7"/>
<circle cx="149.76" cy="1521.41" r="4.8" fill="rgba(0,0,0,0.72)" stroke="rgba(150,150,150,0.55)" stroke-width="0.7"/>
<circle cx="164.36" cy="1528.92" r="4.8" fill="rgba(214,39,40,0.72)" stroke="rgba(150,150,150,0.55)" stroke-width="0.7"/>
<circle cx="179.45" cy="1521.61" r="4.8" fill="rgba(0,0,0,0.72)" stroke="rgba(150,150,150,0.55)" stroke-width="0.7"/>
<circle cx="151.08" cy="1591.48" r="4.8" fill="rgba(0,0,0,0.72)" stroke="rgba(150,150,150,0.55)" stroke-width="0.7"/>
<circle cx="182.78" cy="1538.06" r="4.8" fill="rgba(214,39,40,0.72)" stroke="rgba(150,150,150,0.55)" stroke-width="0.7"/>
<circle cx="307.86" cy="1505.71" r="4.8" fill="rgba(214,39,40,0.72)" stroke="rgba(150,150,150,0.55)" stroke-width="0.7"/>
<circle cx="155.26" cy="1533.3" r="4.8" fill="rgba(214,39,40,0.72)" stroke="rgba(150,150,150,0.55)" stroke-width="0.7"/>
<circle cx="167.2" cy="1528.12" r="4.8" fill="rgba(0,0,0,0.72)" stroke="rgba(150,150,150,0.55)" stroke-width="0.7"/>
<circle cx="175.97" cy="1552.27" r="4.8" fill="rgba(0,0,0,0.72)" stroke="rgba(150,150,150,0.55)" stroke-width="0.7"/>
<circle cx="258.79" cy="1482.81" r="4.8" fill="rgba(0,0,0,0.72)" stroke="rgba(150,150,150,0.55)" stroke-width="0.7"/>
<circle cx="282.07" cy="1586.55" r="4.8" fill="rgba(214,39,40,0.72)" stroke="rgba(150,150,150,0.55)" stroke-width="0.7"/>
<circle cx="167.39" cy="1503.03" r="4.8" fill="rgba(214,39,40,0.72)" stroke="rgba(150,150,150,0.55)" stroke-width="0.7"/>
<circle cx="134.79" cy="1519.48" r="4.8" fill="rgba(0,0,0,0.72)" stroke="rgba(150,150,150,0.55)" stroke-width="0.7"/>
<circle cx="143.17" cy="1541.97" r="4.8" fill="rgba(214,39,40,0.72)" stroke="rgba(150,150,150,0.55)" stroke-width="0.7"/>
<circle cx="178.94" cy="1592.95" r="4.8" fill="rgba(214,39,40,0.72)" stroke="rgba(150,150,150,0.55)" stroke-width="0.7"/>
<circle cx="154" cy="1614.49" r="4.8" fill="rgba(0,0,0,0.72)" stroke="rgba(150,150,150,0.55)" stroke-width="0.7"/>
<circle cx="202.92" cy="1529.12" r="4.8" fill="rgba(214,39,40,0.72)" stroke="rgba(150,150,150,0.55)" stroke-width="0.7"/>
<circle cx="152.06" cy="1595.01" r="4.8" fill="rgba(0,0,0,0.72)" stroke="rgba(150,150,150,0.55)" stroke-width="0.7"/>
<circle cx="265.08" cy="1517.85" r="4.8" fill="rgba(0,0,0,0.72)" stroke="rgba(150,150,150,0.55)" stroke-width="0.7"/>
<circle cx="229" cy="1514.8" r="4.8" fill="rgba(214,39,40,0.72)" stroke="rgba(150,150,150,0.55)" stroke-width="0.7"/>
<circle cx="210.69" cy="1527.48" r="4.8" fill="rgba(0,0,0,0.72)" stroke="rgba(150,150,150,0.55)" stroke-width="0.7"/>
<circle cx="181.63" cy="1500.9" r="4.8" fill="rgba(0,0,0,0.72)" stroke="rgba(150,150,150,0.55)" stroke-width="0.7"/>
<circle cx="172.29" cy="1480.19" r="4.8" fill="rgba(0,0,0,0.72)" stroke="rgba(150,150,150,0.55)" stroke-width="0.7"/>
<circle cx="156.16" cy="1544.06" r="4.8" fill="rgba(214,39,40,0.72)" stroke="rgba(150,150,150,0.55)" stroke-width="0.7"/>
<circle cx="177.79" cy="1539.97" r="4.8" fill="rgba(0,0,0,0.72)" stroke="rgba(150,150,150,0.55)" stroke-width="0.7"/>
<circle cx="232.5" cy="1463.12" r="4.8" fill="rgba(0,0,0,0.72)" stroke="rgba(150,150,150,0.55)" stroke-width="0.7"/>
<circle cx="228.73" cy="1428.77" r="4.8" fill="rgba(0,0,0,0.72)" stroke="rgba(150,150,150,0.55)" stroke-width="0.7"/>
<circle cx="163.3" cy="1575.43" r="4.8" fill="rgba(0,0,0,0.72)" stroke="rgba(150,150,150,0.55)" stroke-width="0.7"/>
<circle cx="151.09" cy="1572.39" r="4.8" fill="rgba(0,0,0,0.72)" stroke="rgba(150,150,150,0.55)" stroke-width="0.7"/>
<circle cx="161.21" cy="1551.05" r="4.8" fill="rgba(0,0,0,0.72)" stroke="rgba(150,150,150,0.55)" stroke-width="0.7"/>
<circle cx="136.85" cy="1590.2" r="4.8" fill="rgba(0,0,0,0.72)" stroke="rgba(150,150,150,0.55)" stroke-width="0.7"/>
<circle cx="188.9" cy="1500.64" r="4.8" fill="rgba(0,0,0,0.72)" stroke="rgba(150,150,150,0.55)" stroke-width="0.7"/>
<circle cx="222.43" cy="1551.1" r="4.8" fill="rgba(214,39,40,0.72)" stroke="rgba(150,150,150,0.55)" stroke-width="0.7"/>
<circle cx="202.95" cy="1592.12" r="4.8" fill="rgba(214,39,40,0.72)" stroke="rgba(150,150,150,0.55)" stroke-width="0.7"/>
<circle cx="271.75" cy="1603.27" r="4.8" fill="rgba(214,39,40,0.72)" stroke="rgba(150,150,150,0.55)" stroke-width="0.7"/>
<circle cx="207.84" cy="1441.37" r="4.8" fill="rgba(0,0,0,0.72)" stroke="rgba(150,150,150,0.55)" stroke-width="0.7"/>
<circle cx="167.93" cy="1506.54" r="4.8" fill="rgba(0,0,0,0.72)" stroke="rgba(150,150,150,0.55)" stroke-width="0.7"/>
<circle cx="178.47" cy="1540.71" r="4.8" fill="rgba(214,39,40,0.72)" stroke="rgba(150,150,150,0.55)" stroke-width="0.7"/>
<circle cx="173.58" cy="1527.85" r="4.8" fill="rgba(0,0,0,0.72)" stroke="rgba(150,150,150,0.55)" stroke-width="0.7"/>
<circle cx="158.27" cy="1557.29" r="4.8" fill="rgba(214,39,40,0.72)" stroke="rgba(150,150,150,0.55)" stroke-width="0.7"/>
<circle cx="129.37" cy="1567.77" r="4.8" fill="rgba(0,0,0,0.72)" stroke="rgba(150,150,150,0.55)" stroke-width="0.7"/>
<circle cx="181.18" cy="1484.57" r="4.8" fill="rgba(214,39,40,0.72)" stroke="rgba(150,150,150,0.55)" stroke-width="0.7"/>
<circle cx="182.42" cy="1548.6" r="4.8" fill="rgba(0,0,0,0.72)" stroke="rgba(150,150,150,0.55)" stroke-width="0.7"/>
<circle cx="130.17" cy="1532.4" r="4.8" fill="rgba(214,39,40,0.72)" stroke="rgba(150,150,150,0.55)" stroke-width="0.7"/>
<circle cx="163.93" cy="1463.57" r="4.8" fill="rgba(0,0,0,0.72)" stroke="rgba(150,150,150,0.55)" stroke-width="0.7"/>
<circle cx="188.16" cy="1578.87" r="4.8" fill="rgba(0,0,0,0.72)" stroke="rgba(150,150,150,0.55)" stroke-width="0.7"/>
<circle cx="160.84" cy="1561.41" r="4.8" fill="rgba(0,0,0,0.72)" stroke="rgba(150,150,150,0.55)" stroke-width="0.7"/>
<circle cx="153.32" cy="1505.52" r="4.8" fill="rgba(0,0,0,0.72)" stroke="rgba(150,150,150,0.55)" stroke-width="0.7"/>
<circle cx="129.37" cy="1535.91" r="4.8" fill="rgba(214,39,40,0.72)" stroke="rgba(150,150,150,0.55)" stroke-width="0.7"/>
<circle cx="159.2" cy="1589.81" r="4.8" fill="rgba(214,39,40,0.72)" stroke="rgba(150,150,150,0.55)" stroke-width="0.7"/>
<circle cx="154.01" cy="1552.71" r="4.8" fill="rgba(0,0,0,0.72)" stroke="rgba(150,150,150,0.55)" stroke-width="0.7"/>
<circle cx="189.86" cy="1514.23" r="4.8" fill="rgba(0,0,0,0.72)" stroke="rgba(150,150,150,0.55)" stroke-width="0.7"/>
<circle cx="147.66" cy="1518.47" r="4.8" fill="rgba(214,39,40,0.72)" stroke="rgba(150,150,150,0.55)" stroke-width="0.7"/>
<circle cx="181.39" cy="1575.81" r="4.8" fill="rgba(0,0,0,0.72)" stroke="rgba(150,150,150,0.55)" stroke-width="0.7"/>
<circle cx="138.72" cy="1541.06" r="4.8" fill="rgba(214,39,40,0.72)" stroke="rgba(150,150,150,0.55)" stroke-width="0.7"/>
<circle cx="195" cy="1568.81" r="4.8" fill="rgba(214,39,40,0.72)" stroke="rgba(150,150,150,0.55)" stroke-width="0.7"/>
<circle cx="294.52" cy="1569.83" r="4.8" fill="rgba(0,0,0,0.72)" stroke="rgba(150,150,150,0.55)" stroke-width="0.7"/>
<circle cx="247.6" cy="1541.9" r="4.8" fill="rgba(0,0,0,0.72)" stroke="rgba(150,150,150,0.55)" stroke-width="0.7"/>
<circle cx="170.78" cy="1558.85" r="4.8" fill="rgba(0,0,0,0.72)" stroke="rgba(150,150,150,0.55)" stroke-width="0.7"/>
<circle cx="164.09" cy="1542.41" r="4.8" fill="rgba(214,39,40,0.72)" stroke="rgba(150,150,150,0.55)" stroke-width="0.7"/>
<circle cx="188.09" cy="1435.64" r="4.8" fill="rgba(0,0,0,0.72)" stroke="rgba(150,150,150,0.55)" stroke-width="0.7"/>
<circle cx="239.29" cy="1557.01" r="4.8" fill="rgba(214,39,40,0.72)" stroke="rgba(150,150,150,0.55)" stroke-width="0.7"/>
<circle cx="161.16" cy="1527.31" r="4.8" fill="rgba(0,0,0,0.72)" stroke="rgba(150,150,150,0.55)" stroke-width="0.7"/>
<circle cx="184.14" cy="1490.09" r="4.8" fill="rgba(0,0,0,0.72)" stroke="rgba(150,150,150,0.55)" stroke-width="0.7"/>
<circle cx="171.36" cy="1443.66" r="4.8" fill="rgba(0,0,0,0.72)" stroke="rgba(150,150,150,0.55)" stroke-width="0.7"/>
<circle cx="142.82" cy="1512.58" r="4.8" fill="rgba(0,0,0,0.72)" stroke="rgba(150,150,150,0.55)" stroke-width="0.7"/>
<circle cx="145.04" cy="1498.53" r="4.8" fill="rgba(0,0,0,0.72)" stroke="rgba(150,150,150,0.55)" stroke-width="0.7"/>
<circle cx="167.82" cy="1523.46" r="4.8" fill="rgba(0,0,0,0.72)" stroke="rgba(150,150,150,0.55)" stroke-width="0.7"/>
<circle cx="143.3" cy="1514.4" r="4.8" fill="rgba(214,39,40,0.72)" stroke="rgba(150,150,150,0.55)" stroke-width="0.7"/>
<circle cx="166.3" cy="1552.64" r="4.8" fill="rgba(0,0,0,0.72)" stroke="rgba(150,150,150,0.55)" stroke-width="0.7"/>
<circle cx="164.88" cy="1595.19" r="4.8" fill="rgba(214,39,40,0.72)" stroke="rgba(150,150,150,0.55)" stroke-width="0.7"/>
<circle cx="197.38" cy="1597.27" r="4.8" fill="rgba(214,39,40,0.72)" stroke="rgba(150,150,150,0.55)" stroke-width="0.7"/>
<circle cx="179.05" cy="1519.61" r="4.8" fill="rgba(214,39,40,0.72)" stroke="rgba(150,150,150,0.55)" stroke-width="0.7"/>
<circle cx="216.19" cy="1533.03" r="4.8" fill="rgba(214,39,40,0.72)" stroke="rgba(150,150,150,0.55)" stroke-width="0.7"/>
<circle cx="176.44" cy="1546.53" r="4.8" fill="rgba(214,39,40,0.72)" stroke="rgba(150,150,150,0.55)" stroke-width="0.7"/>
<circle cx="166.51" cy="1505.04" r="4.8" fill="rgba(0,0,0,0.72)" stroke="rgba(150,150,150,0.55)" stroke-width="0.7"/>
<circle cx="145.03" cy="1546.87" r="4.8" fill="rgba(0,0,0,0.72)" stroke="rgba(150,150,150,0.55)" stroke-width="0.7"/>
<circle cx="138.05" cy="1495.84" r="4.8" fill="rgba(0,0,0,0.72)" stroke="rgba(150,150,150,0.55)" stroke-width="0.7"/>
<circle cx="152.61" cy="1560.57" r="4.8" fill="rgba(214,39,40,0.72)" stroke="rgba(150,150,150,0.55)" stroke-width="0.7"/>
<circle cx="146.59" cy="1502.54" r="4.8" fill="rgba(0,0,0,0.72)" stroke="rgba(150,150,150,0.55)" stroke-width="0.7"/>
<circle cx="163.91" cy="1539.14" r="4.8" fill="rgba(0,0,0,0.72)" stroke="rgba(150,150,150,0.55)" stroke-width="0.7"/>
<circle cx="166.33" cy="1602.35" r="4.8" fill="rgba(214,39,40,0.72)" stroke="rgba(150,150,150,0.55)" stroke-width="0.7"/>
<circle cx="180.15" cy="1509.51" r="4.8" fill="rgba(0,0,0,0.72)" stroke="rgba(150,150,150,0.55)" stroke-width="0.7"/>
<circle cx="180.23" cy="1529.38" r="4.8" fill="rgba(0,0,0,0.72)" stroke="rgba(150,150,150,0.55)" stroke-width="0.7"/>
<circle cx="162.56" cy="1460.83" r="4.8" fill="rgba(0,0,0,0.72)" stroke="rgba(150,150,150,0.55)" stroke-width="0.7"/>
<circle cx="178.49" cy="1541.29" r="4.8" fill="rgba(0,0,0,0.72)" stroke="rgba(150,150,150,0.55)" stroke-width="0.7"/>
<circle cx="162.55" cy="1577.23" r="4.8" fill="rgba(0,0,0,0.72)" stroke="rgba(150,150,150,0.55)" stroke-width="0.7"/>
<circle cx="141.17" cy="1598.69" r="4.8" fill="rgba(214,39,40,0.72)" stroke="rgba(150,150,150,0.55)" stroke-width="0.7"/>
<circle cx="163.38" cy="1499.83" r="4.8" fill="rgba(0,0,0,0.72)" stroke="rgba(150,150,150,0.55)" stroke-width="0.7"/>
<circle cx="189.64" cy="1531.5" r="4.8" fill="rgba(214,39,40,0.72)" stroke="rgba(150,150,150,0.55)" stroke-width="0.7"/>
<circle cx="144.09" cy="1581.3" r="4.8" fill="rgba(0,0,0,0.72)" stroke="rgba(150,150,150,0.55)" stroke-width="0.7"/>
<circle cx="160.74" cy="1573.11" r="4.8" fill="rgba(214,39,40,0.72)" stroke="rgba(150,150,150,0.55)" stroke-width="0.7"/>
<circle cx="179.68" cy="1547.21" r="4.8" fill="rgba(214,39,40,0.72)" stroke="rgba(150,150,150,0.55)" stroke-width="0.7"/>
<circle cx="175.36" cy="1558.68" r="4.8" fill="rgba(0,0,0,0.72)" stroke="rgba(150,150,150,0.55)" stroke-width="0.7"/>
<circle cx="147.03" cy="1501.81" r="4.8" fill="rgba(0,0,0,0.72)" stroke="rgba(150,150,150,0.55)" stroke-width="0.7"/>
<circle cx="190.73" cy="1540.67" r="4.8" fill="rgba(214,39,40,0.72)" stroke="rgba(150,150,150,0.55)" stroke-width="0.7"/>
<circle cx="212.02" cy="1537.49" r="4.8" fill="rgba(0,0,0,0.72)" stroke="rgba(150,150,150,0.55)" stroke-width="0.7"/>
<circle cx="208.53" cy="1530.16" r="4.8" fill="rgba(0,0,0,0.72)" stroke="rgba(150,150,150,0.55)" stroke-width="0.7"/>
<circle cx="213.78" cy="1524.11" r="4.8" fill="rgba(0,0,0,0.72)" stroke="rgba(150,150,150,0.55)" stroke-width="0.7"/>
<circle cx="117.27" cy="1570.98" r="4.8" fill="rgba(214,39,40,0.72)" stroke="rgba(150,150,150,0.55)" stroke-width="0.7"/>
<circle cx="130.1" cy="1525.64" r="4.8" fill="rgba(214,39,40,0.72)" stroke="rgba(150,150,150,0.55)" stroke-width="0.7"/>
<circle cx="178.72" cy="1594.08" r="4.8" fill="rgba(0,0,0,0.72)" stroke="rgba(150,150,150,0.55)" stroke-width="0.7"/>
<circle cx="172.3" cy="1514.16" r="4.8" fill="rgba(214,39,40,0.72)" stroke="rgba(150,150,150,0.55)" stroke-width="0.7"/>
<circle cx="149.49" cy="1540.64" r="4.8" fill="rgba(214,39,40,0.72)" stroke="rgba(150,150,150,0.55)" stroke-width="0.7"/>
<circle cx="203.88" cy="1509.68" r="4.8" fill="rgba(0,0,0,0.72)" stroke="rgba(150,150,150,0.55)" stroke-width="0.7"/>
<circle cx="248.35" cy="1572.12" r="4.8" fill="rgba(214,39,40,0.72)" stroke="rgba(150,150,150,0.55)" stroke-width="0.7"/>
<circle cx="121.67" cy="1555.87" r="4.8" fill="rgba(0,0,0,0.72)" stroke="rgba(150,150,150,0.55)" stroke-width="0.7"/>
<circle cx="205.18" cy="1496.48" r="4.8" fill="rgba(214,39,40,0.72)" stroke="rgba(150,150,150,0.55)" stroke-width="0.7"/>
<circle cx="232.66" cy="1552.37" r="4.8" fill="rgba(214,39,40,0.72)" stroke="rgba(150,150,150,0.55)" stroke-width="0.7"/>
<circle cx="230.43" cy="1584.93" r="4.8" fill="rgba(214,39,40,0.72)" stroke="rgba(150,150,150,0.55)" stroke-width="0.7"/>
<circle cx="206.59" cy="1445.95" r="4.8" fill="rgba(0,0,0,0.72)" stroke="rgba(150,150,150,0.55)" stroke-width="0.7"/>
<circle cx="204.18" cy="1565.86" r="4.8" fill="rgba(0,0,0,0.72)" stroke="rgba(150,150,150,0.55)" stroke-width="0.7"/>
<circle cx="138.49" cy="1532.28" r="4.8" fill="rgba(214,39,40,0.72)" stroke="rgba(150,150,150,0.55)" stroke-width="0.7"/>
<circle cx="179.82" cy="1480.06" r="4.8" fill="rgba(0,0,0,0.72)" stroke="rgba(150,150,150,0.55)" stroke-width="0.7"/>
<circle cx="145.82" cy="1550.09" r="4.8" fill="rgba(214,39,40,0.72)" stroke="rgba(150,150,150,0.55)" stroke-width="0.7"/>
<circle cx="181.86" cy="1513.44" r="4.8" fill="rgba(0,0,0,0.72)" stroke="rgba(150,150,150,0.55)" stroke-width="0.7"/>
<circle cx="184.73" cy="1555.64" r="4.8" fill="rgba(214,39,40,0.72)" stroke="rgba(150,150,150,0.55)" stroke-width="0.7"/>
<circle cx="138.51" cy="1534.12" r="4.8" fill="rgba(214,39,40,0.72)" stroke="rgba(150,150,150,0.55)" stroke-width="0.7"/>
<circle cx="154.1" cy="1567.57" r="4.8" fill="rgba(214,39,40,0.72)" stroke="rgba(150,150,150,0.55)" stroke-width="0.7"/>
<circle cx="146.2" cy="1458.31" r="4.8" fill="rgba(214,39,40,0.72)" stroke="rgba(150,150,150,0.55)" stroke-width="0.7"/>
<circle cx="372.14" cy="1454.65" r="4.8" fill="rgba(214,39,40,0.72)" stroke="rgba(150,150,150,0.55)" stroke-width="0.7"/>
<circle cx="235.39" cy="1584.49" r="4.8" fill="rgba(214,39,40,0.72)" stroke="rgba(150,150,150,0.55)" stroke-width="0.7"/>
<circle cx="142.16" cy="1491.14" r="4.8" fill="rgba(0,0,0,0.72)" stroke="rgba(150,150,150,0.55)" stroke-width="0.7"/>
<circle cx="128.29" cy="1577.13" r="4.8" fill="rgba(214,39,40,0.72)" stroke="rgba(150,150,150,0.55)" stroke-width="0.7"/>
<circle cx="173.99" cy="1469.56" r="4.8" fill="rgba(0,0,0,0.72)" stroke="rgba(150,150,150,0.55)" stroke-width="0.7"/>
<circle cx="139.06" cy="1506.65" r="4.8" fill="rgba(214,39,40,0.72)" stroke="rgba(150,150,150,0.55)" stroke-width="0.7"/>
<circle cx="147.61" cy="1546.98" r="4.8" fill="rgba(214,39,40,0.72)" stroke="rgba(150,150,150,0.55)" stroke-width="0.7"/>
<circle cx="182.89" cy="1539.89" r="4.8" fill="rgba(214,39,40,0.72)" stroke="rgba(150,150,150,0.55)" stroke-width="0.7"/>
<circle cx="169.34" cy="1502.98" r="4.8" fill="rgba(0,0,0,0.72)" stroke="rgba(150,150,150,0.55)" stroke-width="0.7"/>
<circle cx="151.6" cy="1588.18" r="4.8" fill="rgba(214,39,40,0.72)" stroke="rgba(150,150,150,0.55)" stroke-width="0.7"/>
<circle cx="167.55" cy="1554.94" r="4.8" fill="rgba(214,39,40,0.72)" stroke="rgba(150,150,150,0.55)" stroke-width="0.7"/>
<circle cx="285.09" cy="1504.8" r="4.8" fill="rgba(0,0,0,0.72)" stroke="rgba(150,150,150,0.55)" stroke-width="0.7"/>
<circle cx="195.28" cy="1526.52" r="4.8" fill="rgba(214,39,40,0.72)" stroke="rgba(150,150,150,0.55)" stroke-width="0.7"/>
<circle cx="184.11" cy="1568.72" r="4.8" fill="rgba(0,0,0,0.72)" stroke="rgba(150,150,150,0.55)" stroke-width="0.7"/>
<circle cx="196.96" cy="1584.5" r="4.8" fill="rgba(214,39,40,0.72)" stroke="rgba(150,150,150,0.55)" stroke-width="0.7"/>
<circle cx="195.75" cy="1520.22" r="4.8" fill="rgba(0,0,0,0.72)" stroke="rgba(150,150,150,0.55)" stroke-width="0.7"/>
<circle cx="214.89" cy="1501.82" r="4.8" fill="rgba(0,0,0,0.72)" stroke="rgba(150,150,150,0.55)" stroke-width="0.7"/>
<circle cx="142.36" cy="1525.65" r="4.8" fill="rgba(0,0,0,0.72)" stroke="rgba(150,150,150,0.55)" stroke-width="0.7"/>
<circle cx="190.6" cy="1575.32" r="4.8" fill="rgba(214,39,40,0.72)" stroke="rgba(150,150,150,0.55)" stroke-width="0.7"/>
<circle cx="141.19" cy="1588.81" r="4.8" fill="rgba(0,0,0,0.72)" stroke="rgba(150,150,150,0.55)" stroke-width="0.7"/>
<circle cx="186.01" cy="1540.7" r="4.8" fill="rgba(214,39,40,0.72)" stroke="rgba(150,150,150,0.55)" stroke-width="0.7"/>
<circle cx="144.89" cy="1574.28" r="4.8" fill="rgba(214,39,40,0.72)" stroke="rgba(150,150,150,0.55)" stroke-width="0.7"/>
<circle cx="159.87" cy="1511.35" r="4.8" fill="rgba(0,0,0,0.72)" stroke="rgba(150,150,150,0.55)" stroke-width="0.7"/>
<circle cx="246.84" cy="1504.34" r="4.8" fill="rgba(214,39,40,0.72)" stroke="rgba(150,150,150,0.55)" stroke-width="0.7"/>
<circle cx="149.1" cy="1503.08" r="4.8" fill="rgba(214,39,40,0.72)" stroke="rgba(150,150,150,0.55)" stroke-width="0.7"/>
<circle cx="153.22" cy="1539.43" r="4.8" fill="rgba(0,0,0,0.72)" stroke="rgba(150,150,150,0.55)" stroke-width="0.7"/>
<circle cx="160.14" cy="1591.45" r="4.8" fill="rgba(214,39,40,0.72)" stroke="rgba(150,150,150,0.55)" stroke-width="0.7"/>
<circle cx="213.97" cy="1547.37" r="4.8" fill="rgba(0,0,0,0.72)" stroke="rgba(150,150,150,0.55)" stroke-width="0.7"/>
<circle cx="163.67" cy="1499.88" r="4.8" fill="rgba(0,0,0,0.72)" stroke="rgba(150,150,150,0.55)" stroke-width="0.7"/>
<circle cx="168.65" cy="1495.09" r="4.8" fill="rgba(0,0,0,0.72)" stroke="rgba(150,150,150,0.55)" stroke-width="0.7"/>
<circle cx="202.79" cy="1523.02" r="4.8" fill="rgba(0,0,0,0.72)" stroke="rgba(150,150,150,0.55)" stroke-width="0.7"/>
<circle cx="162.48" cy="1515.82" r="4.8" fill="rgba(214,39,40,0.72)" stroke="rgba(150,150,150,0.55)" stroke-width="0.7"/>
<circle cx="181.92" cy="1488.33" r="4.8" fill="rgba(0,0,0,0.72)" stroke="rgba(150,150,150,0.55)" stroke-width="0.7"/>
<circle cx="178.88" cy="1559.16" r="4.8" fill="rgba(0,0,0,0.72)" stroke="rgba(150,150,150,0.55)" stroke-width="0.7"/>
<circle cx="193.16" cy="1529.92" r="4.8" fill="rgba(0,0,0,0.72)" stroke="rgba(150,150,150,0.55)" stroke-width="0.7"/>
<circle cx="293.39" cy="1463.12" r="4.8" fill="rgba(214,39,40,0.72)" stroke="rgba(150,150,150,0.55)" stroke-width="0.7"/>
<circle cx="265.08" cy="1628.69" r="4.8" fill="rgba(214,39,40,0.72)" stroke="rgba(150,150,150,0.55)" stroke-width="0.7"/>
<circle cx="162.57" cy="1547.52" r="4.8" fill="rgba(214,39,40,0.72)" stroke="rgba(150,150,150,0.55)" stroke-width="0.7"/>
<circle cx="188.44" cy="1530.19" r="4.8" fill="rgba(0,0,0,0.72)" stroke="rgba(150,150,150,0.55)" stroke-width="0.7"/>
<circle cx="177.51" cy="1599.25" r="4.8" fill="rgba(0,0,0,0.72)" stroke="rgba(150,150,150,0.55)" stroke-width="0.7"/>
<circle cx="167.88" cy="1523.11" r="4.8" fill="rgba(214,39,40,0.72)" stroke="rgba(150,150,150,0.55)" stroke-width="0.7"/>
<circle cx="240.55" cy="1593.42" r="4.8" fill="rgba(214,39,40,0.72)" stroke="rgba(150,150,150,0.55)" stroke-width="0.7"/>
<circle cx="224.2" cy="1618.61" r="4.8" fill="rgba(0,0,0,0.72)" stroke="rgba(150,150,150,0.55)" stroke-width="0.7"/>
<circle cx="124.94" cy="1505.26" r="4.8" fill="rgba(214,39,40,0.72)" stroke="rgba(150,150,150,0.55)" stroke-width="0.7"/>
<circle cx="147.39" cy="1551.59" r="4.8" fill="rgba(0,0,0,0.72)" stroke="rgba(150,150,150,0.55)" stroke-width="0.7"/>
<circle cx="162.22" cy="1551.79" r="4.8" fill="rgba(214,39,40,0.72)" stroke="rgba(150,150,150,0.55)" stroke-width="0.7"/>
<circle cx="160.74" cy="1547.03" r="4.8" fill="rgba(0,0,0,0.72)" stroke="rgba(150,150,150,0.55)" stroke-width="0.7"/>
<circle cx="187.36" cy="1548.42" r="4.8" fill="rgba(214,39,40,0.72)" stroke="rgba(150,150,150,0.55)" stroke-width="0.7"/>
<circle cx="161.31" cy="1522.42" r="4.8" fill="rgba(0,0,0,0.72)" stroke="rgba(150,150,150,0.55)" stroke-width="0.7"/>
<circle cx="147.59" cy="1575.97" r="4.8" fill="rgba(214,39,40,0.72)" stroke="rgba(150,150,150,0.55)" stroke-width="0.7"/>
<circle cx="169.19" cy="1490.88" r="4.8" fill="rgba(0,0,0,0.72)" stroke="rgba(150,150,150,0.55)" stroke-width="0.7"/>
<circle cx="203.21" cy="1506.49" r="4.8" fill="rgba(214,39,40,0.72)" stroke="rgba(150,150,150,0.55)" stroke-width="0.7"/>
<circle cx="180.29" cy="1595.65" r="4.8" fill="rgba(214,39,40,0.72)" stroke="rgba(150,150,150,0.55)" stroke-width="0.7"/>
<circle cx="190.9" cy="1531.47" r="4.8" fill="rgba(214,39,40,0.72)" stroke="rgba(150,150,150,0.55)" stroke-width="0.7"/>
<circle cx="229.23" cy="1378.39" r="4.8" fill="rgba(214,39,40,0.72)" stroke="rgba(150,150,150,0.55)" stroke-width="0.7"/>
<circle cx="169.52" cy="1562.22" r="4.8" fill="rgba(214,39,40,0.72)" stroke="rgba(150,150,150,0.55)" stroke-width="0.7"/>
<circle cx="167.84" cy="1489.12" r="4.8" fill="rgba(0,0,0,0.72)" stroke="rgba(150,150,150,0.55)" stroke-width="0.7"/>
<circle cx="177.65" cy="1474.57" r="4.8" fill="rgba(0,0,0,0.72)" stroke="rgba(150,150,150,0.55)" stroke-width="0.7"/>
<circle cx="153.59" cy="1490.96" r="4.8" fill="rgba(0,0,0,0.72)" stroke="rgba(150,150,150,0.55)" stroke-width="0.7"/>
<circle cx="127.04" cy="1558.01" r="4.8" fill="rgba(214,39,40,0.72)" stroke="rgba(150,150,150,0.55)" stroke-width="0.7"/>
<circle cx="135.98" cy="1580.14" r="4.8" fill="rgba(214,39,40,0.72)" stroke="rgba(150,150,150,0.55)" stroke-width="0.7"/>
<circle cx="165.1" cy="1492.65" r="4.8" fill="rgba(0,0,0,0.72)" stroke="rgba(150,150,150,0.55)" stroke-width="0.7"/>
<circle cx="222.88" cy="1598.04" r="4.8" fill="rgba(214,39,40,0.72)" stroke="rgba(150,150,150,0.55)" stroke-width="0.7"/>
<circle cx="217.12" cy="1570.32" r="4.8" fill="rgba(0,0,0,0.72)" stroke="rgba(150,150,150,0.55)" stroke-width="0.7"/>
<circle cx="310.5" cy="1535.26" r="4.8" fill="rgba(214,39,40,0.72)" stroke="rgba(150,150,150,0.55)" stroke-width="0.7"/>
<circle cx="165.15" cy="1523.13" r="4.8" fill="rgba(0,0,0,0.72)" stroke="rgba(150,150,150,0.55)" stroke-width="0.7"/>
<circle cx="202.65" cy="1487.18" r="4.8" fill="rgba(0,0,0,0.72)" stroke="rgba(150,150,150,0.55)" stroke-width="0.7"/>
<circle cx="188.78" cy="1543.03" r="4.8" fill="rgba(214,39,40,0.72)" stroke="rgba(150,150,150,0.55)" stroke-width="0.7"/>
<circle cx="277.79" cy="1592.28" r="4.8" fill="rgba(214,39,40,0.72)" stroke="rgba(150,150,150,0.55)" stroke-width="0.7"/>
<circle cx="201.81" cy="1547.7" r="4.8" fill="rgba(214,39,40,0.72)" stroke="rgba(150,150,150,0.55)" stroke-width="0.7"/>
<circle cx="191.99" cy="1564.36" r="4.8" fill="rgba(214,39,40,0.72)" stroke="rgba(150,150,150,0.55)" stroke-width="0.7"/>
<circle cx="158.25" cy="1509.89" r="4.8" fill="rgba(214,39,40,0.72)" stroke="rgba(150,150,150,0.55)" stroke-width="0.7"/>
<circle cx="223.87" cy="1545.25" r="4.8" fill="rgba(0,0,0,0.72)" stroke="rgba(150,150,150,0.55)" stroke-width="0.7"/>
<circle cx="155.73" cy="1537.69" r="4.8" fill="rgba(214,39,40,0.72)" stroke="rgba(150,150,150,0.55)" stroke-width="0.7"/>
<circle cx="209.73" cy="1436.33" r="4.8" fill="rgba(214,39,40,0.72)" stroke="rgba(150,150,150,0.55)" stroke-width="0.7"/>
<circle cx="124.94" cy="1438.62" r="4.8" fill="rgba(214,39,40,0.72)" stroke="rgba(150,150,150,0.55)" stroke-width="0.7"/>
<circle cx="138.86" cy="1524.07" r="4.8" fill="rgba(214,39,40,0.72)" stroke="rgba(150,150,150,0.55)" stroke-width="0.7"/>
<circle cx="143.78" cy="1595.7" r="4.8" fill="rgba(214,39,40,0.72)" stroke="rgba(150,150,150,0.55)" stroke-width="0.7"/>
<circle cx="168.77" cy="1483.97" r="4.8" fill="rgba(0,0,0,0.72)" stroke="rgba(150,150,150,0.55)" stroke-width="0.7"/>
<circle cx="188.21" cy="1573.34" r="4.8" fill="rgba(0,0,0,0.72)" stroke="rgba(150,150,150,0.55)" stroke-width="0.7"/>
<circle cx="171.36" cy="1616.32" r="4.8" fill="rgba(0,0,0,0.72)" stroke="rgba(150,150,150,0.55)" stroke-width="0.7"/>
<circle cx="128.01" cy="1558.87" r="4.8" fill="rgba(214,39,40,0.72)" stroke="rgba(150,150,150,0.55)" stroke-width="0.7"/>
<circle cx="158.35" cy="1509.75" r="4.8" fill="rgba(214,39,40,0.72)" stroke="rgba(150,150,150,0.55)" stroke-width="0.7"/>
<circle cx="269.99" cy="1614.95" r="4.8" fill="rgba(214,39,40,0.72)" stroke="rgba(150,150,150,0.55)" stroke-width="0.7"/>
<circle cx="159.54" cy="1433.81" r="4.8" fill="rgba(0,0,0,0.72)" stroke="rgba(150,150,150,0.55)" stroke-width="0.7"/>
<circle cx="244.33" cy="1557.01" r="4.8" fill="rgba(214,39,40,0.72)" stroke="rgba(150,150,150,0.55)" stroke-width="0.7"/>
<circle cx="142.13" cy="1545.1" r="4.8" fill="rgba(214,39,40,0.72)" stroke="rgba(150,150,150,0.55)" stroke-width="0.7"/>
<circle cx="165.55" cy="1487.74" r="4.8" fill="rgba(0,0,0,0.72)" stroke="rgba(150,150,150,0.55)" stroke-width="0.7"/>
<circle cx="180.29" cy="1624.57" r="4.8" fill="rgba(214,39,40,0.72)" stroke="rgba(150,150,150,0.55)" stroke-width="0.7"/>
<circle cx="170.44" cy="1501.38" r="4.8" fill="rgba(214,39,40,0.72)" stroke="rgba(150,150,150,0.55)" stroke-width="0.7"/>
<circle cx="199.82" cy="1550.95" r="4.8" fill="rgba(0,0,0,0.72)" stroke="rgba(150,150,150,0.55)" stroke-width="0.7"/>
<circle cx="160.72" cy="1493.04" r="4.8" fill="rgba(0,0,0,0.72)" stroke="rgba(150,150,150,0.55)" stroke-width="0.7"/>
<circle cx="139.26" cy="1487.35" r="4.8" fill="rgba(214,39,40,0.72)" stroke="rgba(150,150,150,0.55)" stroke-width="0.7"/>
<circle cx="182.41" cy="1571.57" r="4.8" fill="rgba(0,0,0,0.72)" stroke="rgba(150,150,150,0.55)" stroke-width="0.7"/>
<circle cx="192.09" cy="1507.6" r="4.8" fill="rgba(0,0,0,0.72)" stroke="rgba(150,150,150,0.55)" stroke-width="0.7"/>
<circle cx="150.62" cy="1571.61" r="4.8" fill="rgba(214,39,40,0.72)" stroke="rgba(150,150,150,0.55)" stroke-width="0.7"/>
<circle cx="155.42" cy="1525.48" r="4.8" fill="rgba(0,0,0,0.72)" stroke="rgba(150,150,150,0.55)" stroke-width="0.7"/>
<circle cx="193.33" cy="1516.87" r="4.8" fill="rgba(0,0,0,0.72)" stroke="rgba(150,150,150,0.55)" stroke-width="0.7"/>
<circle cx="190.95" cy="1567.14" r="4.8" fill="rgba(214,39,40,0.72)" stroke="rgba(150,150,150,0.55)" stroke-width="0.7"/>
<circle cx="181.16" cy="1517.84" r="4.8" fill="rgba(214,39,40,0.72)" stroke="rgba(150,150,150,0.55)" stroke-width="0.7"/>
<circle cx="172.55" cy="1517.22" r="4.8" fill="rgba(214,39,40,0.72)" stroke="rgba(150,150,150,0.55)" stroke-width="0.7"/>
<circle cx="188.02" cy="1565.77" r="4.8" fill="rgba(0,0,0,0.72)" stroke="rgba(150,150,150,0.55)" stroke-width="0.7"/>
<circle cx="184.43" cy="1578.81" r="4.8" fill="rgba(214,39,40,0.72)" stroke="rgba(150,150,150,0.55)" stroke-width="0.7"/>
<circle cx="158.02" cy="1526.04" r="4.8" fill="rgba(0,0,0,0.72)" stroke="rgba(150,150,150,0.55)" stroke-width="0.7"/>
<circle cx="195.91" cy="1528.93" r="4.8" fill="rgba(214,39,40,0.72)" stroke="rgba(150,150,150,0.55)" stroke-width="0.7"/>
<circle cx="178.97" cy="1513.25" r="4.8" fill="rgba(0,0,0,0.72)" stroke="rgba(150,150,150,0.55)" stroke-width="0.7"/>
<circle cx="145.01" cy="1513.91" r="4.8" fill="rgba(0,0,0,0.72)" stroke="rgba(150,150,150,0.55)" stroke-width="0.7"/>
<circle cx="184.79" cy="1540.56" r="4.8" fill="rgba(0,0,0,0.72)" stroke="rgba(150,150,150,0.55)" stroke-width="0.7"/>
<circle cx="203.11" cy="1541.38" r="4.8" fill="rgba(0,0,0,0.72)" stroke="rgba(150,150,150,0.55)" stroke-width="0.7"/>
<circle cx="144.81" cy="1564.5" r="4.8" fill="rgba(214,39,40,0.72)" stroke="rgba(150,150,150,0.55)" stroke-width="0.7"/>
<circle cx="160.44" cy="1559.59" r="4.8" fill="rgba(0,0,0,0.72)" stroke="rgba(150,150,150,0.55)" stroke-width="0.7"/>
</g>
<rect x="101.7" y="1366.2" width="283.9" height="274.7" fill="none" stroke="#333" stroke-width="1.4"/>
<line x1="122.3" y1="1640.9" x2="122.3" y2="1647" stroke="#333" stroke-width="1.4"/>
<text x="119.3" y="1669.5" font-size="24.5" text-anchor="middle">−5</text>
<line x1="185.2" y1="1640.9" x2="185.2" y2="1647" stroke="#333" stroke-width="1.4"/>
<text x="185.2" y="1669.5" font-size="24.5" text-anchor="middle">0</text>
<line x1="248.1" y1="1640.9" x2="248.1" y2="1647" stroke="#333" stroke-width="1.4"/>
<text x="248.1" y="1669.5" font-size="24.5" text-anchor="middle">5</text>
<line x1="311" y1="1640.9" x2="311" y2="1647" stroke="#333" stroke-width="1.4"/>
<text x="311" y="1669.5" font-size="24.5" text-anchor="middle">10</text>
<line x1="95.7" y1="1421.9" x2="101.7" y2="1421.9" stroke="#333" stroke-width="1.4"/>
<text x="90.5" y="1430.7" font-size="24.5" text-anchor="end">5.0</text>
<line x1="95.7" y1="1479.15" x2="101.7" y2="1479.15" stroke="#333" stroke-width="1.4"/>
<text x="90.5" y="1487.95" font-size="24.5" text-anchor="end">2.5</text>
<line x1="95.7" y1="1536.4" x2="101.7" y2="1536.4" stroke="#333" stroke-width="1.4"/>
<text x="90.5" y="1545.2" font-size="24.5" text-anchor="end">0.0</text>
<line x1="95.7" y1="1593.65" x2="101.7" y2="1593.65" stroke="#333" stroke-width="1.4"/>
<text x="90.5" y="1602.45" font-size="24.5" text-anchor="end">−2.5</text>
<text x="248" y="1692.5" font-size="25" text-anchor="middle">PC1 (10.4%)</text>
<text x="45.5" y="1494" font-size="25" text-anchor="middle" transform="rotate(-90 45.5 1494)">PC2 (3.3%)</text>
<text x="250.7" y="1355.3" font-size="28.4" text-anchor="middle" font-style="italic">30-60 days</text>
<circle cx="247.7" cy="1378.5" r="4.8" fill="#000"/>
<circle cx="247.7" cy="1407" r="4.8" fill="#d62728"/>
<text x="259.5" y="1386.5" font-size="22">Neurotypical</text>
<text x="259.5" y="1415" font-size="22">MPSIIIA</text>
<g clip-path="url(#g2c)">
<circle cx="577.31" cy="1548.89" r="4.8" fill="rgba(214,39,40,0.72)" stroke="rgba(150,150,150,0.55)" stroke-width="0.7"/>
<circle cx="577.53" cy="1529.44" r="4.8" fill="rgba(0,0,0,0.72)" stroke="rgba(150,150,150,0.55)" stroke-width="0.7"/>
<circle cx="490.79" cy="1538.22" r="4.8" fill="rgba(0,0,0,0.72)" stroke="rgba(150,150,150,0.55)" stroke-width="0.7"/>
<circle cx="568.64" cy="1523.35" r="4.8" fill="rgba(0,0,0,0.72)" stroke="rgba(150,150,150,0.55)" stroke-width="0.7"/>
<circle cx="570.49" cy="1512.79" r="4.8" fill="rgba(0,0,0,0.72)" stroke="rgba(150,150,150,0.55)" stroke-width="0.7"/>
<circle cx="552.96" cy="1537.86" r="4.8" fill="rgba(214,39,40,0.72)" stroke="rgba(150,150,150,0.55)" stroke-width="0.7"/>
<circle cx="534.48" cy="1573.34" r="4.8" fill="rgba(0,0,0,0.72)" stroke="rgba(150,150,150,0.55)" stroke-width="0.7"/>
<circle cx="602.82" cy="1549.01" r="4.8" fill="rgba(0,0,0,0.72)" stroke="rgba(150,150,150,0.55)" stroke-width="0.7"/>
<circle cx="603.63" cy="1548.75" r="4.8" fill="rgba(0,0,0,0.72)" stroke="rgba(150,150,150,0.55)" stroke-width="0.7"/>
<circle cx="509.61" cy="1563.2" r="4.8" fill="rgba(0,0,0,0.72)" stroke="rgba(150,150,150,0.55)" stroke-width="0.7"/>
<circle cx="581.44" cy="1556.53" r="4.8" fill="rgba(0,0,0,0.72)" stroke="rgba(150,150,150,0.55)" stroke-width="0.7"/>
<circle cx="577.09" cy="1526.32" r="4.8" fill="rgba(0,0,0,0.72)" stroke="rgba(150,150,150,0.55)" stroke-width="0.7"/>
<circle cx="586.99" cy="1550.98" r="4.8" fill="rgba(214,39,40,0.72)" stroke="rgba(150,150,150,0.55)" stroke-width="0.7"/>
<circle cx="564.09" cy="1547.19" r="4.8" fill="rgba(214,39,40,0.72)" stroke="rgba(150,150,150,0.55)" stroke-width="0.7"/>
<circle cx="568.17" cy="1528.97" r="4.8" fill="rgba(214,39,40,0.72)" stroke="rgba(150,150,150,0.55)" stroke-width="0.7"/>
<circle cx="571.41" cy="1479.08" r="4.8" fill="rgba(0,0,0,0.72)" stroke="rgba(150,150,150,0.55)" stroke-width="0.7"/>
<circle cx="565.04" cy="1552.1" r="4.8" fill="rgba(214,39,40,0.72)" stroke="rgba(150,150,150,0.55)" stroke-width="0.7"/>
<circle cx="510.85" cy="1565.77" r="4.8" fill="rgba(0,0,0,0.72)" stroke="rgba(150,150,150,0.55)" stroke-width="0.7"/>
<circle cx="502.85" cy="1561.25" r="4.8" fill="rgba(0,0,0,0.72)" stroke="rgba(150,150,150,0.55)" stroke-width="0.7"/>
<circle cx="523.65" cy="1533.49" r="4.8" fill="rgba(0,0,0,0.72)" stroke="rgba(150,150,150,0.55)" stroke-width="0.7"/>
<circle cx="565.54" cy="1517.14" r="4.8" fill="rgba(0,0,0,0.72)" stroke="rgba(150,150,150,0.55)" stroke-width="0.7"/>
<circle cx="508.52" cy="1523.2" r="4.8" fill="rgba(214,39,40,0.72)" stroke="rgba(150,150,150,0.55)" stroke-width="0.7"/>
<circle cx="512.4" cy="1529.16" r="4.8" fill="rgba(214,39,40,0.72)" stroke="rgba(150,150,150,0.55)" stroke-width="0.7"/>
<circle cx="522.94" cy="1523.56" r="4.8" fill="rgba(214,39,40,0.72)" stroke="rgba(150,150,150,0.55)" stroke-width="0.7"/>
<circle cx="604.09" cy="1521" r="4.8" fill="rgba(0,0,0,0.72)" stroke="rgba(150,150,150,0.55)" stroke-width="0.7"/>
<circle cx="605.97" cy="1556.54" r="4.8" fill="rgba(214,39,40,0.72)" stroke="rgba(150,150,150,0.55)" stroke-width="0.7"/>
<circle cx="503.87" cy="1524.39" r="4.8" fill="rgba(0,0,0,0.72)" stroke="rgba(150,150,150,0.55)" stroke-width="0.7"/>
<circle cx="565.43" cy="1537.89" r="4.8" fill="rgba(214,39,40,0.72)" stroke="rgba(150,150,150,0.55)" stroke-width="0.7"/>
<circle cx="658.92" cy="1573.78" r="4.8" fill="rgba(0,0,0,0.72)" stroke="rgba(150,150,150,0.55)" stroke-width="0.7"/>
<circle cx="528.43" cy="1550.39" r="4.8" fill="rgba(214,39,40,0.72)" stroke="rgba(150,150,150,0.55)" stroke-width="0.7"/>
<circle cx="533.4" cy="1543.95" r="4.8" fill="rgba(214,39,40,0.72)" stroke="rgba(150,150,150,0.55)" stroke-width="0.7"/>
<circle cx="615.01" cy="1536.91" r="4.8" fill="rgba(214,39,40,0.72)" stroke="rgba(150,150,150,0.55)" stroke-width="0.7"/>
<circle cx="607.52" cy="1537.19" r="4.8" fill="rgba(0,0,0,0.72)" stroke="rgba(150,150,150,0.55)" stroke-width="0.7"/>
<circle cx="495.18" cy="1548.51" r="4.8" fill="rgba(0,0,0,0.72)" stroke="rgba(150,150,150,0.55)" stroke-width="0.7"/>
<circle cx="514.95" cy="1539.45" r="4.8" fill="rgba(214,39,40,0.72)" stroke="rgba(150,150,150,0.55)" stroke-width="0.7"/>
<circle cx="597.25" cy="1522.77" r="4.8" fill="rgba(0,0,0,0.72)" stroke="rgba(150,150,150,0.55)" stroke-width="0.7"/>
<circle cx="724.85" cy="1528.02" r="4.8" fill="rgba(214,39,40,0.72)" stroke="rgba(150,150,150,0.55)" stroke-width="0.7"/>
<circle cx="576.07" cy="1553.37" r="4.8" fill="rgba(214,39,40,0.72)" stroke="rgba(150,150,150,0.55)" stroke-width="0.7"/>
<circle cx="548.39" cy="1534.1" r="4.8" fill="rgba(214,39,40,0.72)" stroke="rgba(150,150,150,0.55)" stroke-width="0.7"/>
<circle cx="508.53" cy="1537.55" r="4.8" fill="rgba(214,39,40,0.72)" stroke="rgba(150,150,150,0.55)" stroke-width="0.7"/>
<circle cx="611.44" cy="1506.65" r="4.8" fill="rgba(214,39,40,0.72)" stroke="rgba(150,150,150,0.55)" stroke-width="0.7"/>
<circle cx="581.94" cy="1585.63" r="4.8" fill="rgba(0,0,0,0.72)" stroke="rgba(150,150,150,0.55)" stroke-width="0.7"/>
<circle cx="540.73" cy="1537.72" r="4.8" fill="rgba(214,39,40,0.72)" stroke="rgba(150,150,150,0.55)" stroke-width="0.7"/>
<circle cx="527.49" cy="1555.12" r="4.8" fill="rgba(214,39,40,0.72)" stroke="rgba(150,150,150,0.55)" stroke-width="0.7"/>
<circle cx="535.35" cy="1541.74" r="4.8" fill="rgba(214,39,40,0.72)" stroke="rgba(150,150,150,0.55)" stroke-width="0.7"/>
<circle cx="518.61" cy="1543.86" r="4.8" fill="rgba(214,39,40,0.72)" stroke="rgba(150,150,150,0.55)" stroke-width="0.7"/>
<circle cx="534.39" cy="1577.33" r="4.8" fill="rgba(214,39,40,0.72)" stroke="rgba(150,150,150,0.55)" stroke-width="0.7"/>
<circle cx="542.14" cy="1546.93" r="4.8" fill="rgba(214,39,40,0.72)" stroke="rgba(150,150,150,0.55)" stroke-width="0.7"/>
<circle cx="593.2" cy="1573.48" r="4.8" fill="rgba(214,39,40,0.72)" stroke="rgba(150,150,150,0.55)" stroke-width="0.7"/>
<circle cx="574.81" cy="1542.78" r="4.8" fill="rgba(214,39,40,0.72)" stroke="rgba(150,150,150,0.55)" stroke-width="0.7"/>
<circle cx="494.7" cy="1564.63" r="4.8" fill="rgba(0,0,0,0.72)" stroke="rgba(150,150,150,0.55)" stroke-width="0.7"/>
<circle cx="530.29" cy="1533.79" r="4.8" fill="rgba(214,39,40,0.72)" stroke="rgba(150,150,150,0.55)" stroke-width="0.7"/>
<circle cx="579.49" cy="1561.15" r="4.8" fill="rgba(214,39,40,0.72)" stroke="rgba(150,150,150,0.55)" stroke-width="0.7"/>
<circle cx="535.07" cy="1557.39" r="4.8" fill="rgba(214,39,40,0.72)" stroke="rgba(150,150,150,0.55)" stroke-width="0.7"/>
<circle cx="609.04" cy="1533.86" r="4.8" fill="rgba(214,39,40,0.72)" stroke="rgba(150,150,150,0.55)" stroke-width="0.7"/>
<circle cx="552.42" cy="1554.49" r="4.8" fill="rgba(0,0,0,0.72)" stroke="rgba(150,150,150,0.55)" stroke-width="0.7"/>
<circle cx="603.97" cy="1530.68" r="4.8" fill="rgba(0,0,0,0.72)" stroke="rgba(150,150,150,0.55)" stroke-width="0.7"/>
<circle cx="608.96" cy="1529.22" r="4.8" fill="rgba(0,0,0,0.72)" stroke="rgba(150,150,150,0.55)" stroke-width="0.7"/>
<circle cx="613.87" cy="1536.34" r="4.8" fill="rgba(214,39,40,0.72)" stroke="rgba(150,150,150,0.55)" stroke-width="0.7"/>
<circle cx="573.18" cy="1575.31" r="4.8" fill="rgba(0,0,0,0.72)" stroke="rgba(150,150,150,0.55)" stroke-width="0.7"/>
<circle cx="559.07" cy="1558.52" r="4.8" fill="rgba(214,39,40,0.72)" stroke="rgba(150,150,150,0.55)" stroke-width="0.7"/>
<circle cx="567.46" cy="1473" r="4.8" fill="rgba(214,39,40,0.72)" stroke="rgba(150,150,150,0.55)" stroke-width="0.7"/>
<circle cx="565.72" cy="1552.84" r="4.8" fill="rgba(214,39,40,0.72)" stroke="rgba(150,150,150,0.55)" stroke-width="0.7"/>
<circle cx="536.88" cy="1514.46" r="4.8" fill="rgba(214,39,40,0.72)" stroke="rgba(150,150,150,0.55)" stroke-width="0.7"/>
<circle cx="579.97" cy="1524.55" r="4.8" fill="rgba(214,39,40,0.72)" stroke="rgba(150,150,150,0.55)" stroke-width="0.7"/>
<circle cx="525.43" cy="1501.98" r="4.8" fill="rgba(0,0,0,0.72)" stroke="rgba(150,150,150,0.55)" stroke-width="0.7"/>
<circle cx="551.82" cy="1545.35" r="4.8" fill="rgba(214,39,40,0.72)" stroke="rgba(150,150,150,0.55)" stroke-width="0.7"/>
<circle cx="566.33" cy="1562.59" r="4.8" fill="rgba(0,0,0,0.72)" stroke="rgba(150,150,150,0.55)" stroke-width="0.7"/>
<circle cx="653" cy="1496.71" r="4.8" fill="rgba(214,39,40,0.72)" stroke="rgba(150,150,150,0.55)" stroke-width="0.7"/>
<circle cx="495.42" cy="1557.2" r="4.8" fill="rgba(0,0,0,0.72)" stroke="rgba(150,150,150,0.55)" stroke-width="0.7"/>
<circle cx="561.43" cy="1552.21" r="4.8" fill="rgba(214,39,40,0.72)" stroke="rgba(150,150,150,0.55)" stroke-width="0.7"/>
<circle cx="534.6" cy="1506.45" r="4.8" fill="rgba(214,39,40,0.72)" stroke="rgba(150,150,150,0.55)" stroke-width="0.7"/>
<circle cx="563.06" cy="1506.26" r="4.8" fill="rgba(0,0,0,0.72)" stroke="rgba(150,150,150,0.55)" stroke-width="0.7"/>
<circle cx="592.34" cy="1555.86" r="4.8" fill="rgba(214,39,40,0.72)" stroke="rgba(150,150,150,0.55)" stroke-width="0.7"/>
<circle cx="533.1" cy="1526.38" r="4.8" fill="rgba(214,39,40,0.72)" stroke="rgba(150,150,150,0.55)" stroke-width="0.7"/>
<circle cx="505.68" cy="1547.65" r="4.8" fill="rgba(0,0,0,0.72)" stroke="rgba(150,150,150,0.55)" stroke-width="0.7"/>
<circle cx="538.14" cy="1507.89" r="4.8" fill="rgba(0,0,0,0.72)" stroke="rgba(150,150,150,0.55)" stroke-width="0.7"/>
<circle cx="541.8" cy="1593.99" r="4.8" fill="rgba(214,39,40,0.72)" stroke="rgba(150,150,150,0.55)" stroke-width="0.7"/>
<circle cx="623.92" cy="1530.46" r="4.8" fill="rgba(214,39,40,0.72)" stroke="rgba(150,150,150,0.55)" stroke-width="0.7"/>
<circle cx="525.19" cy="1535.56" r="4.8" fill="rgba(214,39,40,0.72)" stroke="rgba(150,150,150,0.55)" stroke-width="0.7"/>
<circle cx="528.65" cy="1557.37" r="4.8" fill="rgba(214,39,40,0.72)" stroke="rgba(150,150,150,0.55)" stroke-width="0.7"/>
<circle cx="506.03" cy="1548.66" r="4.8" fill="rgba(214,39,40,0.72)" stroke="rgba(150,150,150,0.55)" stroke-width="0.7"/>
<circle cx="544.2" cy="1546.44" r="4.8" fill="rgba(214,39,40,0.72)" stroke="rgba(150,150,150,0.55)" stroke-width="0.7"/>
<circle cx="561.27" cy="1554.76" r="4.8" fill="rgba(214,39,40,0.72)" stroke="rgba(150,150,150,0.55)" stroke-width="0.7"/>
<circle cx="589.96" cy="1554.31" r="4.8" fill="rgba(214,39,40,0.72)" stroke="rgba(150,150,150,0.55)" stroke-width="0.7"/>
<circle cx="620.73" cy="1530.24" r="4.8" fill="rgba(214,39,40,0.72)" stroke="rgba(150,150,150,0.55)" stroke-width="0.7"/>
<circle cx="506.28" cy="1561.7" r="4.8" fill="rgba(0,0,0,0.72)" stroke="rgba(150,150,150,0.55)" stroke-width="0.7"/>
<circle cx="599.06" cy="1534.77" r="4.8" fill="rgba(214,39,40,0.72)" stroke="rgba(150,150,150,0.55)" stroke-width="0.7"/>
<circle cx="538.75" cy="1518.63" r="4.8" fill="rgba(214,39,40,0.72)" stroke="rgba(150,150,150,0.55)" stroke-width="0.7"/>
<circle cx="544.5" cy="1564.56" r="4.8" fill="rgba(214,39,40,0.72)" stroke="rgba(150,150,150,0.55)" stroke-width="0.7"/>
<circle cx="538.34" cy="1541.67" r="4.8" fill="rgba(214,39,40,0.72)" stroke="rgba(150,150,150,0.55)" stroke-width="0.7"/>
<circle cx="476.66" cy="1503.4" r="4.8" fill="rgba(214,39,40,0.72)" stroke="rgba(150,150,150,0.55)" stroke-width="0.7"/>
<circle cx="496.73" cy="1539.31" r="4.8" fill="rgba(0,0,0,0.72)" stroke="rgba(150,150,150,0.55)" stroke-width="0.7"/>
<circle cx="521.55" cy="1509.91" r="4.8" fill="rgba(214,39,40,0.72)" stroke="rgba(150,150,150,0.55)" stroke-width="0.7"/>
<circle cx="517.13" cy="1535.6" r="4.8" fill="rgba(0,0,0,0.72)" stroke="rgba(150,150,150,0.55)" stroke-width="0.7"/>
<circle cx="504.03" cy="1538.9" r="4.8" fill="rgba(0,0,0,0.72)" stroke="rgba(150,150,150,0.55)" stroke-width="0.7"/>
<circle cx="505.05" cy="1544.45" r="4.8" fill="rgba(0,0,0,0.72)" stroke="rgba(150,150,150,0.55)" stroke-width="0.7"/>
<circle cx="530.87" cy="1513.82" r="4.8" fill="rgba(214,39,40,0.72)" stroke="rgba(150,150,150,0.55)" stroke-width="0.7"/>
<circle cx="565.6" cy="1558.69" r="4.8" fill="rgba(214,39,40,0.72)" stroke="rgba(150,150,150,0.55)" stroke-width="0.7"/>
<circle cx="488.64" cy="1563.34" r="4.8" fill="rgba(0,0,0,0.72)" stroke="rgba(150,150,150,0.55)" stroke-width="0.7"/>
<circle cx="515.78" cy="1497.34" r="4.8" fill="rgba(214,39,40,0.72)" stroke="rgba(150,150,150,0.55)" stroke-width="0.7"/>
<circle cx="513.61" cy="1554.85" r="4.8" fill="rgba(0,0,0,0.72)" stroke="rgba(150,150,150,0.55)" stroke-width="0.7"/>
<circle cx="531.26" cy="1536.65" r="4.8" fill="rgba(214,39,40,0.72)" stroke="rgba(150,150,150,0.55)" stroke-width="0.7"/>
<circle cx="531.67" cy="1536.54" r="4.8" fill="rgba(214,39,40,0.72)" stroke="rgba(150,150,150,0.55)" stroke-width="0.7"/>
<circle cx="516.89" cy="1517.82" r="4.8" fill="rgba(214,39,40,0.72)" stroke="rgba(150,150,150,0.55)" stroke-width="0.7"/>
<circle cx="545.4" cy="1551.56" r="4.8" fill="rgba(214,39,40,0.72)" stroke="rgba(150,150,150,0.55)" stroke-width="0.7"/>
<circle cx="539.27" cy="1558.72" r="4.8" fill="rgba(214,39,40,0.72)" stroke="rgba(150,150,150,0.55)" stroke-width="0.7"/>
<circle cx="592.29" cy="1478.21" r="4.8" fill="rgba(0,0,0,0.72)" stroke="rgba(150,150,150,0.55)" stroke-width="0.7"/>
<circle cx="554.82" cy="1537.51" r="4.8" fill="rgba(214,39,40,0.72)" stroke="rgba(150,150,150,0.55)" stroke-width="0.7"/>
<circle cx="540.2" cy="1517.83" r="4.8" fill="rgba(0,0,0,0.72)" stroke="rgba(150,150,150,0.55)" stroke-width="0.7"/>
<circle cx="509.7" cy="1545.54" r="4.8" fill="rgba(0,0,0,0.72)" stroke="rgba(150,150,150,0.55)" stroke-width="0.7"/>
<circle cx="593.72" cy="1544.7" r="4.8" fill="rgba(214,39,40,0.72)" stroke="rgba(150,150,150,0.55)" stroke-width="0.7"/>
<circle cx="510.67" cy="1566.84" r="4.8" fill="rgba(0,0,0,0.72)" stroke="rgba(150,150,150,0.55)" stroke-width="0.7"/>
<circle cx="518.28" cy="1496.67" r="4.8" fill="rgba(0,0,0,0.72)" stroke="rgba(150,150,150,0.55)" stroke-width="0.7"/>
<circle cx="550.47" cy="1528.61" r="4.8" fill="rgba(214,39,40,0.72)" stroke="rgba(150,150,150,0.55)" stroke-width="0.7"/>
<circle cx="549.37" cy="1535.7" r="4.8" fill="rgba(214,39,40,0.72)" stroke="rgba(150,150,150,0.55)" stroke-width="0.7"/>
<circle cx="617.51" cy="1516.65" r="4.8" fill="rgba(0,0,0,0.72)" stroke="rgba(150,150,150,0.55)" stroke-width="0.7"/>
<circle cx="556.76" cy="1525.43" r="4.8" fill="rgba(214,39,40,0.72)" stroke="rgba(150,150,150,0.55)" stroke-width="0.7"/>
<circle cx="583.37" cy="1549.09" r="4.8" fill="rgba(214,39,40,0.72)" stroke="rgba(150,150,150,0.55)" stroke-width="0.7"/>
<circle cx="575.82" cy="1535.93" r="4.8" fill="rgba(214,39,40,0.72)" stroke="rgba(150,150,150,0.55)" stroke-width="0.7"/>
<circle cx="541.9" cy="1478.46" r="4.8" fill="rgba(0,0,0,0.72)" stroke="rgba(150,150,150,0.55)" stroke-width="0.7"/>
<circle cx="539.56" cy="1590.04" r="4.8" fill="rgba(0,0,0,0.72)" stroke="rgba(150,150,150,0.55)" stroke-width="0.7"/>
<circle cx="523.39" cy="1506.55" r="4.8" fill="rgba(214,39,40,0.72)" stroke="rgba(150,150,150,0.55)" stroke-width="0.7"/>
<circle cx="560.73" cy="1578.66" r="4.8" fill="rgba(214,39,40,0.72)" stroke="rgba(150,150,150,0.55)" stroke-width="0.7"/>
<circle cx="495.81" cy="1531.48" r="4.8" fill="rgba(0,0,0,0.72)" stroke="rgba(150,150,150,0.55)" stroke-width="0.7"/>
<circle cx="599.2" cy="1502.83" r="4.8" fill="rgba(0,0,0,0.72)" stroke="rgba(150,150,150,0.55)" stroke-width="0.7"/>
<circle cx="612.46" cy="1531.29" r="4.8" fill="rgba(0,0,0,0.72)" stroke="rgba(150,150,150,0.55)" stroke-width="0.7"/>
<circle cx="588.85" cy="1563.53" r="4.8" fill="rgba(214,39,40,0.72)" stroke="rgba(150,150,150,0.55)" stroke-width="0.7"/>
<circle cx="566.58" cy="1550.14" r="4.8" fill="rgba(0,0,0,0.72)" stroke="rgba(150,150,150,0.55)" stroke-width="0.7"/>
<circle cx="567.98" cy="1562" r="4.8" fill="rgba(214,39,40,0.72)" stroke="rgba(150,150,150,0.55)" stroke-width="0.7"/>
<circle cx="566.87" cy="1550.26" r="4.8" fill="rgba(214,39,40,0.72)" stroke="rgba(150,150,150,0.55)" stroke-width="0.7"/>
<circle cx="566.62" cy="1546.56" r="4.8" fill="rgba(214,39,40,0.72)" stroke="rgba(150,150,150,0.55)" stroke-width="0.7"/>
<circle cx="583.55" cy="1559.57" r="4.8" fill="rgba(214,39,40,0.72)" stroke="rgba(150,150,150,0.55)" stroke-width="0.7"/>
<circle cx="568.24" cy="1529.61" r="4.8" fill="rgba(214,39,40,0.72)" stroke="rgba(150,150,150,0.55)" stroke-width="0.7"/>
<circle cx="495.53" cy="1556.11" r="4.8" fill="rgba(0,0,0,0.72)" stroke="rgba(150,150,150,0.55)" stroke-width="0.7"/>
<circle cx="504.59" cy="1550.7" r="4.8" fill="rgba(214,39,40,0.72)" stroke="rgba(150,150,150,0.55)" stroke-width="0.7"/>
<circle cx="658.53" cy="1597.79" r="4.8" fill="rgba(214,39,40,0.72)" stroke="rgba(150,150,150,0.55)" stroke-width="0.7"/>
<circle cx="513.39" cy="1520.63" r="4.8" fill="rgba(0,0,0,0.72)" stroke="rgba(150,150,150,0.55)" stroke-width="0.7"/>
<circle cx="552.5" cy="1517.36" r="4.8" fill="rgba(0,0,0,0.72)" stroke="rgba(150,150,150,0.55)" stroke-width="0.7"/>
<circle cx="516.07" cy="1506.2" r="4.8" fill="rgba(214,39,40,0.72)" stroke="rgba(150,150,150,0.55)" stroke-width="0.7"/>
<circle cx="494.26" cy="1539.65" r="4.8" fill="rgba(0,0,0,0.72)" stroke="rgba(150,150,150,0.55)" stroke-width="0.7"/>
<circle cx="603.73" cy="1548.77" r="4.8" fill="rgba(0,0,0,0.72)" stroke="rgba(150,150,150,0.55)" stroke-width="0.7"/>
<circle cx="575.12" cy="1540.14" r="4.8" fill="rgba(0,0,0,0.72)" stroke="rgba(150,150,150,0.55)" stroke-width="0.7"/>
<circle cx="502.64" cy="1544.37" r="4.8" fill="rgba(0,0,0,0.72)" stroke="rgba(150,150,150,0.55)" stroke-width="0.7"/>
<circle cx="526.44" cy="1516.19" r="4.8" fill="rgba(214,39,40,0.72)" stroke="rgba(150,150,150,0.55)" stroke-width="0.7"/>
<circle cx="509.81" cy="1487.16" r="4.8" fill="rgba(214,39,40,0.72)" stroke="rgba(150,150,150,0.55)" stroke-width="0.7"/>
<circle cx="586.95" cy="1502.85" r="4.8" fill="rgba(0,0,0,0.72)" stroke="rgba(150,150,150,0.55)" stroke-width="0.7"/>
<circle cx="543.99" cy="1531.01" r="4.8" fill="rgba(214,39,40,0.72)" stroke="rgba(150,150,150,0.55)" stroke-width="0.7"/>
<circle cx="509.46" cy="1489.36" r="4.8" fill="rgba(214,39,40,0.72)" stroke="rgba(150,150,150,0.55)" stroke-width="0.7"/>
<circle cx="497.08" cy="1510.68" r="4.8" fill="rgba(214,39,40,0.72)" stroke="rgba(150,150,150,0.55)" stroke-width="0.7"/>
<circle cx="558.46" cy="1547.39" r="4.8" fill="rgba(0,0,0,0.72)" stroke="rgba(150,150,150,0.55)" stroke-width="0.7"/>
<circle cx="509.19" cy="1534.56" r="4.8" fill="rgba(0,0,0,0.72)" stroke="rgba(150,150,150,0.55)" stroke-width="0.7"/>
<circle cx="522.92" cy="1579.93" r="4.8" fill="rgba(0,0,0,0.72)" stroke="rgba(150,150,150,0.55)" stroke-width="0.7"/>
<circle cx="541.04" cy="1513" r="4.8" fill="rgba(214,39,40,0.72)" stroke="rgba(150,150,150,0.55)" stroke-width="0.7"/>
<circle cx="536.3" cy="1532.98" r="4.8" fill="rgba(214,39,40,0.72)" stroke="rgba(150,150,150,0.55)" stroke-width="0.7"/>
<circle cx="503.24" cy="1569.72" r="4.8" fill="rgba(0,0,0,0.72)" stroke="rgba(150,150,150,0.55)" stroke-width="0.7"/>
<circle cx="509.24" cy="1542" r="4.8" fill="rgba(0,0,0,0.72)" stroke="rgba(150,150,150,0.55)" stroke-width="0.7"/>
<circle cx="497.88" cy="1508.29" r="4.8" fill="rgba(214,39,40,0.72)" stroke="rgba(150,150,150,0.55)" stroke-width="0.7"/>
<circle cx="494.57" cy="1528.8" r="4.8" fill="rgba(0,0,0,0.72)" stroke="rgba(150,150,150,0.55)" stroke-width="0.7"/>
<circle cx="497.09" cy="1548.86" r="4.8" fill="rgba(0,0,0,0.72)" stroke="rgba(150,150,150,0.55)" stroke-width="0.7"/>
<circle cx="523.32" cy="1548.56" r="4.8" fill="rgba(214,39,40,0.72)" stroke="rgba(150,150,150,0.55)" stroke-width="0.7"/>
<circle cx="552.35" cy="1511.63" r="4.8" fill="rgba(0,0,0,0.72)" stroke="rgba(150,150,150,0.55)" stroke-width="0.7"/>
<circle cx="540.4" cy="1478.83" r="4.8" fill="rgba(0,0,0,0.72)" stroke="rgba(150,150,150,0.55)" stroke-width="0.7"/>
<circle cx="505.56" cy="1556.62" r="4.8" fill="rgba(0,0,0,0.72)" stroke="rgba(150,150,150,0.55)" stroke-width="0.7"/>
<circle cx="580.47" cy="1549.93" r="4.8" fill="rgba(214,39,40,0.72)" stroke="rgba(150,150,150,0.55)" stroke-width="0.7"/>
<circle cx="573.19" cy="1553.91" r="4.8" fill="rgba(214,39,40,0.72)" stroke="rgba(150,150,150,0.55)" stroke-width="0.7"/>
<circle cx="505.89" cy="1520.46" r="4.8" fill="rgba(214,39,40,0.72)" stroke="rgba(150,150,150,0.55)" stroke-width="0.7"/>
<circle cx="531.81" cy="1575.93" r="4.8" fill="rgba(214,39,40,0.72)" stroke="rgba(150,150,150,0.55)" stroke-width="0.7"/>
<circle cx="515.15" cy="1516.51" r="4.8" fill="rgba(0,0,0,0.72)" stroke="rgba(150,150,150,0.55)" stroke-width="0.7"/>
<circle cx="600.65" cy="1510.62" r="4.8" fill="rgba(214,39,40,0.72)" stroke="rgba(150,150,150,0.55)" stroke-width="0.7"/>
<circle cx="610.61" cy="1506.49" r="4.8" fill="rgba(0,0,0,0.72)" stroke="rgba(150,150,150,0.55)" stroke-width="0.7"/>
<circle cx="510.12" cy="1541.53" r="4.8" fill="rgba(0,0,0,0.72)" stroke="rgba(150,150,150,0.55)" stroke-width="0.7"/>
<circle cx="597.33" cy="1525.28" r="4.8" fill="rgba(0,0,0,0.72)" stroke="rgba(150,150,150,0.55)" stroke-width="0.7"/>
<circle cx="543.9" cy="1542.51" r="4.8" fill="rgba(214,39,40,0.72)" stroke="rgba(150,150,150,0.55)" stroke-width="0.7"/>
<circle cx="584.07" cy="1559.79" r="4.8" fill="rgba(214,39,40,0.72)" stroke="rgba(150,150,150,0.55)" stroke-width="0.7"/>
<circle cx="559.01" cy="1525.17" r="4.8" fill="rgba(0,0,0,0.72)" stroke="rgba(150,150,150,0.55)" stroke-width="0.7"/>
<circle cx="571" cy="1515.72" r="4.8" fill="rgba(0,0,0,0.72)" stroke="rgba(150,150,150,0.55)" stroke-width="0.7"/>
<circle cx="541.14" cy="1457.8" r="4.8" fill="rgba(214,39,40,0.72)" stroke="rgba(150,150,150,0.55)" stroke-width="0.7"/>
<circle cx="542.44" cy="1534.99" r="4.8" fill="rgba(214,39,40,0.72)" stroke="rgba(150,150,150,0.55)" stroke-width="0.7"/>
<circle cx="563.76" cy="1524.89" r="4.8" fill="rgba(214,39,40,0.72)" stroke="rgba(150,150,150,0.55)" stroke-width="0.7"/>
<circle cx="490.95" cy="1548.47" r="4.8" fill="rgba(0,0,0,0.72)" stroke="rgba(150,150,150,0.55)" stroke-width="0.7"/>
<circle cx="573.97" cy="1513.31" r="4.8" fill="rgba(0,0,0,0.72)" stroke="rgba(150,150,150,0.55)" stroke-width="0.7"/>
<circle cx="586.72" cy="1577.78" r="4.8" fill="rgba(0,0,0,0.72)" stroke="rgba(150,150,150,0.55)" stroke-width="0.7"/>
<circle cx="536.99" cy="1557.14" r="4.8" fill="rgba(214,39,40,0.72)" stroke="rgba(150,150,150,0.55)" stroke-width="0.7"/>
<circle cx="590.4" cy="1545.44" r="4.8" fill="rgba(214,39,40,0.72)" stroke="rgba(150,150,150,0.55)" stroke-width="0.7"/>
<circle cx="532.62" cy="1530.16" r="4.8" fill="rgba(0,0,0,0.72)" stroke="rgba(150,150,150,0.55)" stroke-width="0.7"/>
<circle cx="604.38" cy="1496.18" r="4.8" fill="rgba(0,0,0,0.72)" stroke="rgba(150,150,150,0.55)" stroke-width="0.7"/>
<circle cx="516.77" cy="1535.08" r="4.8" fill="rgba(0,0,0,0.72)" stroke="rgba(150,150,150,0.55)" stroke-width="0.7"/>
<circle cx="539.98" cy="1517.5" r="4.8" fill="rgba(214,39,40,0.72)" stroke="rgba(150,150,150,0.55)" stroke-width="0.7"/>
<circle cx="487.12" cy="1558.44" r="4.8" fill="rgba(0,0,0,0.72)" stroke="rgba(150,150,150,0.55)" stroke-width="0.7"/>
<circle cx="555.81" cy="1550.94" r="4.8" fill="rgba(214,39,40,0.72)" stroke="rgba(150,150,150,0.55)" stroke-width="0.7"/>
<circle cx="489.46" cy="1514.96" r="4.8" fill="rgba(0,0,0,0.72)" stroke="rgba(150,150,150,0.55)" stroke-width="0.7"/>
<circle cx="569.7" cy="1589.43" r="4.8" fill="rgba(214,39,40,0.72)" stroke="rgba(150,150,150,0.55)" stroke-width="0.7"/>
<circle cx="625.62" cy="1508" r="4.8" fill="rgba(214,39,40,0.72)" stroke="rgba(150,150,150,0.55)" stroke-width="0.7"/>
<circle cx="691.3" cy="1516.32" r="4.8" fill="rgba(0,0,0,0.72)" stroke="rgba(150,150,150,0.55)" stroke-width="0.7"/>
<circle cx="506.15" cy="1558.96" r="4.8" fill="rgba(0,0,0,0.72)" stroke="rgba(150,150,150,0.55)" stroke-width="0.7"/>
<circle cx="540.42" cy="1533.03" r="4.8" fill="rgba(214,39,40,0.72)" stroke="rgba(150,150,150,0.55)" stroke-width="0.7"/>
<circle cx="529.18" cy="1533.5" r="4.8" fill="rgba(214,39,40,0.72)" stroke="rgba(150,150,150,0.55)" stroke-width="0.7"/>
<circle cx="494.43" cy="1552.14" r="4.8" fill="rgba(0,0,0,0.72)" stroke="rgba(150,150,150,0.55)" stroke-width="0.7"/>
<circle cx="516.61" cy="1519.44" r="4.8" fill="rgba(0,0,0,0.72)" stroke="rgba(150,150,150,0.55)" stroke-width="0.7"/>
<circle cx="564.33" cy="1545.74" r="4.8" fill="rgba(214,39,40,0.72)" stroke="rgba(150,150,150,0.55)" stroke-width="0.7"/>
<circle cx="499.36" cy="1512.19" r="4.8" fill="rgba(0,0,0,0.72)" stroke="rgba(150,150,150,0.55)" stroke-width="0.7"/>
<circle cx="542.01" cy="1553.9" r="4.8" fill="rgba(214,39,40,0.72)" stroke="rgba(150,150,150,0.55)" stroke-width="0.7"/>
<circle cx="497.19" cy="1579.55" r="4.8" fill="rgba(0,0,0,0.72)" stroke="rgba(150,150,150,0.55)" stroke-width="0.7"/>
<circle cx="514.78" cy="1531.45" r="4.8" fill="rgba(214,39,40,0.72)" stroke="rgba(150,150,150,0.55)" stroke-width="0.7"/>
<circle cx="602.75" cy="1525.58" r="4.8" fill="rgba(0,0,0,0.72)" stroke="rgba(150,150,150,0.55)" stroke-width="0.7"/>
<circle cx="542.56" cy="1552.92" r="4.8" fill="rgba(214,39,40,0.72)" stroke="rgba(150,150,150,0.55)" stroke-width="0.7"/>
<circle cx="522.54" cy="1509.47" r="4.8" fill="rgba(0,0,0,0.72)" stroke="rgba(150,150,150,0.55)" stroke-width="0.7"/>
<circle cx="501.34" cy="1502.92" r="4.8" fill="rgba(0,0,0,0.72)" stroke="rgba(150,150,150,0.55)" stroke-width="0.7"/>
<circle cx="629.97" cy="1563.29" r="4.8" fill="rgba(214,39,40,0.72)" stroke="rgba(150,150,150,0.55)" stroke-width="0.7"/>
<circle cx="502.13" cy="1579.93" r="4.8" fill="rgba(0,0,0,0.72)" stroke="rgba(150,150,150,0.55)" stroke-width="0.7"/>
<circle cx="516.15" cy="1497.75" r="4.8" fill="rgba(214,39,40,0.72)" stroke="rgba(150,150,150,0.55)" stroke-width="0.7"/>
<circle cx="554.59" cy="1514.33" r="4.8" fill="rgba(0,0,0,0.72)" stroke="rgba(150,150,150,0.55)" stroke-width="0.7"/>
<circle cx="510.3" cy="1576.62" r="4.8" fill="rgba(0,0,0,0.72)" stroke="rgba(150,150,150,0.55)" stroke-width="0.7"/>
<circle cx="493.74" cy="1552.88" r="4.8" fill="rgba(0,0,0,0.72)" stroke="rgba(150,150,150,0.55)" stroke-width="0.7"/>
<circle cx="555.16" cy="1523.11" r="4.8" fill="rgba(214,39,40,0.72)" stroke="rgba(150,150,150,0.55)" stroke-width="0.7"/>
<circle cx="503.9" cy="1378.46" r="4.8" fill="rgba(0,0,0,0.72)" stroke="rgba(150,150,150,0.55)" stroke-width="0.7"/>
<circle cx="536.04" cy="1528.88" r="4.8" fill="rgba(0,0,0,0.72)" stroke="rgba(150,150,150,0.55)" stroke-width="0.7"/>
<circle cx="536.24" cy="1545.26" r="4.8" fill="rgba(214,39,40,0.72)" stroke="rgba(150,150,150,0.55)" stroke-width="0.7"/>
<circle cx="511.34" cy="1489.13" r="4.8" fill="rgba(0,0,0,0.72)" stroke="rgba(150,150,150,0.55)" stroke-width="0.7"/>
<circle cx="549.31" cy="1508.36" r="4.8" fill="rgba(0,0,0,0.72)" stroke="rgba(150,150,150,0.55)" stroke-width="0.7"/>
<circle cx="490.53" cy="1577" r="4.8" fill="rgba(0,0,0,0.72)" stroke="rgba(150,150,150,0.55)" stroke-width="0.7"/>
<circle cx="592.75" cy="1535.43" r="4.8" fill="rgba(214,39,40,0.72)" stroke="rgba(150,150,150,0.55)" stroke-width="0.7"/>
<circle cx="579.34" cy="1534.81" r="4.8" fill="rgba(214,39,40,0.72)" stroke="rgba(150,150,150,0.55)" stroke-width="0.7"/>
<circle cx="539.5" cy="1560.71" r="4.8" fill="rgba(0,0,0,0.72)" stroke="rgba(150,150,150,0.55)" stroke-width="0.7"/>
<circle cx="506.54" cy="1519.97" r="4.8" fill="rgba(214,39,40,0.72)" stroke="rgba(150,150,150,0.55)" stroke-width="0.7"/>
<circle cx="580.95" cy="1573.78" r="4.8" fill="rgba(0,0,0,0.72)" stroke="rgba(150,150,150,0.55)" stroke-width="0.7"/>
<circle cx="577.07" cy="1506.25" r="4.8" fill="rgba(214,39,40,0.72)" stroke="rgba(150,150,150,0.55)" stroke-width="0.7"/>
<circle cx="519.68" cy="1490.45" r="4.8" fill="rgba(214,39,40,0.72)" stroke="rgba(150,150,150,0.55)" stroke-width="0.7"/>
<circle cx="548.62" cy="1538.77" r="4.8" fill="rgba(214,39,40,0.72)" stroke="rgba(150,150,150,0.55)" stroke-width="0.7"/>
<circle cx="569.87" cy="1551.41" r="4.8" fill="rgba(214,39,40,0.72)" stroke="rgba(150,150,150,0.55)" stroke-width="0.7"/>
<circle cx="525.94" cy="1524.31" r="4.8" fill="rgba(214,39,40,0.72)" stroke="rgba(150,150,150,0.55)" stroke-width="0.7"/>
<circle cx="545.77" cy="1532.39" r="4.8" fill="rgba(214,39,40,0.72)" stroke="rgba(150,150,150,0.55)" stroke-width="0.7"/>
<circle cx="564.55" cy="1556.35" r="4.8" fill="rgba(214,39,40,0.72)" stroke="rgba(150,150,150,0.55)" stroke-width="0.7"/>
<circle cx="585.65" cy="1497.72" r="4.8" fill="rgba(0,0,0,0.72)" stroke="rgba(150,150,150,0.55)" stroke-width="0.7"/>
<circle cx="581.16" cy="1514.16" r="4.8" fill="rgba(214,39,40,0.72)" stroke="rgba(150,150,150,0.55)" stroke-width="0.7"/>
<circle cx="507.92" cy="1546.77" r="4.8" fill="rgba(0,0,0,0.72)" stroke="rgba(150,150,150,0.55)" stroke-width="0.7"/>
<circle cx="517.25" cy="1513.66" r="4.8" fill="rgba(214,39,40,0.72)" stroke="rgba(150,150,150,0.55)" stroke-width="0.7"/>
<circle cx="517.73" cy="1547.18" r="4.8" fill="rgba(0,0,0,0.72)" stroke="rgba(150,150,150,0.55)" stroke-width="0.7"/>
<circle cx="549.52" cy="1516.13" r="4.8" fill="rgba(214,39,40,0.72)" stroke="rgba(150,150,150,0.55)" stroke-width="0.7"/>
<circle cx="582.35" cy="1498.99" r="4.8" fill="rgba(0,0,0,0.72)" stroke="rgba(150,150,150,0.55)" stroke-width="0.7"/>
<circle cx="569.58" cy="1564.37" r="4.8" fill="rgba(0,0,0,0.72)" stroke="rgba(150,150,150,0.55)" stroke-width="0.7"/>
<circle cx="585.27" cy="1498.99" r="4.8" fill="rgba(0,0,0,0.72)" stroke="rgba(150,150,150,0.55)" stroke-width="0.7"/>
<circle cx="595.31" cy="1528.03" r="4.8" fill="rgba(214,39,40,0.72)" stroke="rgba(150,150,150,0.55)" stroke-width="0.7"/>
<circle cx="523.99" cy="1538.7" r="4.8" fill="rgba(214,39,40,0.72)" stroke="rgba(150,150,150,0.55)" stroke-width="0.7"/>
<circle cx="532.8" cy="1511.1" r="4.8" fill="rgba(214,39,40,0.72)" stroke="rgba(150,150,150,0.55)" stroke-width="0.7"/>
<circle cx="631.94" cy="1545.96" r="4.8" fill="rgba(0,0,0,0.72)" stroke="rgba(150,150,150,0.55)" stroke-width="0.7"/>
<circle cx="513.89" cy="1545.4" r="4.8" fill="rgba(0,0,0,0.72)" stroke="rgba(150,150,150,0.55)" stroke-width="0.7"/>
<circle cx="572.9" cy="1528.97" r="4.8" fill="rgba(0,0,0,0.72)" stroke="rgba(150,150,150,0.55)" stroke-width="0.7"/>
<circle cx="592.73" cy="1510" r="4.8" fill="rgba(0,0,0,0.72)" stroke="rgba(150,150,150,0.55)" stroke-width="0.7"/>
<circle cx="506.25" cy="1499.85" r="4.8" fill="rgba(214,39,40,0.72)" stroke="rgba(150,150,150,0.55)" stroke-width="0.7"/>
<circle cx="557.9" cy="1566.93" r="4.8" fill="rgba(0,0,0,0.72)" stroke="rgba(150,150,150,0.55)" stroke-width="0.7"/>
<circle cx="581.14" cy="1540.27" r="4.8" fill="rgba(214,39,40,0.72)" stroke="rgba(150,150,150,0.55)" stroke-width="0.7"/>
<circle cx="521.89" cy="1485.96" r="4.8" fill="rgba(0,0,0,0.72)" stroke="rgba(150,150,150,0.55)" stroke-width="0.7"/>
<circle cx="548.29" cy="1538.85" r="4.8" fill="rgba(214,39,40,0.72)" stroke="rgba(150,150,150,0.55)" stroke-width="0.7"/>
<circle cx="529.7" cy="1505.97" r="4.8" fill="rgba(0,0,0,0.72)" stroke="rgba(150,150,150,0.55)" stroke-width="0.7"/>
<circle cx="590.42" cy="1578.4" r="4.8" fill="rgba(0,0,0,0.72)" stroke="rgba(150,150,150,0.55)" stroke-width="0.7"/>
<circle cx="507.5" cy="1501.84" r="4.8" fill="rgba(0,0,0,0.72)" stroke="rgba(150,150,150,0.55)" stroke-width="0.7"/>
<circle cx="608.21" cy="1558.51" r="4.8" fill="rgba(214,39,40,0.72)" stroke="rgba(150,150,150,0.55)" stroke-width="0.7"/>
<circle cx="528.58" cy="1546.84" r="4.8" fill="rgba(0,0,0,0.72)" stroke="rgba(150,150,150,0.55)" stroke-width="0.7"/>
<circle cx="563.84" cy="1485.72" r="4.8" fill="rgba(0,0,0,0.72)" stroke="rgba(150,150,150,0.55)" stroke-width="0.7"/>
<circle cx="510.53" cy="1548.65" r="4.8" fill="rgba(0,0,0,0.72)" stroke="rgba(150,150,150,0.55)" stroke-width="0.7"/>
<circle cx="570.77" cy="1564.08" r="4.8" fill="rgba(214,39,40,0.72)" stroke="rgba(150,150,150,0.55)" stroke-width="0.7"/>
<circle cx="562.99" cy="1607.52" r="4.8" fill="rgba(214,39,40,0.72)" stroke="rgba(150,150,150,0.55)" stroke-width="0.7"/>
<circle cx="535.39" cy="1564.38" r="4.8" fill="rgba(214,39,40,0.72)" stroke="rgba(150,150,150,0.55)" stroke-width="0.7"/>
<circle cx="532.42" cy="1495.84" r="4.8" fill="rgba(0,0,0,0.72)" stroke="rgba(150,150,150,0.55)" stroke-width="0.7"/>
<circle cx="523.19" cy="1512.65" r="4.8" fill="rgba(214,39,40,0.72)" stroke="rgba(150,150,150,0.55)" stroke-width="0.7"/>
<circle cx="574.87" cy="1532.15" r="4.8" fill="rgba(214,39,40,0.72)" stroke="rgba(150,150,150,0.55)" stroke-width="0.7"/>
<circle cx="564.34" cy="1527.89" r="4.8" fill="rgba(0,0,0,0.72)" stroke="rgba(150,150,150,0.55)" stroke-width="0.7"/>
<circle cx="616.6" cy="1511.23" r="4.8" fill="rgba(0,0,0,0.72)" stroke="rgba(150,150,150,0.55)" stroke-width="0.7"/>
<circle cx="516.14" cy="1586.24" r="4.8" fill="rgba(214,39,40,0.72)" stroke="rgba(150,150,150,0.55)" stroke-width="0.7"/>
<circle cx="607.01" cy="1535.47" r="4.8" fill="rgba(0,0,0,0.72)" stroke="rgba(150,150,150,0.55)" stroke-width="0.7"/>
<circle cx="632.21" cy="1531.98" r="4.8" fill="rgba(214,39,40,0.72)" stroke="rgba(150,150,150,0.55)" stroke-width="0.7"/>
<circle cx="545.74" cy="1536.66" r="4.8" fill="rgba(214,39,40,0.72)" stroke="rgba(150,150,150,0.55)" stroke-width="0.7"/>
<circle cx="582.5" cy="1520.9" r="4.8" fill="rgba(214,39,40,0.72)" stroke="rgba(150,150,150,0.55)" stroke-width="0.7"/>
<circle cx="551.78" cy="1557.82" r="4.8" fill="rgba(214,39,40,0.72)" stroke="rgba(150,150,150,0.55)" stroke-width="0.7"/>
<circle cx="505.12" cy="1517.38" r="4.8" fill="rgba(0,0,0,0.72)" stroke="rgba(150,150,150,0.55)" stroke-width="0.7"/>
<circle cx="523.79" cy="1501.43" r="4.8" fill="rgba(0,0,0,0.72)" stroke="rgba(150,150,150,0.55)" stroke-width="0.7"/>
<circle cx="501.39" cy="1569.82" r="4.8" fill="rgba(0,0,0,0.72)" stroke="rgba(150,150,150,0.55)" stroke-width="0.7"/>
<circle cx="531" cy="1542.9" r="4.8" fill="rgba(214,39,40,0.72)" stroke="rgba(150,150,150,0.55)" stroke-width="0.7"/>
<circle cx="472.71" cy="1521.94" r="4.8" fill="rgba(214,39,40,0.72)" stroke="rgba(150,150,150,0.55)" stroke-width="0.7"/>
<circle cx="592.54" cy="1551.37" r="4.8" fill="rgba(0,0,0,0.72)" stroke="rgba(150,150,150,0.55)" stroke-width="0.7"/>
<circle cx="554.3" cy="1469.96" r="4.8" fill="rgba(214,39,40,0.72)" stroke="rgba(150,150,150,0.55)" stroke-width="0.7"/>
<circle cx="591.15" cy="1477.56" r="4.8" fill="rgba(0,0,0,0.72)" stroke="rgba(150,150,150,0.55)" stroke-width="0.7"/>
<circle cx="500.16" cy="1541.02" r="4.8" fill="rgba(0,0,0,0.72)" stroke="rgba(150,150,150,0.55)" stroke-width="0.7"/>
<circle cx="563.27" cy="1520.1" r="4.8" fill="rgba(0,0,0,0.72)" stroke="rgba(150,150,150,0.55)" stroke-width="0.7"/>
<circle cx="571.75" cy="1511.15" r="4.8" fill="rgba(214,39,40,0.72)" stroke="rgba(150,150,150,0.55)" stroke-width="0.7"/>
<circle cx="626.68" cy="1494.28" r="4.8" fill="rgba(0,0,0,0.72)" stroke="rgba(150,150,150,0.55)" stroke-width="0.7"/>
<circle cx="555.31" cy="1540.16" r="4.8" fill="rgba(214,39,40,0.72)" stroke="rgba(150,150,150,0.55)" stroke-width="0.7"/>
<circle cx="533.24" cy="1468.44" r="4.8" fill="rgba(0,0,0,0.72)" stroke="rgba(150,150,150,0.55)" stroke-width="0.7"/>
<circle cx="563.14" cy="1550.32" r="4.8" fill="rgba(214,39,40,0.72)" stroke="rgba(150,150,150,0.55)" stroke-width="0.7"/>
<circle cx="583.95" cy="1556.69" r="4.8" fill="rgba(0,0,0,0.72)" stroke="rgba(150,150,150,0.55)" stroke-width="0.7"/>
<circle cx="518.72" cy="1566.7" r="4.8" fill="rgba(0,0,0,0.72)" stroke="rgba(150,150,150,0.55)" stroke-width="0.7"/>
<circle cx="536.28" cy="1557.74" r="4.8" fill="rgba(214,39,40,0.72)" stroke="rgba(150,150,150,0.55)" stroke-width="0.7"/>
<circle cx="547.37" cy="1548.98" r="4.8" fill="rgba(214,39,40,0.72)" stroke="rgba(150,150,150,0.55)" stroke-width="0.7"/>
<circle cx="567.91" cy="1506.7" r="4.8" fill="rgba(0,0,0,0.72)" stroke="rgba(150,150,150,0.55)" stroke-width="0.7"/>
<circle cx="554.32" cy="1547.08" r="4.8" fill="rgba(214,39,40,0.72)" stroke="rgba(150,150,150,0.55)" stroke-width="0.7"/>
<circle cx="547.66" cy="1531.46" r="4.8" fill="rgba(214,39,40,0.72)" stroke="rgba(150,150,150,0.55)" stroke-width="0.7"/>
<circle cx="534.86" cy="1542.34" r="4.8" fill="rgba(214,39,40,0.72)" stroke="rgba(150,150,150,0.55)" stroke-width="0.7"/>
<circle cx="582.71" cy="1556.1" r="4.8" fill="rgba(214,39,40,0.72)" stroke="rgba(150,150,150,0.55)" stroke-width="0.7"/>
<circle cx="571.65" cy="1546.17" r="4.8" fill="rgba(214,39,40,0.72)" stroke="rgba(150,150,150,0.55)" stroke-width="0.7"/>
<circle cx="601.01" cy="1498.98" r="4.8" fill="rgba(0,0,0,0.72)" stroke="rgba(150,150,150,0.55)" stroke-width="0.7"/>
<circle cx="520.33" cy="1576.33" r="4.8" fill="rgba(0,0,0,0.72)" stroke="rgba(150,150,150,0.55)" stroke-width="0.7"/>
<circle cx="607.53" cy="1559.33" r="4.8" fill="rgba(214,39,40,0.72)" stroke="rgba(150,150,150,0.55)" stroke-width="0.7"/>
<circle cx="631.94" cy="1495.8" r="4.8" fill="rgba(0,0,0,0.72)" stroke="rgba(150,150,150,0.55)" stroke-width="0.7"/>
<circle cx="577.07" cy="1428.62" r="4.8" fill="rgba(0,0,0,0.72)" stroke="rgba(150,150,150,0.55)" stroke-width="0.7"/>
<circle cx="552.15" cy="1484.77" r="4.8" fill="rgba(0,0,0,0.72)" stroke="rgba(150,150,150,0.55)" stroke-width="0.7"/>
<circle cx="511.23" cy="1521.2" r="4.8" fill="rgba(0,0,0,0.72)" stroke="rgba(150,150,150,0.55)" stroke-width="0.7"/>
<circle cx="563.87" cy="1522.85" r="4.8" fill="rgba(214,39,40,0.72)" stroke="rgba(150,150,150,0.55)" stroke-width="0.7"/>
<circle cx="515.86" cy="1546.85" r="4.8" fill="rgba(214,39,40,0.72)" stroke="rgba(150,150,150,0.55)" stroke-width="0.7"/>
<circle cx="566.98" cy="1562.95" r="4.8" fill="rgba(214,39,40,0.72)" stroke="rgba(150,150,150,0.55)" stroke-width="0.7"/>
<circle cx="576.16" cy="1560.81" r="4.8" fill="rgba(214,39,40,0.72)" stroke="rgba(150,150,150,0.55)" stroke-width="0.7"/>
<circle cx="581.94" cy="1535.58" r="4.8" fill="rgba(214,39,40,0.72)" stroke="rgba(150,150,150,0.55)" stroke-width="0.7"/>
<circle cx="513.73" cy="1493.36" r="4.8" fill="rgba(0,0,0,0.72)" stroke="rgba(150,150,150,0.55)" stroke-width="0.7"/>
<circle cx="496.73" cy="1543.6" r="4.8" fill="rgba(0,0,0,0.72)" stroke="rgba(150,150,150,0.55)" stroke-width="0.7"/>
<circle cx="598.02" cy="1520.58" r="4.8" fill="rgba(0,0,0,0.72)" stroke="rgba(150,150,150,0.55)" stroke-width="0.7"/>
<circle cx="569.51" cy="1516.22" r="4.8" fill="rgba(214,39,40,0.72)" stroke="rgba(150,150,150,0.55)" stroke-width="0.7"/>
<circle cx="536.74" cy="1492.11" r="4.8" fill="rgba(0,0,0,0.72)" stroke="rgba(150,150,150,0.55)" stroke-width="0.7"/>
<circle cx="637.73" cy="1499.6" r="4.8" fill="rgba(0,0,0,0.72)" stroke="rgba(150,150,150,0.55)" stroke-width="0.7"/>
<circle cx="506.79" cy="1460.54" r="4.8" fill="rgba(214,39,40,0.72)" stroke="rgba(150,150,150,0.55)" stroke-width="0.7"/>
<circle cx="486.97" cy="1553.72" r="4.8" fill="rgba(0,0,0,0.72)" stroke="rgba(150,150,150,0.55)" stroke-width="0.7"/>
<circle cx="618.78" cy="1489.72" r="4.8" fill="rgba(0,0,0,0.72)" stroke="rgba(150,150,150,0.55)" stroke-width="0.7"/>
<circle cx="541.14" cy="1583.96" r="4.8" fill="rgba(0,0,0,0.72)" stroke="rgba(150,150,150,0.55)" stroke-width="0.7"/>
<circle cx="503.23" cy="1554.1" r="4.8" fill="rgba(0,0,0,0.72)" stroke="rgba(150,150,150,0.55)" stroke-width="0.7"/>
<circle cx="612.8" cy="1530.73" r="4.8" fill="rgba(214,39,40,0.72)" stroke="rgba(150,150,150,0.55)" stroke-width="0.7"/>
<circle cx="606.53" cy="1527.02" r="4.8" fill="rgba(214,39,40,0.72)" stroke="rgba(150,150,150,0.55)" stroke-width="0.7"/>
<circle cx="540.68" cy="1553.72" r="4.8" fill="rgba(214,39,40,0.72)" stroke="rgba(150,150,150,0.55)" stroke-width="0.7"/>
<circle cx="578.38" cy="1488.92" r="4.8" fill="rgba(0,0,0,0.72)" stroke="rgba(150,150,150,0.55)" stroke-width="0.7"/>
<circle cx="594.82" cy="1559.91" r="4.8" fill="rgba(214,39,40,0.72)" stroke="rgba(150,150,150,0.55)" stroke-width="0.7"/>
<circle cx="501.28" cy="1533.93" r="4.8" fill="rgba(0,0,0,0.72)" stroke="rgba(150,150,150,0.55)" stroke-width="0.7"/>
<circle cx="559.91" cy="1481.98" r="4.8" fill="rgba(0,0,0,0.72)" stroke="rgba(150,150,150,0.55)" stroke-width="0.7"/>
<circle cx="538.81" cy="1568.7" r="4.8" fill="rgba(214,39,40,0.72)" stroke="rgba(150,150,150,0.55)" stroke-width="0.7"/>
<circle cx="620.1" cy="1518.6" r="4.8" fill="rgba(0,0,0,0.72)" stroke="rgba(150,150,150,0.55)" stroke-width="0.7"/>
<circle cx="587.23" cy="1547.34" r="4.8" fill="rgba(0,0,0,0.72)" stroke="rgba(150,150,150,0.55)" stroke-width="0.7"/>
<circle cx="543.34" cy="1522.85" r="4.8" fill="rgba(0,0,0,0.72)" stroke="rgba(150,150,150,0.55)" stroke-width="0.7"/>
<circle cx="492.99" cy="1543.58" r="4.8" fill="rgba(0,0,0,0.72)" stroke="rgba(150,150,150,0.55)" stroke-width="0.7"/>
<circle cx="611.75" cy="1511.79" r="4.8" fill="rgba(214,39,40,0.72)" stroke="rgba(150,150,150,0.55)" stroke-width="0.7"/>
<circle cx="584.4" cy="1495.44" r="4.8" fill="rgba(0,0,0,0.72)" stroke="rgba(150,150,150,0.55)" stroke-width="0.7"/>
<circle cx="571.96" cy="1510.84" r="4.8" fill="rgba(0,0,0,0.72)" stroke="rgba(150,150,150,0.55)" stroke-width="0.7"/>
<circle cx="552.26" cy="1562.41" r="4.8" fill="rgba(214,39,40,0.72)" stroke="rgba(150,150,150,0.55)" stroke-width="0.7"/>
<circle cx="510.87" cy="1495.8" r="4.8" fill="rgba(214,39,40,0.72)" stroke="rgba(150,150,150,0.55)" stroke-width="0.7"/>
<circle cx="547.57" cy="1520.5" r="4.8" fill="rgba(0,0,0,0.72)" stroke="rgba(150,150,150,0.55)" stroke-width="0.7"/>
<circle cx="528.09" cy="1536.92" r="4.8" fill="rgba(214,39,40,0.72)" stroke="rgba(150,150,150,0.55)" stroke-width="0.7"/>
<circle cx="519.32" cy="1565.47" r="4.8" fill="rgba(214,39,40,0.72)" stroke="rgba(150,150,150,0.55)" stroke-width="0.7"/>
<circle cx="606.4" cy="1521.9" r="4.8" fill="rgba(0,0,0,0.72)" stroke="rgba(150,150,150,0.55)" stroke-width="0.7"/>
<circle cx="565.55" cy="1552.62" r="4.8" fill="rgba(214,39,40,0.72)" stroke="rgba(150,150,150,0.55)" stroke-width="0.7"/>
<circle cx="473.76" cy="1493.67" r="4.8" fill="rgba(0,0,0,0.72)" stroke="rgba(150,150,150,0.55)" stroke-width="0.7"/>
<circle cx="531.02" cy="1517.09" r="4.8" fill="rgba(0,0,0,0.72)" stroke="rgba(150,150,150,0.55)" stroke-width="0.7"/>
<circle cx="604.75" cy="1534.21" r="4.8" fill="rgba(214,39,40,0.72)" stroke="rgba(150,150,150,0.55)" stroke-width="0.7"/>
<circle cx="584.57" cy="1483.64" r="4.8" fill="rgba(214,39,40,0.72)" stroke="rgba(150,150,150,0.55)" stroke-width="0.7"/>
<circle cx="526.08" cy="1481.18" r="4.8" fill="rgba(0,0,0,0.72)" stroke="rgba(150,150,150,0.55)" stroke-width="0.7"/>
<circle cx="580.4" cy="1543.34" r="4.8" fill="rgba(214,39,40,0.72)" stroke="rgba(150,150,150,0.55)" stroke-width="0.7"/>
<circle cx="503.48" cy="1561.76" r="4.8" fill="rgba(0,0,0,0.72)" stroke="rgba(150,150,150,0.55)" stroke-width="0.7"/>
<circle cx="580.77" cy="1527.88" r="4.8" fill="rgba(0,0,0,0.72)" stroke="rgba(150,150,150,0.55)" stroke-width="0.7"/>
<circle cx="585.65" cy="1510.59" r="4.8" fill="rgba(214,39,40,0.72)" stroke="rgba(150,150,150,0.55)" stroke-width="0.7"/>
<circle cx="482.71" cy="1474.52" r="4.8" fill="rgba(0,0,0,0.72)" stroke="rgba(150,150,150,0.55)" stroke-width="0.7"/>
<circle cx="520.8" cy="1556.53" r="4.8" fill="rgba(0,0,0,0.72)" stroke="rgba(150,150,150,0.55)" stroke-width="0.7"/>
<circle cx="501.95" cy="1543.67" r="4.8" fill="rgba(0,0,0,0.72)" stroke="rgba(150,150,150,0.55)" stroke-width="0.7"/>
<circle cx="661.16" cy="1548.7" r="4.8" fill="rgba(0,0,0,0.72)" stroke="rgba(150,150,150,0.55)" stroke-width="0.7"/>
<circle cx="539.71" cy="1553.5" r="4.8" fill="rgba(214,39,40,0.72)" stroke="rgba(150,150,150,0.55)" stroke-width="0.7"/>
<circle cx="594.64" cy="1503.01" r="4.8" fill="rgba(0,0,0,0.72)" stroke="rgba(150,150,150,0.55)" stroke-width="0.7"/>
<circle cx="530.29" cy="1524.29" r="4.8" fill="rgba(214,39,40,0.72)" stroke="rgba(150,150,150,0.55)" stroke-width="0.7"/>
<circle cx="489.6" cy="1557.85" r="4.8" fill="rgba(0,0,0,0.72)" stroke="rgba(150,150,150,0.55)" stroke-width="0.7"/>
<circle cx="513.67" cy="1519.99" r="4.8" fill="rgba(214,39,40,0.72)" stroke="rgba(150,150,150,0.55)" stroke-width="0.7"/>
<circle cx="547.45" cy="1541.1" r="4.8" fill="rgba(214,39,40,0.72)" stroke="rgba(150,150,150,0.55)" stroke-width="0.7"/>
<circle cx="523.89" cy="1491.67" r="4.8" fill="rgba(214,39,40,0.72)" stroke="rgba(150,150,150,0.55)" stroke-width="0.7"/>
<circle cx="525.81" cy="1504.59" r="4.8" fill="rgba(0,0,0,0.72)" stroke="rgba(150,150,150,0.55)" stroke-width="0.7"/>
<circle cx="548.51" cy="1455.67" r="4.8" fill="rgba(0,0,0,0.72)" stroke="rgba(150,150,150,0.55)" stroke-width="0.7"/>
<circle cx="581.25" cy="1535.52" r="4.8" fill="rgba(214,39,40,0.72)" stroke="rgba(150,150,150,0.55)" stroke-width="0.7"/>
<circle cx="569.92" cy="1540.73" r="4.8" fill="rgba(214,39,40,0.72)" stroke="rgba(150,150,150,0.55)" stroke-width="0.7"/>
<circle cx="529.09" cy="1524.93" r="4.8" fill="rgba(214,39,40,0.72)" stroke="rgba(150,150,150,0.55)" stroke-width="0.7"/>
<circle cx="581.94" cy="1506.18" r="4.8" fill="rgba(0,0,0,0.72)" stroke="rgba(150,150,150,0.55)" stroke-width="0.7"/>
<circle cx="554.59" cy="1528.1" r="4.8" fill="rgba(214,39,40,0.72)" stroke="rgba(150,150,150,0.55)" stroke-width="0.7"/>
<circle cx="584.26" cy="1515.44" r="4.8" fill="rgba(0,0,0,0.72)" stroke="rgba(150,150,150,0.55)" stroke-width="0.7"/>
<circle cx="534.42" cy="1556.41" r="4.8" fill="rgba(214,39,40,0.72)" stroke="rgba(150,150,150,0.55)" stroke-width="0.7"/>
<circle cx="571.85" cy="1566.38" r="4.8" fill="rgba(0,0,0,0.72)" stroke="rgba(150,150,150,0.55)" stroke-width="0.7"/>
<circle cx="578.94" cy="1512.89" r="4.8" fill="rgba(0,0,0,0.72)" stroke="rgba(150,150,150,0.55)" stroke-width="0.7"/>
<circle cx="528.11" cy="1559.04" r="4.8" fill="rgba(0,0,0,0.72)" stroke="rgba(150,150,150,0.55)" stroke-width="0.7"/>
<circle cx="548.21" cy="1553.9" r="4.8" fill="rgba(0,0,0,0.72)" stroke="rgba(150,150,150,0.55)" stroke-width="0.7"/>
<circle cx="523.59" cy="1514.17" r="4.8" fill="rgba(214,39,40,0.72)" stroke="rgba(150,150,150,0.55)" stroke-width="0.7"/>
<circle cx="515.91" cy="1530.17" r="4.8" fill="rgba(0,0,0,0.72)" stroke="rgba(150,150,150,0.55)" stroke-width="0.7"/>
<circle cx="546.87" cy="1493.47" r="4.8" fill="rgba(214,39,40,0.72)" stroke="rgba(150,150,150,0.55)" stroke-width="0.7"/>
<circle cx="517.74" cy="1527.26" r="4.8" fill="rgba(214,39,40,0.72)" stroke="rgba(150,150,150,0.55)" stroke-width="0.7"/>
<circle cx="618.39" cy="1471.02" r="4.8" fill="rgba(214,39,40,0.72)" stroke="rgba(150,150,150,0.55)" stroke-width="0.7"/>
<circle cx="554.75" cy="1517.98" r="4.8" fill="rgba(214,39,40,0.72)" stroke="rgba(150,150,150,0.55)" stroke-width="0.7"/>
<circle cx="588.03" cy="1505.13" r="4.8" fill="rgba(0,0,0,0.72)" stroke="rgba(150,150,150,0.55)" stroke-width="0.7"/>
<circle cx="539.73" cy="1539.41" r="4.8" fill="rgba(0,0,0,0.72)" stroke="rgba(150,150,150,0.55)" stroke-width="0.7"/>
<circle cx="575.25" cy="1538.33" r="4.8" fill="rgba(214,39,40,0.72)" stroke="rgba(150,150,150,0.55)" stroke-width="0.7"/>
<circle cx="510.09" cy="1554.2" r="4.8" fill="rgba(0,0,0,0.72)" stroke="rgba(150,150,150,0.55)" stroke-width="0.7"/>
<circle cx="657.87" cy="1628.04" r="4.8" fill="rgba(214,39,40,0.72)" stroke="rgba(150,150,150,0.55)" stroke-width="0.7"/>
<circle cx="575.02" cy="1547.79" r="4.8" fill="rgba(214,39,40,0.72)" stroke="rgba(150,150,150,0.55)" stroke-width="0.7"/>
<circle cx="669.06" cy="1510.85" r="4.8" fill="rgba(0,0,0,0.72)" stroke="rgba(150,150,150,0.55)" stroke-width="0.7"/>
<circle cx="641.16" cy="1577.73" r="4.8" fill="rgba(214,39,40,0.72)" stroke="rgba(150,150,150,0.55)" stroke-width="0.7"/>
<circle cx="537.34" cy="1517.19" r="4.8" fill="rgba(0,0,0,0.72)" stroke="rgba(150,150,150,0.55)" stroke-width="0.7"/>
<circle cx="511.56" cy="1545.86" r="4.8" fill="rgba(0,0,0,0.72)" stroke="rgba(150,150,150,0.55)" stroke-width="0.7"/>
<circle cx="501.45" cy="1572.68" r="4.8" fill="rgba(214,39,40,0.72)" stroke="rgba(150,150,150,0.55)" stroke-width="0.7"/>
<circle cx="592.16" cy="1542.8" r="4.8" fill="rgba(214,39,40,0.72)" stroke="rgba(150,150,150,0.55)" stroke-width="0.7"/>
<circle cx="496.04" cy="1574.01" r="4.8" fill="rgba(0,0,0,0.72)" stroke="rgba(150,150,150,0.55)" stroke-width="0.7"/>
<circle cx="562.76" cy="1547.01" r="4.8" fill="rgba(0,0,0,0.72)" stroke="rgba(150,150,150,0.55)" stroke-width="0.7"/>
<circle cx="567.23" cy="1545.03" r="4.8" fill="rgba(214,39,40,0.72)" stroke="rgba(150,150,150,0.55)" stroke-width="0.7"/>
<circle cx="505.59" cy="1569.43" r="4.8" fill="rgba(0,0,0,0.72)" stroke="rgba(150,150,150,0.55)" stroke-width="0.7"/>
<circle cx="619.27" cy="1516.69" r="4.8" fill="rgba(0,0,0,0.72)" stroke="rgba(150,150,150,0.55)" stroke-width="0.7"/>
<circle cx="505.75" cy="1554.46" r="4.8" fill="rgba(0,0,0,0.72)" stroke="rgba(150,150,150,0.55)" stroke-width="0.7"/>
<circle cx="616.99" cy="1503.83" r="4.8" fill="rgba(0,0,0,0.72)" stroke="rgba(150,150,150,0.55)" stroke-width="0.7"/>
<circle cx="504.62" cy="1538.95" r="4.8" fill="rgba(0,0,0,0.72)" stroke="rgba(150,150,150,0.55)" stroke-width="0.7"/>
<circle cx="531.72" cy="1532.55" r="4.8" fill="rgba(214,39,40,0.72)" stroke="rgba(150,150,150,0.55)" stroke-width="0.7"/>
<circle cx="575.75" cy="1530.46" r="4.8" fill="rgba(0,0,0,0.72)" stroke="rgba(150,150,150,0.55)" stroke-width="0.7"/>
<circle cx="572.7" cy="1547.29" r="4.8" fill="rgba(214,39,40,0.72)" stroke="rgba(150,150,150,0.55)" stroke-width="0.7"/>
<circle cx="514.56" cy="1512.64" r="4.8" fill="rgba(214,39,40,0.72)" stroke="rgba(150,150,150,0.55)" stroke-width="0.7"/>
<circle cx="532.71" cy="1540.39" r="4.8" fill="rgba(214,39,40,0.72)" stroke="rgba(150,150,150,0.55)" stroke-width="0.7"/>
<circle cx="608.59" cy="1533.52" r="4.8" fill="rgba(0,0,0,0.72)" stroke="rgba(150,150,150,0.55)" stroke-width="0.7"/>
<circle cx="500.69" cy="1516.82" r="4.8" fill="rgba(214,39,40,0.72)" stroke="rgba(150,150,150,0.55)" stroke-width="0.7"/>
<circle cx="568.06" cy="1552.93" r="4.8" fill="rgba(0,0,0,0.72)" stroke="rgba(150,150,150,0.55)" stroke-width="0.7"/>
<circle cx="564.61" cy="1547.63" r="4.8" fill="rgba(0,0,0,0.72)" stroke="rgba(150,150,150,0.55)" stroke-width="0.7"/>
<circle cx="527" cy="1548.21" r="4.8" fill="rgba(214,39,40,0.72)" stroke="rgba(150,150,150,0.55)" stroke-width="0.7"/>
<circle cx="581.33" cy="1503.39" r="4.8" fill="rgba(0,0,0,0.72)" stroke="rgba(150,150,150,0.55)" stroke-width="0.7"/>
<circle cx="581.83" cy="1542.41" r="4.8" fill="rgba(0,0,0,0.72)" stroke="rgba(150,150,150,0.55)" stroke-width="0.7"/>
<circle cx="567" cy="1500.72" r="4.8" fill="rgba(0,0,0,0.72)" stroke="rgba(150,150,150,0.55)" stroke-width="0.7"/>
<circle cx="581.86" cy="1493.82" r="4.8" fill="rgba(0,0,0,0.72)" stroke="rgba(150,150,150,0.55)" stroke-width="0.7"/>
<circle cx="520.53" cy="1523.09" r="4.8" fill="rgba(0,0,0,0.72)" stroke="rgba(150,150,150,0.55)" stroke-width="0.7"/>
<circle cx="507.82" cy="1518.76" r="4.8" fill="rgba(0,0,0,0.72)" stroke="rgba(150,150,150,0.55)" stroke-width="0.7"/>
<circle cx="517.94" cy="1520.76" r="4.8" fill="rgba(214,39,40,0.72)" stroke="rgba(150,150,150,0.55)" stroke-width="0.7"/>
<circle cx="503.17" cy="1566.43" r="4.8" fill="rgba(0,0,0,0.72)" stroke="rgba(150,150,150,0.55)" stroke-width="0.7"/>
<circle cx="555.71" cy="1533.75" r="4.8" fill="rgba(214,39,40,0.72)" stroke="rgba(150,150,150,0.55)" stroke-width="0.7"/>
<circle cx="501.66" cy="1494.28" r="4.8" fill="rgba(0,0,0,0.72)" stroke="rgba(150,150,150,0.55)" stroke-width="0.7"/>
<circle cx="498.97" cy="1556.86" r="4.8" fill="rgba(0,0,0,0.72)" stroke="rgba(150,150,150,0.55)" stroke-width="0.7"/>
<circle cx="498.17" cy="1553.3" r="4.8" fill="rgba(214,39,40,0.72)" stroke="rgba(150,150,150,0.55)" stroke-width="0.7"/>
<circle cx="652.21" cy="1542.01" r="4.8" fill="rgba(0,0,0,0.72)" stroke="rgba(150,150,150,0.55)" stroke-width="0.7"/>
<circle cx="548.19" cy="1548.93" r="4.8" fill="rgba(214,39,40,0.72)" stroke="rgba(150,150,150,0.55)" stroke-width="0.7"/>
<circle cx="538.67" cy="1526.55" r="4.8" fill="rgba(214,39,40,0.72)" stroke="rgba(150,150,150,0.55)" stroke-width="0.7"/>
<circle cx="513.2" cy="1496.77" r="4.8" fill="rgba(214,39,40,0.72)" stroke="rgba(150,150,150,0.55)" stroke-width="0.7"/>
<circle cx="522.72" cy="1474.52" r="4.8" fill="rgba(0,0,0,0.72)" stroke="rgba(150,150,150,0.55)" stroke-width="0.7"/>
<circle cx="477.71" cy="1516.32" r="4.8" fill="rgba(0,0,0,0.72)" stroke="rgba(150,150,150,0.55)" stroke-width="0.7"/>
<circle cx="588.36" cy="1565.4" r="4.8" fill="rgba(0,0,0,0.72)" stroke="rgba(150,150,150,0.55)" stroke-width="0.7"/>
<circle cx="573.81" cy="1562.98" r="4.8" fill="rgba(214,39,40,0.72)" stroke="rgba(150,150,150,0.55)" stroke-width="0.7"/>
<circle cx="612.2" cy="1486.68" r="4.8" fill="rgba(0,0,0,0.72)" stroke="rgba(150,150,150,0.55)" stroke-width="0.7"/>
<circle cx="556.23" cy="1542.06" r="4.8" fill="rgba(0,0,0,0.72)" stroke="rgba(150,150,150,0.55)" stroke-width="0.7"/>
<circle cx="501.81" cy="1551.6" r="4.8" fill="rgba(0,0,0,0.72)" stroke="rgba(150,150,150,0.55)" stroke-width="0.7"/>
<circle cx="545.4" cy="1534.48" r="4.8" fill="rgba(214,39,40,0.72)" stroke="rgba(150,150,150,0.55)" stroke-width="0.7"/>
<circle cx="519.74" cy="1546.44" r="4.8" fill="rgba(214,39,40,0.72)" stroke="rgba(150,150,150,0.55)" stroke-width="0.7"/>
<circle cx="584.7" cy="1455.06" r="4.8" fill="rgba(0,0,0,0.72)" stroke="rgba(150,150,150,0.55)" stroke-width="0.7"/>
<circle cx="546.55" cy="1528.62" r="4.8" fill="rgba(214,39,40,0.72)" stroke="rgba(150,150,150,0.55)" stroke-width="0.7"/>
<circle cx="565.83" cy="1538.17" r="4.8" fill="rgba(0,0,0,0.72)" stroke="rgba(150,150,150,0.55)" stroke-width="0.7"/>
<circle cx="512.28" cy="1522.62" r="4.8" fill="rgba(214,39,40,0.72)" stroke="rgba(150,150,150,0.55)" stroke-width="0.7"/>
<circle cx="520.44" cy="1518.21" r="4.8" fill="rgba(214,39,40,0.72)" stroke="rgba(150,150,150,0.55)" stroke-width="0.7"/>
<circle cx="516.59" cy="1520.88" r="4.8" fill="rgba(214,39,40,0.72)" stroke="rgba(150,150,150,0.55)" stroke-width="0.7"/>
<circle cx="467.05" cy="1513.74" r="4.8" fill="rgba(214,39,40,0.72)" stroke="rgba(150,150,150,0.55)" stroke-width="0.7"/>
<circle cx="576.49" cy="1539.22" r="4.8" fill="rgba(0,0,0,0.72)" stroke="rgba(150,150,150,0.55)" stroke-width="0.7"/>
<circle cx="580" cy="1552" r="4.8" fill="rgba(214,39,40,0.72)" stroke="rgba(150,150,150,0.55)" stroke-width="0.7"/>
<circle cx="538.02" cy="1500.19" r="4.8" fill="rgba(0,0,0,0.72)" stroke="rgba(150,150,150,0.55)" stroke-width="0.7"/>
<circle cx="578.6" cy="1496.42" r="4.8" fill="rgba(0,0,0,0.72)" stroke="rgba(150,150,150,0.55)" stroke-width="0.7"/>
<circle cx="578.23" cy="1532.93" r="4.8" fill="rgba(0,0,0,0.72)" stroke="rgba(150,150,150,0.55)" stroke-width="0.7"/>
<circle cx="498.66" cy="1552.53" r="4.8" fill="rgba(0,0,0,0.72)" stroke="rgba(150,150,150,0.55)" stroke-width="0.7"/>
<circle cx="566.06" cy="1544.15" r="4.8" fill="rgba(214,39,40,0.72)" stroke="rgba(150,150,150,0.55)" stroke-width="0.7"/>
<circle cx="542.93" cy="1538.85" r="4.8" fill="rgba(0,0,0,0.72)" stroke="rgba(150,150,150,0.55)" stroke-width="0.7"/>
<circle cx="578.84" cy="1528.23" r="4.8" fill="rgba(0,0,0,0.72)" stroke="rgba(150,150,150,0.55)" stroke-width="0.7"/>
<circle cx="544.11" cy="1514.21" r="4.8" fill="rgba(0,0,0,0.72)" stroke="rgba(150,150,150,0.55)" stroke-width="0.7"/>
<circle cx="609.44" cy="1497.9" r="4.8" fill="rgba(0,0,0,0.72)" stroke="rgba(150,150,150,0.55)" stroke-width="0.7"/>
<circle cx="507.92" cy="1514.6" r="4.8" fill="rgba(0,0,0,0.72)" stroke="rgba(150,150,150,0.55)" stroke-width="0.7"/>
<circle cx="564.75" cy="1574.29" r="4.8" fill="rgba(214,39,40,0.72)" stroke="rgba(150,150,150,0.55)" stroke-width="0.7"/>
<circle cx="516.83" cy="1496.31" r="4.8" fill="rgba(214,39,40,0.72)" stroke="rgba(150,150,150,0.55)" stroke-width="0.7"/>
<circle cx="592.79" cy="1525.87" r="4.8" fill="rgba(0,0,0,0.72)" stroke="rgba(150,150,150,0.55)" stroke-width="0.7"/>
<circle cx="515.48" cy="1553.31" r="4.8" fill="rgba(0,0,0,0.72)" stroke="rgba(150,150,150,0.55)" stroke-width="0.7"/>
<circle cx="599.76" cy="1541.06" r="4.8" fill="rgba(0,0,0,0.72)" stroke="rgba(150,150,150,0.55)" stroke-width="0.7"/>
<circle cx="585.58" cy="1554.72" r="4.8" fill="rgba(214,39,40,0.72)" stroke="rgba(150,150,150,0.55)" stroke-width="0.7"/>
<circle cx="508.84" cy="1524.98" r="4.8" fill="rgba(0,0,0,0.72)" stroke="rgba(150,150,150,0.55)" stroke-width="0.7"/>
<circle cx="538.51" cy="1479.08" r="4.8" fill="rgba(0,0,0,0.72)" stroke="rgba(150,150,150,0.55)" stroke-width="0.7"/>
<circle cx="679.06" cy="1561.46" r="4.8" fill="rgba(214,39,40,0.72)" stroke="rgba(150,150,150,0.55)" stroke-width="0.7"/>
<circle cx="504.53" cy="1559.82" r="4.8" fill="rgba(0,0,0,0.72)" stroke="rgba(150,150,150,0.55)" stroke-width="0.7"/>
<circle cx="588.79" cy="1515.46" r="4.8" fill="rgba(0,0,0,0.72)" stroke="rgba(150,150,150,0.55)" stroke-width="0.7"/>
<circle cx="569.62" cy="1522.24" r="4.8" fill="rgba(214,39,40,0.72)" stroke="rgba(150,150,150,0.55)" stroke-width="0.7"/>
<circle cx="501.23" cy="1570.12" r="4.8" fill="rgba(214,39,40,0.72)" stroke="rgba(150,150,150,0.55)" stroke-width="0.7"/>
<circle cx="490.49" cy="1542.29" r="4.8" fill="rgba(0,0,0,0.72)" stroke="rgba(150,150,150,0.55)" stroke-width="0.7"/>
<circle cx="559.2" cy="1520.97" r="4.8" fill="rgba(214,39,40,0.72)" stroke="rgba(150,150,150,0.55)" stroke-width="0.7"/>
<circle cx="550.59" cy="1544.7" r="4.8" fill="rgba(214,39,40,0.72)" stroke="rgba(150,150,150,0.55)" stroke-width="0.7"/>
<circle cx="510.87" cy="1485.16" r="4.8" fill="rgba(0,0,0,0.72)" stroke="rgba(150,150,150,0.55)" stroke-width="0.7"/>
<circle cx="588.33" cy="1511.27" r="4.8" fill="rgba(0,0,0,0.72)" stroke="rgba(150,150,150,0.55)" stroke-width="0.7"/>
<circle cx="679.32" cy="1564.2" r="4.8" fill="rgba(214,39,40,0.72)" stroke="rgba(150,150,150,0.55)" stroke-width="0.7"/>
<circle cx="494.9" cy="1549.43" r="4.8" fill="rgba(0,0,0,0.72)" stroke="rgba(150,150,150,0.55)" stroke-width="0.7"/>
<circle cx="510.76" cy="1549.58" r="4.8" fill="rgba(0,0,0,0.72)" stroke="rgba(150,150,150,0.55)" stroke-width="0.7"/>
<circle cx="610.55" cy="1563.02" r="4.8" fill="rgba(214,39,40,0.72)" stroke="rgba(150,150,150,0.55)" stroke-width="0.7"/>
<circle cx="568.14" cy="1533.52" r="4.8" fill="rgba(214,39,40,0.72)" stroke="rgba(150,150,150,0.55)" stroke-width="0.7"/>
<circle cx="576.44" cy="1558.49" r="4.8" fill="rgba(214,39,40,0.72)" stroke="rgba(150,150,150,0.55)" stroke-width="0.7"/>
<circle cx="616.77" cy="1529.49" r="4.8" fill="rgba(214,39,40,0.72)" stroke="rgba(150,150,150,0.55)" stroke-width="0.7"/>
<circle cx="516.75" cy="1549.46" r="4.8" fill="rgba(0,0,0,0.72)" stroke="rgba(150,150,150,0.55)" stroke-width="0.7"/>
<circle cx="588.52" cy="1473" r="4.8" fill="rgba(0,0,0,0.72)" stroke="rgba(150,150,150,0.55)" stroke-width="0.7"/>
<circle cx="536.68" cy="1521.35" r="4.8" fill="rgba(214,39,40,0.72)" stroke="rgba(150,150,150,0.55)" stroke-width="0.7"/>
<circle cx="591.18" cy="1497.68" r="4.8" fill="rgba(0,0,0,0.72)" stroke="rgba(150,150,150,0.55)" stroke-width="0.7"/>
<circle cx="533.44" cy="1516.21" r="4.8" fill="rgba(0,0,0,0.72)" stroke="rgba(150,150,150,0.55)" stroke-width="0.7"/>
<circle cx="566.14" cy="1551.26" r="4.8" fill="rgba(0,0,0,0.72)" stroke="rgba(150,150,150,0.55)" stroke-width="0.7"/>
</g>
<rect x="454.3" y="1366.2" width="283.9" height="274.7" fill="none" stroke="#333" stroke-width="1.4"/>
<line x1="488.5" y1="1640.9" x2="488.5" y2="1647" stroke="#333" stroke-width="1.4"/>
<text x="485.5" y="1669.5" font-size="24.5" text-anchor="middle">−5</text>
<line x1="554.3" y1="1640.9" x2="554.3" y2="1647" stroke="#333" stroke-width="1.4"/>
<text x="554.3" y="1669.5" font-size="24.5" text-anchor="middle">0</text>
<line x1="620.1" y1="1640.9" x2="620.1" y2="1647" stroke="#333" stroke-width="1.4"/>
<text x="620.1" y="1669.5" font-size="24.5" text-anchor="middle">5</text>
<line x1="685.9" y1="1640.9" x2="685.9" y2="1647" stroke="#333" stroke-width="1.4"/>
<text x="685.9" y="1669.5" font-size="24.5" text-anchor="middle">10</text>
<line x1="448.3" y1="1381.8" x2="454.3" y2="1381.8" stroke="#333" stroke-width="1.4"/>
<text x="443" y="1390.6" font-size="24.5" text-anchor="end">10</text>
<line x1="448.3" y1="1457.8" x2="454.3" y2="1457.8" stroke="#333" stroke-width="1.4"/>
<text x="443" y="1466.6" font-size="24.5" text-anchor="end">5</text>
<line x1="448.3" y1="1533.8" x2="454.3" y2="1533.8" stroke="#333" stroke-width="1.4"/>
<text x="443" y="1542.6" font-size="24.5" text-anchor="end">0</text>
<line x1="448.3" y1="1609.8" x2="454.3" y2="1609.8" stroke="#333" stroke-width="1.4"/>
<text x="443" y="1618.6" font-size="24.5" text-anchor="end">−5</text>
<text x="597" y="1692.5" font-size="25" text-anchor="middle">PC1 (9.7%)</text>
<text x="420.5" y="1493" font-size="25" text-anchor="middle" transform="rotate(-90 420.5 1493)">PC2 (3.9%)</text>
<text x="602.4" y="1355.3" font-size="28.4" text-anchor="middle" font-style="italic">90-120 days</text>
<circle cx="598.8" cy="1377.3" r="4.8" fill="#000"/>
<circle cx="598.8" cy="1406.3" r="4.8" fill="#d62728"/>
<text x="610.5" y="1385.5" font-size="22">Neurotypical</text>
<text x="610.5" y="1414.5" font-size="22">MPSIIIA</text>
</svg></body></html>
